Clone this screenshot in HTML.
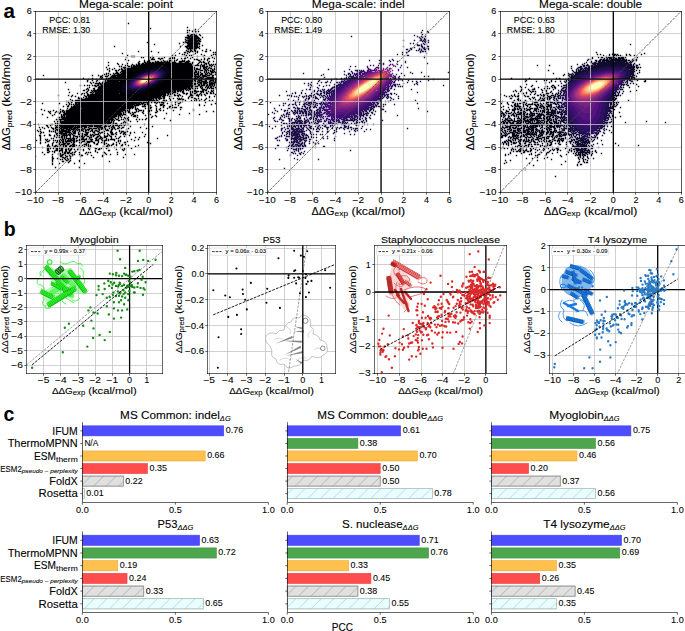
<!DOCTYPE html>
<html><head><meta charset="utf-8"><title>Figure</title><style>html,body{margin:0;padding:0;background:#fff;overflow:hidden}svg{display:block}</style></head>
<body><svg width="685" height="631" viewBox="0 0 685 631" font-family='"Liberation Sans", sans-serif'><defs><clipPath id="ca0"><rect x="35.50" y="11.20" width="181.10" height="181.20"/></clipPath><clipPath id="ca1"><rect x="267.40" y="11.20" width="181.80" height="181.20"/></clipPath><clipPath id="ca2"><rect x="500.00" y="11.20" width="181.30" height="181.20"/></clipPath><clipPath id="cb0"><rect x="26.60" y="245.30" width="135.50" height="128.00"/></clipPath><clipPath id="cb1"><rect x="207.80" y="245.30" width="127.70" height="128.00"/></clipPath><clipPath id="cb2"><rect x="374.30" y="245.30" width="132.50" height="128.00"/></clipPath><clipPath id="cb3"><rect x="549.30" y="245.30" width="136.30" height="128.00"/></clipPath><pattern id="hg" patternUnits="userSpaceOnUse" width="12.6" height="12.6" patternTransform="translate(0 0)"><path d="M-1 13.6L13.6 -1M-7.3 7.3L7.3 -7.3M5.3 19.9L19.9 5.3" stroke="#8c8c8c" stroke-width="0.55"/></pattern><pattern id="hc" patternUnits="userSpaceOnUse" width="12.6" height="12.6"><path d="M-1 13.6L13.6 -1M-7.3 7.3L7.3 -7.3M5.3 19.9L19.9 5.3" stroke="#9ab4b4" stroke-width="0.55"/></pattern></defs><rect width="685" height="631" fill="#fff"/><g clip-path="url(#ca0)"><path fill="#000004" transform="scale(0.2)" d="M639 114h7v7h-7zM934 134h7v7h-7zM749 139h7v7h-7zM974 144h7v7h-7zM934 149h7v7h-7zM944 149h7v7h-7zM964 149h7v7h-7zM959 154h7v7h-7zM974 154h7v7h-7zM989 154h7v7h-7zM934 159h7v7h-7zM934 164h7v7h-7zM944 164h7v7h-7zM979 164h7v7h-7zM954 169h12v7h-12zM969 169h7v7h-7zM994 169h7v7h-7zM934 174h12v7h-12zM949 174h12v7h-12zM964 174h22v7h-22zM999 174h7v7h-7zM939 179h52v7h-52zM924 184h72v7h-72zM1009 184h7v7h-7zM934 189h67v7h-67zM924 194h7v7h-7zM939 194h47v7h-47zM989 194h7v7h-7zM999 194h7v7h-7zM929 199h72v7h-72zM924 204h7v7h-7zM939 204h52v7h-52zM994 204h12v7h-12zM734 209h7v7h-7zM914 209h7v7h-7zM924 209h62v7h-62zM989 209h7v7h-7zM894 214h7v7h-7zM934 214h67v7h-67zM769 219h7v7h-7zM939 219h52v7h-52zM994 219h7v7h-7zM934 224h57v7h-57zM1009 224h7v7h-7zM569 229h7v7h-7zM899 229h7v7h-7zM924 229h67v7h-67zM994 229h7v7h-7zM929 234h12v7h-12zM944 234h52v7h-52zM934 239h52v7h-52zM994 239h7v7h-7zM939 244h7v7h-7zM949 244h7v7h-7zM964 244h12v7h-12zM1029 244h7v7h-7zM929 249h7v7h-7zM949 249h12v7h-12zM969 249h12v7h-12zM1009 249h7v7h-7zM1049 249h7v7h-7zM689 254h7v7h-7zM754 254h7v7h-7zM934 254h12v7h-12zM949 254h7v7h-7zM959 254h12v7h-12zM974 254h7v7h-7zM984 254h7v7h-7zM1024 254h12v7h-12zM789 259h7v7h-7zM919 259h12v7h-12zM944 259h7v7h-7zM984 259h7v7h-7zM1064 259h7v7h-7zM1074 259h7v7h-7zM609 264h7v7h-7zM894 264h7v7h-7zM934 264h7v7h-7zM974 264h7v7h-7zM909 269h7v7h-7zM919 269h7v7h-7zM964 269h7v7h-7zM1004 269h7v7h-7zM1064 269h7v7h-7zM1074 269h7v7h-7zM634 274h7v7h-7zM859 274h7v7h-7zM874 274h7v7h-7zM929 274h7v7h-7zM944 274h7v7h-7zM954 274h7v7h-7zM1019 274h7v7h-7zM1054 274h7v7h-7zM654 279h22v7h-22zM759 279h7v7h-7zM924 279h7v7h-7zM984 279h7v7h-7zM1014 279h7v7h-7zM1079 279h7v7h-7zM629 284h7v7h-7zM704 284h7v7h-7zM714 284h7v7h-7zM749 284h7v7h-7zM764 284h7v7h-7zM819 284h7v7h-7zM859 284h7v7h-7zM869 284h7v7h-7zM934 284h7v7h-7zM959 284h7v7h-7zM1059 284h7v7h-7zM759 289h7v7h-7zM789 289h12v7h-12zM804 289h12v7h-12zM844 289h12v7h-12zM859 289h7v7h-7zM869 289h7v7h-7zM904 289h7v7h-7zM919 289h12v7h-12zM949 289h7v7h-7zM1019 289h7v7h-7zM1039 289h12v7h-12zM1069 289h7v7h-7zM624 294h7v7h-7zM754 294h22v7h-22zM799 294h7v7h-7zM884 294h7v7h-7zM969 294h7v7h-7zM979 294h12v7h-12zM1004 294h7v7h-7zM1019 294h7v7h-7zM1034 294h7v7h-7zM639 299h7v7h-7zM719 299h7v7h-7zM744 299h7v7h-7zM814 299h7v7h-7zM844 299h17v7h-17zM869 299h7v7h-7zM879 299h7v7h-7zM909 299h7v7h-7zM919 299h7v7h-7zM939 299h7v7h-7zM989 299h12v7h-12zM1034 299h7v7h-7zM694 304h7v7h-7zM719 304h7v7h-7zM734 304h17v7h-17zM774 304h7v7h-7zM784 304h12v7h-12zM804 304h7v7h-7zM819 304h12v7h-12zM834 304h7v7h-7zM844 304h7v7h-7zM854 304h7v7h-7zM869 304h7v7h-7zM894 304h32v7h-32zM929 304h22v7h-22zM999 304h7v7h-7zM1014 304h7v7h-7zM1044 304h7v7h-7zM1064 304h7v7h-7zM539 309h7v7h-7zM689 309h7v7h-7zM719 309h12v7h-12zM734 309h22v7h-22zM759 309h12v7h-12zM774 309h77v7h-77zM854 309h27v7h-27zM894 309h17v7h-17zM924 309h22v7h-22zM959 309h12v7h-12zM994 309h7v7h-7zM1004 309h7v7h-7zM1014 309h12v7h-12zM1039 309h7v7h-7zM584 314h7v7h-7zM634 314h7v7h-7zM689 314h12v7h-12zM709 314h12v7h-12zM724 314h232v7h-232zM959 314h7v7h-7zM989 314h7v7h-7zM1024 314h12v7h-12zM1039 314h7v7h-7zM1079 314h7v7h-7zM589 319h7v7h-7zM609 319h7v7h-7zM659 319h7v7h-7zM679 319h7v7h-7zM689 319h12v7h-12zM704 319h257v7h-257zM984 319h7v7h-7zM1004 319h7v7h-7zM1019 319h7v7h-7zM1029 319h7v7h-7zM1044 319h7v7h-7zM1054 319h7v7h-7zM1064 319h7v7h-7zM1074 319h7v7h-7zM539 324h7v7h-7zM624 324h7v7h-7zM634 324h7v7h-7zM654 324h7v7h-7zM664 324h12v7h-12zM679 324h282v7h-282zM964 324h7v7h-7zM974 324h22v7h-22zM999 324h7v7h-7zM1009 324h17v7h-17zM1044 324h12v7h-12zM1059 324h7v7h-7zM594 329h7v7h-7zM604 329h7v7h-7zM639 329h12v7h-12zM654 329h7v7h-7zM664 329h127v7h-127zM824 329h142v7h-142zM999 329h7v7h-7zM1009 329h17v7h-17zM1029 329h12v7h-12zM1054 329h7v7h-7zM1069 329h7v7h-7zM529 334h7v7h-7zM614 334h17v7h-17zM654 334h107v7h-107zM839 334h127v7h-127zM969 334h7v7h-7zM999 334h7v7h-7zM1014 334h22v7h-22zM1044 334h7v7h-7zM1079 334h7v7h-7zM544 339h7v7h-7zM569 339h7v7h-7zM604 339h7v7h-7zM619 339h7v7h-7zM629 339h112v7h-112zM844 339h122v7h-122zM969 339h7v7h-7zM979 339h12v7h-12zM999 339h7v7h-7zM1014 339h12v7h-12zM1029 339h7v7h-7zM1039 339h7v7h-7zM1049 339h12v7h-12zM1069 339h7v7h-7zM534 344h7v7h-7zM559 344h7v7h-7zM594 344h7v7h-7zM604 344h12v7h-12zM624 344h102v7h-102zM849 344h117v7h-117zM969 344h7v7h-7zM979 344h22v7h-22zM1019 344h12v7h-12zM1034 344h7v7h-7zM1059 344h7v7h-7zM1069 344h7v7h-7zM1079 344h7v7h-7zM544 349h7v7h-7zM574 349h12v7h-12zM589 349h7v7h-7zM609 349h107v7h-107zM849 349h122v7h-122zM974 349h7v7h-7zM999 349h17v7h-17zM1024 349h12v7h-12zM1039 349h7v7h-7zM1049 349h7v7h-7zM1059 349h12v7h-12zM544 354h7v7h-7zM579 354h7v7h-7zM604 354h102v7h-102zM849 354h122v7h-122zM974 354h12v7h-12zM989 354h7v7h-7zM1019 354h7v7h-7zM1029 354h7v7h-7zM1049 354h17v7h-17zM1069 354h7v7h-7zM579 359h12v7h-12zM599 359h7v7h-7zM609 359h87v7h-87zM849 359h117v7h-117zM969 359h17v7h-17zM989 359h7v7h-7zM999 359h7v7h-7zM1019 359h7v7h-7zM1029 359h7v7h-7zM1039 359h7v7h-7zM1054 359h17v7h-17zM1074 359h12v7h-12zM529 364h7v7h-7zM539 364h7v7h-7zM564 364h7v7h-7zM574 364h22v7h-22zM604 364h82v7h-82zM849 364h127v7h-127zM984 364h12v7h-12zM1004 364h12v7h-12zM1024 364h7v7h-7zM1034 364h7v7h-7zM1044 364h7v7h-7zM1054 364h7v7h-7zM1079 364h7v7h-7zM519 369h7v7h-7zM529 369h7v7h-7zM549 369h7v7h-7zM569 369h7v7h-7zM584 369h92v7h-92zM844 369h152v7h-152zM999 369h17v7h-17zM1024 369h12v7h-12zM1049 369h12v7h-12zM1074 369h7v7h-7zM214 374h7v7h-7zM459 374h7v7h-7zM489 374h7v7h-7zM509 374h7v7h-7zM539 374h7v7h-7zM559 374h107v7h-107zM844 374h127v7h-127zM974 374h7v7h-7zM989 374h7v7h-7zM999 374h7v7h-7zM1009 374h22v7h-22zM1034 374h17v7h-17zM1059 374h12v7h-12zM499 379h12v7h-12zM524 379h17v7h-17zM554 379h27v7h-27zM584 379h77v7h-77zM839 379h162v7h-162zM1009 379h27v7h-27zM1059 379h7v7h-7zM499 384h7v7h-7zM509 384h7v7h-7zM549 384h102v7h-102zM834 384h127v7h-127zM964 384h7v7h-7zM974 384h7v7h-7zM984 384h12v7h-12zM999 384h12v7h-12zM1014 384h7v7h-7zM1034 384h37v7h-37zM414 389h7v7h-7zM459 389h7v7h-7zM504 389h7v7h-7zM529 389h7v7h-7zM539 389h17v7h-17zM559 389h87v7h-87zM829 389h157v7h-157zM994 389h7v7h-7zM1004 389h12v7h-12zM1024 389h47v7h-47zM1074 389h12v7h-12zM439 394h7v7h-7zM479 394h7v7h-7zM494 394h7v7h-7zM514 394h7v7h-7zM529 394h112v7h-112zM824 394h152v7h-152zM984 394h7v7h-7zM994 394h22v7h-22zM1019 394h7v7h-7zM1029 394h7v7h-7zM1039 394h17v7h-17zM1059 394h12v7h-12zM1079 394h7v7h-7zM434 399h7v7h-7zM459 399h7v7h-7zM484 399h7v7h-7zM524 399h7v7h-7zM534 399h102v7h-102zM819 399h162v7h-162zM989 399h22v7h-22zM1024 399h12v7h-12zM1049 399h22v7h-22zM1074 399h7v7h-7zM434 404h7v7h-7zM479 404h7v7h-7zM514 404h7v7h-7zM524 404h7v7h-7zM534 404h62v7h-62zM599 404h27v7h-27zM814 404h157v7h-157zM974 404h7v7h-7zM984 404h7v7h-7zM994 404h7v7h-7zM1004 404h32v7h-32zM1044 404h12v7h-12zM1064 404h7v7h-7zM1074 404h12v7h-12zM324 409h7v7h-7zM449 409h7v7h-7zM464 409h7v7h-7zM494 409h7v7h-7zM509 409h12v7h-12zM524 409h102v7h-102zM804 409h157v7h-157zM964 409h7v7h-7zM989 409h22v7h-22zM1014 409h27v7h-27zM1044 409h7v7h-7zM1054 409h12v7h-12zM1069 409h12v7h-12zM454 414h7v7h-7zM474 414h32v7h-32zM509 414h112v7h-112zM799 414h167v7h-167zM969 414h12v7h-12zM984 414h7v7h-7zM999 414h12v7h-12zM1014 414h22v7h-22zM1044 414h32v7h-32zM1079 414h7v7h-7zM489 419h7v7h-7zM499 419h12v7h-12zM514 419h102v7h-102zM789 419h172v7h-172zM964 419h17v7h-17zM989 419h12v7h-12zM1004 419h7v7h-7zM1014 419h12v7h-12zM1034 419h7v7h-7zM1044 419h22v7h-22zM1069 419h7v7h-7zM1079 419h7v7h-7zM399 424h7v7h-7zM419 424h7v7h-7zM434 424h7v7h-7zM444 424h7v7h-7zM459 424h7v7h-7zM469 424h12v7h-12zM484 424h12v7h-12zM504 424h107v7h-107zM784 424h187v7h-187zM989 424h12v7h-12zM1004 424h22v7h-22zM1029 424h12v7h-12zM1044 424h12v7h-12zM1059 424h7v7h-7zM1069 424h7v7h-7zM474 429h12v7h-12zM494 429h117v7h-117zM774 429h197v7h-197zM974 429h17v7h-17zM999 429h12v7h-12zM1029 429h7v7h-7zM1039 429h7v7h-7zM1049 429h12v7h-12zM1064 429h7v7h-7zM444 434h7v7h-7zM489 434h122v7h-122zM764 434h187v7h-187zM954 434h7v7h-7zM964 434h7v7h-7zM999 434h7v7h-7zM1009 434h7v7h-7zM1024 434h7v7h-7zM1034 434h12v7h-12zM1049 434h12v7h-12zM1074 434h7v7h-7zM434 439h7v7h-7zM464 439h12v7h-12zM489 439h122v7h-122zM754 439h182v7h-182zM939 439h17v7h-17zM959 439h12v7h-12zM974 439h7v7h-7zM984 439h7v7h-7zM1004 439h12v7h-12zM1034 439h7v7h-7zM1044 439h7v7h-7zM1054 439h17v7h-17zM1079 439h7v7h-7zM339 444h7v7h-7zM429 444h7v7h-7zM439 444h7v7h-7zM469 444h7v7h-7zM484 444h127v7h-127zM744 444h177v7h-177zM924 444h7v7h-7zM934 444h7v7h-7zM944 444h12v7h-12zM964 444h7v7h-7zM1009 444h17v7h-17zM1029 444h7v7h-7zM1079 444h7v7h-7zM414 449h12v7h-12zM439 449h7v7h-7zM454 449h7v7h-7zM464 449h147v7h-147zM729 449h132v7h-132zM864 449h17v7h-17zM884 449h27v7h-27zM914 449h7v7h-7zM929 449h7v7h-7zM939 449h7v7h-7zM969 449h12v7h-12zM1009 449h12v7h-12zM1024 449h12v7h-12zM1054 449h7v7h-7zM1064 449h7v7h-7zM434 454h7v7h-7zM459 454h7v7h-7zM469 454h147v7h-147zM714 454h152v7h-152zM869 454h12v7h-12zM884 454h12v7h-12zM899 454h7v7h-7zM909 454h12v7h-12zM949 454h7v7h-7zM959 454h37v7h-37zM999 454h22v7h-22zM1039 454h7v7h-7zM1054 454h12v7h-12zM344 459h7v7h-7zM429 459h7v7h-7zM449 459h12v7h-12zM464 459h7v7h-7zM474 459h147v7h-147zM699 459h152v7h-152zM854 459h7v7h-7zM864 459h17v7h-17zM909 459h12v7h-12zM949 459h7v7h-7zM959 459h7v7h-7zM979 459h7v7h-7zM1004 459h7v7h-7zM1014 459h7v7h-7zM1029 459h7v7h-7zM1049 459h7v7h-7zM1064 459h7v7h-7zM384 464h7v7h-7zM409 464h7v7h-7zM419 464h7v7h-7zM434 464h7v7h-7zM459 464h7v7h-7zM474 464h122v7h-122zM599 464h37v7h-37zM669 464h162v7h-162zM834 464h12v7h-12zM849 464h17v7h-17zM884 464h7v7h-7zM914 464h12v7h-12zM929 464h12v7h-12zM949 464h7v7h-7zM964 464h17v7h-17zM999 464h7v7h-7zM1029 464h12v7h-12zM1049 464h12v7h-12zM1064 464h7v7h-7zM404 469h7v7h-7zM434 469h12v7h-12zM449 469h382v7h-382zM839 469h7v7h-7zM849 469h12v7h-12zM869 469h7v7h-7zM894 469h7v7h-7zM929 469h7v7h-7zM949 469h12v7h-12zM984 469h7v7h-7zM994 469h7v7h-7zM1004 469h7v7h-7zM1019 469h7v7h-7zM1074 469h7v7h-7zM289 474h7v7h-7zM339 474h7v7h-7zM359 474h7v7h-7zM419 474h7v7h-7zM434 474h377v7h-377zM814 474h17v7h-17zM834 474h7v7h-7zM869 474h12v7h-12zM884 474h12v7h-12zM899 474h7v7h-7zM949 474h22v7h-22zM979 474h17v7h-17zM1004 474h7v7h-7zM1024 474h7v7h-7zM354 479h7v7h-7zM374 479h7v7h-7zM424 479h12v7h-12zM439 479h367v7h-367zM809 479h17v7h-17zM844 479h7v7h-7zM854 479h7v7h-7zM889 479h7v7h-7zM909 479h7v7h-7zM944 479h7v7h-7zM989 479h7v7h-7zM1044 479h7v7h-7zM1069 479h7v7h-7zM389 484h7v7h-7zM414 484h7v7h-7zM429 484h7v7h-7zM439 484h367v7h-367zM814 484h12v7h-12zM939 484h7v7h-7zM954 484h12v7h-12zM1044 484h7v7h-7zM389 489h22v7h-22zM424 489h347v7h-347zM774 489h12v7h-12zM789 489h22v7h-22zM814 489h12v7h-12zM844 489h7v7h-7zM864 489h7v7h-7zM884 489h7v7h-7zM894 489h7v7h-7zM904 489h7v7h-7zM939 489h7v7h-7zM969 489h12v7h-12zM989 489h7v7h-7zM1029 489h7v7h-7zM349 494h7v7h-7zM404 494h357v7h-357zM764 494h7v7h-7zM779 494h7v7h-7zM794 494h7v7h-7zM849 494h7v7h-7zM889 494h17v7h-17zM909 494h12v7h-12zM979 494h7v7h-7zM1004 494h7v7h-7zM1024 494h7v7h-7zM359 499h7v7h-7zM374 499h402v7h-402zM779 499h12v7h-12zM814 499h12v7h-12zM829 499h7v7h-7zM849 499h7v7h-7zM924 499h7v7h-7zM954 499h7v7h-7zM969 499h7v7h-7zM979 499h7v7h-7zM994 499h7v7h-7zM1019 499h7v7h-7zM1044 499h7v7h-7zM1059 499h7v7h-7zM329 504h7v7h-7zM339 504h7v7h-7zM354 504h12v7h-12zM374 504h7v7h-7zM384 504h7v7h-7zM394 504h347v7h-347zM744 504h7v7h-7zM754 504h12v7h-12zM769 504h12v7h-12zM789 504h7v7h-7zM809 504h7v7h-7zM819 504h12v7h-12zM874 504h7v7h-7zM884 504h7v7h-7zM909 504h7v7h-7zM339 509h7v7h-7zM354 509h7v7h-7zM374 509h337v7h-337zM714 509h27v7h-27zM754 509h7v7h-7zM769 509h12v7h-12zM784 509h7v7h-7zM794 509h7v7h-7zM804 509h17v7h-17zM854 509h7v7h-7zM874 509h7v7h-7zM899 509h7v7h-7zM1024 509h7v7h-7zM209 514h7v7h-7zM294 514h7v7h-7zM344 514h7v7h-7zM374 514h12v7h-12zM389 514h312v7h-312zM704 514h17v7h-17zM734 514h12v7h-12zM779 514h7v7h-7zM814 514h7v7h-7zM834 514h7v7h-7zM889 514h12v7h-12zM1074 514h7v7h-7zM329 519h7v7h-7zM344 519h7v7h-7zM354 519h7v7h-7zM364 519h7v7h-7zM374 519h302v7h-302zM679 519h27v7h-27zM709 519h7v7h-7zM719 519h12v7h-12zM734 519h12v7h-12zM799 519h17v7h-17zM854 519h7v7h-7zM874 519h7v7h-7zM994 519h7v7h-7zM1054 519h7v7h-7zM339 524h7v7h-7zM369 524h297v7h-297zM669 524h27v7h-27zM719 524h7v7h-7zM749 524h7v7h-7zM774 524h7v7h-7zM799 524h12v7h-12zM814 524h12v7h-12zM859 524h7v7h-7zM889 524h7v7h-7zM994 524h7v7h-7zM1019 524h7v7h-7zM314 529h7v7h-7zM334 529h12v7h-12zM354 529h7v7h-7zM364 529h307v7h-307zM674 529h7v7h-7zM709 529h22v7h-22zM739 529h7v7h-7zM779 529h7v7h-7zM814 529h7v7h-7zM844 529h12v7h-12zM354 534h317v7h-317zM674 534h7v7h-7zM749 534h12v7h-12zM814 534h7v7h-7zM844 534h7v7h-7zM859 534h7v7h-7zM869 534h17v7h-17zM899 534h12v7h-12zM334 539h7v7h-7zM349 539h57v7h-57zM409 539h247v7h-247zM659 539h7v7h-7zM674 539h7v7h-7zM684 539h7v7h-7zM724 539h7v7h-7zM739 539h7v7h-7zM749 539h7v7h-7zM779 539h7v7h-7zM799 539h7v7h-7zM834 539h7v7h-7zM854 539h7v7h-7zM204 544h7v7h-7zM299 544h7v7h-7zM344 544h282v7h-282zM629 544h7v7h-7zM644 544h7v7h-7zM674 544h12v7h-12zM689 544h7v7h-7zM779 544h7v7h-7zM794 544h7v7h-7zM899 544h7v7h-7zM964 544h7v7h-7zM219 549h7v7h-7zM264 549h7v7h-7zM309 549h12v7h-12zM329 549h312v7h-312zM644 549h7v7h-7zM679 549h7v7h-7zM694 549h17v7h-17zM714 549h7v7h-7zM739 549h12v7h-12zM754 549h7v7h-7zM779 549h7v7h-7zM799 549h7v7h-7zM814 549h7v7h-7zM864 549h7v7h-7zM964 549h7v7h-7zM239 554h7v7h-7zM249 554h7v7h-7zM279 554h7v7h-7zM299 554h7v7h-7zM309 554h7v7h-7zM319 554h7v7h-7zM329 554h287v7h-287zM624 554h12v7h-12zM639 554h12v7h-12zM679 554h7v7h-7zM689 554h7v7h-7zM714 554h7v7h-7zM739 554h12v7h-12zM784 554h7v7h-7zM1029 554h7v7h-7zM1064 554h7v7h-7zM174 559h7v7h-7zM244 559h7v7h-7zM274 559h7v7h-7zM289 559h7v7h-7zM299 559h7v7h-7zM314 559h12v7h-12zM329 559h277v7h-277zM614 559h7v7h-7zM624 559h7v7h-7zM639 559h12v7h-12zM659 559h7v7h-7zM669 559h12v7h-12zM709 559h7v7h-7zM774 559h12v7h-12zM249 564h7v7h-7zM294 564h7v7h-7zM319 564h292v7h-292zM614 564h7v7h-7zM649 564h7v7h-7zM664 564h7v7h-7zM714 564h7v7h-7zM739 564h7v7h-7zM829 564h7v7h-7zM944 564h7v7h-7zM209 569h7v7h-7zM269 569h7v7h-7zM304 569h7v7h-7zM314 569h297v7h-297zM614 569h17v7h-17zM659 569h12v7h-12zM749 569h7v7h-7zM894 569h7v7h-7zM994 569h7v7h-7zM259 574h7v7h-7zM304 574h7v7h-7zM314 574h12v7h-12zM329 574h257v7h-257zM589 574h17v7h-17zM609 574h7v7h-7zM629 574h7v7h-7zM654 574h7v7h-7zM669 574h12v7h-12zM684 574h7v7h-7zM724 574h7v7h-7zM774 574h7v7h-7zM304 579h12v7h-12zM319 579h7v7h-7zM329 579h257v7h-257zM589 579h7v7h-7zM599 579h7v7h-7zM664 579h17v7h-17zM759 579h7v7h-7zM779 579h7v7h-7zM234 584h7v7h-7zM289 584h12v7h-12zM304 584h272v7h-272zM589 584h7v7h-7zM604 584h7v7h-7zM619 584h7v7h-7zM639 584h7v7h-7zM684 584h7v7h-7zM754 584h7v7h-7zM309 589h257v7h-257zM574 589h7v7h-7zM589 589h7v7h-7zM624 589h7v7h-7zM634 589h7v7h-7zM729 589h7v7h-7zM819 589h7v7h-7zM279 594h7v7h-7zM289 594h282v7h-282zM579 594h12v7h-12zM604 594h7v7h-7zM614 594h7v7h-7zM629 594h7v7h-7zM639 594h7v7h-7zM679 594h7v7h-7zM694 594h7v7h-7zM709 594h7v7h-7zM724 594h7v7h-7zM299 599h7v7h-7zM319 599h232v7h-232zM554 599h12v7h-12zM569 599h7v7h-7zM589 599h12v7h-12zM629 599h7v7h-7zM639 599h7v7h-7zM849 599h7v7h-7zM269 604h7v7h-7zM284 604h12v7h-12zM299 604h252v7h-252zM554 604h7v7h-7zM564 604h7v7h-7zM619 604h7v7h-7zM649 604h7v7h-7zM684 604h7v7h-7zM299 609h262v7h-262zM564 609h7v7h-7zM614 609h7v7h-7zM624 609h12v7h-12zM274 614h7v7h-7zM284 614h12v7h-12zM304 614h227v7h-227zM534 614h22v7h-22zM564 614h7v7h-7zM574 614h12v7h-12zM604 614h7v7h-7zM189 619h7v7h-7zM254 619h12v7h-12zM284 619h52v7h-52zM339 619h207v7h-207zM559 619h12v7h-12zM579 619h12v7h-12zM599 619h7v7h-7zM614 619h7v7h-7zM624 619h7v7h-7zM634 619h12v7h-12zM719 619h7v7h-7zM229 624h12v7h-12zM249 624h7v7h-7zM274 624h7v7h-7zM284 624h7v7h-7zM294 624h172v7h-172zM469 624h42v7h-42zM524 624h7v7h-7zM549 624h7v7h-7zM564 624h7v7h-7zM574 624h17v7h-17zM594 624h7v7h-7zM604 624h7v7h-7zM619 624h7v7h-7zM234 629h7v7h-7zM279 629h7v7h-7zM299 629h72v7h-72zM374 629h7v7h-7zM384 629h52v7h-52zM444 629h22v7h-22zM469 629h37v7h-37zM514 629h22v7h-22zM539 629h12v7h-12zM559 629h12v7h-12zM589 629h7v7h-7zM649 629h7v7h-7zM759 629h7v7h-7zM194 634h7v7h-7zM209 634h7v7h-7zM239 634h7v7h-7zM254 634h7v7h-7zM274 634h27v7h-27zM304 634h62v7h-62zM369 634h42v7h-42zM419 634h17v7h-17zM439 634h7v7h-7zM484 634h7v7h-7zM494 634h22v7h-22zM519 634h7v7h-7zM554 634h7v7h-7zM564 634h12v7h-12zM594 634h7v7h-7zM609 634h12v7h-12zM699 634h7v7h-7zM219 639h7v7h-7zM259 639h12v7h-12zM274 639h7v7h-7zM299 639h12v7h-12zM314 639h27v7h-27zM344 639h17v7h-17zM364 639h17v7h-17zM384 639h7v7h-7zM409 639h7v7h-7zM419 639h7v7h-7zM444 639h17v7h-17zM464 639h22v7h-22zM489 639h12v7h-12zM504 639h17v7h-17zM524 639h7v7h-7zM544 639h7v7h-7zM559 639h7v7h-7zM569 639h7v7h-7zM584 639h12v7h-12zM604 639h7v7h-7zM639 639h7v7h-7zM729 639h7v7h-7zM199 644h7v7h-7zM264 644h7v7h-7zM279 644h22v7h-22zM304 644h17v7h-17zM329 644h22v7h-22zM354 644h22v7h-22zM379 644h7v7h-7zM389 644h12v7h-12zM404 644h7v7h-7zM414 644h7v7h-7zM424 644h7v7h-7zM434 644h17v7h-17zM459 644h7v7h-7zM489 644h12v7h-12zM504 644h7v7h-7zM514 644h7v7h-7zM524 644h7v7h-7zM534 644h7v7h-7zM554 644h12v7h-12zM574 644h7v7h-7zM629 644h7v7h-7zM184 649h7v7h-7zM244 649h7v7h-7zM274 649h7v7h-7zM284 649h7v7h-7zM294 649h7v7h-7zM304 649h32v7h-32zM339 649h17v7h-17zM364 649h7v7h-7zM374 649h7v7h-7zM384 649h7v7h-7zM394 649h7v7h-7zM404 649h12v7h-12zM424 649h12v7h-12zM439 649h7v7h-7zM454 649h12v7h-12zM474 649h12v7h-12zM494 649h7v7h-7zM529 649h17v7h-17zM554 649h7v7h-7zM594 649h7v7h-7zM189 654h7v7h-7zM199 654h7v7h-7zM244 654h7v7h-7zM254 654h7v7h-7zM264 654h7v7h-7zM274 654h7v7h-7zM294 654h57v7h-57zM359 654h7v7h-7zM369 654h12v7h-12zM394 654h12v7h-12zM414 654h7v7h-7zM424 654h7v7h-7zM449 654h7v7h-7zM459 654h7v7h-7zM469 654h7v7h-7zM484 654h12v7h-12zM514 654h12v7h-12zM549 654h12v7h-12zM594 654h7v7h-7zM604 654h17v7h-17zM629 654h12v7h-12zM204 659h7v7h-7zM214 659h7v7h-7zM274 659h7v7h-7zM289 659h7v7h-7zM299 659h17v7h-17zM324 659h32v7h-32zM364 659h17v7h-17zM389 659h7v7h-7zM424 659h22v7h-22zM464 659h12v7h-12zM494 659h7v7h-7zM504 659h12v7h-12zM549 659h17v7h-17zM579 659h7v7h-7zM604 659h7v7h-7zM619 659h12v7h-12zM649 659h7v7h-7zM669 659h7v7h-7zM709 659h7v7h-7zM199 664h7v7h-7zM279 664h12v7h-12zM294 664h42v7h-42zM344 664h7v7h-7zM354 664h7v7h-7zM364 664h17v7h-17zM389 664h7v7h-7zM399 664h7v7h-7zM409 664h7v7h-7zM429 664h12v7h-12zM469 664h7v7h-7zM489 664h7v7h-7zM499 664h7v7h-7zM519 664h7v7h-7zM534 664h7v7h-7zM554 664h12v7h-12zM574 664h7v7h-7zM599 664h7v7h-7zM614 664h12v7h-12zM649 664h7v7h-7zM244 669h7v7h-7zM279 669h7v7h-7zM304 669h7v7h-7zM314 669h22v7h-22zM339 669h17v7h-17zM359 669h7v7h-7zM389 669h12v7h-12zM409 669h7v7h-7zM419 669h22v7h-22zM449 669h7v7h-7zM459 669h7v7h-7zM474 669h22v7h-22zM539 669h7v7h-7zM554 669h17v7h-17zM579 669h7v7h-7zM614 669h7v7h-7zM624 669h12v7h-12zM724 669h7v7h-7zM194 674h12v7h-12zM219 674h7v7h-7zM244 674h12v7h-12zM269 674h7v7h-7zM284 674h17v7h-17zM309 674h32v7h-32zM344 674h12v7h-12zM364 674h12v7h-12zM399 674h7v7h-7zM409 674h7v7h-7zM424 674h12v7h-12zM449 674h12v7h-12zM464 674h12v7h-12zM494 674h7v7h-7zM519 674h7v7h-7zM534 674h7v7h-7zM544 674h7v7h-7zM644 674h7v7h-7zM834 674h7v7h-7zM199 679h7v7h-7zM269 679h7v7h-7zM289 679h7v7h-7zM304 679h12v7h-12zM319 679h7v7h-7zM329 679h7v7h-7zM349 679h7v7h-7zM364 679h7v7h-7zM374 679h17v7h-17zM394 679h7v7h-7zM404 679h12v7h-12zM419 679h7v7h-7zM434 679h12v7h-12zM454 679h7v7h-7zM464 679h7v7h-7zM484 679h12v7h-12zM499 679h7v7h-7zM519 679h22v7h-22zM549 679h12v7h-12zM574 679h7v7h-7zM599 679h7v7h-7zM619 679h7v7h-7zM719 679h7v7h-7zM199 684h7v7h-7zM279 684h7v7h-7zM289 684h12v7h-12zM304 684h12v7h-12zM319 684h7v7h-7zM329 684h7v7h-7zM349 684h7v7h-7zM364 684h7v7h-7zM384 684h7v7h-7zM399 684h7v7h-7zM409 684h12v7h-12zM444 684h17v7h-17zM479 684h12v7h-12zM499 684h12v7h-12zM514 684h17v7h-17zM554 684h7v7h-7zM594 684h7v7h-7zM674 684h7v7h-7zM694 684h7v7h-7zM199 689h7v7h-7zM254 689h7v7h-7zM264 689h7v7h-7zM309 689h7v7h-7zM319 689h7v7h-7zM329 689h27v7h-27zM359 689h17v7h-17zM379 689h7v7h-7zM399 689h7v7h-7zM409 689h12v7h-12zM429 689h7v7h-7zM444 689h7v7h-7zM474 689h12v7h-12zM494 689h12v7h-12zM509 689h7v7h-7zM529 689h7v7h-7zM554 689h7v7h-7zM579 689h7v7h-7zM589 689h7v7h-7zM784 689h7v7h-7zM199 694h7v7h-7zM224 694h7v7h-7zM234 694h7v7h-7zM299 694h7v7h-7zM309 694h12v7h-12zM324 694h7v7h-7zM339 694h7v7h-7zM349 694h12v7h-12zM364 694h12v7h-12zM394 694h7v7h-7zM404 694h32v7h-32zM449 694h17v7h-17zM479 694h7v7h-7zM489 694h7v7h-7zM504 694h7v7h-7zM529 694h7v7h-7zM539 694h7v7h-7zM549 694h27v7h-27zM654 694h7v7h-7zM689 694h7v7h-7zM179 699h7v7h-7zM199 699h7v7h-7zM229 699h7v7h-7zM244 699h7v7h-7zM264 699h7v7h-7zM274 699h7v7h-7zM284 699h7v7h-7zM294 699h7v7h-7zM304 699h7v7h-7zM314 699h7v7h-7zM324 699h7v7h-7zM334 699h42v7h-42zM379 699h12v7h-12zM394 699h12v7h-12zM419 699h7v7h-7zM454 699h7v7h-7zM474 699h22v7h-22zM509 699h27v7h-27zM539 699h7v7h-7zM569 699h7v7h-7zM589 699h7v7h-7zM599 699h7v7h-7zM669 699h7v7h-7zM234 704h12v7h-12zM284 704h7v7h-7zM294 704h7v7h-7zM309 704h12v7h-12zM324 704h32v7h-32zM364 704h12v7h-12zM379 704h7v7h-7zM409 704h17v7h-17zM434 704h32v7h-32zM489 704h7v7h-7zM514 704h12v7h-12zM589 704h7v7h-7zM599 704h7v7h-7zM634 704h7v7h-7zM199 709h7v7h-7zM224 709h7v7h-7zM264 709h7v7h-7zM279 709h7v7h-7zM289 709h7v7h-7zM299 709h7v7h-7zM309 709h12v7h-12zM329 709h7v7h-7zM354 709h7v7h-7zM364 709h12v7h-12zM394 709h7v7h-7zM404 709h7v7h-7zM434 709h17v7h-17zM464 709h12v7h-12zM489 709h7v7h-7zM504 709h7v7h-7zM514 709h12v7h-12zM579 709h7v7h-7zM619 709h12v7h-12zM734 709h12v7h-12zM199 714h7v7h-7zM259 714h7v7h-7zM294 714h7v7h-7zM314 714h17v7h-17zM334 714h17v7h-17zM364 714h7v7h-7zM399 714h7v7h-7zM429 714h7v7h-7zM469 714h7v7h-7zM484 714h7v7h-7zM514 714h12v7h-12zM529 714h7v7h-7zM564 714h7v7h-7zM594 714h7v7h-7zM749 714h7v7h-7zM239 719h7v7h-7zM259 719h7v7h-7zM289 719h12v7h-12zM304 719h22v7h-22zM334 719h12v7h-12zM359 719h17v7h-17zM419 719h17v7h-17zM439 719h7v7h-7zM479 719h12v7h-12zM519 719h7v7h-7zM539 719h7v7h-7zM559 719h12v7h-12zM579 719h7v7h-7zM609 719h7v7h-7zM624 719h7v7h-7zM234 724h12v7h-12zM259 724h7v7h-7zM274 724h12v7h-12zM299 724h7v7h-7zM314 724h7v7h-7zM324 724h12v7h-12zM349 724h12v7h-12zM364 724h12v7h-12zM379 724h7v7h-7zM394 724h7v7h-7zM409 724h7v7h-7zM429 724h7v7h-7zM439 724h7v7h-7zM449 724h7v7h-7zM534 724h7v7h-7zM544 724h7v7h-7zM554 724h7v7h-7zM579 724h7v7h-7zM604 724h12v7h-12zM639 724h7v7h-7zM689 724h7v7h-7zM234 729h7v7h-7zM244 729h7v7h-7zM269 729h12v7h-12zM284 729h12v7h-12zM314 729h7v7h-7zM324 729h12v7h-12zM344 729h12v7h-12zM359 729h17v7h-17zM419 729h7v7h-7zM439 729h7v7h-7zM449 729h7v7h-7zM514 729h7v7h-7zM529 729h12v7h-12zM674 729h7v7h-7zM209 734h7v7h-7zM234 734h12v7h-12zM249 734h7v7h-7zM264 734h7v7h-7zM274 734h7v7h-7zM289 734h32v7h-32zM324 734h12v7h-12zM344 734h7v7h-7zM359 734h7v7h-7zM389 734h7v7h-7zM439 734h7v7h-7zM449 734h7v7h-7zM539 734h7v7h-7zM569 734h7v7h-7zM599 734h7v7h-7zM234 739h12v7h-12zM249 739h7v7h-7zM264 739h7v7h-7zM279 739h12v7h-12zM294 739h7v7h-7zM304 739h12v7h-12zM339 739h7v7h-7zM354 739h7v7h-7zM439 739h7v7h-7zM474 739h12v7h-12zM494 739h7v7h-7zM504 739h7v7h-7zM529 739h7v7h-7zM619 739h7v7h-7zM654 739h7v7h-7zM234 744h12v7h-12zM279 744h12v7h-12zM304 744h12v7h-12zM324 744h12v7h-12zM339 744h7v7h-7zM349 744h12v7h-12zM369 744h7v7h-7zM384 744h7v7h-7zM399 744h7v7h-7zM414 744h7v7h-7zM444 744h7v7h-7zM489 744h12v7h-12zM579 744h7v7h-7zM609 744h7v7h-7zM619 744h7v7h-7zM234 749h12v7h-12zM274 749h17v7h-17zM294 749h22v7h-22zM324 749h12v7h-12zM344 749h12v7h-12zM414 749h7v7h-7zM474 749h7v7h-7zM539 749h12v7h-12zM614 749h7v7h-7zM244 754h7v7h-7zM259 754h7v7h-7zM269 754h7v7h-7zM294 754h7v7h-7zM309 754h7v7h-7zM324 754h12v7h-12zM344 754h7v7h-7zM374 754h7v7h-7zM474 754h7v7h-7zM209 759h7v7h-7zM234 759h12v7h-12zM269 759h7v7h-7zM309 759h7v7h-7zM319 759h12v7h-12zM334 759h17v7h-17zM359 759h7v7h-7zM369 759h7v7h-7zM394 759h7v7h-7zM429 759h7v7h-7zM439 759h7v7h-7zM449 759h7v7h-7zM484 759h7v7h-7zM514 759h12v7h-12zM584 759h7v7h-7zM289 764h7v7h-7zM299 764h7v7h-7zM319 764h12v7h-12zM334 764h12v7h-12zM349 764h12v7h-12zM424 764h7v7h-7zM524 764h7v7h-7zM219 769h7v7h-7zM259 769h7v7h-7zM289 769h7v7h-7zM299 769h7v7h-7zM309 769h12v7h-12zM359 769h7v7h-7zM369 769h7v7h-7zM394 769h12v7h-12zM434 769h7v7h-7zM529 769h7v7h-7zM549 769h7v7h-7zM584 769h7v7h-7zM624 769h7v7h-7zM669 769h7v7h-7zM299 774h17v7h-17zM324 774h7v7h-7zM344 774h7v7h-7zM359 774h7v7h-7zM404 774h12v7h-12zM454 774h7v7h-7zM509 774h12v7h-12zM174 779h7v7h-7zM259 779h7v7h-7zM299 779h12v7h-12zM329 779h12v7h-12zM349 779h7v7h-7zM399 779h7v7h-7zM509 779h7v7h-7zM259 784h7v7h-7zM309 784h12v7h-12zM324 784h7v7h-7zM349 784h7v7h-7zM464 784h7v7h-7zM614 784h7v7h-7zM259 789h12v7h-12zM284 789h12v7h-12zM319 789h7v7h-7zM334 789h7v7h-7zM349 789h7v7h-7zM259 794h7v7h-7zM299 794h7v7h-7zM309 794h7v7h-7zM324 794h7v7h-7zM339 794h7v7h-7zM259 799h7v7h-7zM329 799h12v7h-12zM349 799h7v7h-7zM394 799h7v7h-7zM259 804h7v7h-7zM309 804h12v7h-12zM344 804h7v7h-7zM394 804h7v7h-7zM544 804h7v7h-7zM339 809h7v7h-7zM259 814h7v7h-7zM294 814h7v7h-7zM369 814h7v7h-7zM419 814h7v7h-7zM259 819h7v7h-7zM274 834h7v7h-7zM394 834h7v7h-7z"/><path fill="#060518" transform="scale(0.2)" d="M789 329h37v7h-37zM759 334h82v7h-82zM739 339h107v7h-107zM724 344h47v7h-47zM809 344h42v7h-42zM714 349h37v7h-37zM824 349h27v7h-27zM704 354h27v7h-27zM824 354h27v7h-27zM694 359h27v7h-27zM829 359h22v7h-22zM684 364h22v7h-22zM829 364h22v7h-22zM674 369h22v7h-22zM824 369h22v7h-22zM664 374h22v7h-22zM824 374h22v7h-22zM659 379h22v7h-22zM819 379h22v7h-22zM649 384h22v7h-22zM819 384h17v7h-17zM644 389h22v7h-22zM814 389h17v7h-17zM639 394h17v7h-17zM809 394h17v7h-17zM634 399h17v7h-17zM799 399h22v7h-22zM624 404h22v7h-22zM794 404h22v7h-22zM624 409h17v7h-17zM789 409h17v7h-17zM619 414h22v7h-22zM779 414h22v7h-22zM614 419h22v7h-22zM769 419h22v7h-22zM609 424h27v7h-27zM759 424h27v7h-27zM609 429h22v7h-22zM749 429h27v7h-27zM609 434h27v7h-27zM739 434h27v7h-27zM609 439h27v7h-27zM724 439h32v7h-32zM609 444h32v7h-32zM709 444h37v7h-37zM609 449h47v7h-47zM684 449h47v7h-47zM614 454h102v7h-102zM619 459h82v7h-82zM634 464h37v7h-37z"/><path fill="#110c2f" transform="scale(0.2)" d="M769 344h42v7h-42zM749 349h77v7h-77zM729 354h22v7h-22zM809 354h17v7h-17zM719 359h17v7h-17zM814 359h17v7h-17zM704 364h17v7h-17zM814 364h17v7h-17zM694 369h17v7h-17zM814 369h12v7h-12zM684 374h17v7h-17zM814 374h12v7h-12zM679 379h12v7h-12zM809 379h12v7h-12zM669 384h12v7h-12zM809 384h12v7h-12zM664 389h12v7h-12zM804 389h12v7h-12zM654 394h12v7h-12zM799 394h12v7h-12zM649 399h12v7h-12zM789 399h12v7h-12zM644 404h12v7h-12zM784 404h12v7h-12zM639 409h12v7h-12zM779 409h12v7h-12zM639 414h12v7h-12zM769 414h12v7h-12zM634 419h12v7h-12zM759 419h12v7h-12zM634 424h12v7h-12zM749 424h12v7h-12zM629 429h17v7h-17zM734 429h17v7h-17zM634 434h12v7h-12zM724 434h17v7h-17zM634 439h22v7h-22zM704 439h22v7h-22zM639 444h72v7h-72zM654 449h32v7h-32z"/><path fill="#1e1149" transform="scale(0.2)" d="M749 354h62v7h-62zM734 359h12v7h-12zM799 359h17v7h-17zM719 364h12v7h-12zM804 364h12v7h-12zM709 369h12v7h-12zM809 369h7v7h-7zM699 374h7v7h-7zM804 374h12v7h-12zM689 379h7v7h-7zM804 379h7v7h-7zM679 384h12v7h-12zM799 384h12v7h-12zM674 389h7v7h-7zM794 389h12v7h-12zM664 394h12v7h-12zM789 394h12v7h-12zM659 399h12v7h-12zM784 399h7v7h-7zM654 404h12v7h-12zM779 404h7v7h-7zM649 409h12v7h-12zM769 409h12v7h-12zM649 414h7v7h-7zM759 414h12v7h-12zM644 419h12v7h-12zM749 419h12v7h-12zM644 424h12v7h-12zM739 424h12v7h-12zM644 429h12v7h-12zM724 429h12v7h-12zM644 434h17v7h-17zM709 434h17v7h-17zM654 439h52v7h-52z"/><path fill="#2f1163" transform="scale(0.2)" d="M744 359h22v7h-22zM784 359h17v7h-17zM729 364h12v7h-12zM799 364h7v7h-7zM719 369h7v7h-7zM799 369h12v7h-12zM704 374h12v7h-12zM799 374h7v7h-7zM694 379h12v7h-12zM799 379h7v7h-7zM689 384h7v7h-7zM794 384h7v7h-7zM679 389h7v7h-7zM789 389h7v7h-7zM674 394h7v7h-7zM784 394h7v7h-7zM669 399h7v7h-7zM779 399h7v7h-7zM664 404h7v7h-7zM769 404h12v7h-12zM659 409h7v7h-7zM764 409h7v7h-7zM654 414h7v7h-7zM754 414h7v7h-7zM654 419h7v7h-7zM744 419h7v7h-7zM654 424h7v7h-7zM729 424h12v7h-12zM654 429h12v7h-12zM714 429h12v7h-12zM659 434h52v7h-52z"/><path fill="#420f75" transform="scale(0.2)" d="M764 359h22v7h-22zM739 364h12v7h-12zM789 364h12v7h-12zM724 369h12v7h-12zM794 369h7v7h-7zM714 374h7v7h-7zM794 374h7v7h-7zM704 379h7v7h-7zM794 379h7v7h-7zM694 384h7v7h-7zM789 384h7v7h-7zM684 389h7v7h-7zM784 389h7v7h-7zM679 394h7v7h-7zM779 394h7v7h-7zM674 399h7v7h-7zM774 399h7v7h-7zM669 404h7v7h-7zM664 409h7v7h-7zM759 409h7v7h-7zM659 414h7v7h-7zM749 414h7v7h-7zM659 419h7v7h-7zM739 419h7v7h-7zM659 424h7v7h-7zM724 424h7v7h-7zM664 429h12v7h-12zM704 429h12v7h-12z"/><path fill="#54137d" transform="scale(0.2)" d="M749 364h42v7h-42zM734 369h7v7h-7zM784 369h12v7h-12zM719 374h7v7h-7zM789 374h7v7h-7zM709 379h7v7h-7zM789 379h7v7h-7zM699 384h7v7h-7zM784 384h7v7h-7zM689 389h7v7h-7zM684 394h7v7h-7zM774 394h7v7h-7zM769 399h7v7h-7zM764 404h7v7h-7zM754 409h7v7h-7zM664 414h7v7h-7zM744 414h7v7h-7zM664 419h7v7h-7zM734 419h7v7h-7zM664 424h7v7h-7zM714 424h12v7h-12zM674 429h32v7h-32z"/><path fill="#651a80" transform="scale(0.2)" d="M739 369h12v7h-12zM779 369h7v7h-7zM724 374h7v7h-7zM784 374h7v7h-7zM784 379h7v7h-7zM694 389h7v7h-7zM779 389h7v7h-7zM679 399h7v7h-7zM674 404h7v7h-7zM759 404h7v7h-7zM669 409h7v7h-7zM749 409h7v7h-7zM669 414h7v7h-7zM739 414h7v7h-7zM669 419h7v7h-7zM729 419h7v7h-7zM669 424h12v7h-12zM709 424h7v7h-7z"/><path fill="#782281" transform="scale(0.2)" d="M749 369h12v7h-12zM769 369h12v7h-12zM729 374h7v7h-7zM779 374h7v7h-7zM714 379h7v7h-7zM779 379h7v7h-7zM704 384h7v7h-7zM779 384h7v7h-7zM774 389h7v7h-7zM689 394h7v7h-7zM769 394h7v7h-7zM764 399h7v7h-7zM754 404h7v7h-7zM674 409h7v7h-7zM734 414h7v7h-7zM724 419h7v7h-7zM679 424h12v7h-12zM699 424h12v7h-12z"/><path fill="#892881" transform="scale(0.2)" d="M759 369h12v7h-12zM734 374h7v7h-7zM774 374h7v7h-7zM719 379h7v7h-7zM709 384h7v7h-7zM774 384h7v7h-7zM699 389h7v7h-7zM684 399h7v7h-7zM759 399h7v7h-7zM679 404h7v7h-7zM744 409h7v7h-7zM674 414h7v7h-7zM674 419h7v7h-7zM719 419h7v7h-7zM689 424h12v7h-12z"/><path fill="#9b2e7f" transform="scale(0.2)" d="M739 374h7v7h-7zM769 374h7v7h-7zM724 379h7v7h-7zM774 379h7v7h-7zM769 389h7v7h-7zM694 394h7v7h-7zM764 394h7v7h-7zM749 404h7v7h-7zM679 409h7v7h-7zM739 409h7v7h-7zM729 414h7v7h-7zM679 419h7v7h-7zM714 419h7v7h-7z"/><path fill="#ad347c" transform="scale(0.2)" d="M744 374h27v7h-27zM769 379h7v7h-7zM714 384h7v7h-7zM769 384h7v7h-7zM704 389h7v7h-7zM689 399h7v7h-7zM684 404h7v7h-7zM679 414h7v7h-7zM724 414h7v7h-7zM684 419h12v7h-12zM704 419h12v7h-12z"/><path fill="#bf3a77" transform="scale(0.2)" d="M729 379h7v7h-7zM764 389h7v7h-7zM699 394h7v7h-7zM759 394h7v7h-7zM754 399h7v7h-7zM684 409h7v7h-7zM734 409h7v7h-7zM684 414h7v7h-7zM694 419h12v7h-12z"/><path fill="#d0416f" transform="scale(0.2)" d="M734 379h7v7h-7zM764 379h7v7h-7zM719 384h7v7h-7zM764 384h7v7h-7zM709 389h7v7h-7zM694 399h7v7h-7zM689 404h7v7h-7zM744 404h7v7h-7zM719 414h7v7h-7z"/><path fill="#e04c67" transform="scale(0.2)" d="M739 379h7v7h-7zM759 379h7v7h-7zM759 389h7v7h-7zM749 399h7v7h-7zM689 409h7v7h-7zM689 414h7v7h-7zM714 414h7v7h-7z"/><path fill="#ed5a5f" transform="scale(0.2)" d="M744 379h17v7h-17zM724 384h7v7h-7zM759 384h7v7h-7zM704 394h7v7h-7zM754 394h7v7h-7zM739 404h7v7h-7zM729 409h7v7h-7zM694 414h7v7h-7zM709 414h7v7h-7z"/><path fill="#f66e5c" transform="scale(0.2)" d="M714 389h7v7h-7zM699 399h7v7h-7zM694 404h7v7h-7zM699 414h12v7h-12z"/><path fill="#fb835f" transform="scale(0.2)" d="M729 384h7v7h-7zM754 384h7v7h-7zM754 389h7v7h-7zM744 399h7v7h-7zM694 409h7v7h-7zM724 409h7v7h-7z"/><path fill="#fd9869" transform="scale(0.2)" d="M734 384h7v7h-7zM749 384h7v7h-7zM719 389h7v7h-7zM709 394h7v7h-7zM749 394h7v7h-7zM734 404h7v7h-7zM699 409h7v7h-7zM719 409h7v7h-7z"/><path fill="#feac76" transform="scale(0.2)" d="M739 384h12v7h-12zM749 389h7v7h-7zM704 399h7v7h-7zM699 404h7v7h-7zM714 409h7v7h-7z"/><path fill="#fec185" transform="scale(0.2)" d="M724 389h7v7h-7zM744 394h7v7h-7zM739 399h7v7h-7zM729 404h7v7h-7zM704 409h12v7h-12z"/><path fill="#fed597" transform="scale(0.2)" d="M744 389h7v7h-7zM714 394h7v7h-7zM704 404h7v7h-7z"/><path fill="#fde9aa" transform="scale(0.2)" d="M729 389h17v7h-17zM709 399h7v7h-7zM734 399h7v7h-7zM724 404h7v7h-7z"/><path fill="#fcfdbf" transform="scale(0.2)" d="M719 394h27v7h-27zM714 399h22v7h-22zM709 404h17v7h-17z"/></g><path d="M35.50 11.20V192.40M58.50 11.20V192.40M80.50 11.20V192.40M103.50 11.20V192.40M126.50 11.20V192.40M148.50 11.20V192.40M171.50 11.20V192.40M193.50 11.20V192.40M216.50 11.20V192.40M35.50 192.50H216.60M35.50 169.50H216.60M35.50 147.50H216.60M35.50 124.50H216.60M35.50 101.50H216.60M35.50 79.50H216.60M35.50 56.50H216.60M35.50 33.50H216.60M35.50 11.50H216.60" stroke="#c4c4c4" stroke-opacity="1.0" stroke-width="0.8" fill="none"/><path d="M35.50 192.40L216.60 11.20" stroke="#4a4a4a" stroke-width="0.85" stroke-dasharray="2.6 1.1" fill="none"/><path d="M148.69 11.20V192.40M35.50 79.15H216.60" stroke="#000" stroke-width="1.3" fill="none"/><path d="M35.50 11.50V192.50M216.50 11.50V192.50M35.50 11.50H216.50M35.50 192.50H216.50" stroke="#000" stroke-width="0.6" fill="none" stroke-linecap="square"/><path d="M35.50 192.50v2.2M58.50 192.50v2.2M80.50 192.50v2.2M103.50 192.50v2.2M126.50 192.50v2.2M148.50 192.50v2.2M171.50 192.50v2.2M193.50 192.50v2.2M216.50 192.50v2.2M35.50 192.50h-2.2M35.50 169.50h-2.2M35.50 147.50h-2.2M35.50 124.50h-2.2M35.50 101.50h-2.2M35.50 79.50h-2.2M35.50 56.50h-2.2M35.50 33.50h-2.2M35.50 11.50h-2.2" stroke="#000" stroke-width="0.6" fill="none"/><text x="35.50" y="202.60" font-size="8.40" text-anchor="middle" stroke="#000" stroke-width="0.08" textLength="16.67" lengthAdjust="spacingAndGlyphs">−10</text><text x="58.14" y="202.60" font-size="8.40" text-anchor="middle" stroke="#000" stroke-width="0.08" textLength="11.65" lengthAdjust="spacingAndGlyphs">−8</text><text x="80.78" y="202.60" font-size="8.40" text-anchor="middle" stroke="#000" stroke-width="0.08" textLength="11.65" lengthAdjust="spacingAndGlyphs">−6</text><text x="103.41" y="202.60" font-size="8.40" text-anchor="middle" stroke="#000" stroke-width="0.08" textLength="11.65" lengthAdjust="spacingAndGlyphs">−4</text><text x="126.05" y="202.60" font-size="8.40" text-anchor="middle" stroke="#000" stroke-width="0.08" textLength="11.65" lengthAdjust="spacingAndGlyphs">−2</text><text x="148.69" y="202.60" font-size="8.40" text-anchor="middle" stroke="#000" stroke-width="0.08" textLength="5.03" lengthAdjust="spacingAndGlyphs">0</text><text x="171.32" y="202.60" font-size="8.40" text-anchor="middle" stroke="#000" stroke-width="0.08" textLength="5.03" lengthAdjust="spacingAndGlyphs">2</text><text x="193.96" y="202.60" font-size="8.40" text-anchor="middle" stroke="#000" stroke-width="0.08" textLength="5.03" lengthAdjust="spacingAndGlyphs">4</text><text x="216.60" y="202.60" font-size="8.40" text-anchor="middle" stroke="#000" stroke-width="0.08" textLength="5.03" lengthAdjust="spacingAndGlyphs">6</text><text x="31.90" y="195.41" font-size="8.40" text-anchor="end" stroke="#000" stroke-width="0.08" textLength="16.67" lengthAdjust="spacingAndGlyphs">−10</text><text x="31.90" y="172.76" font-size="8.40" text-anchor="end" stroke="#000" stroke-width="0.08" textLength="11.65" lengthAdjust="spacingAndGlyphs">−8</text><text x="31.90" y="150.11" font-size="8.40" text-anchor="end" stroke="#000" stroke-width="0.08" textLength="11.65" lengthAdjust="spacingAndGlyphs">−6</text><text x="31.90" y="127.46" font-size="8.40" text-anchor="end" stroke="#000" stroke-width="0.08" textLength="11.65" lengthAdjust="spacingAndGlyphs">−4</text><text x="31.90" y="104.81" font-size="8.40" text-anchor="end" stroke="#000" stroke-width="0.08" textLength="11.65" lengthAdjust="spacingAndGlyphs">−2</text><text x="31.90" y="82.16" font-size="8.40" text-anchor="end" stroke="#000" stroke-width="0.08" textLength="5.03" lengthAdjust="spacingAndGlyphs">0</text><text x="31.90" y="59.51" font-size="8.40" text-anchor="end" stroke="#000" stroke-width="0.08" textLength="5.03" lengthAdjust="spacingAndGlyphs">2</text><text x="31.90" y="36.86" font-size="8.40" text-anchor="end" stroke="#000" stroke-width="0.08" textLength="5.03" lengthAdjust="spacingAndGlyphs">4</text><text x="31.90" y="14.21" font-size="8.40" text-anchor="end" stroke="#000" stroke-width="0.08" textLength="5.03" lengthAdjust="spacingAndGlyphs">6</text><text x="126.05" y="8.00" font-size="10.60" text-anchor="middle" stroke="#000" stroke-width="0.10" textLength="94.00" lengthAdjust="spacingAndGlyphs">Mega-scale: point</text><text x="90.30" y="23.00" font-size="8.40" text-anchor="end" stroke="#000" stroke-width="0.08" textLength="41.00" lengthAdjust="spacingAndGlyphs">PCC: 0.81</text><text x="90.30" y="33.20" font-size="8.40" text-anchor="end" stroke="#000" stroke-width="0.08" textLength="47.93" lengthAdjust="spacingAndGlyphs">RMSE: 1.30</text><g transform="translate(126.05 214.80)"><text x="-46.75" y="0.00" font-size="10.70" stroke="#000" stroke-width="0.10" textLength="22.93" lengthAdjust="spacingAndGlyphs">ΔΔG</text><text x="-23.82" y="1.60" font-size="7.49" stroke="#000" stroke-width="0.08" textLength="13.66" lengthAdjust="spacingAndGlyphs">exp</text><text x="-6.76" y="0.00" font-size="10.70" stroke="#000" stroke-width="0.10" textLength="53.51" lengthAdjust="spacingAndGlyphs">(kcal/mol)</text></g><g transform="translate(9.90 101.80) rotate(-90)"><text x="-48.44" y="0.00" font-size="10.70" stroke="#000" stroke-width="0.10" textLength="22.93" lengthAdjust="spacingAndGlyphs">ΔΔG</text><text x="-25.50" y="1.60" font-size="7.49" stroke="#000" stroke-width="0.08" textLength="17.03" lengthAdjust="spacingAndGlyphs">pred</text><text x="-5.07" y="0.00" font-size="10.70" stroke="#000" stroke-width="0.10" textLength="53.51" lengthAdjust="spacingAndGlyphs">(kcal/mol)</text></g><g clip-path="url(#ca1)"><path fill="#1e1149" transform="scale(0.2)" d="M2109 149h7v7h-7zM2134 154h7v7h-7zM2104 159h7v7h-7zM2139 159h7v7h-7zM2104 164h7v7h-7zM2109 169h7v7h-7zM2069 174h7v7h-7zM1754 179h7v7h-7zM2084 179h7v7h-7zM2104 179h7v7h-7zM2124 179h7v7h-7zM2094 184h7v7h-7zM2109 184h7v7h-7zM2099 189h7v7h-7zM2119 189h7v7h-7zM2104 194h7v7h-7zM2119 194h12v7h-12zM2014 199h7v7h-7zM2069 199h7v7h-7zM2099 199h12v7h-12zM2114 199h7v7h-7zM2124 199h7v7h-7zM2139 199h7v7h-7zM2109 204h7v7h-7zM2119 204h7v7h-7zM2129 204h7v7h-7zM2124 209h7v7h-7zM2139 209h7v7h-7zM2049 214h7v7h-7zM2064 214h7v7h-7zM2114 214h7v7h-7zM2084 219h7v7h-7zM2104 219h7v7h-7zM2119 219h7v7h-7zM2129 219h7v7h-7zM2084 224h17v7h-17zM2104 224h7v7h-7zM2014 229h7v7h-7zM2104 229h12v7h-12zM2134 229h12v7h-12zM2069 234h7v7h-7zM2109 234h7v7h-7zM2119 234h7v7h-7zM2049 239h12v7h-12zM2094 239h7v7h-7zM2114 239h12v7h-12zM2129 239h7v7h-7zM2139 239h7v7h-7zM2029 244h12v7h-12zM2054 244h7v7h-7zM2094 244h7v7h-7zM2104 244h7v7h-7zM2119 244h12v7h-12zM2139 244h7v7h-7zM2044 249h7v7h-7zM2079 249h7v7h-7zM2089 249h7v7h-7zM2104 249h7v7h-7zM2039 254h7v7h-7zM2099 254h7v7h-7zM2109 254h12v7h-12zM2124 254h7v7h-7zM2009 259h7v7h-7zM2029 259h7v7h-7zM2099 259h7v7h-7zM2129 264h7v7h-7zM1984 269h7v7h-7zM2009 269h7v7h-7zM2034 274h12v7h-12zM2119 279h7v7h-7zM2119 284h7v7h-7zM1844 299h7v7h-7zM1894 299h7v7h-7zM2134 314h7v7h-7zM1749 329h7v7h-7zM1774 329h7v7h-7zM2034 334h7v7h-7zM1639 344h7v7h-7zM1744 344h7v7h-7zM1774 349h17v7h-17zM1719 354h7v7h-7zM1754 354h7v7h-7zM1784 354h7v7h-7zM1759 359h7v7h-7zM2049 359h7v7h-7zM2104 359h7v7h-7zM2239 359h7v7h-7zM1514 364h7v7h-7zM1739 364h12v7h-12zM1759 364h7v7h-7zM2059 364h7v7h-7zM1614 369h7v7h-7zM1719 369h7v7h-7zM1739 369h7v7h-7zM1749 369h7v7h-7zM1604 374h7v7h-7zM1729 374h7v7h-7zM1749 374h7v7h-7zM2019 374h7v7h-7zM1744 379h7v7h-7zM2119 379h7v7h-7zM2139 379h7v7h-7zM1619 384h7v7h-7zM1729 384h7v7h-7zM1674 389h7v7h-7zM1704 389h7v7h-7zM1719 389h7v7h-7zM1729 389h7v7h-7zM1654 394h7v7h-7zM1679 394h7v7h-7zM1704 394h12v7h-12zM1999 394h7v7h-7zM2164 394h7v7h-7zM1594 399h7v7h-7zM1654 399h7v7h-7zM2009 399h7v7h-7zM2039 399h7v7h-7zM2139 399h7v7h-7zM1589 404h7v7h-7zM1634 404h7v7h-7zM1704 404h12v7h-12zM2059 404h7v7h-7zM2079 404h7v7h-7zM2099 404h7v7h-7zM1554 409h7v7h-7zM1604 409h7v7h-7zM1624 409h12v7h-12zM1649 409h7v7h-7zM1679 409h12v7h-12zM1694 409h7v7h-7zM2034 409h7v7h-7zM2084 409h7v7h-7zM1519 414h7v7h-7zM1539 414h7v7h-7zM1584 414h7v7h-7zM2014 414h7v7h-7zM2079 414h7v7h-7zM1549 419h7v7h-7zM1669 419h7v7h-7zM1689 419h7v7h-7zM1984 419h7v7h-7zM1994 419h7v7h-7zM2069 419h7v7h-7zM2084 419h7v7h-7zM1539 424h7v7h-7zM1554 424h7v7h-7zM1594 424h7v7h-7zM1629 424h7v7h-7zM1644 424h7v7h-7zM1679 424h12v7h-12zM1974 424h7v7h-7zM2214 424h7v7h-7zM1559 429h7v7h-7zM1614 429h7v7h-7zM1669 429h7v7h-7zM1679 429h7v7h-7zM1974 429h7v7h-7zM1989 429h7v7h-7zM1999 429h7v7h-7zM2009 429h7v7h-7zM1549 434h7v7h-7zM1584 434h7v7h-7zM1659 434h17v7h-17zM1589 439h7v7h-7zM1654 439h12v7h-12zM1529 444h7v7h-7zM1544 444h12v7h-12zM1609 444h7v7h-7zM1619 444h7v7h-7zM1639 444h7v7h-7zM1649 444h12v7h-12zM1969 444h7v7h-7zM2054 444h7v7h-7zM1509 449h7v7h-7zM1569 449h7v7h-7zM1589 449h7v7h-7zM1599 449h7v7h-7zM1614 449h7v7h-7zM1634 449h22v7h-22zM1429 454h7v7h-7zM1559 454h7v7h-7zM1569 454h7v7h-7zM1584 454h7v7h-7zM1599 454h12v7h-12zM1619 454h7v7h-7zM1629 454h7v7h-7zM1639 454h12v7h-12zM1474 459h7v7h-7zM1504 459h7v7h-7zM1559 459h7v7h-7zM1614 459h12v7h-12zM1629 459h12v7h-12zM1644 459h7v7h-7zM2084 459h7v7h-7zM1459 464h7v7h-7zM1474 464h7v7h-7zM1504 464h7v7h-7zM1524 464h7v7h-7zM1554 464h7v7h-7zM1579 464h12v7h-12zM1599 464h12v7h-12zM1619 464h7v7h-7zM1629 464h17v7h-17zM1949 464h12v7h-12zM1969 464h7v7h-7zM1569 469h7v7h-7zM1584 469h12v7h-12zM1599 469h7v7h-7zM1629 469h7v7h-7zM1934 469h12v7h-12zM1954 469h7v7h-7zM1979 469h7v7h-7zM1394 474h7v7h-7zM1434 474h7v7h-7zM1444 474h7v7h-7zM1454 474h7v7h-7zM1494 474h7v7h-7zM1529 474h7v7h-7zM1544 474h17v7h-17zM1564 474h7v7h-7zM1594 474h7v7h-7zM1604 474h7v7h-7zM1614 474h12v7h-12zM1934 474h7v7h-7zM1454 479h7v7h-7zM1469 479h7v7h-7zM1479 479h7v7h-7zM1509 479h7v7h-7zM1519 479h7v7h-7zM1529 479h7v7h-7zM1539 479h7v7h-7zM1554 479h7v7h-7zM1574 479h7v7h-7zM1609 479h7v7h-7zM1624 479h7v7h-7zM1934 479h12v7h-12zM1989 479h7v7h-7zM1489 484h7v7h-7zM1514 484h7v7h-7zM1544 484h7v7h-7zM1559 484h12v7h-12zM1574 484h12v7h-12zM1599 484h7v7h-7zM1614 484h7v7h-7zM1929 484h7v7h-7zM1939 484h7v7h-7zM1949 484h7v7h-7zM1529 489h7v7h-7zM1539 489h12v7h-12zM1574 489h17v7h-17zM1934 489h7v7h-7zM1954 489h7v7h-7zM1989 489h7v7h-7zM1439 494h7v7h-7zM1489 494h7v7h-7zM1524 494h7v7h-7zM1539 494h7v7h-7zM1559 494h7v7h-7zM1589 494h7v7h-7zM1614 494h7v7h-7zM1964 494h7v7h-7zM1464 499h7v7h-7zM1524 499h7v7h-7zM1569 499h7v7h-7zM1899 499h7v7h-7zM1949 499h7v7h-7zM2074 499h7v7h-7zM1474 504h7v7h-7zM1484 504h7v7h-7zM1499 504h7v7h-7zM1514 504h12v7h-12zM1534 504h7v7h-7zM1554 504h17v7h-17zM1609 504h7v7h-7zM1894 504h7v7h-7zM1924 504h7v7h-7zM1939 504h7v7h-7zM1349 509h7v7h-7zM1474 509h7v7h-7zM1494 509h7v7h-7zM1529 509h7v7h-7zM1539 509h22v7h-22zM1564 509h17v7h-17zM1604 509h7v7h-7zM1414 514h7v7h-7zM1424 514h7v7h-7zM1474 514h7v7h-7zM1519 514h12v7h-12zM1539 514h12v7h-12zM1554 514h12v7h-12zM1579 514h12v7h-12zM1594 514h12v7h-12zM1884 514h12v7h-12zM2084 514h7v7h-7zM1444 519h7v7h-7zM1459 519h12v7h-12zM1474 519h7v7h-7zM1494 519h7v7h-7zM1514 519h12v7h-12zM1529 519h12v7h-12zM1549 519h7v7h-7zM1559 519h12v7h-12zM1574 519h7v7h-7zM1599 519h7v7h-7zM1884 519h7v7h-7zM1914 519h7v7h-7zM1924 519h7v7h-7zM1969 519h7v7h-7zM1394 524h7v7h-7zM1414 524h7v7h-7zM1439 524h7v7h-7zM1479 524h7v7h-7zM1519 524h7v7h-7zM1539 524h12v7h-12zM1559 524h7v7h-7zM1574 524h7v7h-7zM1584 524h7v7h-7zM1874 524h12v7h-12zM1509 529h7v7h-7zM1519 529h12v7h-12zM1549 529h7v7h-7zM1559 529h7v7h-7zM1569 529h12v7h-12zM1864 529h12v7h-12zM1879 529h7v7h-7zM1889 529h12v7h-12zM1914 529h7v7h-7zM1464 534h12v7h-12zM1484 534h7v7h-7zM1524 534h7v7h-7zM1534 534h7v7h-7zM1544 534h12v7h-12zM1564 534h12v7h-12zM1579 534h7v7h-7zM1864 534h12v7h-12zM1369 539h7v7h-7zM1439 539h12v7h-12zM1474 539h7v7h-7zM1484 539h17v7h-17zM1504 539h12v7h-12zM1529 539h12v7h-12zM1544 539h7v7h-7zM1849 539h17v7h-17zM1904 539h7v7h-7zM2089 539h7v7h-7zM1404 544h7v7h-7zM1489 544h7v7h-7zM1514 544h17v7h-17zM1534 544h7v7h-7zM1549 544h7v7h-7zM1584 544h7v7h-7zM1849 544h12v7h-12zM1864 544h7v7h-7zM1909 544h12v7h-12zM1374 549h7v7h-7zM1419 549h12v7h-12zM1434 549h7v7h-7zM1454 549h7v7h-7zM1469 549h12v7h-12zM1484 549h7v7h-7zM1494 549h7v7h-7zM1504 549h7v7h-7zM1519 549h12v7h-12zM1544 549h22v7h-22zM1579 549h12v7h-12zM1844 549h12v7h-12zM1864 549h7v7h-7zM1384 554h7v7h-7zM1419 554h7v7h-7zM1459 554h7v7h-7zM1474 554h7v7h-7zM1484 554h7v7h-7zM1494 554h22v7h-22zM1519 554h17v7h-17zM1539 554h7v7h-7zM1554 554h7v7h-7zM1569 554h7v7h-7zM1829 554h7v7h-7zM1844 554h7v7h-7zM1874 554h7v7h-7zM1924 554h7v7h-7zM2134 554h7v7h-7zM1359 559h7v7h-7zM1434 559h7v7h-7zM1444 559h7v7h-7zM1464 559h12v7h-12zM1479 559h12v7h-12zM1499 559h7v7h-7zM1509 559h12v7h-12zM1524 559h12v7h-12zM1544 559h7v7h-7zM1554 559h12v7h-12zM1569 559h7v7h-7zM1579 559h7v7h-7zM1834 559h7v7h-7zM1854 559h12v7h-12zM1369 564h7v7h-7zM1429 564h12v7h-12zM1464 564h7v7h-7zM1474 564h7v7h-7zM1484 564h7v7h-7zM1494 564h12v7h-12zM1509 564h12v7h-12zM1524 564h12v7h-12zM1539 564h7v7h-7zM1549 564h7v7h-7zM1559 564h7v7h-7zM1569 564h7v7h-7zM1579 564h7v7h-7zM1814 564h7v7h-7zM1824 564h22v7h-22zM1859 564h7v7h-7zM1334 569h12v7h-12zM1414 569h7v7h-7zM1429 569h7v7h-7zM1439 569h12v7h-12zM1469 569h7v7h-7zM1529 569h7v7h-7zM1539 569h22v7h-22zM1569 569h12v7h-12zM1804 569h7v7h-7zM1814 569h12v7h-12zM1829 569h7v7h-7zM1869 569h7v7h-7zM1404 574h7v7h-7zM1419 574h7v7h-7zM1489 574h7v7h-7zM1504 574h7v7h-7zM1514 574h7v7h-7zM1524 574h12v7h-12zM1539 574h7v7h-7zM1554 574h12v7h-12zM1569 574h7v7h-7zM1579 574h7v7h-7zM1794 574h27v7h-27zM1829 574h12v7h-12zM1849 574h7v7h-7zM1984 574h7v7h-7zM1409 579h7v7h-7zM1429 579h7v7h-7zM1439 579h7v7h-7zM1479 579h7v7h-7zM1489 579h12v7h-12zM1559 579h7v7h-7zM1569 579h7v7h-7zM1579 579h7v7h-7zM1784 579h12v7h-12zM1799 579h7v7h-7zM1814 579h7v7h-7zM1369 584h7v7h-7zM1399 584h7v7h-7zM1419 584h7v7h-7zM1489 584h7v7h-7zM1499 584h7v7h-7zM1529 584h7v7h-7zM1549 584h12v7h-12zM1564 584h7v7h-7zM1784 584h12v7h-12zM1799 584h7v7h-7zM1824 584h7v7h-7zM1844 584h7v7h-7zM1364 589h7v7h-7zM1399 589h7v7h-7zM1439 589h17v7h-17zM1459 589h7v7h-7zM1479 589h12v7h-12zM1494 589h12v7h-12zM1519 589h7v7h-7zM1544 589h7v7h-7zM1554 589h7v7h-7zM1564 589h7v7h-7zM1574 589h12v7h-12zM1769 589h7v7h-7zM1784 589h7v7h-7zM1794 589h7v7h-7zM1809 589h7v7h-7zM1824 589h12v7h-12zM1849 589h7v7h-7zM1394 594h7v7h-7zM1404 594h7v7h-7zM1444 594h17v7h-17zM1469 594h7v7h-7zM1484 594h7v7h-7zM1519 594h7v7h-7zM1534 594h7v7h-7zM1549 594h7v7h-7zM1564 594h7v7h-7zM1579 594h7v7h-7zM1754 594h12v7h-12zM1769 594h17v7h-17zM1794 594h12v7h-12zM1824 594h7v7h-7zM1369 599h7v7h-7zM1409 599h12v7h-12zM1444 599h17v7h-17zM1474 599h12v7h-12zM1489 599h22v7h-22zM1524 599h12v7h-12zM1539 599h7v7h-7zM1574 599h7v7h-7zM1584 599h7v7h-7zM1744 599h32v7h-32zM1784 599h7v7h-7zM1814 599h7v7h-7zM1829 599h7v7h-7zM1909 599h7v7h-7zM1374 604h7v7h-7zM1384 604h7v7h-7zM1444 604h12v7h-12zM1474 604h7v7h-7zM1484 604h22v7h-22zM1509 604h7v7h-7zM1519 604h12v7h-12zM1534 604h12v7h-12zM1564 604h7v7h-7zM1584 604h12v7h-12zM1764 604h7v7h-7zM1779 604h7v7h-7zM1804 604h12v7h-12zM1829 604h7v7h-7zM1404 609h7v7h-7zM1459 609h32v7h-32zM1494 609h17v7h-17zM1519 609h17v7h-17zM1544 609h7v7h-7zM1554 609h12v7h-12zM1574 609h7v7h-7zM1589 609h7v7h-7zM1724 609h7v7h-7zM1734 609h7v7h-7zM1779 609h12v7h-12zM1794 609h7v7h-7zM1809 609h7v7h-7zM1819 609h7v7h-7zM1414 614h12v7h-12zM1429 614h7v7h-7zM1444 614h7v7h-7zM1454 614h12v7h-12zM1469 614h7v7h-7zM1479 614h12v7h-12zM1494 614h22v7h-22zM1519 614h12v7h-12zM1544 614h7v7h-7zM1569 614h7v7h-7zM1579 614h12v7h-12zM1709 614h7v7h-7zM1719 614h7v7h-7zM1729 614h7v7h-7zM1754 614h7v7h-7zM1769 614h7v7h-7zM1779 614h7v7h-7zM1434 619h7v7h-7zM1459 619h12v7h-12zM1489 619h12v7h-12zM1504 619h7v7h-7zM1514 619h7v7h-7zM1524 619h7v7h-7zM1539 619h7v7h-7zM1559 619h7v7h-7zM1579 619h17v7h-17zM1684 619h7v7h-7zM1704 619h27v7h-27zM1739 619h12v7h-12zM1774 619h12v7h-12zM1819 619h7v7h-7zM1834 619h7v7h-7zM1864 619h7v7h-7zM1404 624h7v7h-7zM1444 624h7v7h-7zM1454 624h7v7h-7zM1469 624h7v7h-7zM1479 624h17v7h-17zM1499 624h12v7h-12zM1514 624h22v7h-22zM1539 624h12v7h-12zM1594 624h7v7h-7zM1609 624h7v7h-7zM1624 624h7v7h-7zM1649 624h7v7h-7zM1659 624h7v7h-7zM1719 624h7v7h-7zM1779 624h7v7h-7zM1789 624h7v7h-7zM1344 629h7v7h-7zM1374 629h7v7h-7zM1434 629h7v7h-7zM1444 629h17v7h-17zM1464 629h17v7h-17zM1489 629h7v7h-7zM1499 629h12v7h-12zM1519 629h7v7h-7zM1549 629h12v7h-12zM1574 629h7v7h-7zM1589 629h7v7h-7zM1619 629h12v7h-12zM1649 629h7v7h-7zM1719 629h17v7h-17zM1739 629h7v7h-7zM1809 629h7v7h-7zM1419 634h7v7h-7zM1454 634h12v7h-12zM1474 634h7v7h-7zM1489 634h7v7h-7zM1504 634h7v7h-7zM1514 634h7v7h-7zM1529 634h7v7h-7zM1544 634h12v7h-12zM1584 634h7v7h-7zM1599 634h7v7h-7zM1629 634h17v7h-17zM1659 634h7v7h-7zM1674 634h7v7h-7zM1684 634h7v7h-7zM1699 634h12v7h-12zM1719 634h12v7h-12zM1739 634h7v7h-7zM1749 634h12v7h-12zM1359 639h7v7h-7zM1404 639h12v7h-12zM1434 639h12v7h-12zM1454 639h17v7h-17zM1479 639h22v7h-22zM1509 639h12v7h-12zM1534 639h7v7h-7zM1549 639h12v7h-12zM1564 639h7v7h-7zM1584 639h12v7h-12zM1609 639h7v7h-7zM1634 639h7v7h-7zM1659 639h7v7h-7zM1679 639h7v7h-7zM1694 639h7v7h-7zM1714 639h7v7h-7zM1734 639h12v7h-12zM1764 639h7v7h-7zM1774 639h17v7h-17zM1804 639h7v7h-7zM2034 639h7v7h-7zM1404 644h7v7h-7zM1424 644h7v7h-7zM1449 644h47v7h-47zM1499 644h12v7h-12zM1514 644h7v7h-7zM1539 644h7v7h-7zM1564 644h7v7h-7zM1579 644h7v7h-7zM1594 644h7v7h-7zM1634 644h7v7h-7zM1679 644h7v7h-7zM1719 644h7v7h-7zM1754 644h7v7h-7zM1774 644h7v7h-7zM1829 644h7v7h-7zM1849 644h7v7h-7zM1404 649h7v7h-7zM1444 649h7v7h-7zM1464 649h12v7h-12zM1479 649h12v7h-12zM1494 649h7v7h-7zM1504 649h12v7h-12zM1529 649h7v7h-7zM1544 649h7v7h-7zM1669 649h12v7h-12zM1769 649h7v7h-7zM1784 649h7v7h-7zM1419 654h7v7h-7zM1434 654h22v7h-22zM1459 654h67v7h-67zM1549 654h7v7h-7zM1579 654h17v7h-17zM1609 654h7v7h-7zM1634 654h12v7h-12zM1679 654h7v7h-7zM1744 654h7v7h-7zM1774 654h7v7h-7zM1819 654h7v7h-7zM1409 659h7v7h-7zM1429 659h7v7h-7zM1444 659h22v7h-22zM1469 659h17v7h-17zM1489 659h27v7h-27zM1549 659h7v7h-7zM1559 659h7v7h-7zM1634 659h7v7h-7zM1669 659h12v7h-12zM1409 664h7v7h-7zM1434 664h7v7h-7zM1444 664h7v7h-7zM1454 664h42v7h-42zM1509 664h17v7h-17zM1549 664h7v7h-7zM1664 664h7v7h-7zM1719 664h7v7h-7zM1429 669h7v7h-7zM1444 669h17v7h-17zM1464 669h37v7h-37zM1504 669h12v7h-12zM1519 669h7v7h-7zM1529 669h7v7h-7zM1554 669h7v7h-7zM1564 669h7v7h-7zM1579 669h7v7h-7zM1599 669h7v7h-7zM1609 669h7v7h-7zM1749 669h7v7h-7zM1769 669h7v7h-7zM1404 674h7v7h-7zM1419 674h7v7h-7zM1454 674h37v7h-37zM1494 674h7v7h-7zM1509 674h12v7h-12zM1524 674h17v7h-17zM1394 679h7v7h-7zM1404 679h7v7h-7zM1429 679h22v7h-22zM1459 679h7v7h-7zM1474 679h32v7h-32zM1514 679h7v7h-7zM1539 679h7v7h-7zM1554 679h7v7h-7zM1634 679h7v7h-7zM1674 679h7v7h-7zM1384 684h7v7h-7zM1454 684h7v7h-7zM1469 684h27v7h-27zM1499 684h22v7h-22zM1524 684h12v7h-12zM1539 684h7v7h-7zM1554 684h7v7h-7zM1564 684h7v7h-7zM1579 684h7v7h-7zM1609 684h7v7h-7zM1374 689h12v7h-12zM1424 689h7v7h-7zM1449 689h42v7h-42zM1494 689h12v7h-12zM1514 689h22v7h-22zM1614 689h7v7h-7zM1634 689h7v7h-7zM1669 689h7v7h-7zM1429 694h12v7h-12zM1454 694h7v7h-7zM1464 694h22v7h-22zM1489 694h32v7h-32zM1544 694h12v7h-12zM1384 699h7v7h-7zM1394 699h7v7h-7zM1429 699h12v7h-12zM1469 699h7v7h-7zM1479 699h12v7h-12zM1499 699h12v7h-12zM1519 699h17v7h-17zM1579 699h7v7h-7zM1669 699h7v7h-7zM1454 704h7v7h-7zM1464 704h27v7h-27zM1494 704h12v7h-12zM1524 704h7v7h-7zM1544 704h7v7h-7zM1444 709h7v7h-7zM1454 709h22v7h-22zM1479 709h17v7h-17zM1509 709h7v7h-7zM1519 709h7v7h-7zM1564 709h7v7h-7zM1449 714h7v7h-7zM1464 714h7v7h-7zM1489 714h12v7h-12zM1504 714h12v7h-12zM1519 714h7v7h-7zM1544 714h7v7h-7zM1574 714h7v7h-7zM1589 714h7v7h-7zM1449 719h7v7h-7zM1459 719h12v7h-12zM1474 719h17v7h-17zM1499 719h12v7h-12zM1519 719h7v7h-7zM1574 719h7v7h-7zM1384 724h12v7h-12zM1444 724h7v7h-7zM1454 724h12v7h-12zM1474 724h7v7h-7zM1484 724h22v7h-22zM1509 724h7v7h-7zM1519 724h12v7h-12zM1439 729h7v7h-7zM1454 729h7v7h-7zM1464 729h12v7h-12zM1479 729h7v7h-7zM1489 729h12v7h-12zM1509 729h12v7h-12zM1524 729h7v7h-7zM1614 729h12v7h-12zM1429 734h7v7h-7zM1454 734h17v7h-17zM1479 734h7v7h-7zM1494 734h12v7h-12zM1514 734h7v7h-7zM1574 734h7v7h-7zM1374 739h7v7h-7zM1439 739h7v7h-7zM1454 739h7v7h-7zM1479 739h7v7h-7zM1489 739h7v7h-7zM1499 739h7v7h-7zM1509 739h7v7h-7zM1464 744h22v7h-22zM1489 744h7v7h-7zM1499 744h7v7h-7zM1434 749h7v7h-7zM1479 749h7v7h-7zM1489 749h7v7h-7zM1749 749h7v7h-7zM1469 754h7v7h-7zM1489 754h7v7h-7zM1519 754h7v7h-7zM1454 759h12v7h-12zM1504 759h7v7h-7zM1464 764h7v7h-7zM1474 764h7v7h-7zM1494 764h12v7h-12zM1514 764h7v7h-7zM1449 769h7v7h-7zM1499 769h7v7h-7zM1449 774h7v7h-7zM1484 774h7v7h-7zM1469 789h7v7h-7zM1394 794h7v7h-7zM1484 794h7v7h-7zM1589 794h7v7h-7zM1419 839h7v7h-7z"/><path fill="#2f1163" transform="scale(0.2)" d="M1959 294h7v7h-7zM1944 299h7v7h-7zM1964 299h7v7h-7zM1949 304h7v7h-7zM1984 304h7v7h-7zM2024 304h7v7h-7zM2024 309h7v7h-7zM1894 314h7v7h-7zM1914 314h7v7h-7zM1849 324h7v7h-7zM1864 324h7v7h-7zM1834 329h7v7h-7zM1834 334h7v7h-7zM1839 339h7v7h-7zM1839 344h7v7h-7zM1794 349h7v7h-7zM1804 349h7v7h-7zM1814 349h7v7h-7zM1799 354h27v7h-27zM1789 359h22v7h-22zM1769 364h7v7h-7zM1779 364h27v7h-27zM2004 364h7v7h-7zM1769 369h27v7h-27zM1764 374h7v7h-7zM1774 374h7v7h-7zM1749 379h22v7h-22zM1994 379h7v7h-7zM1739 384h7v7h-7zM1754 384h17v7h-17zM1989 384h7v7h-7zM1744 389h22v7h-22zM1974 389h7v7h-7zM1994 389h7v7h-7zM1724 394h32v7h-32zM1719 399h7v7h-7zM1734 399h17v7h-17zM1974 399h7v7h-7zM1989 399h7v7h-7zM1714 404h7v7h-7zM1724 404h17v7h-17zM1969 404h7v7h-7zM1704 409h7v7h-7zM1714 409h22v7h-22zM1964 409h12v7h-12zM1699 414h7v7h-7zM1714 414h17v7h-17zM1954 414h7v7h-7zM1694 419h27v7h-27zM1964 419h17v7h-17zM1689 424h27v7h-27zM1949 424h7v7h-7zM1959 424h7v7h-7zM1969 424h7v7h-7zM1684 429h7v7h-7zM1694 429h17v7h-17zM1944 429h7v7h-7zM1954 429h12v7h-12zM1674 434h32v7h-32zM1939 434h7v7h-7zM1954 434h7v7h-7zM1674 439h27v7h-27zM1934 439h12v7h-12zM1949 439h12v7h-12zM1669 444h7v7h-7zM1679 444h17v7h-17zM1929 444h17v7h-17zM1659 449h32v7h-32zM1934 449h17v7h-17zM1654 454h32v7h-32zM1924 454h7v7h-7zM1934 454h12v7h-12zM1649 459h12v7h-12zM1664 459h17v7h-17zM1914 459h22v7h-22zM1644 464h7v7h-7zM1654 464h22v7h-22zM1909 464h17v7h-17zM1644 469h7v7h-7zM1654 469h17v7h-17zM1904 469h22v7h-22zM1929 469h7v7h-7zM1634 474h7v7h-7zM1644 474h7v7h-7zM1654 474h12v7h-12zM1904 474h12v7h-12zM1919 474h12v7h-12zM1634 479h7v7h-7zM1644 479h17v7h-17zM1894 479h12v7h-12zM1909 479h7v7h-7zM1919 479h7v7h-7zM1629 484h7v7h-7zM1639 484h7v7h-7zM1649 484h7v7h-7zM1889 484h7v7h-7zM1899 484h12v7h-12zM1914 484h7v7h-7zM1624 489h7v7h-7zM1634 489h17v7h-17zM1884 489h32v7h-32zM1619 494h12v7h-12zM1639 494h12v7h-12zM1874 494h27v7h-27zM1619 499h7v7h-7zM1634 499h7v7h-7zM1869 499h17v7h-17zM1624 504h7v7h-7zM1864 504h32v7h-32zM1614 509h7v7h-7zM1629 509h7v7h-7zM1859 509h17v7h-17zM1879 509h12v7h-12zM1604 514h7v7h-7zM1614 514h17v7h-17zM1849 514h12v7h-12zM1864 514h12v7h-12zM1609 519h7v7h-7zM1619 519h12v7h-12zM1844 519h27v7h-27zM1874 519h7v7h-7zM1604 524h7v7h-7zM1624 524h7v7h-7zM1839 524h22v7h-22zM1864 524h7v7h-7zM1604 529h7v7h-7zM1614 529h7v7h-7zM1624 529h7v7h-7zM1829 529h17v7h-17zM1854 529h12v7h-12zM1594 534h17v7h-17zM1614 534h12v7h-12zM1824 534h37v7h-37zM1594 539h12v7h-12zM1609 539h12v7h-12zM1814 539h32v7h-32zM1589 544h7v7h-7zM1599 544h7v7h-7zM1614 544h12v7h-12zM1804 544h42v7h-42zM1594 549h12v7h-12zM1609 549h7v7h-7zM1799 549h17v7h-17zM1819 549h17v7h-17zM1584 554h7v7h-7zM1594 554h12v7h-12zM1789 554h17v7h-17zM1809 554h12v7h-12zM1824 554h7v7h-7zM1584 559h27v7h-27zM1779 559h32v7h-32zM1814 559h7v7h-7zM1584 564h17v7h-17zM1614 564h12v7h-12zM1769 564h42v7h-42zM1584 569h7v7h-7zM1594 569h22v7h-22zM1759 569h17v7h-17zM1784 569h22v7h-22zM1584 574h27v7h-27zM1744 574h7v7h-7zM1754 574h7v7h-7zM1764 574h22v7h-22zM1584 579h7v7h-7zM1594 579h7v7h-7zM1604 579h7v7h-7zM1614 579h7v7h-7zM1624 579h7v7h-7zM1729 579h37v7h-37zM1769 579h17v7h-17zM1584 584h7v7h-7zM1599 584h7v7h-7zM1609 584h7v7h-7zM1714 584h37v7h-37zM1754 584h12v7h-12zM1769 584h12v7h-12zM1614 589h7v7h-7zM1629 589h12v7h-12zM1654 589h7v7h-7zM1694 589h17v7h-17zM1714 589h22v7h-22zM1749 589h7v7h-7zM1759 589h12v7h-12zM1589 594h7v7h-7zM1599 594h12v7h-12zM1629 594h7v7h-7zM1639 594h12v7h-12zM1654 594h32v7h-32zM1689 594h7v7h-7zM1704 594h22v7h-22zM1729 594h12v7h-12zM1749 594h7v7h-7zM1594 599h7v7h-7zM1619 599h7v7h-7zM1629 599h7v7h-7zM1649 599h7v7h-7zM1659 599h12v7h-12zM1674 599h27v7h-27zM1714 599h32v7h-32zM1594 604h17v7h-17zM1619 604h12v7h-12zM1639 604h7v7h-7zM1649 604h7v7h-7zM1664 604h12v7h-12zM1679 604h7v7h-7zM1689 604h12v7h-12zM1709 604h17v7h-17zM1639 609h22v7h-22zM1674 609h7v7h-7zM1689 609h17v7h-17zM1709 609h12v7h-12zM1614 614h7v7h-7zM1639 614h17v7h-17zM1659 614h12v7h-12zM1674 614h7v7h-7zM1619 619h7v7h-7zM1629 619h7v7h-7zM1654 619h12v7h-12zM1669 619h7v7h-7z"/><path fill="#420f75" transform="scale(0.2)" d="M1914 319h7v7h-7zM1949 319h7v7h-7zM1959 319h7v7h-7zM1984 319h7v7h-7zM1889 324h7v7h-7zM2004 324h7v7h-7zM1879 334h17v7h-17zM1999 334h7v7h-7zM1874 339h7v7h-7zM1844 344h12v7h-12zM1989 344h7v7h-7zM1834 349h12v7h-12zM1849 349h7v7h-7zM1989 349h7v7h-7zM1834 354h12v7h-12zM1819 359h17v7h-17zM1809 364h17v7h-17zM1794 369h12v7h-12zM1809 369h7v7h-7zM1979 369h7v7h-7zM1784 374h12v7h-12zM1799 374h7v7h-7zM1779 379h17v7h-17zM1969 379h12v7h-12zM1769 384h22v7h-22zM1964 384h7v7h-7zM1974 384h7v7h-7zM1764 389h17v7h-17zM1969 389h7v7h-7zM1754 394h22v7h-22zM1964 394h7v7h-7zM1749 399h17v7h-17zM1954 399h7v7h-7zM1739 404h22v7h-22zM1949 404h7v7h-7zM1959 404h7v7h-7zM1734 409h17v7h-17zM1944 409h17v7h-17zM1729 414h17v7h-17zM1939 414h17v7h-17zM1719 419h22v7h-22zM1939 419h7v7h-7zM1949 419h7v7h-7zM1714 424h17v7h-17zM1934 424h12v7h-12zM1709 429h17v7h-17zM1934 429h12v7h-12zM1704 434h17v7h-17zM1924 434h17v7h-17zM1699 439h17v7h-17zM1919 439h12v7h-12zM1694 444h17v7h-17zM1914 444h17v7h-17zM1689 449h17v7h-17zM1909 449h17v7h-17zM1684 454h17v7h-17zM1904 454h17v7h-17zM1679 459h17v7h-17zM1899 459h17v7h-17zM1674 464h17v7h-17zM1894 464h17v7h-17zM1669 469h17v7h-17zM1889 469h17v7h-17zM1664 474h17v7h-17zM1884 474h17v7h-17zM1659 479h17v7h-17zM1874 479h22v7h-22zM1654 484h17v7h-17zM1869 484h22v7h-22zM1649 489h22v7h-22zM1864 489h22v7h-22zM1649 494h17v7h-17zM1859 494h17v7h-17zM1644 499h17v7h-17zM1849 499h22v7h-22zM1649 504h12v7h-12zM1844 504h22v7h-22zM1639 509h17v7h-17zM1839 509h17v7h-17zM1634 514h17v7h-17zM1829 514h22v7h-22zM1629 519h12v7h-12zM1824 519h22v7h-22zM1634 524h17v7h-17zM1814 524h27v7h-27zM1629 529h17v7h-17zM1809 529h22v7h-22zM1629 534h7v7h-7zM1639 534h7v7h-7zM1799 534h27v7h-27zM1789 539h27v7h-27zM1624 544h22v7h-22zM1779 544h27v7h-27zM1619 549h22v7h-22zM1769 549h32v7h-32zM1629 554h22v7h-22zM1759 554h32v7h-32zM1619 559h12v7h-12zM1634 559h17v7h-17zM1744 559h37v7h-37zM1629 564h32v7h-32zM1729 564h42v7h-42zM1629 569h12v7h-12zM1644 569h32v7h-32zM1704 569h57v7h-57zM1639 574h107v7h-107zM1634 579h17v7h-17zM1654 579h77v7h-77zM1654 584h62v7h-62zM1659 589h7v7h-7zM1669 589h12v7h-12zM1684 589h7v7h-7z"/><path fill="#54137d" transform="scale(0.2)" d="M1944 324h7v7h-7zM1964 324h7v7h-7zM1974 329h7v7h-7zM1889 339h7v7h-7zM1869 344h7v7h-7zM1879 344h7v7h-7zM1854 349h22v7h-22zM1844 354h17v7h-17zM1834 359h17v7h-17zM1824 364h17v7h-17zM1814 369h17v7h-17zM1804 374h12v7h-12zM1964 374h7v7h-7zM1794 379h17v7h-17zM1789 384h12v7h-12zM1959 384h7v7h-7zM1779 389h17v7h-17zM1949 389h7v7h-7zM1774 394h12v7h-12zM1949 394h7v7h-7zM1764 399h17v7h-17zM1944 399h12v7h-12zM1759 404h12v7h-12zM1939 404h12v7h-12zM1749 409h17v7h-17zM1934 409h12v7h-12zM1744 414h12v7h-12zM1929 414h12v7h-12zM1739 419h12v7h-12zM1924 419h17v7h-17zM1729 424h17v7h-17zM1919 424h17v7h-17zM1724 429h17v7h-17zM1919 429h12v7h-12zM1719 434h12v7h-12zM1914 434h12v7h-12zM1714 439h12v7h-12zM1909 439h12v7h-12zM1709 444h12v7h-12zM1904 444h12v7h-12zM1704 449h12v7h-12zM1899 449h12v7h-12zM1699 454h12v7h-12zM1889 454h17v7h-17zM1694 459h12v7h-12zM1884 459h17v7h-17zM1689 464h12v7h-12zM1879 464h17v7h-17zM1684 469h12v7h-12zM1874 469h17v7h-17zM1679 474h12v7h-12zM1869 474h17v7h-17zM1674 479h17v7h-17zM1864 479h12v7h-12zM1669 484h17v7h-17zM1854 484h17v7h-17zM1669 489h12v7h-12zM1849 489h17v7h-17zM1664 494h12v7h-12zM1844 494h17v7h-17zM1659 499h17v7h-17zM1834 499h17v7h-17zM1659 504h12v7h-12zM1829 504h17v7h-17zM1659 509h12v7h-12zM1824 509h17v7h-17zM1649 514h17v7h-17zM1814 514h17v7h-17zM1649 519h17v7h-17zM1804 519h22v7h-22zM1649 524h7v7h-7zM1659 524h7v7h-7zM1799 524h17v7h-17zM1644 529h17v7h-17zM1789 529h22v7h-22zM1644 534h17v7h-17zM1779 534h22v7h-22zM1644 539h22v7h-22zM1764 539h27v7h-27zM1644 544h22v7h-22zM1754 544h27v7h-27zM1654 549h17v7h-17zM1739 549h32v7h-32zM1649 554h37v7h-37zM1719 554h42v7h-42zM1654 559h92v7h-92zM1659 564h72v7h-72zM1674 569h32v7h-32z"/><path fill="#651a80" transform="scale(0.2)" d="M1934 334h7v7h-7zM1914 339h7v7h-7zM1874 349h12v7h-12zM1874 354h7v7h-7zM1849 359h17v7h-17zM1839 364h17v7h-17zM1959 364h7v7h-7zM1829 369h12v7h-12zM1819 374h12v7h-12zM1954 374h7v7h-7zM1809 379h17v7h-17zM1949 379h12v7h-12zM1799 384h17v7h-17zM1794 389h12v7h-12zM1784 394h12v7h-12zM1779 399h12v7h-12zM1934 399h12v7h-12zM1769 404h12v7h-12zM1929 404h12v7h-12zM1764 409h12v7h-12zM1924 409h12v7h-12zM1754 414h12v7h-12zM1924 414h7v7h-7zM1749 419h12v7h-12zM1919 419h7v7h-7zM1744 424h12v7h-12zM1914 424h7v7h-7zM1739 429h7v7h-7zM1909 429h12v7h-12zM1729 434h12v7h-12zM1904 434h12v7h-12zM1724 439h12v7h-12zM1899 439h12v7h-12zM1719 444h12v7h-12zM1894 444h12v7h-12zM1714 449h12v7h-12zM1889 449h12v7h-12zM1709 454h12v7h-12zM1884 454h7v7h-7zM1704 459h12v7h-12zM1874 459h12v7h-12zM1699 464h12v7h-12zM1869 464h12v7h-12zM1694 469h12v7h-12zM1864 469h12v7h-12zM1689 474h12v7h-12zM1859 474h12v7h-12zM1689 479h7v7h-7zM1854 479h12v7h-12zM1684 484h12v7h-12zM1844 484h12v7h-12zM1679 489h12v7h-12zM1839 489h12v7h-12zM1674 494h12v7h-12zM1829 494h17v7h-17zM1674 499h12v7h-12zM1824 499h12v7h-12zM1669 504h12v7h-12zM1814 504h17v7h-17zM1669 509h12v7h-12zM1809 509h17v7h-17zM1664 514h17v7h-17zM1799 514h17v7h-17zM1664 519h12v7h-12zM1789 519h17v7h-17zM1664 524h12v7h-12zM1779 524h22v7h-22zM1659 529h17v7h-17zM1769 529h22v7h-22zM1659 534h22v7h-22zM1754 534h27v7h-27zM1664 539h22v7h-22zM1739 539h27v7h-27zM1664 544h92v7h-92zM1669 549h72v7h-72zM1684 554h37v7h-37z"/><path fill="#782281" transform="scale(0.2)" d="M1929 339h7v7h-7zM1944 339h12v7h-12zM1914 344h7v7h-7zM1924 344h7v7h-7zM1889 349h12v7h-12zM1959 349h7v7h-7zM1884 354h7v7h-7zM1864 359h17v7h-17zM1854 364h12v7h-12zM1839 369h17v7h-17zM1949 369h12v7h-12zM1829 374h17v7h-17zM1949 374h7v7h-7zM1824 379h12v7h-12zM1944 379h7v7h-7zM1814 384h7v7h-7zM1939 384h7v7h-7zM1804 389h12v7h-12zM1934 389h12v7h-12zM1794 394h12v7h-12zM1934 394h7v7h-7zM1789 399h12v7h-12zM1929 399h7v7h-7zM1779 404h12v7h-12zM1924 404h7v7h-7zM1774 409h12v7h-12zM1919 409h7v7h-7zM1764 414h12v7h-12zM1914 414h12v7h-12zM1759 419h12v7h-12zM1909 419h12v7h-12zM1754 424h7v7h-7zM1904 424h12v7h-12zM1744 429h12v7h-12zM1899 429h12v7h-12zM1739 434h12v7h-12zM1894 434h12v7h-12zM1734 439h12v7h-12zM1889 439h12v7h-12zM1729 444h12v7h-12zM1884 444h12v7h-12zM1724 449h12v7h-12zM1884 449h7v7h-7zM1719 454h12v7h-12zM1874 454h12v7h-12zM1714 459h12v7h-12zM1869 459h7v7h-7zM1709 464h12v7h-12zM1859 464h12v7h-12zM1704 469h12v7h-12zM1854 469h12v7h-12zM1699 474h12v7h-12zM1849 474h12v7h-12zM1694 479h12v7h-12zM1844 479h12v7h-12zM1694 484h7v7h-7zM1834 484h12v7h-12zM1689 489h12v7h-12zM1829 489h12v7h-12zM1684 494h12v7h-12zM1819 494h12v7h-12zM1684 499h12v7h-12zM1814 499h12v7h-12zM1679 504h12v7h-12zM1804 504h12v7h-12zM1679 509h12v7h-12zM1794 509h17v7h-17zM1679 514h12v7h-12zM1784 514h17v7h-17zM1674 519h17v7h-17zM1774 519h17v7h-17zM1674 524h17v7h-17zM1759 524h22v7h-22zM1674 529h22v7h-22zM1744 529h27v7h-27zM1679 534h77v7h-77zM1684 539h57v7h-57z"/><path fill="#892881" transform="scale(0.2)" d="M1934 344h7v7h-7zM1944 344h7v7h-7zM1909 349h12v7h-12zM1939 349h7v7h-7zM1894 354h12v7h-12zM1949 354h7v7h-7zM1879 359h12v7h-12zM1864 364h12v7h-12zM1854 369h12v7h-12zM1944 369h7v7h-7zM1844 374h12v7h-12zM1944 374h7v7h-7zM1834 379h12v7h-12zM1939 379h7v7h-7zM1824 384h12v7h-12zM1934 384h7v7h-7zM1814 389h12v7h-12zM1929 389h7v7h-7zM1804 394h12v7h-12zM1924 394h12v7h-12zM1799 399h7v7h-7zM1924 399h7v7h-7zM1789 404h12v7h-12zM1919 404h7v7h-7zM1784 409h7v7h-7zM1914 409h7v7h-7zM1774 414h12v7h-12zM1909 414h7v7h-7zM1769 419h7v7h-7zM1904 419h7v7h-7zM1759 424h12v7h-12zM1899 424h7v7h-7zM1754 429h12v7h-12zM1894 429h7v7h-7zM1749 434h7v7h-7zM1889 434h7v7h-7zM1744 439h7v7h-7zM1884 439h7v7h-7zM1739 444h7v7h-7zM1879 444h7v7h-7zM1734 449h7v7h-7zM1869 449h12v7h-12zM1729 454h7v7h-7zM1864 454h12v7h-12zM1724 459h7v7h-7zM1859 459h12v7h-12zM1719 464h7v7h-7zM1854 464h7v7h-7zM1714 469h7v7h-7zM1844 469h12v7h-12zM1709 474h7v7h-7zM1839 474h12v7h-12zM1704 479h12v7h-12zM1834 479h12v7h-12zM1699 484h12v7h-12zM1824 484h12v7h-12zM1699 489h7v7h-7zM1819 489h12v7h-12zM1694 494h12v7h-12zM1809 494h12v7h-12zM1694 499h7v7h-7zM1799 499h17v7h-17zM1689 504h12v7h-12zM1789 504h17v7h-17zM1689 509h12v7h-12zM1779 509h17v7h-17zM1689 514h12v7h-12zM1769 514h17v7h-17zM1689 519h12v7h-12zM1754 519h22v7h-22zM1689 524h27v7h-27zM1724 524h37v7h-37zM1694 529h52v7h-52z"/><path fill="#9b2e7f" transform="scale(0.2)" d="M1934 349h7v7h-7zM1904 354h12v7h-12zM1919 354h7v7h-7zM1934 354h7v7h-7zM1889 359h12v7h-12zM1939 359h12v7h-12zM1874 364h12v7h-12zM1944 364h7v7h-7zM1864 369h12v7h-12zM1939 369h7v7h-7zM1854 374h7v7h-7zM1939 374h7v7h-7zM1844 379h7v7h-7zM1934 379h7v7h-7zM1834 384h7v7h-7zM1929 384h7v7h-7zM1824 389h7v7h-7zM1924 389h7v7h-7zM1814 394h7v7h-7zM1804 399h12v7h-12zM1919 399h7v7h-7zM1799 404h7v7h-7zM1914 404h7v7h-7zM1789 409h12v7h-12zM1909 409h7v7h-7zM1784 414h7v7h-7zM1904 414h7v7h-7zM1774 419h12v7h-12zM1899 419h7v7h-7zM1769 424h7v7h-7zM1894 424h7v7h-7zM1764 429h7v7h-7zM1889 429h7v7h-7zM1754 434h12v7h-12zM1884 434h7v7h-7zM1749 439h7v7h-7zM1874 439h12v7h-12zM1744 444h7v7h-7zM1869 444h12v7h-12zM1739 449h7v7h-7zM1864 449h7v7h-7zM1734 454h7v7h-7zM1859 454h7v7h-7zM1729 459h7v7h-7zM1854 459h7v7h-7zM1724 464h7v7h-7zM1844 464h12v7h-12zM1719 469h7v7h-7zM1839 469h7v7h-7zM1714 474h12v7h-12zM1834 474h7v7h-7zM1714 479h7v7h-7zM1824 479h12v7h-12zM1709 484h7v7h-7zM1814 484h12v7h-12zM1704 489h12v7h-12zM1809 489h12v7h-12zM1704 494h7v7h-7zM1799 494h12v7h-12zM1699 499h12v7h-12zM1789 499h12v7h-12zM1699 504h7v7h-7zM1779 504h12v7h-12zM1699 509h12v7h-12zM1764 509h17v7h-17zM1699 514h17v7h-17zM1744 514h27v7h-27zM1699 519h57v7h-57zM1714 524h12v7h-12z"/><path fill="#ad347c" transform="scale(0.2)" d="M1924 354h12v7h-12zM1899 359h17v7h-17zM1929 359h7v7h-7zM1884 364h12v7h-12zM1934 364h7v7h-7zM1874 369h7v7h-7zM1934 369h7v7h-7zM1859 374h12v7h-12zM1934 374h7v7h-7zM1849 379h12v7h-12zM1929 379h7v7h-7zM1839 384h12v7h-12zM1924 384h7v7h-7zM1829 389h12v7h-12zM1819 394h12v7h-12zM1919 394h7v7h-7zM1814 399h7v7h-7zM1914 399h7v7h-7zM1804 404h7v7h-7zM1909 404h7v7h-7zM1799 409h7v7h-7zM1904 409h7v7h-7zM1789 414h7v7h-7zM1899 414h7v7h-7zM1784 419h7v7h-7zM1894 419h7v7h-7zM1774 424h7v7h-7zM1889 424h7v7h-7zM1769 429h7v7h-7zM1884 429h7v7h-7zM1764 434h7v7h-7zM1879 434h7v7h-7zM1754 439h12v7h-12zM1869 439h7v7h-7zM1749 444h7v7h-7zM1864 444h7v7h-7zM1744 449h7v7h-7zM1859 449h7v7h-7zM1739 454h7v7h-7zM1854 454h7v7h-7zM1734 459h7v7h-7zM1844 459h12v7h-12zM1729 464h7v7h-7zM1839 464h7v7h-7zM1724 469h12v7h-12zM1834 469h7v7h-7zM1724 474h7v7h-7zM1824 474h12v7h-12zM1719 479h7v7h-7zM1814 479h12v7h-12zM1714 484h7v7h-7zM1809 484h7v7h-7zM1714 489h7v7h-7zM1799 489h12v7h-12zM1709 494h7v7h-7zM1789 494h12v7h-12zM1709 499h7v7h-7zM1774 499h17v7h-17zM1704 504h12v7h-12zM1764 504h17v7h-17zM1709 509h17v7h-17zM1744 509h22v7h-22zM1714 514h32v7h-32z"/><path fill="#bf3a77" transform="scale(0.2)" d="M1914 359h17v7h-17zM1894 364h12v7h-12zM1929 364h7v7h-7zM1879 369h12v7h-12zM1929 369h7v7h-7zM1869 374h7v7h-7zM1929 374h7v7h-7zM1859 379h7v7h-7zM1924 379h7v7h-7zM1849 384h7v7h-7zM1839 389h7v7h-7zM1919 389h7v7h-7zM1829 394h7v7h-7zM1914 394h7v7h-7zM1819 399h7v7h-7zM1909 399h7v7h-7zM1809 404h7v7h-7zM1904 404h7v7h-7zM1804 409h7v7h-7zM1899 409h7v7h-7zM1794 414h7v7h-7zM1894 414h7v7h-7zM1789 419h7v7h-7zM1889 419h7v7h-7zM1779 424h7v7h-7zM1884 424h7v7h-7zM1774 429h7v7h-7zM1879 429h7v7h-7zM1769 434h7v7h-7zM1874 434h7v7h-7zM1764 439h7v7h-7zM1864 439h7v7h-7zM1754 444h7v7h-7zM1859 444h7v7h-7zM1749 449h7v7h-7zM1854 449h7v7h-7zM1744 454h7v7h-7zM1849 454h7v7h-7zM1739 459h7v7h-7zM1839 459h7v7h-7zM1734 464h7v7h-7zM1834 464h7v7h-7zM1824 469h12v7h-12zM1729 474h7v7h-7zM1819 474h7v7h-7zM1724 479h7v7h-7zM1809 479h7v7h-7zM1719 484h7v7h-7zM1799 484h12v7h-12zM1719 489h7v7h-7zM1789 489h12v7h-12zM1714 494h12v7h-12zM1779 494h12v7h-12zM1714 499h12v7h-12zM1764 499h12v7h-12zM1714 504h22v7h-22zM1739 504h27v7h-27zM1724 509h22v7h-22z"/><path fill="#d0416f" transform="scale(0.2)" d="M1904 364h27v7h-27zM1889 369h12v7h-12zM1924 369h7v7h-7zM1874 374h12v7h-12zM1924 374h7v7h-7zM1864 379h7v7h-7zM1919 379h7v7h-7zM1854 384h7v7h-7zM1919 384h7v7h-7zM1844 389h7v7h-7zM1914 389h7v7h-7zM1834 394h7v7h-7zM1909 394h7v7h-7zM1824 399h7v7h-7zM1904 399h7v7h-7zM1814 404h7v7h-7zM1809 409h7v7h-7zM1894 409h7v7h-7zM1799 414h7v7h-7zM1889 414h7v7h-7zM1794 419h7v7h-7zM1884 419h7v7h-7zM1784 424h7v7h-7zM1879 424h7v7h-7zM1779 429h7v7h-7zM1874 429h7v7h-7zM1774 434h7v7h-7zM1869 434h7v7h-7zM1759 444h7v7h-7zM1854 444h7v7h-7zM1754 449h7v7h-7zM1849 449h7v7h-7zM1749 454h7v7h-7zM1844 454h7v7h-7zM1744 459h7v7h-7zM1834 459h7v7h-7zM1739 464h7v7h-7zM1829 464h7v7h-7zM1734 469h7v7h-7zM1819 469h7v7h-7zM1734 474h7v7h-7zM1809 474h12v7h-12zM1729 479h7v7h-7zM1799 479h12v7h-12zM1724 484h7v7h-7zM1789 484h12v7h-12zM1724 489h7v7h-7zM1779 489h12v7h-12zM1724 494h7v7h-7zM1764 494h17v7h-17zM1724 499h42v7h-42zM1734 504h7v7h-7z"/><path fill="#e04c67" transform="scale(0.2)" d="M1899 369h27v7h-27zM1884 374h7v7h-7zM1919 374h7v7h-7zM1869 379h7v7h-7zM1859 384h7v7h-7zM1914 384h7v7h-7zM1849 389h7v7h-7zM1909 389h7v7h-7zM1839 394h7v7h-7zM1829 399h7v7h-7zM1819 404h7v7h-7zM1899 404h7v7h-7zM1814 409h7v7h-7zM1804 414h7v7h-7zM1799 419h7v7h-7zM1789 424h7v7h-7zM1784 429h7v7h-7zM1869 429h7v7h-7zM1864 434h7v7h-7zM1769 439h7v7h-7zM1859 439h7v7h-7zM1764 444h7v7h-7zM1844 449h7v7h-7zM1754 454h7v7h-7zM1839 454h7v7h-7zM1749 459h7v7h-7zM1829 459h7v7h-7zM1744 464h7v7h-7zM1824 464h7v7h-7zM1739 469h7v7h-7zM1814 469h7v7h-7zM1804 474h7v7h-7zM1734 479h7v7h-7zM1794 479h7v7h-7zM1729 484h12v7h-12zM1784 484h7v7h-7zM1729 489h12v7h-12zM1769 489h12v7h-12zM1729 494h37v7h-37z"/><path fill="#ed5a5f" transform="scale(0.2)" d="M1889 374h12v7h-12zM1909 374h12v7h-12zM1874 379h7v7h-7zM1914 379h7v7h-7zM1864 384h7v7h-7zM1909 384h7v7h-7zM1854 389h7v7h-7zM1844 394h7v7h-7zM1904 394h7v7h-7zM1834 399h7v7h-7zM1899 399h7v7h-7zM1824 404h7v7h-7zM1894 404h7v7h-7zM1889 409h7v7h-7zM1809 414h7v7h-7zM1884 414h7v7h-7zM1879 419h7v7h-7zM1794 424h7v7h-7zM1874 424h7v7h-7zM1779 434h7v7h-7zM1859 434h7v7h-7zM1774 439h7v7h-7zM1854 439h7v7h-7zM1769 444h7v7h-7zM1849 444h7v7h-7zM1764 449h7v7h-7zM1839 449h7v7h-7zM1759 454h7v7h-7zM1834 454h7v7h-7zM1754 459h7v7h-7zM1824 459h7v7h-7zM1749 464h7v7h-7zM1819 464h7v7h-7zM1744 469h7v7h-7zM1809 469h7v7h-7zM1739 474h7v7h-7zM1799 474h7v7h-7zM1739 479h7v7h-7zM1789 479h7v7h-7zM1739 484h7v7h-7zM1774 484h12v7h-12zM1739 489h12v7h-12zM1754 489h17v7h-17z"/><path fill="#f66e5c" transform="scale(0.2)" d="M1899 374h12v7h-12zM1879 379h12v7h-12zM1904 379h12v7h-12zM1869 384h7v7h-7zM1859 389h7v7h-7zM1904 389h7v7h-7zM1849 394h7v7h-7zM1899 394h7v7h-7zM1839 399h7v7h-7zM1829 404h7v7h-7zM1819 409h7v7h-7zM1804 419h7v7h-7zM1799 424h7v7h-7zM1869 424h7v7h-7zM1789 429h7v7h-7zM1864 429h7v7h-7zM1784 434h7v7h-7zM1779 439h7v7h-7zM1844 444h7v7h-7zM1829 454h7v7h-7zM1754 464h7v7h-7zM1814 464h7v7h-7zM1749 469h7v7h-7zM1804 469h7v7h-7zM1744 474h7v7h-7zM1794 474h7v7h-7zM1744 479h7v7h-7zM1779 479h12v7h-12zM1744 484h12v7h-12zM1764 484h12v7h-12zM1749 489h7v7h-7z"/><path fill="#fb835f" transform="scale(0.2)" d="M1889 379h17v7h-17zM1874 384h7v7h-7zM1904 384h7v7h-7zM1899 389h7v7h-7zM1894 399h7v7h-7zM1889 404h7v7h-7zM1824 409h7v7h-7zM1884 409h7v7h-7zM1814 414h7v7h-7zM1879 414h7v7h-7zM1809 419h7v7h-7zM1874 419h7v7h-7zM1794 429h7v7h-7zM1854 434h7v7h-7zM1849 439h7v7h-7zM1774 444h7v7h-7zM1839 444h7v7h-7zM1769 449h7v7h-7zM1834 449h7v7h-7zM1764 454h7v7h-7zM1824 454h7v7h-7zM1759 459h7v7h-7zM1819 459h7v7h-7zM1809 464h7v7h-7zM1754 469h7v7h-7zM1799 469h7v7h-7zM1749 474h7v7h-7zM1789 474h7v7h-7zM1749 479h12v7h-12zM1774 479h7v7h-7zM1754 484h12v7h-12z"/><path fill="#fd9869" transform="scale(0.2)" d="M1879 384h27v7h-27zM1864 389h7v7h-7zM1854 394h7v7h-7zM1894 394h7v7h-7zM1844 399h7v7h-7zM1889 399h7v7h-7zM1834 404h7v7h-7zM1819 414h7v7h-7zM1869 419h7v7h-7zM1804 424h7v7h-7zM1864 424h7v7h-7zM1859 429h7v7h-7zM1789 434h7v7h-7zM1784 439h7v7h-7zM1844 439h7v7h-7zM1779 444h7v7h-7zM1774 449h7v7h-7zM1829 449h7v7h-7zM1769 454h7v7h-7zM1764 459h7v7h-7zM1814 459h7v7h-7zM1759 464h7v7h-7zM1804 464h7v7h-7zM1759 469h7v7h-7zM1794 469h7v7h-7zM1754 474h12v7h-12zM1779 474h12v7h-12zM1759 479h17v7h-17z"/><path fill="#feac76" transform="scale(0.2)" d="M1869 389h12v7h-12zM1889 389h12v7h-12zM1859 394h7v7h-7zM1889 394h7v7h-7zM1849 399h7v7h-7zM1839 404h7v7h-7zM1884 404h7v7h-7zM1829 409h7v7h-7zM1879 409h7v7h-7zM1874 414h7v7h-7zM1814 419h7v7h-7zM1799 429h7v7h-7zM1794 434h7v7h-7zM1849 434h7v7h-7zM1834 444h7v7h-7zM1819 454h7v7h-7zM1809 459h7v7h-7zM1764 464h7v7h-7zM1799 464h7v7h-7zM1764 469h7v7h-7zM1789 469h7v7h-7zM1764 474h17v7h-17z"/><path fill="#fec185" transform="scale(0.2)" d="M1879 389h12v7h-12zM1864 394h7v7h-7zM1884 394h7v7h-7zM1854 399h7v7h-7zM1884 399h7v7h-7zM1879 404h7v7h-7zM1834 409h7v7h-7zM1824 414h7v7h-7zM1864 419h7v7h-7zM1809 424h7v7h-7zM1859 424h7v7h-7zM1854 429h7v7h-7zM1789 439h7v7h-7zM1839 439h7v7h-7zM1784 444h7v7h-7zM1779 449h7v7h-7zM1824 449h7v7h-7zM1774 454h7v7h-7zM1814 454h7v7h-7zM1769 459h7v7h-7zM1804 459h7v7h-7zM1769 464h7v7h-7zM1794 464h7v7h-7zM1769 469h22v7h-22z"/><path fill="#fed597" transform="scale(0.2)" d="M1869 394h17v7h-17zM1879 399h7v7h-7zM1844 404h7v7h-7zM1874 409h7v7h-7zM1829 414h7v7h-7zM1869 414h7v7h-7zM1819 419h7v7h-7zM1804 429h7v7h-7zM1849 429h7v7h-7zM1799 434h7v7h-7zM1844 434h7v7h-7zM1829 444h7v7h-7zM1819 449h7v7h-7zM1779 454h7v7h-7zM1774 459h7v7h-7zM1799 459h7v7h-7zM1774 464h22v7h-22z"/><path fill="#fde9aa" transform="scale(0.2)" d="M1859 399h22v7h-22zM1849 404h7v7h-7zM1874 404h7v7h-7zM1839 409h7v7h-7zM1869 409h7v7h-7zM1864 414h7v7h-7zM1859 419h7v7h-7zM1814 424h7v7h-7zM1854 424h7v7h-7zM1809 429h7v7h-7zM1794 439h7v7h-7zM1834 439h7v7h-7zM1789 444h7v7h-7zM1824 444h7v7h-7zM1784 449h7v7h-7zM1784 454h7v7h-7zM1809 454h7v7h-7zM1779 459h22v7h-22z"/><path fill="#fcfdbf" transform="scale(0.2)" d="M1854 404h22v7h-22zM1844 409h27v7h-27zM1834 414h32v7h-32zM1824 419h37v7h-37zM1819 424h37v7h-37zM1814 429h37v7h-37zM1804 434h42v7h-42zM1799 439h37v7h-37zM1794 444h32v7h-32zM1789 449h32v7h-32zM1789 454h22v7h-22z"/></g><path d="M267.50 11.20V192.40M290.50 11.20V192.40M312.50 11.20V192.40M335.50 11.20V192.40M358.50 11.20V192.40M381.50 11.20V192.40M403.50 11.20V192.40M426.50 11.20V192.40M449.50 11.20V192.40M267.40 192.50H449.20M267.40 169.50H449.20M267.40 147.50H449.20M267.40 124.50H449.20M267.40 101.50H449.20M267.40 79.50H449.20M267.40 56.50H449.20M267.40 33.50H449.20M267.40 11.50H449.20" stroke="#c4c4c4" stroke-opacity="1.0" stroke-width="0.8" fill="none"/><path d="M267.40 192.40L449.20 11.20" stroke="#4a4a4a" stroke-width="0.85" stroke-dasharray="2.6 1.1" fill="none"/><path d="M381.02 11.20V192.40M267.40 79.15H449.20" stroke="#000" stroke-width="1.3" fill="none"/><path d="M267.50 11.50V192.50M449.50 11.50V192.50M267.50 11.50H449.50M267.50 192.50H449.50" stroke="#000" stroke-width="0.6" fill="none" stroke-linecap="square"/><path d="M267.50 192.50v2.2M290.50 192.50v2.2M312.50 192.50v2.2M335.50 192.50v2.2M358.50 192.50v2.2M381.50 192.50v2.2M403.50 192.50v2.2M426.50 192.50v2.2M449.50 192.50v2.2M267.50 192.50h-2.2M267.50 169.50h-2.2M267.50 147.50h-2.2M267.50 124.50h-2.2M267.50 101.50h-2.2M267.50 79.50h-2.2M267.50 56.50h-2.2M267.50 33.50h-2.2M267.50 11.50h-2.2" stroke="#000" stroke-width="0.6" fill="none"/><text x="267.40" y="202.60" font-size="8.40" text-anchor="middle" stroke="#000" stroke-width="0.08" textLength="16.67" lengthAdjust="spacingAndGlyphs">−10</text><text x="290.12" y="202.60" font-size="8.40" text-anchor="middle" stroke="#000" stroke-width="0.08" textLength="11.65" lengthAdjust="spacingAndGlyphs">−8</text><text x="312.85" y="202.60" font-size="8.40" text-anchor="middle" stroke="#000" stroke-width="0.08" textLength="11.65" lengthAdjust="spacingAndGlyphs">−6</text><text x="335.57" y="202.60" font-size="8.40" text-anchor="middle" stroke="#000" stroke-width="0.08" textLength="11.65" lengthAdjust="spacingAndGlyphs">−4</text><text x="358.30" y="202.60" font-size="8.40" text-anchor="middle" stroke="#000" stroke-width="0.08" textLength="11.65" lengthAdjust="spacingAndGlyphs">−2</text><text x="381.02" y="202.60" font-size="8.40" text-anchor="middle" stroke="#000" stroke-width="0.08" textLength="5.03" lengthAdjust="spacingAndGlyphs">0</text><text x="403.75" y="202.60" font-size="8.40" text-anchor="middle" stroke="#000" stroke-width="0.08" textLength="5.03" lengthAdjust="spacingAndGlyphs">2</text><text x="426.48" y="202.60" font-size="8.40" text-anchor="middle" stroke="#000" stroke-width="0.08" textLength="5.03" lengthAdjust="spacingAndGlyphs">4</text><text x="449.20" y="202.60" font-size="8.40" text-anchor="middle" stroke="#000" stroke-width="0.08" textLength="5.03" lengthAdjust="spacingAndGlyphs">6</text><text x="263.80" y="195.41" font-size="8.40" text-anchor="end" stroke="#000" stroke-width="0.08" textLength="16.67" lengthAdjust="spacingAndGlyphs">−10</text><text x="263.80" y="172.76" font-size="8.40" text-anchor="end" stroke="#000" stroke-width="0.08" textLength="11.65" lengthAdjust="spacingAndGlyphs">−8</text><text x="263.80" y="150.11" font-size="8.40" text-anchor="end" stroke="#000" stroke-width="0.08" textLength="11.65" lengthAdjust="spacingAndGlyphs">−6</text><text x="263.80" y="127.46" font-size="8.40" text-anchor="end" stroke="#000" stroke-width="0.08" textLength="11.65" lengthAdjust="spacingAndGlyphs">−4</text><text x="263.80" y="104.81" font-size="8.40" text-anchor="end" stroke="#000" stroke-width="0.08" textLength="11.65" lengthAdjust="spacingAndGlyphs">−2</text><text x="263.80" y="82.16" font-size="8.40" text-anchor="end" stroke="#000" stroke-width="0.08" textLength="5.03" lengthAdjust="spacingAndGlyphs">0</text><text x="263.80" y="59.51" font-size="8.40" text-anchor="end" stroke="#000" stroke-width="0.08" textLength="5.03" lengthAdjust="spacingAndGlyphs">2</text><text x="263.80" y="36.86" font-size="8.40" text-anchor="end" stroke="#000" stroke-width="0.08" textLength="5.03" lengthAdjust="spacingAndGlyphs">4</text><text x="263.80" y="14.21" font-size="8.40" text-anchor="end" stroke="#000" stroke-width="0.08" textLength="5.03" lengthAdjust="spacingAndGlyphs">6</text><text x="358.30" y="8.00" font-size="10.60" text-anchor="middle" stroke="#000" stroke-width="0.10" textLength="92.83" lengthAdjust="spacingAndGlyphs">Mega-scale: indel</text><text x="322.20" y="23.00" font-size="8.40" text-anchor="end" stroke="#000" stroke-width="0.08" textLength="41.00" lengthAdjust="spacingAndGlyphs">PCC: 0.80</text><text x="322.20" y="33.20" font-size="8.40" text-anchor="end" stroke="#000" stroke-width="0.08" textLength="47.93" lengthAdjust="spacingAndGlyphs">RMSE: 1.49</text><g transform="translate(358.30 214.80)"><text x="-46.75" y="0.00" font-size="10.70" stroke="#000" stroke-width="0.10" textLength="22.93" lengthAdjust="spacingAndGlyphs">ΔΔG</text><text x="-23.82" y="1.60" font-size="7.49" stroke="#000" stroke-width="0.08" textLength="13.66" lengthAdjust="spacingAndGlyphs">exp</text><text x="-6.76" y="0.00" font-size="10.70" stroke="#000" stroke-width="0.10" textLength="53.51" lengthAdjust="spacingAndGlyphs">(kcal/mol)</text></g><g transform="translate(241.80 101.80) rotate(-90)"><text x="-48.44" y="0.00" font-size="10.70" stroke="#000" stroke-width="0.10" textLength="22.93" lengthAdjust="spacingAndGlyphs">ΔΔG</text><text x="-25.50" y="1.60" font-size="7.49" stroke="#000" stroke-width="0.08" textLength="17.03" lengthAdjust="spacingAndGlyphs">pred</text><text x="-5.07" y="0.00" font-size="10.70" stroke="#000" stroke-width="0.10" textLength="53.51" lengthAdjust="spacingAndGlyphs">(kcal/mol)</text></g><g clip-path="url(#ca2)"><path fill="#060518" transform="scale(0.2)" d="M3149 219h7v7h-7zM2979 259h7v7h-7zM3064 264h7v7h-7zM3219 264h7v7h-7zM2984 269h7v7h-7zM2999 269h7v7h-7zM3044 269h7v7h-7zM3059 269h22v7h-22zM3084 269h7v7h-7zM3129 269h7v7h-7zM3144 269h7v7h-7zM3204 269h7v7h-7zM3014 274h7v7h-7zM3044 274h7v7h-7zM3069 274h7v7h-7zM3079 274h7v7h-7zM3089 274h7v7h-7zM3099 274h7v7h-7zM3129 274h7v7h-7zM3149 274h7v7h-7zM3169 274h7v7h-7zM3029 279h7v7h-7zM3044 279h7v7h-7zM3069 279h7v7h-7zM3079 279h7v7h-7zM3099 279h7v7h-7zM3109 279h7v7h-7zM2959 284h7v7h-7zM2989 284h7v7h-7zM3004 284h12v7h-12zM3029 284h7v7h-7zM3039 284h22v7h-22zM3064 284h12v7h-12zM3089 284h12v7h-12zM3104 284h17v7h-17zM3124 284h7v7h-7zM3184 284h7v7h-7zM2959 289h7v7h-7zM3019 289h7v7h-7zM3034 289h7v7h-7zM3044 289h17v7h-17zM3064 289h7v7h-7zM3074 289h12v7h-12zM3089 289h32v7h-32zM2939 294h7v7h-7zM2949 294h7v7h-7zM2999 294h12v7h-12zM3014 294h12v7h-12zM3029 294h12v7h-12zM3044 294h7v7h-7zM3054 294h52v7h-52zM3109 294h17v7h-17zM3129 294h7v7h-7zM3159 294h7v7h-7zM3174 294h12v7h-12zM2934 299h7v7h-7zM2974 299h12v7h-12zM2994 299h12v7h-12zM3009 299h37v7h-37zM3049 299h87v7h-87zM3139 299h12v7h-12zM3164 299h7v7h-7zM3174 299h12v7h-12zM2954 304h7v7h-7zM2979 304h7v7h-7zM2989 304h17v7h-17zM3009 304h17v7h-17zM3029 304h22v7h-22zM3149 304h7v7h-7zM3159 304h7v7h-7zM3194 319h7v7h-7zM2684 324h7v7h-7zM2744 324h7v7h-7zM3184 324h7v7h-7zM2854 329h7v7h-7zM3189 334h7v7h-7zM3199 334h7v7h-7zM2739 349h7v7h-7zM3194 349h7v7h-7zM3194 359h7v7h-7zM2764 364h7v7h-7zM2819 369h7v7h-7zM2814 374h7v7h-7zM2554 389h7v7h-7zM2644 389h7v7h-7zM2779 389h7v7h-7zM2794 389h7v7h-7zM2624 394h7v7h-7zM2799 394h7v7h-7zM3174 394h7v7h-7zM2629 399h7v7h-7zM2719 399h7v7h-7zM2729 399h7v7h-7zM2754 399h7v7h-7zM3184 399h7v7h-7zM3224 399h7v7h-7zM2624 404h7v7h-7zM2679 404h7v7h-7zM2754 404h7v7h-7zM2774 404h7v7h-7zM3219 404h12v7h-12zM2724 409h7v7h-7zM2744 409h7v7h-7zM2724 414h7v7h-7zM3164 414h7v7h-7zM2629 419h7v7h-7zM3179 419h7v7h-7zM2659 424h7v7h-7zM2759 424h12v7h-12zM2599 429h7v7h-7zM2654 429h7v7h-7zM2724 429h7v7h-7zM2734 429h7v7h-7zM2754 429h7v7h-7zM2769 429h7v7h-7zM3189 429h7v7h-7zM2604 434h7v7h-7zM2624 434h7v7h-7zM2689 434h7v7h-7zM2759 434h7v7h-7zM2769 434h12v7h-12zM3144 434h7v7h-7zM2669 439h7v7h-7zM2719 439h7v7h-7zM2734 439h7v7h-7zM2744 439h7v7h-7zM2774 439h7v7h-7zM2604 444h12v7h-12zM2639 444h7v7h-7zM2659 444h17v7h-17zM2704 444h7v7h-7zM2764 444h7v7h-7zM2574 449h7v7h-7zM2604 449h7v7h-7zM2644 449h7v7h-7zM2709 449h7v7h-7zM2724 449h12v7h-12zM3179 449h7v7h-7zM2564 454h7v7h-7zM2579 454h7v7h-7zM2599 454h7v7h-7zM2649 454h7v7h-7zM2659 454h12v7h-12zM2674 454h7v7h-7zM2729 454h7v7h-7zM2754 454h7v7h-7zM3149 454h7v7h-7zM2629 459h7v7h-7zM2654 459h7v7h-7zM2709 459h7v7h-7zM2749 459h7v7h-7zM2589 464h7v7h-7zM2609 464h12v7h-12zM2629 464h7v7h-7zM2674 464h7v7h-7zM2729 464h17v7h-17zM2759 464h7v7h-7zM2499 469h7v7h-7zM2569 469h7v7h-7zM2649 469h7v7h-7zM2669 469h7v7h-7zM2699 469h7v7h-7zM2714 469h7v7h-7zM2724 469h7v7h-7zM2519 474h7v7h-7zM2554 474h7v7h-7zM2569 474h7v7h-7zM2589 474h7v7h-7zM2619 474h7v7h-7zM2684 474h12v7h-12zM2704 474h7v7h-7zM2714 474h12v7h-12zM2734 474h7v7h-7zM2754 474h12v7h-12zM2529 479h7v7h-7zM2544 479h7v7h-7zM2559 479h7v7h-7zM2574 479h7v7h-7zM2584 479h12v7h-12zM2624 479h7v7h-7zM2634 479h12v7h-12zM2714 479h7v7h-7zM2739 479h17v7h-17zM2659 484h7v7h-7zM2669 484h7v7h-7zM2699 484h7v7h-7zM2724 484h7v7h-7zM2734 484h7v7h-7zM2744 484h7v7h-7zM2754 484h7v7h-7zM2549 489h12v7h-12zM2589 489h7v7h-7zM2644 489h7v7h-7zM2664 489h7v7h-7zM2699 489h7v7h-7zM2709 489h7v7h-7zM2719 489h7v7h-7zM2734 489h7v7h-7zM2744 489h12v7h-12zM2584 494h12v7h-12zM2649 494h7v7h-7zM2674 494h7v7h-7zM2694 494h7v7h-7zM2714 494h7v7h-7zM2734 494h7v7h-7zM2744 494h7v7h-7zM2569 499h7v7h-7zM2589 499h7v7h-7zM2599 499h7v7h-7zM2624 499h7v7h-7zM2689 499h7v7h-7zM2704 499h22v7h-22zM3139 499h7v7h-7zM2509 504h7v7h-7zM2564 504h7v7h-7zM2619 504h7v7h-7zM2629 504h7v7h-7zM2659 504h7v7h-7zM2674 504h12v7h-12zM2699 504h7v7h-7zM2724 504h7v7h-7zM2739 504h7v7h-7zM2749 504h7v7h-7zM2534 509h7v7h-7zM2559 509h12v7h-12zM2609 509h17v7h-17zM2669 509h22v7h-22zM2729 509h17v7h-17zM2749 509h7v7h-7zM2504 514h7v7h-7zM2534 514h7v7h-7zM2574 514h7v7h-7zM2584 514h7v7h-7zM2594 514h12v7h-12zM2609 514h7v7h-7zM2629 514h7v7h-7zM2659 514h7v7h-7zM2699 514h7v7h-7zM2714 514h7v7h-7zM2729 514h7v7h-7zM2539 519h7v7h-7zM2569 519h12v7h-12zM2584 519h7v7h-7zM2614 519h7v7h-7zM2624 519h7v7h-7zM2639 519h27v7h-27zM2669 519h12v7h-12zM2684 519h12v7h-12zM2704 519h7v7h-7zM2724 519h7v7h-7zM2734 519h12v7h-12zM2749 519h7v7h-7zM2554 524h7v7h-7zM2569 524h12v7h-12zM2584 524h12v7h-12zM2614 524h7v7h-7zM2629 524h12v7h-12zM2674 524h12v7h-12zM2689 524h7v7h-7zM2699 524h7v7h-7zM2709 524h7v7h-7zM2724 524h7v7h-7zM2739 524h17v7h-17zM2514 529h7v7h-7zM2559 529h7v7h-7zM2574 529h32v7h-32zM2614 529h7v7h-7zM2634 529h7v7h-7zM2649 529h7v7h-7zM2679 529h12v7h-12zM2699 529h22v7h-22zM2729 529h22v7h-22zM2504 534h7v7h-7zM2539 534h7v7h-7zM2569 534h7v7h-7zM2594 534h7v7h-7zM2609 534h7v7h-7zM2644 534h7v7h-7zM2684 534h7v7h-7zM2694 534h12v7h-12zM2714 534h17v7h-17zM2734 534h7v7h-7zM2749 534h7v7h-7zM3099 534h7v7h-7zM2569 539h12v7h-12zM2584 539h7v7h-7zM2594 539h12v7h-12zM2609 539h7v7h-7zM2619 539h7v7h-7zM2629 539h7v7h-7zM2649 539h17v7h-17zM2669 539h22v7h-22zM2704 539h7v7h-7zM2714 539h7v7h-7zM2724 539h7v7h-7zM2734 539h7v7h-7zM2749 539h7v7h-7zM2514 544h7v7h-7zM2544 544h7v7h-7zM2559 544h22v7h-22zM2584 544h12v7h-12zM2604 544h7v7h-7zM2619 544h7v7h-7zM2634 544h22v7h-22zM2669 544h17v7h-17zM2689 544h7v7h-7zM2719 544h27v7h-27zM2749 544h7v7h-7zM2499 549h7v7h-7zM2529 549h7v7h-7zM2559 549h17v7h-17zM2599 549h17v7h-17zM2629 549h12v7h-12zM2644 549h7v7h-7zM2669 549h17v7h-17zM2699 549h7v7h-7zM2709 549h17v7h-17zM2739 549h7v7h-7zM2754 549h7v7h-7zM2504 554h7v7h-7zM2529 554h17v7h-17zM2569 554h7v7h-7zM2589 554h7v7h-7zM2614 554h12v7h-12zM2649 554h7v7h-7zM2664 554h7v7h-7zM2679 554h7v7h-7zM2689 554h7v7h-7zM2699 554h7v7h-7zM2709 554h22v7h-22zM2734 554h12v7h-12zM2754 554h7v7h-7zM2509 559h7v7h-7zM2524 559h7v7h-7zM2554 559h7v7h-7zM2569 559h7v7h-7zM2584 559h12v7h-12zM2599 559h12v7h-12zM2614 559h7v7h-7zM2624 559h7v7h-7zM2649 559h12v7h-12zM2709 559h7v7h-7zM2719 559h47v7h-47zM3094 559h7v7h-7zM2504 564h17v7h-17zM2529 564h7v7h-7zM2539 564h17v7h-17zM2564 564h7v7h-7zM2574 564h7v7h-7zM2594 564h17v7h-17zM2614 564h12v7h-12zM2634 564h7v7h-7zM2649 564h27v7h-27zM2679 564h12v7h-12zM2694 564h7v7h-7zM2704 564h7v7h-7zM2734 564h12v7h-12zM2754 564h12v7h-12zM2499 569h7v7h-7zM2514 569h12v7h-12zM2559 569h12v7h-12zM2579 569h27v7h-27zM2609 569h17v7h-17zM2629 569h12v7h-12zM2644 569h7v7h-7zM2654 569h12v7h-12zM2669 569h7v7h-7zM2689 569h32v7h-32zM2729 569h32v7h-32zM2764 569h7v7h-7zM2504 574h7v7h-7zM2514 574h7v7h-7zM2524 574h7v7h-7zM2539 574h7v7h-7zM2554 574h7v7h-7zM2564 574h12v7h-12zM2579 574h7v7h-7zM2604 574h12v7h-12zM2619 574h7v7h-7zM2649 574h27v7h-27zM2684 574h27v7h-27zM2714 574h17v7h-17zM2749 574h17v7h-17zM2504 579h7v7h-7zM2519 579h7v7h-7zM2539 579h12v7h-12zM2569 579h7v7h-7zM2579 579h7v7h-7zM2589 579h7v7h-7zM2604 579h17v7h-17zM2624 579h17v7h-17zM2644 579h12v7h-12zM2659 579h7v7h-7zM2679 579h27v7h-27zM2719 579h12v7h-12zM2734 579h22v7h-22zM2764 579h7v7h-7zM3099 579h7v7h-7zM2514 584h7v7h-7zM2539 584h7v7h-7zM2589 584h7v7h-7zM2604 584h7v7h-7zM2619 584h7v7h-7zM2629 584h17v7h-17zM2654 584h7v7h-7zM2674 584h7v7h-7zM2684 584h7v7h-7zM2694 584h12v7h-12zM2714 584h7v7h-7zM2724 584h17v7h-17zM2744 584h7v7h-7zM2759 584h12v7h-12zM2524 589h7v7h-7zM2534 589h7v7h-7zM2544 589h12v7h-12zM2569 589h7v7h-7zM2584 589h17v7h-17zM2604 589h7v7h-7zM2614 589h17v7h-17zM2649 589h62v7h-62zM2714 589h27v7h-27zM2744 589h12v7h-12zM2509 594h7v7h-7zM2524 594h17v7h-17zM2554 594h7v7h-7zM2569 594h7v7h-7zM2599 594h7v7h-7zM2609 594h17v7h-17zM2634 594h7v7h-7zM2644 594h27v7h-27zM2674 594h17v7h-17zM2719 594h12v7h-12zM2734 594h17v7h-17zM2754 594h7v7h-7zM2764 594h7v7h-7zM2774 594h7v7h-7zM2519 599h12v7h-12zM2534 599h32v7h-32zM2569 599h7v7h-7zM2584 599h32v7h-32zM2619 599h27v7h-27zM2649 599h17v7h-17zM2669 599h7v7h-7zM2679 599h22v7h-22zM2704 599h17v7h-17zM2724 599h7v7h-7zM2734 599h12v7h-12zM2749 599h12v7h-12zM2764 599h7v7h-7zM2509 604h12v7h-12zM2524 604h7v7h-7zM2539 604h12v7h-12zM2564 604h37v7h-37zM2604 604h17v7h-17zM2624 604h32v7h-32zM2659 604h7v7h-7zM2669 604h7v7h-7zM2684 604h12v7h-12zM2699 604h7v7h-7zM2719 604h22v7h-22zM2744 604h7v7h-7zM2764 604h22v7h-22zM3229 604h7v7h-7zM2504 609h7v7h-7zM2514 609h12v7h-12zM2529 609h12v7h-12zM2544 609h12v7h-12zM2559 609h12v7h-12zM2584 609h12v7h-12zM2599 609h22v7h-22zM2624 609h7v7h-7zM2639 609h17v7h-17zM2659 609h7v7h-7zM2679 609h22v7h-22zM2704 609h12v7h-12zM2719 609h17v7h-17zM2744 609h17v7h-17zM2769 609h17v7h-17zM3124 609h7v7h-7zM3324 609h7v7h-7zM2499 614h7v7h-7zM2514 614h12v7h-12zM2529 614h12v7h-12zM2549 614h22v7h-22zM2579 614h27v7h-27zM2629 614h17v7h-17zM2649 614h47v7h-47zM2699 614h7v7h-7zM2714 614h7v7h-7zM2729 614h12v7h-12zM2749 614h17v7h-17zM2769 614h7v7h-7zM2779 614h7v7h-7zM2509 619h17v7h-17zM2534 619h7v7h-7zM2549 619h47v7h-47zM2599 619h27v7h-27zM2629 619h12v7h-12zM2649 619h12v7h-12zM2664 619h72v7h-72zM2739 619h7v7h-7zM2749 619h12v7h-12zM2769 619h12v7h-12zM2784 619h7v7h-7zM2524 624h7v7h-7zM2549 624h32v7h-32zM2584 624h22v7h-22zM2609 624h12v7h-12zM2624 624h7v7h-7zM2634 624h7v7h-7zM2649 624h7v7h-7zM2659 624h32v7h-32zM2694 624h7v7h-7zM2704 624h12v7h-12zM2724 624h7v7h-7zM2734 624h7v7h-7zM2744 624h17v7h-17zM2769 624h7v7h-7zM2779 624h12v7h-12zM2509 629h7v7h-7zM2529 629h27v7h-27zM2579 629h7v7h-7zM2589 629h7v7h-7zM2609 629h22v7h-22zM2634 629h7v7h-7zM2644 629h27v7h-27zM2674 629h17v7h-17zM2694 629h7v7h-7zM2709 629h7v7h-7zM2724 629h12v7h-12zM2744 629h32v7h-32zM2779 629h12v7h-12zM2509 634h12v7h-12zM2524 634h17v7h-17zM2544 634h12v7h-12zM2559 634h12v7h-12zM2574 634h12v7h-12zM2604 634h12v7h-12zM2619 634h7v7h-7zM2629 634h17v7h-17zM2649 634h32v7h-32zM2704 634h12v7h-12zM2734 634h12v7h-12zM2749 634h12v7h-12zM2764 634h12v7h-12zM2784 634h7v7h-7zM2499 639h12v7h-12zM2519 639h7v7h-7zM2544 639h12v7h-12zM2564 639h17v7h-17zM2584 639h42v7h-42zM2639 639h12v7h-12zM2654 639h17v7h-17zM2679 639h7v7h-7zM2699 639h7v7h-7zM2719 639h17v7h-17zM2739 639h12v7h-12zM2769 639h12v7h-12zM2509 644h7v7h-7zM2534 644h17v7h-17zM2554 644h7v7h-7zM2584 644h17v7h-17zM2614 644h7v7h-7zM2629 644h42v7h-42zM2674 644h17v7h-17zM2709 644h7v7h-7zM2729 644h12v7h-12zM2744 644h17v7h-17zM2769 644h7v7h-7zM2504 649h7v7h-7zM2519 649h12v7h-12zM2549 649h12v7h-12zM2564 649h17v7h-17zM2584 649h12v7h-12zM2599 649h7v7h-7zM2609 649h37v7h-37zM2654 649h17v7h-17zM2679 649h7v7h-7zM2689 649h12v7h-12zM2704 649h12v7h-12zM2734 649h7v7h-7zM2744 649h7v7h-7zM2769 649h17v7h-17zM2509 654h7v7h-7zM2524 654h7v7h-7zM2534 654h7v7h-7zM2544 654h7v7h-7zM2564 654h17v7h-17zM2589 654h12v7h-12zM2609 654h22v7h-22zM2634 654h17v7h-17zM2654 654h7v7h-7zM2664 654h7v7h-7zM2674 654h7v7h-7zM2684 654h7v7h-7zM2694 654h7v7h-7zM2704 654h22v7h-22zM2734 654h12v7h-12zM2749 654h12v7h-12zM2764 654h12v7h-12zM2779 654h7v7h-7zM2794 654h7v7h-7zM2514 659h7v7h-7zM2524 659h7v7h-7zM2549 659h22v7h-22zM2574 659h17v7h-17zM2599 659h32v7h-32zM2634 659h12v7h-12zM2649 659h7v7h-7zM2659 659h12v7h-12zM2674 659h12v7h-12zM2694 659h27v7h-27zM2729 659h17v7h-17zM2749 659h22v7h-22zM2774 659h7v7h-7zM2784 659h22v7h-22zM2504 664h7v7h-7zM2519 664h7v7h-7zM2529 664h7v7h-7zM2539 664h12v7h-12zM2559 664h17v7h-17zM2584 664h17v7h-17zM2604 664h7v7h-7zM2629 664h22v7h-22zM2654 664h12v7h-12zM2669 664h7v7h-7zM2679 664h7v7h-7zM2699 664h12v7h-12zM2714 664h7v7h-7zM2729 664h12v7h-12zM2749 664h12v7h-12zM2764 664h7v7h-7zM2794 664h12v7h-12zM2504 669h7v7h-7zM2524 669h7v7h-7zM2534 669h7v7h-7zM2559 669h17v7h-17zM2579 669h7v7h-7zM2609 669h12v7h-12zM2624 669h62v7h-62zM2694 669h7v7h-7zM2704 669h12v7h-12zM2724 669h12v7h-12zM2744 669h12v7h-12zM2759 669h12v7h-12zM2789 669h12v7h-12zM2804 669h7v7h-7zM2509 674h27v7h-27zM2559 674h37v7h-37zM2604 674h22v7h-22zM2629 674h7v7h-7zM2649 674h7v7h-7zM2664 674h7v7h-7zM2679 674h7v7h-7zM2689 674h7v7h-7zM2699 674h17v7h-17zM2759 674h12v7h-12zM2779 674h12v7h-12zM2794 674h12v7h-12zM2504 679h12v7h-12zM2524 679h7v7h-7zM2544 679h7v7h-7zM2559 679h22v7h-22zM2584 679h7v7h-7zM2599 679h27v7h-27zM2634 679h7v7h-7zM2654 679h7v7h-7zM2669 679h7v7h-7zM2689 679h17v7h-17zM2724 679h7v7h-7zM2734 679h17v7h-17zM2754 679h12v7h-12zM2774 679h7v7h-7zM2784 679h7v7h-7zM2794 679h17v7h-17zM2499 684h17v7h-17zM2539 684h7v7h-7zM2549 684h12v7h-12zM2564 684h7v7h-7zM2579 684h7v7h-7zM2589 684h7v7h-7zM2599 684h7v7h-7zM2624 684h12v7h-12zM2639 684h17v7h-17zM2659 684h7v7h-7zM2679 684h17v7h-17zM2709 684h17v7h-17zM2729 684h7v7h-7zM2739 684h7v7h-7zM2759 684h7v7h-7zM2769 684h7v7h-7zM2779 684h7v7h-7zM2499 689h7v7h-7zM2549 689h7v7h-7zM2564 689h27v7h-27zM2629 689h7v7h-7zM2664 689h7v7h-7zM2684 689h7v7h-7zM2694 689h17v7h-17zM2719 689h7v7h-7zM2729 689h17v7h-17zM2769 689h7v7h-7zM2789 689h12v7h-12zM2804 689h17v7h-17zM2539 694h7v7h-7zM2559 694h7v7h-7zM2574 694h7v7h-7zM2589 694h7v7h-7zM2599 694h12v7h-12zM2619 694h7v7h-7zM2629 694h7v7h-7zM2639 694h7v7h-7zM2654 694h12v7h-12zM2674 694h22v7h-22zM2704 694h7v7h-7zM2719 694h12v7h-12zM2759 694h12v7h-12zM2789 694h7v7h-7zM2799 694h12v7h-12zM2814 694h7v7h-7zM2499 699h7v7h-7zM2529 699h7v7h-7zM2539 699h17v7h-17zM2564 699h7v7h-7zM2574 699h7v7h-7zM2594 699h12v7h-12zM2609 699h17v7h-17zM2629 699h7v7h-7zM2639 699h12v7h-12zM2654 699h7v7h-7zM2664 699h7v7h-7zM2689 699h7v7h-7zM2714 699h7v7h-7zM2729 699h7v7h-7zM2744 699h12v7h-12zM2769 699h12v7h-12zM2784 699h17v7h-17zM2804 699h17v7h-17zM2519 704h12v7h-12zM2534 704h7v7h-7zM2549 704h12v7h-12zM2589 704h7v7h-7zM2599 704h7v7h-7zM2614 704h7v7h-7zM2624 704h22v7h-22zM2654 704h7v7h-7zM2664 704h12v7h-12zM2694 704h7v7h-7zM2704 704h7v7h-7zM2719 704h7v7h-7zM2729 704h7v7h-7zM2739 704h12v7h-12zM2759 704h7v7h-7zM2784 704h7v7h-7zM2794 704h7v7h-7zM2809 704h7v7h-7zM2509 709h7v7h-7zM2519 709h12v7h-12zM2539 709h7v7h-7zM2554 709h7v7h-7zM2564 709h12v7h-12zM2579 709h7v7h-7zM2594 709h7v7h-7zM2624 709h7v7h-7zM2644 709h12v7h-12zM2669 709h12v7h-12zM2684 709h7v7h-7zM2724 709h7v7h-7zM2749 709h12v7h-12zM2794 709h7v7h-7zM2829 709h7v7h-7zM2499 714h7v7h-7zM2514 714h7v7h-7zM2529 714h7v7h-7zM2539 714h7v7h-7zM2564 714h17v7h-17zM2594 714h12v7h-12zM2619 714h12v7h-12zM2709 714h7v7h-7zM2734 714h7v7h-7zM2754 714h7v7h-7zM2774 714h7v7h-7zM2789 714h7v7h-7zM3074 714h7v7h-7zM2499 719h7v7h-7zM2514 719h7v7h-7zM2529 719h7v7h-7zM2539 719h7v7h-7zM2554 719h7v7h-7zM2599 719h7v7h-7zM2639 719h12v7h-12zM2654 719h7v7h-7zM2669 719h12v7h-12zM2684 719h12v7h-12zM2734 719h7v7h-7zM2749 719h12v7h-12zM2794 719h12v7h-12zM2829 719h7v7h-7zM2539 724h7v7h-7zM2589 724h12v7h-12zM2609 724h7v7h-7zM2624 724h12v7h-12zM2639 724h7v7h-7zM2699 724h7v7h-7zM2709 724h7v7h-7zM2724 724h7v7h-7zM2734 724h7v7h-7zM2744 724h12v7h-12zM3089 724h7v7h-7zM3189 724h7v7h-7zM2574 729h7v7h-7zM2584 729h7v7h-7zM2599 729h12v7h-12zM2619 729h7v7h-7zM2639 729h7v7h-7zM2654 729h12v7h-12zM2699 729h7v7h-7zM2719 729h12v7h-12zM2834 729h7v7h-7zM2509 734h12v7h-12zM2559 734h7v7h-7zM2584 734h7v7h-7zM2604 734h7v7h-7zM2614 734h7v7h-7zM2629 734h7v7h-7zM2679 734h7v7h-7zM2729 734h7v7h-7zM2759 734h7v7h-7zM2784 734h12v7h-12zM2829 734h7v7h-7zM2499 739h7v7h-7zM2519 739h7v7h-7zM2534 739h7v7h-7zM2559 739h7v7h-7zM2599 739h7v7h-7zM2609 739h7v7h-7zM2649 739h7v7h-7zM2664 739h7v7h-7zM2714 739h7v7h-7zM2739 739h7v7h-7zM2779 739h12v7h-12zM2824 739h7v7h-7zM2854 739h7v7h-7zM2499 744h7v7h-7zM2554 744h7v7h-7zM2564 744h7v7h-7zM2574 744h7v7h-7zM2594 744h12v7h-12zM2609 744h7v7h-7zM2629 744h7v7h-7zM2654 744h7v7h-7zM2674 744h7v7h-7zM2694 744h7v7h-7zM2719 744h7v7h-7zM2759 744h7v7h-7zM2769 744h7v7h-7zM2784 744h12v7h-12zM2844 744h7v7h-7zM2864 744h12v7h-12zM2554 749h7v7h-7zM2589 749h7v7h-7zM2599 749h7v7h-7zM2609 749h12v7h-12zM2624 749h12v7h-12zM2649 749h12v7h-12zM2684 749h7v7h-7zM2714 749h7v7h-7zM2749 749h7v7h-7zM2764 749h7v7h-7zM2784 749h7v7h-7zM2799 749h7v7h-7zM2844 749h7v7h-7zM2854 749h7v7h-7zM2879 749h7v7h-7zM2564 754h7v7h-7zM2579 754h12v7h-12zM2594 754h12v7h-12zM2619 754h7v7h-7zM2634 754h12v7h-12zM2649 754h7v7h-7zM2744 754h7v7h-7zM2834 754h7v7h-7zM2854 754h7v7h-7zM2869 754h7v7h-7zM2884 754h7v7h-7zM2974 754h7v7h-7zM2549 759h7v7h-7zM2614 759h12v7h-12zM2674 759h7v7h-7zM2704 759h7v7h-7zM2734 759h12v7h-12zM2784 759h7v7h-7zM2839 759h7v7h-7zM2879 759h7v7h-7zM2889 759h32v7h-32zM2949 759h7v7h-7zM2979 759h7v7h-7zM2549 764h7v7h-7zM2604 764h7v7h-7zM2654 764h7v7h-7zM2729 764h7v7h-7zM2759 764h7v7h-7zM2864 764h7v7h-7zM2874 764h7v7h-7zM2889 764h7v7h-7zM2899 764h7v7h-7zM2909 764h7v7h-7zM2924 764h12v7h-12zM2944 764h7v7h-7zM2959 764h7v7h-7zM3004 764h7v7h-7zM2524 769h7v7h-7zM2539 769h7v7h-7zM2644 769h7v7h-7zM2654 769h7v7h-7zM2689 769h12v7h-12zM2729 769h7v7h-7zM2829 769h7v7h-7zM2879 769h7v7h-7zM2889 769h17v7h-17zM2909 769h17v7h-17zM2934 769h7v7h-7zM2954 769h7v7h-7zM2524 774h7v7h-7zM2579 774h7v7h-7zM2674 774h7v7h-7zM2684 774h7v7h-7zM2724 774h7v7h-7zM2799 774h7v7h-7zM2874 774h7v7h-7zM2884 774h7v7h-7zM2894 774h12v7h-12zM2909 774h7v7h-7zM2919 774h12v7h-12zM2954 774h7v7h-7zM2804 779h7v7h-7zM2899 779h7v7h-7zM2914 779h7v7h-7zM2934 779h7v7h-7zM2684 784h7v7h-7zM2734 784h7v7h-7zM2889 784h7v7h-7zM2899 784h7v7h-7zM2914 784h7v7h-7zM2934 784h7v7h-7zM2629 789h7v7h-7zM2659 789h7v7h-7zM2719 789h7v7h-7zM2889 789h7v7h-7zM2909 789h7v7h-7zM2939 789h7v7h-7zM2964 789h7v7h-7zM2754 794h7v7h-7zM2894 794h7v7h-7zM2914 794h7v7h-7zM2924 794h7v7h-7zM2524 799h7v7h-7zM2549 799h7v7h-7zM2684 799h7v7h-7zM2914 799h7v7h-7zM2934 799h7v7h-7zM2824 804h7v7h-7zM2894 804h7v7h-7zM2914 804h7v7h-7zM2529 809h7v7h-7zM2889 809h7v7h-7zM2919 809h7v7h-7zM2929 809h12v7h-12zM2519 814h7v7h-7zM2644 814h7v7h-7zM2804 819h7v7h-7zM2884 819h7v7h-7zM2899 819h12v7h-12zM2664 824h7v7h-7zM2884 824h7v7h-7zM2624 844h7v7h-7zM3064 854h7v7h-7zM2774 879h7v7h-7z"/><path fill="#110c2f" transform="scale(0.2)" d="M3049 304h22v7h-22zM3074 304h62v7h-62zM2929 309h7v7h-7zM2949 309h12v7h-12zM2969 309h12v7h-12zM2989 309h137v7h-137zM3129 309h12v7h-12zM3144 309h17v7h-17zM2919 314h7v7h-7zM2959 314h187v7h-187zM3149 314h7v7h-7zM3169 314h7v7h-7zM2884 319h7v7h-7zM2909 319h7v7h-7zM2934 319h7v7h-7zM2964 319h17v7h-17zM2984 319h177v7h-177zM3164 319h7v7h-7zM3174 319h7v7h-7zM2914 324h12v7h-12zM2929 324h17v7h-17zM2954 324h12v7h-12zM2969 324h192v7h-192zM3164 324h7v7h-7zM3179 324h7v7h-7zM2899 329h12v7h-12zM2914 329h12v7h-12zM2939 329h12v7h-12zM2954 329h122v7h-122zM3094 329h92v7h-92zM2889 334h22v7h-22zM2924 334h12v7h-12zM2939 334h12v7h-12zM2954 334h72v7h-72zM3124 334h52v7h-52zM3179 334h12v7h-12zM2854 339h7v7h-7zM2884 339h7v7h-7zM2899 339h17v7h-17zM2919 339h77v7h-77zM3134 339h37v7h-37zM3184 339h7v7h-7zM2879 344h7v7h-7zM2889 344h7v7h-7zM2899 344h12v7h-12zM2914 344h7v7h-7zM2924 344h7v7h-7zM2934 344h37v7h-37zM3149 344h27v7h-27zM2859 349h7v7h-7zM2879 349h7v7h-7zM2889 349h17v7h-17zM2909 349h37v7h-37zM3144 349h27v7h-27zM3179 349h7v7h-7zM2864 354h7v7h-7zM2879 354h7v7h-7zM2889 354h42v7h-42zM3149 354h27v7h-27zM2869 359h47v7h-47zM3149 359h22v7h-22zM2839 364h7v7h-7zM2859 364h7v7h-7zM2874 364h32v7h-32zM3149 364h22v7h-22zM3184 364h7v7h-7zM2844 369h17v7h-17zM2864 369h7v7h-7zM2874 369h22v7h-22zM3149 369h22v7h-22zM2839 374h7v7h-7zM2854 374h12v7h-12zM2869 374h17v7h-17zM3149 374h7v7h-7zM3159 374h22v7h-22zM2844 379h7v7h-7zM2854 379h22v7h-22zM3144 379h22v7h-22zM3179 379h7v7h-7zM2849 384h22v7h-22zM3144 384h7v7h-7zM3154 384h22v7h-22zM2839 389h7v7h-7zM2854 389h12v7h-12zM3139 389h12v7h-12zM3154 389h7v7h-7zM3169 389h7v7h-7zM2824 394h7v7h-7zM2834 394h17v7h-17zM2854 394h7v7h-7zM3144 394h7v7h-7zM3154 394h12v7h-12zM3169 394h7v7h-7zM2829 399h7v7h-7zM2839 399h7v7h-7zM2849 399h7v7h-7zM3134 399h7v7h-7zM3144 399h12v7h-12zM2799 404h7v7h-7zM2819 404h7v7h-7zM2829 404h7v7h-7zM2844 404h7v7h-7zM3129 404h12v7h-12zM3154 404h12v7h-12zM2824 409h7v7h-7zM2839 409h7v7h-7zM3134 409h7v7h-7zM2804 414h7v7h-7zM2834 414h7v7h-7zM3134 414h7v7h-7zM3149 414h7v7h-7zM2829 419h7v7h-7zM3119 419h7v7h-7zM3129 419h7v7h-7zM2789 424h7v7h-7zM2814 424h17v7h-17zM3114 424h7v7h-7zM3134 424h12v7h-12zM2804 429h7v7h-7zM2814 434h12v7h-12zM3104 434h7v7h-7zM3114 434h7v7h-7zM2809 439h12v7h-12zM2804 444h7v7h-7zM3099 444h17v7h-17zM2789 449h7v7h-7zM2804 449h12v7h-12zM2799 454h7v7h-7zM3094 454h7v7h-7zM3114 454h7v7h-7zM2789 459h7v7h-7zM2804 459h7v7h-7zM3084 459h7v7h-7zM3094 459h7v7h-7zM2779 464h7v7h-7zM2789 464h7v7h-7zM2799 464h7v7h-7zM3089 464h7v7h-7zM3109 464h7v7h-7zM2774 469h7v7h-7zM2784 469h7v7h-7zM2799 469h7v7h-7zM3074 469h7v7h-7zM3089 469h7v7h-7zM2764 474h7v7h-7zM2774 474h7v7h-7zM2789 474h12v7h-12zM3069 474h27v7h-27zM3099 474h7v7h-7zM2769 479h12v7h-12zM2784 479h12v7h-12zM3064 479h7v7h-7zM3079 479h7v7h-7zM2764 484h12v7h-12zM2789 484h7v7h-7zM3064 484h12v7h-12zM2769 489h7v7h-7zM2779 489h7v7h-7zM2789 489h7v7h-7zM3059 489h12v7h-12zM3074 489h12v7h-12zM2764 494h7v7h-7zM2779 494h7v7h-7zM3059 494h7v7h-7zM3069 494h12v7h-12zM2769 499h7v7h-7zM2784 499h7v7h-7zM3054 499h7v7h-7zM3064 499h12v7h-12zM2779 504h17v7h-17zM3054 504h7v7h-7zM3084 504h7v7h-7zM2754 509h12v7h-12zM2769 509h7v7h-7zM2784 509h12v7h-12zM3054 509h7v7h-7zM3069 509h7v7h-7zM3079 509h7v7h-7zM3089 509h7v7h-7zM2764 514h17v7h-17zM2784 514h7v7h-7zM3054 514h7v7h-7zM3079 514h7v7h-7zM2754 519h7v7h-7zM2774 519h12v7h-12zM2789 519h7v7h-7zM3049 519h12v7h-12zM3069 519h7v7h-7zM3084 519h7v7h-7zM2754 524h7v7h-7zM2794 524h7v7h-7zM3049 524h7v7h-7zM3064 524h7v7h-7zM3079 524h7v7h-7zM2754 529h7v7h-7zM2779 529h7v7h-7zM2789 529h12v7h-12zM3049 529h7v7h-7zM3059 529h22v7h-22zM2754 534h7v7h-7zM2764 534h12v7h-12zM2784 534h22v7h-22zM3049 534h17v7h-17zM2774 539h7v7h-7zM2789 539h7v7h-7zM3049 539h17v7h-17zM2759 544h7v7h-7zM2774 544h12v7h-12zM2794 544h12v7h-12zM3069 544h7v7h-7zM2759 549h22v7h-22zM3049 549h7v7h-7zM2759 554h22v7h-22zM2784 554h7v7h-7zM2794 554h7v7h-7zM2804 554h7v7h-7zM3049 554h12v7h-12zM2764 559h17v7h-17zM2784 559h27v7h-27zM3049 559h7v7h-7zM2764 564h17v7h-17zM2784 564h12v7h-12zM2804 564h12v7h-12zM3054 564h7v7h-7zM2799 569h17v7h-17zM2769 574h17v7h-17zM2804 574h7v7h-7zM3044 574h7v7h-7zM3059 574h7v7h-7zM2774 579h7v7h-7zM2784 579h12v7h-12zM2804 579h7v7h-7zM2814 579h12v7h-12zM3044 579h7v7h-7zM3059 579h7v7h-7zM2779 584h7v7h-7zM2789 584h37v7h-37zM3049 584h7v7h-7zM3074 584h7v7h-7zM2774 589h7v7h-7zM2784 589h7v7h-7zM2799 589h7v7h-7zM2809 589h7v7h-7zM2819 589h7v7h-7zM2779 594h7v7h-7zM2804 594h7v7h-7zM2814 594h12v7h-12zM3039 594h7v7h-7zM3054 594h7v7h-7zM2779 599h7v7h-7zM2789 599h12v7h-12zM2804 599h27v7h-27zM2799 604h22v7h-22zM3054 604h7v7h-7zM2789 609h7v7h-7zM2799 609h7v7h-7zM2814 609h12v7h-12zM2829 609h7v7h-7zM3034 609h7v7h-7zM3044 609h12v7h-12zM2784 614h12v7h-12zM2799 614h7v7h-7zM2824 614h7v7h-7zM2789 619h7v7h-7zM2799 619h12v7h-12zM2819 619h7v7h-7zM2834 619h7v7h-7zM3034 619h7v7h-7zM2789 624h27v7h-27zM2819 624h7v7h-7zM2829 624h12v7h-12zM2789 629h17v7h-17zM2814 629h7v7h-7zM2829 629h12v7h-12zM3034 629h7v7h-7zM3054 629h7v7h-7zM2794 634h7v7h-7zM2819 634h7v7h-7zM2834 634h7v7h-7zM2804 639h7v7h-7zM2814 639h37v7h-37zM2794 644h7v7h-7zM2809 644h17v7h-17zM2834 644h22v7h-22zM3029 644h7v7h-7zM2809 649h17v7h-17zM2839 649h7v7h-7zM2849 649h7v7h-7zM3019 649h7v7h-7zM3044 649h7v7h-7zM2799 654h12v7h-12zM2839 654h17v7h-17zM2804 659h17v7h-17zM2824 659h7v7h-7zM2834 659h7v7h-7zM2854 659h7v7h-7zM3014 659h7v7h-7zM3054 659h7v7h-7zM2819 664h7v7h-7zM2829 664h17v7h-17zM2859 664h12v7h-12zM3019 664h7v7h-7zM2814 669h22v7h-22zM2839 669h22v7h-22zM2864 669h7v7h-7zM2809 674h22v7h-22zM2844 674h7v7h-7zM2854 674h7v7h-7zM2864 674h7v7h-7zM3009 674h7v7h-7zM2854 679h7v7h-7zM2869 679h12v7h-12zM2824 684h7v7h-7zM2849 684h7v7h-7zM2859 684h7v7h-7zM2874 684h7v7h-7zM2884 684h7v7h-7zM2984 684h7v7h-7zM2824 689h7v7h-7zM2844 689h7v7h-7zM2879 689h27v7h-27zM2984 689h7v7h-7zM2834 694h7v7h-7zM2854 694h7v7h-7zM2864 694h12v7h-12zM2879 694h12v7h-12zM2899 694h22v7h-22zM2954 694h7v7h-7zM2969 694h7v7h-7zM2854 699h12v7h-12zM2869 699h7v7h-7zM2889 699h32v7h-32zM2924 699h22v7h-22zM2964 699h7v7h-7zM3004 699h7v7h-7zM2834 704h7v7h-7zM2844 704h17v7h-17zM2874 704h22v7h-22zM2899 704h7v7h-7zM2909 704h27v7h-27zM2939 704h17v7h-17zM2959 704h7v7h-7zM2849 709h7v7h-7zM2864 709h7v7h-7zM2874 709h22v7h-22zM2904 709h47v7h-47zM2849 714h7v7h-7zM2874 714h7v7h-7zM2884 714h22v7h-22zM2909 714h7v7h-7zM2919 714h12v7h-12zM2934 714h7v7h-7zM2944 714h7v7h-7zM2984 714h7v7h-7zM2859 719h7v7h-7zM2879 719h47v7h-47zM2929 719h7v7h-7zM2964 719h7v7h-7zM3009 719h7v7h-7zM2864 724h7v7h-7zM2884 724h12v7h-12zM2899 724h37v7h-37zM2939 724h7v7h-7zM2954 724h7v7h-7zM2859 729h77v7h-77zM2944 729h7v7h-7zM2959 729h7v7h-7zM2869 734h17v7h-17zM2889 734h12v7h-12zM2904 734h37v7h-37zM2989 734h7v7h-7zM2874 739h22v7h-22zM2904 739h12v7h-12zM2919 739h17v7h-17zM2949 739h17v7h-17zM2879 744h52v7h-52zM2939 744h7v7h-7zM2884 749h32v7h-32zM2919 749h32v7h-32zM2974 749h7v7h-7zM2899 754h27v7h-27zM2934 754h7v7h-7zM2944 754h12v7h-12zM2959 754h7v7h-7zM2919 759h32v7h-32z"/><path fill="#1e1149" transform="scale(0.2)" d="M3074 329h22v7h-22zM3024 334h102v7h-102zM2994 339h142v7h-142zM2969 344h72v7h-72zM3104 344h42v7h-42zM2944 349h67v7h-67zM3119 349h27v7h-27zM2929 354h57v7h-57zM3124 354h27v7h-27zM2914 359h52v7h-52zM3129 359h22v7h-22zM2904 364h47v7h-47zM3129 364h22v7h-22zM2894 369h42v7h-42zM3129 369h22v7h-22zM2884 374h37v7h-37zM3129 374h22v7h-22zM2874 379h37v7h-37zM3129 379h17v7h-17zM2869 384h32v7h-32zM3124 384h22v7h-22zM2864 389h32v7h-32zM3124 389h17v7h-17zM2859 394h27v7h-27zM3119 394h12v7h-12zM3134 394h7v7h-7zM2854 399h27v7h-27zM3119 399h7v7h-7zM2849 404h27v7h-27zM2844 409h22v7h-22zM3109 409h12v7h-12zM3124 409h7v7h-7zM2839 414h22v7h-22zM3104 414h7v7h-7zM2834 419h22v7h-22zM3099 419h22v7h-22zM2829 424h22v7h-22zM3104 424h7v7h-7zM2829 429h17v7h-17zM3099 429h7v7h-7zM2824 434h22v7h-22zM3089 434h7v7h-7zM3099 434h7v7h-7zM2829 439h7v7h-7zM3084 439h7v7h-7zM3094 439h7v7h-7zM2824 444h12v7h-12zM3079 444h17v7h-17zM2814 449h17v7h-17zM3074 449h12v7h-12zM2814 454h17v7h-17zM3074 454h12v7h-12zM2819 459h7v7h-7zM3064 459h17v7h-17zM2814 464h12v7h-12zM3059 464h22v7h-22zM2814 469h7v7h-7zM3054 469h17v7h-17zM2804 474h17v7h-17zM3049 474h22v7h-22zM2799 479h7v7h-7zM3044 479h22v7h-22zM2799 484h7v7h-7zM2809 484h7v7h-7zM3044 484h22v7h-22zM2794 489h12v7h-12zM2809 489h7v7h-7zM3039 489h22v7h-22zM2809 494h7v7h-7zM3034 494h27v7h-27zM2809 499h7v7h-7zM3034 499h22v7h-22zM2809 504h7v7h-7zM3034 504h22v7h-22zM2794 509h17v7h-17zM3029 509h27v7h-27zM2804 514h7v7h-7zM2814 514h7v7h-7zM3029 514h17v7h-17zM3049 514h7v7h-7zM2809 519h12v7h-12zM3029 519h17v7h-17zM2804 524h7v7h-7zM2819 524h7v7h-7zM3029 524h17v7h-17zM2804 529h12v7h-12zM2819 529h7v7h-7zM3024 529h22v7h-22zM2804 534h17v7h-17zM3024 534h27v7h-27zM2824 539h7v7h-7zM3024 539h27v7h-27zM2804 544h7v7h-7zM2814 544h7v7h-7zM2829 544h7v7h-7zM3024 544h27v7h-27zM2809 549h12v7h-12zM2824 549h12v7h-12zM3024 549h27v7h-27zM2809 554h7v7h-7zM2819 554h22v7h-22zM3024 554h27v7h-27zM2814 559h27v7h-27zM3024 559h17v7h-17zM2824 564h22v7h-22zM3024 564h17v7h-17zM3044 564h7v7h-7zM2819 569h17v7h-17zM2839 569h7v7h-7zM3019 569h17v7h-17zM3039 569h7v7h-7zM2819 574h7v7h-7zM2834 574h17v7h-17zM3019 574h27v7h-27zM2839 579h12v7h-12zM3019 579h17v7h-17zM2824 584h32v7h-32zM3019 584h27v7h-27zM2824 589h7v7h-7zM2834 589h22v7h-22zM3014 589h32v7h-32zM2829 594h27v7h-27zM3014 594h17v7h-17zM2829 599h32v7h-32zM3009 599h7v7h-7zM3019 599h22v7h-22zM2834 604h27v7h-27zM3009 604h17v7h-17zM2834 609h32v7h-32zM3004 609h12v7h-12zM3019 609h17v7h-17zM2834 614h37v7h-37zM3004 614h22v7h-22zM3029 614h7v7h-7zM2839 619h32v7h-32zM2999 619h22v7h-22zM3024 619h12v7h-12zM2839 624h37v7h-37zM2999 624h17v7h-17zM3019 624h7v7h-7zM2844 629h12v7h-12zM2859 629h22v7h-22zM2994 629h32v7h-32zM2849 634h17v7h-17zM2869 634h12v7h-12zM2989 634h7v7h-7zM2999 634h17v7h-17zM2849 639h42v7h-42zM2984 639h27v7h-27zM3019 639h7v7h-7zM2854 644h12v7h-12zM2869 644h27v7h-27zM2979 644h7v7h-7zM2994 644h7v7h-7zM3014 644h7v7h-7zM2854 649h47v7h-47zM2969 649h32v7h-32zM2859 654h17v7h-17zM2884 654h7v7h-7zM2894 654h17v7h-17zM2964 654h7v7h-7zM2984 654h7v7h-7zM2994 654h12v7h-12zM2864 659h7v7h-7zM2874 659h12v7h-12zM2889 659h37v7h-37zM2954 659h12v7h-12zM2969 659h17v7h-17zM2989 659h7v7h-7zM2869 664h12v7h-12zM2894 664h77v7h-77zM2974 664h22v7h-22zM2879 669h22v7h-22zM2909 669h12v7h-12zM2924 669h32v7h-32zM2979 669h12v7h-12zM2879 674h7v7h-7zM2894 674h7v7h-7zM2904 674h7v7h-7zM2919 674h12v7h-12zM2934 674h7v7h-7zM2944 674h7v7h-7zM2969 674h7v7h-7zM2979 674h7v7h-7zM2894 679h7v7h-7zM2909 679h32v7h-32zM2954 679h7v7h-7zM2974 679h7v7h-7zM2894 684h7v7h-7zM2904 684h22v7h-22zM2934 684h22v7h-22zM2959 684h22v7h-22zM2904 689h32v7h-32zM2949 689h7v7h-7zM2919 694h12v7h-12zM2934 694h12v7h-12z"/><path fill="#2f1163" transform="scale(0.2)" d="M3039 344h67v7h-67zM3009 349h112v7h-112zM2984 354h42v7h-42zM3104 354h22v7h-22zM2964 359h37v7h-37zM3109 359h22v7h-22zM2949 364h32v7h-32zM3114 364h17v7h-17zM2934 369h32v7h-32zM3114 369h17v7h-17zM2919 374h32v7h-32zM3119 374h12v7h-12zM2909 379h27v7h-27zM3114 379h17v7h-17zM2899 384h27v7h-27zM3114 384h12v7h-12zM2894 389h22v7h-22zM3114 389h12v7h-12zM2884 394h22v7h-22zM3109 394h12v7h-12zM2879 399h17v7h-17zM3104 399h17v7h-17zM2874 404h17v7h-17zM3104 404h12v7h-12zM2864 409h22v7h-22zM3099 409h12v7h-12zM2859 414h17v7h-17zM3094 414h12v7h-12zM2854 419h17v7h-17zM3089 419h12v7h-12zM2849 424h17v7h-17zM3084 424h12v7h-12zM2844 429h17v7h-17zM3079 429h17v7h-17zM2844 434h12v7h-12zM3074 434h17v7h-17zM2839 439h17v7h-17zM3069 439h17v7h-17zM2834 444h17v7h-17zM3064 444h17v7h-17zM2834 449h12v7h-12zM3059 449h17v7h-17zM2829 454h12v7h-12zM3054 454h17v7h-17zM2824 459h12v7h-12zM3049 459h17v7h-17zM2829 464h7v7h-7zM3044 464h17v7h-17zM2824 469h12v7h-12zM3039 469h17v7h-17zM2819 474h17v7h-17zM3034 474h17v7h-17zM2824 479h7v7h-7zM3029 479h17v7h-17zM2814 484h7v7h-7zM2824 484h7v7h-7zM3029 484h17v7h-17zM2814 489h7v7h-7zM2824 489h7v7h-7zM3024 489h17v7h-17zM2819 494h12v7h-12zM3019 494h17v7h-17zM3019 499h17v7h-17zM2824 504h12v7h-12zM3014 504h22v7h-22zM2819 509h17v7h-17zM3014 509h17v7h-17zM2819 514h17v7h-17zM3009 514h22v7h-22zM2819 519h7v7h-7zM2829 519h12v7h-12zM3009 519h22v7h-22zM2824 524h22v7h-22zM3009 524h22v7h-22zM2824 529h22v7h-22zM3009 529h17v7h-17zM2829 534h22v7h-22zM3004 534h22v7h-22zM2829 539h22v7h-22zM3004 539h22v7h-22zM2834 544h22v7h-22zM3004 544h22v7h-22zM2834 549h27v7h-27zM3004 549h22v7h-22zM2839 554h22v7h-22zM3004 554h22v7h-22zM2839 559h27v7h-27zM2999 559h27v7h-27zM2844 564h22v7h-22zM2999 564h27v7h-27zM2844 569h27v7h-27zM2999 569h22v7h-22zM2849 574h22v7h-22zM2999 574h22v7h-22zM2849 579h27v7h-27zM2994 579h27v7h-27zM2854 584h22v7h-22zM2994 584h27v7h-27zM2854 589h27v7h-27zM2989 589h27v7h-27zM2854 594h32v7h-32zM2989 594h27v7h-27zM2859 599h27v7h-27zM2984 599h27v7h-27zM2859 604h32v7h-32zM2984 604h27v7h-27zM2864 609h32v7h-32zM2979 609h27v7h-27zM2869 614h32v7h-32zM2974 614h32v7h-32zM2869 619h37v7h-37zM2969 619h32v7h-32zM2874 624h42v7h-42zM2959 624h42v7h-42zM2879 629h47v7h-47zM2944 629h52v7h-52zM2879 634h112v7h-112zM2889 639h97v7h-97zM2894 644h87v7h-87zM2899 649h72v7h-72zM2909 654h57v7h-57zM2924 659h12v7h-12zM2939 659h7v7h-7z"/><path fill="#420f75" transform="scale(0.2)" d="M3024 354h82v7h-82zM2999 359h32v7h-32zM3094 359h17v7h-17zM2979 364h27v7h-27zM3099 364h17v7h-17zM2964 369h22v7h-22zM3104 369h12v7h-12zM2954 374h17v7h-17zM3104 374h17v7h-17zM2934 379h22v7h-22zM3104 379h12v7h-12zM2924 384h22v7h-22zM3104 384h12v7h-12zM2914 389h17v7h-17zM3104 389h12v7h-12zM2904 394h17v7h-17zM3099 394h12v7h-12zM2894 399h17v7h-17zM3099 399h7v7h-7zM2889 404h17v7h-17zM3094 404h12v7h-12zM2884 409h12v7h-12zM3089 409h12v7h-12zM2874 414h17v7h-17zM3089 414h7v7h-7zM2869 419h17v7h-17zM3079 419h12v7h-12zM2864 424h17v7h-17zM3074 424h12v7h-12zM2859 429h12v7h-12zM3069 429h12v7h-12zM2854 434h17v7h-17zM3064 434h12v7h-12zM2854 439h12v7h-12zM3059 439h12v7h-12zM2849 444h12v7h-12zM3054 444h12v7h-12zM2844 449h12v7h-12zM3049 449h12v7h-12zM2839 454h12v7h-12zM3044 454h12v7h-12zM2839 459h12v7h-12zM3039 459h12v7h-12zM2834 464h12v7h-12zM3034 464h12v7h-12zM2834 469h12v7h-12zM3029 469h12v7h-12zM2834 474h12v7h-12zM3024 474h12v7h-12zM2829 479h12v7h-12zM3019 479h12v7h-12zM2829 484h12v7h-12zM3014 484h17v7h-17zM2829 489h12v7h-12zM3009 489h17v7h-17zM2829 494h17v7h-17zM3004 494h17v7h-17zM2829 499h17v7h-17zM3004 499h17v7h-17zM2834 504h12v7h-12zM2999 504h17v7h-17zM2834 509h17v7h-17zM2999 509h17v7h-17zM2834 514h22v7h-22zM2994 514h17v7h-17zM2839 519h17v7h-17zM2994 519h17v7h-17zM2844 524h17v7h-17zM2989 524h22v7h-22zM2844 529h22v7h-22zM2989 529h22v7h-22zM2849 534h22v7h-22zM2989 534h17v7h-17zM2849 539h27v7h-27zM2984 539h22v7h-22zM2854 544h22v7h-22zM2984 544h22v7h-22zM2859 549h22v7h-22zM2984 549h22v7h-22zM2859 554h27v7h-27zM2979 554h27v7h-27zM2864 559h22v7h-22zM2979 559h22v7h-22zM2864 564h27v7h-27zM2979 564h22v7h-22zM2869 569h27v7h-27zM2974 569h27v7h-27zM2869 574h27v7h-27zM2974 574h27v7h-27zM2874 579h27v7h-27zM2969 579h27v7h-27zM2874 584h32v7h-32zM2964 584h32v7h-32zM2879 589h32v7h-32zM2964 589h27v7h-27zM2884 594h32v7h-32zM2954 594h37v7h-37zM2884 599h42v7h-42zM2944 599h42v7h-42zM2889 604h97v7h-97zM2894 609h87v7h-87zM2899 614h77v7h-77zM2904 619h67v7h-67zM2914 624h47v7h-47zM2924 629h22v7h-22z"/><path fill="#54137d" transform="scale(0.2)" d="M3029 359h67v7h-67zM3004 364h22v7h-22zM3084 364h17v7h-17zM2984 369h22v7h-22zM3094 369h12v7h-12zM2969 374h17v7h-17zM3099 374h7v7h-7zM2954 379h17v7h-17zM3099 379h7v7h-7zM2944 384h12v7h-12zM3099 384h7v7h-7zM2929 389h17v7h-17zM3094 389h12v7h-12zM2919 394h17v7h-17zM3094 394h7v7h-7zM2909 399h17v7h-17zM3089 399h12v7h-12zM2904 404h12v7h-12zM3089 404h7v7h-7zM2894 409h12v7h-12zM3084 409h7v7h-7zM2889 414h12v7h-12zM3079 414h7v7h-7zM2884 419h12v7h-12zM3074 419h7v7h-7zM2879 424h7v7h-7zM3069 424h7v7h-7zM2869 429h12v7h-12zM3064 429h7v7h-7zM2869 434h7v7h-7zM3059 434h7v7h-7zM2864 439h7v7h-7zM3054 439h7v7h-7zM2859 444h7v7h-7zM3044 444h12v7h-12zM2854 449h12v7h-12zM3039 449h12v7h-12zM2849 454h12v7h-12zM3034 454h12v7h-12zM2849 459h7v7h-7zM3029 459h12v7h-12zM2844 464h12v7h-12zM3024 464h12v7h-12zM2844 469h12v7h-12zM3019 469h12v7h-12zM2844 474h7v7h-7zM3014 474h12v7h-12zM2839 479h12v7h-12zM3009 479h12v7h-12zM2839 484h12v7h-12zM3004 484h12v7h-12zM2844 489h12v7h-12zM2999 489h12v7h-12zM2844 494h12v7h-12zM2994 494h12v7h-12zM2844 499h12v7h-12zM2989 499h17v7h-17zM2844 504h17v7h-17zM2984 504h17v7h-17zM2849 509h17v7h-17zM2979 509h22v7h-22zM2854 514h17v7h-17zM2979 514h17v7h-17zM2854 519h22v7h-22zM2974 519h22v7h-22zM2859 524h22v7h-22zM2974 524h17v7h-17zM2864 529h22v7h-22zM2969 529h22v7h-22zM2869 534h22v7h-22zM2964 534h27v7h-27zM2874 539h22v7h-22zM2964 539h22v7h-22zM2874 544h27v7h-27zM2959 544h27v7h-27zM2879 549h27v7h-27zM2959 549h27v7h-27zM2884 554h27v7h-27zM2954 554h27v7h-27zM2884 559h37v7h-37zM2949 559h32v7h-32zM2889 564h92v7h-92zM2894 569h82v7h-82zM2894 574h82v7h-82zM2899 579h72v7h-72zM2904 584h62v7h-62zM2909 589h57v7h-57zM2914 594h42v7h-42zM2924 599h22v7h-22z"/><path fill="#651a80" transform="scale(0.2)" d="M3024 364h62v7h-62zM3004 369h17v7h-17zM3084 369h12v7h-12zM2984 374h17v7h-17zM3089 374h12v7h-12zM2969 379h12v7h-12zM3089 379h12v7h-12zM2954 384h17v7h-17zM3089 384h12v7h-12zM2944 389h12v7h-12zM3089 389h7v7h-7zM2934 394h12v7h-12zM3089 394h7v7h-7zM2924 399h12v7h-12zM3084 399h7v7h-7zM2914 404h12v7h-12zM3079 404h12v7h-12zM2904 409h12v7h-12zM3079 409h7v7h-7zM2899 414h12v7h-12zM3074 414h7v7h-7zM2894 419h7v7h-7zM3069 419h7v7h-7zM2884 424h12v7h-12zM3064 424h7v7h-7zM2879 429h12v7h-12zM3059 429h7v7h-7zM2874 434h12v7h-12zM3054 434h7v7h-7zM2869 439h12v7h-12zM3044 439h12v7h-12zM2864 444h12v7h-12zM3039 444h7v7h-7zM2864 449h7v7h-7zM3034 449h7v7h-7zM2859 454h7v7h-7zM3029 454h7v7h-7zM2854 459h12v7h-12zM3019 459h12v7h-12zM2854 464h12v7h-12zM3014 464h12v7h-12zM2854 469h7v7h-7zM3009 469h12v7h-12zM2849 474h12v7h-12zM3004 474h12v7h-12zM2849 479h12v7h-12zM2994 479h17v7h-17zM2849 484h12v7h-12zM2989 484h17v7h-17zM2854 489h12v7h-12zM2984 489h17v7h-17zM2854 494h12v7h-12zM2979 494h17v7h-17zM2854 499h17v7h-17zM2974 499h17v7h-17zM2859 504h17v7h-17zM2969 504h17v7h-17zM2864 509h17v7h-17zM2964 509h17v7h-17zM2869 514h22v7h-22zM2959 514h22v7h-22zM2874 519h22v7h-22zM2954 519h22v7h-22zM2879 524h27v7h-27zM2944 524h32v7h-32zM2884 529h37v7h-37zM2934 529h37v7h-37zM2889 534h77v7h-77zM2894 539h72v7h-72zM2899 544h62v7h-62zM2904 549h57v7h-57zM2909 554h47v7h-47zM2919 559h32v7h-32z"/><path fill="#782281" transform="scale(0.2)" d="M3019 369h22v7h-22zM3064 369h22v7h-22zM2999 374h12v7h-12zM3079 374h12v7h-12zM2979 379h17v7h-17zM3084 379h7v7h-7zM2969 384h7v7h-7zM3084 384h7v7h-7zM2954 389h12v7h-12zM3084 389h7v7h-7zM2944 394h7v7h-7zM3084 394h7v7h-7zM2934 399h7v7h-7zM3079 399h7v7h-7zM2924 404h7v7h-7zM3074 404h7v7h-7zM2914 409h12v7h-12zM3074 409h7v7h-7zM2909 414h7v7h-7zM3069 414h7v7h-7zM2899 419h12v7h-12zM3064 419h7v7h-7zM2894 424h7v7h-7zM3059 424h7v7h-7zM2889 429h7v7h-7zM3054 429h7v7h-7zM2884 434h7v7h-7zM3044 434h12v7h-12zM2879 439h7v7h-7zM3039 439h7v7h-7zM2874 444h7v7h-7zM3034 444h7v7h-7zM2869 449h7v7h-7zM3029 449h7v7h-7zM2864 454h12v7h-12zM3019 454h12v7h-12zM2864 459h7v7h-7zM3014 459h7v7h-7zM2864 464h7v7h-7zM3009 464h7v7h-7zM2859 469h12v7h-12zM2999 469h12v7h-12zM2859 474h12v7h-12zM2994 474h12v7h-12zM2859 479h12v7h-12zM2989 479h7v7h-7zM2859 484h12v7h-12zM2979 484h12v7h-12zM2864 489h12v7h-12zM2974 489h12v7h-12zM2864 494h17v7h-17zM2964 494h17v7h-17zM2869 499h17v7h-17zM2959 499h17v7h-17zM2874 504h22v7h-22zM2949 504h22v7h-22zM2879 509h27v7h-27zM2939 509h27v7h-27zM2889 514h72v7h-72zM2894 519h62v7h-62zM2904 524h42v7h-42zM2919 529h17v7h-17z"/><path fill="#892881" transform="scale(0.2)" d="M3039 369h27v7h-27zM3009 374h17v7h-17zM3069 374h12v7h-12zM2994 379h12v7h-12zM3074 379h12v7h-12zM2974 384h12v7h-12zM3079 384h7v7h-7zM2964 389h7v7h-7zM3079 389h7v7h-7zM2949 394h12v7h-12zM3079 394h7v7h-7zM2939 399h12v7h-12zM3074 399h7v7h-7zM2929 404h12v7h-12zM3069 404h7v7h-7zM2924 409h7v7h-7zM3069 409h7v7h-7zM2914 414h7v7h-7zM3064 414h7v7h-7zM2909 419h7v7h-7zM3059 419h7v7h-7zM2899 424h7v7h-7zM3054 424h7v7h-7zM2894 429h7v7h-7zM3049 429h7v7h-7zM2889 434h7v7h-7zM3039 434h7v7h-7zM2884 439h7v7h-7zM3034 439h7v7h-7zM2879 444h7v7h-7zM3029 444h7v7h-7zM2874 449h12v7h-12zM3019 449h12v7h-12zM2874 454h7v7h-7zM3014 454h7v7h-7zM2869 459h7v7h-7zM3009 459h7v7h-7zM2869 464h7v7h-7zM2999 464h12v7h-12zM2869 469h7v7h-7zM2994 469h7v7h-7zM2869 474h7v7h-7zM2984 474h12v7h-12zM2869 479h7v7h-7zM2979 479h12v7h-12zM2869 484h12v7h-12zM2969 484h12v7h-12zM2874 489h12v7h-12zM2959 489h17v7h-17zM2879 494h17v7h-17zM2949 494h17v7h-17zM2884 499h22v7h-22zM2934 499h27v7h-27zM2894 504h57v7h-57zM2904 509h37v7h-37z"/><path fill="#9b2e7f" transform="scale(0.2)" d="M3024 374h47v7h-47zM3004 379h12v7h-12zM3064 379h12v7h-12zM2984 384h12v7h-12zM3069 384h12v7h-12zM2969 389h12v7h-12zM3074 389h7v7h-7zM2959 394h7v7h-7zM3074 394h7v7h-7zM2949 399h7v7h-7zM3069 399h7v7h-7zM2939 404h7v7h-7zM2929 409h7v7h-7zM3064 409h7v7h-7zM2919 414h7v7h-7zM3059 414h7v7h-7zM2914 419h7v7h-7zM3054 419h7v7h-7zM2904 424h7v7h-7zM3049 424h7v7h-7zM2899 429h7v7h-7zM3044 429h7v7h-7zM2894 434h7v7h-7zM3034 434h7v7h-7zM2889 439h7v7h-7zM3029 439h7v7h-7zM2884 444h7v7h-7zM3024 444h7v7h-7zM2884 449h7v7h-7zM3014 449h7v7h-7zM2879 454h7v7h-7zM3009 454h7v7h-7zM2874 459h12v7h-12zM2999 459h12v7h-12zM2874 464h7v7h-7zM2994 464h7v7h-7zM2874 469h7v7h-7zM2984 469h12v7h-12zM2874 474h7v7h-7zM2974 474h12v7h-12zM2874 479h12v7h-12zM2964 479h17v7h-17zM2879 484h12v7h-12zM2954 484h17v7h-17zM2884 489h17v7h-17zM2944 489h17v7h-17zM2894 494h57v7h-57zM2904 499h32v7h-32z"/><path fill="#ad347c" transform="scale(0.2)" d="M3014 379h12v7h-12zM3054 379h12v7h-12zM2994 384h12v7h-12zM3064 384h7v7h-7zM2979 389h7v7h-7zM3069 389h7v7h-7zM2964 394h7v7h-7zM3069 394h7v7h-7zM2954 399h7v7h-7zM3064 399h7v7h-7zM2944 404h7v7h-7zM3064 404h7v7h-7zM2934 409h7v7h-7zM3059 409h7v7h-7zM2924 414h7v7h-7zM3054 414h7v7h-7zM2919 419h7v7h-7zM3049 419h7v7h-7zM2909 424h7v7h-7zM3044 424h7v7h-7zM2904 429h7v7h-7zM3039 429h7v7h-7zM2899 434h7v7h-7zM2894 439h7v7h-7zM3024 439h7v7h-7zM2889 444h7v7h-7zM3019 444h7v7h-7zM2889 449h7v7h-7zM3009 449h7v7h-7zM2884 454h7v7h-7zM3004 454h7v7h-7zM2884 459h7v7h-7zM2994 459h7v7h-7zM2879 464h7v7h-7zM2984 464h12v7h-12zM2879 469h12v7h-12zM2979 469h7v7h-7zM2879 474h12v7h-12zM2964 474h12v7h-12zM2884 479h12v7h-12zM2954 479h12v7h-12zM2889 484h17v7h-17zM2939 484h17v7h-17zM2899 489h47v7h-47z"/><path fill="#bf3a77" transform="scale(0.2)" d="M3024 379h32v7h-32zM3004 384h7v7h-7zM3059 384h7v7h-7zM2984 389h12v7h-12zM3059 389h12v7h-12zM2969 394h12v7h-12zM3064 394h7v7h-7zM2959 399h7v7h-7zM3059 399h7v7h-7zM2949 404h7v7h-7zM3059 404h7v7h-7zM2939 409h7v7h-7zM3054 409h7v7h-7zM2929 414h7v7h-7zM3049 414h7v7h-7zM2924 419h7v7h-7zM3044 419h7v7h-7zM2914 424h7v7h-7zM3039 424h7v7h-7zM2909 429h7v7h-7zM3034 429h7v7h-7zM2904 434h7v7h-7zM3029 434h7v7h-7zM2899 439h7v7h-7zM3019 439h7v7h-7zM2894 444h7v7h-7zM3014 444h7v7h-7zM2894 449h7v7h-7zM3004 449h7v7h-7zM2889 454h7v7h-7zM2999 454h7v7h-7zM2889 459h7v7h-7zM2989 459h7v7h-7zM2884 464h12v7h-12zM2979 464h7v7h-7zM2889 469h7v7h-7zM2969 469h12v7h-12zM2889 474h12v7h-12zM2959 474h7v7h-7zM2894 479h17v7h-17zM2939 479h17v7h-17zM2904 484h37v7h-37z"/><path fill="#d0416f" transform="scale(0.2)" d="M3009 384h17v7h-17zM3044 384h17v7h-17zM2994 389h7v7h-7zM3054 389h7v7h-7zM2979 394h7v7h-7zM3059 394h7v7h-7zM2964 399h7v7h-7zM2954 404h7v7h-7zM3054 404h7v7h-7zM2944 409h7v7h-7zM3049 409h7v7h-7zM2934 414h7v7h-7zM2929 419h7v7h-7zM2919 424h7v7h-7zM2914 429h7v7h-7zM3029 429h7v7h-7zM2909 434h7v7h-7zM3024 434h7v7h-7zM2904 439h7v7h-7zM2899 444h7v7h-7zM3009 444h7v7h-7zM2999 449h7v7h-7zM2894 454h7v7h-7zM2994 454h7v7h-7zM2894 459h7v7h-7zM2984 459h7v7h-7zM2894 464h7v7h-7zM2974 464h7v7h-7zM2894 469h7v7h-7zM2959 469h12v7h-12zM2899 474h12v7h-12zM2944 474h17v7h-17zM2909 479h32v7h-32z"/><path fill="#e04c67" transform="scale(0.2)" d="M3024 384h22v7h-22zM2999 389h12v7h-12zM3049 389h7v7h-7zM2984 394h7v7h-7zM3054 394h7v7h-7zM2969 399h7v7h-7zM3054 399h7v7h-7zM2959 404h7v7h-7zM3049 404h7v7h-7zM2949 409h7v7h-7zM2939 414h7v7h-7zM3044 414h7v7h-7zM3039 419h7v7h-7zM2924 424h7v7h-7zM3034 424h7v7h-7zM2919 429h7v7h-7zM2914 434h7v7h-7zM3019 434h7v7h-7zM2909 439h7v7h-7zM3014 439h7v7h-7zM2904 444h7v7h-7zM3004 444h7v7h-7zM2899 449h7v7h-7zM2899 454h7v7h-7zM2989 454h7v7h-7zM2899 459h7v7h-7zM2979 459h7v7h-7zM2899 464h7v7h-7zM2964 464h12v7h-12zM2899 469h12v7h-12zM2949 469h12v7h-12zM2909 474h37v7h-37z"/><path fill="#ed5a5f" transform="scale(0.2)" d="M3009 389h12v7h-12zM3039 389h12v7h-12zM2989 394h7v7h-7zM3044 394h12v7h-12zM2974 399h7v7h-7zM3049 399h7v7h-7zM2964 404h7v7h-7zM2954 409h7v7h-7zM3044 409h7v7h-7zM2944 414h7v7h-7zM3039 414h7v7h-7zM2934 419h7v7h-7zM3034 419h7v7h-7zM2929 424h7v7h-7zM3029 424h7v7h-7zM3024 429h7v7h-7zM3009 439h7v7h-7zM2909 444h7v7h-7zM2999 444h7v7h-7zM2904 449h7v7h-7zM2994 449h7v7h-7zM2904 454h7v7h-7zM2984 454h7v7h-7zM2904 459h7v7h-7zM2969 459h12v7h-12zM2904 464h12v7h-12zM2959 464h7v7h-7zM2909 469h42v7h-42z"/><path fill="#f66e5c" transform="scale(0.2)" d="M3019 389h22v7h-22zM2994 394h12v7h-12zM3039 394h7v7h-7zM2979 399h7v7h-7zM3044 399h7v7h-7zM2969 404h7v7h-7zM3044 404h7v7h-7zM2959 409h7v7h-7zM3039 409h7v7h-7zM2949 414h7v7h-7zM2939 419h7v7h-7zM2934 424h7v7h-7zM3024 424h7v7h-7zM2924 429h7v7h-7zM3019 429h7v7h-7zM2919 434h7v7h-7zM3014 434h7v7h-7zM2914 439h7v7h-7zM3004 439h7v7h-7zM2914 444h7v7h-7zM2909 449h7v7h-7zM2989 449h7v7h-7zM2909 454h7v7h-7zM2979 454h7v7h-7zM2909 459h7v7h-7zM2964 459h7v7h-7zM2914 464h12v7h-12zM2944 464h17v7h-17z"/><path fill="#fb835f" transform="scale(0.2)" d="M3004 394h12v7h-12zM3029 394h12v7h-12zM2984 399h12v7h-12zM3039 399h7v7h-7zM2974 404h7v7h-7zM3039 404h7v7h-7zM3034 414h7v7h-7zM2944 419h7v7h-7zM3029 419h7v7h-7zM2929 429h7v7h-7zM2924 434h7v7h-7zM3009 434h7v7h-7zM2919 439h7v7h-7zM2994 444h7v7h-7zM2914 449h7v7h-7zM2984 449h7v7h-7zM2914 454h7v7h-7zM2969 454h12v7h-12zM2914 459h12v7h-12zM2954 459h12v7h-12zM2924 464h22v7h-22z"/><path fill="#fd9869" transform="scale(0.2)" d="M3014 394h17v7h-17zM2994 399h7v7h-7zM3029 399h12v7h-12zM2979 404h7v7h-7zM3034 404h7v7h-7zM2964 409h7v7h-7zM3034 409h7v7h-7zM2954 414h7v7h-7zM3029 414h7v7h-7zM2949 419h7v7h-7zM3024 419h7v7h-7zM2939 424h7v7h-7zM3019 424h7v7h-7zM2934 429h7v7h-7zM3014 429h7v7h-7zM2929 434h7v7h-7zM3004 434h7v7h-7zM2924 439h7v7h-7zM2999 439h7v7h-7zM2919 444h7v7h-7zM2989 444h7v7h-7zM2919 449h7v7h-7zM2979 449h7v7h-7zM2919 454h12v7h-12zM2964 454h7v7h-7zM2924 459h32v7h-32z"/><path fill="#feac76" transform="scale(0.2)" d="M2999 399h17v7h-17zM3019 399h12v7h-12zM2984 404h7v7h-7zM3029 404h7v7h-7zM2969 409h7v7h-7zM3029 409h7v7h-7zM2959 414h7v7h-7zM3024 414h7v7h-7zM3019 419h7v7h-7zM2944 424h7v7h-7zM3014 424h7v7h-7zM2939 429h7v7h-7zM3009 429h7v7h-7zM2929 439h7v7h-7zM2994 439h7v7h-7zM2924 444h7v7h-7zM2984 444h7v7h-7zM2924 449h7v7h-7zM2969 449h12v7h-12zM2929 454h12v7h-12zM2954 454h12v7h-12z"/><path fill="#fec185" transform="scale(0.2)" d="M3014 399h7v7h-7zM2989 404h7v7h-7zM3019 404h12v7h-12zM2974 409h7v7h-7zM3024 409h7v7h-7zM2964 414h7v7h-7zM2954 419h7v7h-7zM2949 424h7v7h-7zM3004 429h7v7h-7zM2934 434h7v7h-7zM2999 434h7v7h-7zM2934 439h7v7h-7zM2989 439h7v7h-7zM2929 444h7v7h-7zM2979 444h7v7h-7zM2929 449h12v7h-12zM2964 449h7v7h-7zM2939 454h17v7h-17z"/><path fill="#fed597" transform="scale(0.2)" d="M2994 404h27v7h-27zM2979 409h7v7h-7zM3019 409h7v7h-7zM2969 414h7v7h-7zM3019 414h7v7h-7zM2959 419h7v7h-7zM3014 419h7v7h-7zM3009 424h7v7h-7zM2944 429h7v7h-7zM2939 434h7v7h-7zM2994 434h7v7h-7zM2939 439h7v7h-7zM2984 439h7v7h-7zM2934 444h12v7h-12zM2969 444h12v7h-12zM2939 449h27v7h-27z"/><path fill="#fde9aa" transform="scale(0.2)" d="M2984 409h12v7h-12zM3009 409h12v7h-12zM2974 414h7v7h-7zM3009 414h12v7h-12zM2964 419h7v7h-7zM3009 419h7v7h-7zM2954 424h7v7h-7zM3004 424h7v7h-7zM2949 429h7v7h-7zM2999 429h7v7h-7zM2944 434h7v7h-7zM2989 434h7v7h-7zM2944 439h7v7h-7zM2979 439h7v7h-7zM2944 444h27v7h-27z"/><path fill="#fcfdbf" transform="scale(0.2)" d="M2994 409h17v7h-17zM2979 414h32v7h-32zM2969 419h42v7h-42zM2959 424h47v7h-47zM2954 429h47v7h-47zM2949 434h42v7h-42zM2949 439h32v7h-32z"/></g><path d="M500.50 11.20V192.40M522.50 11.20V192.40M545.50 11.20V192.40M567.50 11.20V192.40M590.50 11.20V192.40M613.50 11.20V192.40M635.50 11.20V192.40M658.50 11.20V192.40M681.50 11.20V192.40M500.00 192.50H681.30M500.00 169.50H681.30M500.00 147.50H681.30M500.00 124.50H681.30M500.00 101.50H681.30M500.00 79.50H681.30M500.00 56.50H681.30M500.00 33.50H681.30M500.00 11.50H681.30" stroke="#c4c4c4" stroke-opacity="1.0" stroke-width="0.8" fill="none"/><path d="M500.00 192.40L681.30 11.20" stroke="#4a4a4a" stroke-width="0.85" stroke-dasharray="2.6 1.1" fill="none"/><path d="M613.31 11.20V192.40M500.00 79.15H681.30" stroke="#000" stroke-width="1.3" fill="none"/><path d="M500.50 11.50V192.50M681.50 11.50V192.50M500.50 11.50H681.50M500.50 192.50H681.50" stroke="#000" stroke-width="0.6" fill="none" stroke-linecap="square"/><path d="M500.50 192.50v2.2M522.50 192.50v2.2M545.50 192.50v2.2M567.50 192.50v2.2M590.50 192.50v2.2M613.50 192.50v2.2M635.50 192.50v2.2M658.50 192.50v2.2M681.50 192.50v2.2M500.50 192.50h-2.2M500.50 169.50h-2.2M500.50 147.50h-2.2M500.50 124.50h-2.2M500.50 101.50h-2.2M500.50 79.50h-2.2M500.50 56.50h-2.2M500.50 33.50h-2.2M500.50 11.50h-2.2" stroke="#000" stroke-width="0.6" fill="none"/><text x="500.00" y="202.60" font-size="8.40" text-anchor="middle" stroke="#000" stroke-width="0.08" textLength="16.67" lengthAdjust="spacingAndGlyphs">−10</text><text x="522.66" y="202.60" font-size="8.40" text-anchor="middle" stroke="#000" stroke-width="0.08" textLength="11.65" lengthAdjust="spacingAndGlyphs">−8</text><text x="545.33" y="202.60" font-size="8.40" text-anchor="middle" stroke="#000" stroke-width="0.08" textLength="11.65" lengthAdjust="spacingAndGlyphs">−6</text><text x="567.99" y="202.60" font-size="8.40" text-anchor="middle" stroke="#000" stroke-width="0.08" textLength="11.65" lengthAdjust="spacingAndGlyphs">−4</text><text x="590.65" y="202.60" font-size="8.40" text-anchor="middle" stroke="#000" stroke-width="0.08" textLength="11.65" lengthAdjust="spacingAndGlyphs">−2</text><text x="613.31" y="202.60" font-size="8.40" text-anchor="middle" stroke="#000" stroke-width="0.08" textLength="5.03" lengthAdjust="spacingAndGlyphs">0</text><text x="635.97" y="202.60" font-size="8.40" text-anchor="middle" stroke="#000" stroke-width="0.08" textLength="5.03" lengthAdjust="spacingAndGlyphs">2</text><text x="658.64" y="202.60" font-size="8.40" text-anchor="middle" stroke="#000" stroke-width="0.08" textLength="5.03" lengthAdjust="spacingAndGlyphs">4</text><text x="681.30" y="202.60" font-size="8.40" text-anchor="middle" stroke="#000" stroke-width="0.08" textLength="5.03" lengthAdjust="spacingAndGlyphs">6</text><text x="496.40" y="195.41" font-size="8.40" text-anchor="end" stroke="#000" stroke-width="0.08" textLength="16.67" lengthAdjust="spacingAndGlyphs">−10</text><text x="496.40" y="172.76" font-size="8.40" text-anchor="end" stroke="#000" stroke-width="0.08" textLength="11.65" lengthAdjust="spacingAndGlyphs">−8</text><text x="496.40" y="150.11" font-size="8.40" text-anchor="end" stroke="#000" stroke-width="0.08" textLength="11.65" lengthAdjust="spacingAndGlyphs">−6</text><text x="496.40" y="127.46" font-size="8.40" text-anchor="end" stroke="#000" stroke-width="0.08" textLength="11.65" lengthAdjust="spacingAndGlyphs">−4</text><text x="496.40" y="104.81" font-size="8.40" text-anchor="end" stroke="#000" stroke-width="0.08" textLength="11.65" lengthAdjust="spacingAndGlyphs">−2</text><text x="496.40" y="82.16" font-size="8.40" text-anchor="end" stroke="#000" stroke-width="0.08" textLength="5.03" lengthAdjust="spacingAndGlyphs">0</text><text x="496.40" y="59.51" font-size="8.40" text-anchor="end" stroke="#000" stroke-width="0.08" textLength="5.03" lengthAdjust="spacingAndGlyphs">2</text><text x="496.40" y="36.86" font-size="8.40" text-anchor="end" stroke="#000" stroke-width="0.08" textLength="5.03" lengthAdjust="spacingAndGlyphs">4</text><text x="496.40" y="14.21" font-size="8.40" text-anchor="end" stroke="#000" stroke-width="0.08" textLength="5.03" lengthAdjust="spacingAndGlyphs">6</text><text x="590.65" y="8.00" font-size="10.60" text-anchor="middle" stroke="#000" stroke-width="0.10" textLength="103.10" lengthAdjust="spacingAndGlyphs">Mega-scale: double</text><text x="554.80" y="23.00" font-size="8.40" text-anchor="end" stroke="#000" stroke-width="0.08" textLength="41.00" lengthAdjust="spacingAndGlyphs">PCC: 0.63</text><text x="554.80" y="33.20" font-size="8.40" text-anchor="end" stroke="#000" stroke-width="0.08" textLength="47.93" lengthAdjust="spacingAndGlyphs">RMSE: 1.80</text><g transform="translate(590.65 214.80)"><text x="-46.75" y="0.00" font-size="10.70" stroke="#000" stroke-width="0.10" textLength="22.93" lengthAdjust="spacingAndGlyphs">ΔΔG</text><text x="-23.82" y="1.60" font-size="7.49" stroke="#000" stroke-width="0.08" textLength="13.66" lengthAdjust="spacingAndGlyphs">exp</text><text x="-6.76" y="0.00" font-size="10.70" stroke="#000" stroke-width="0.10" textLength="53.51" lengthAdjust="spacingAndGlyphs">(kcal/mol)</text></g><g transform="translate(474.40 101.80) rotate(-90)"><text x="-48.44" y="0.00" font-size="10.70" stroke="#000" stroke-width="0.10" textLength="22.93" lengthAdjust="spacingAndGlyphs">ΔΔG</text><text x="-25.50" y="1.60" font-size="7.49" stroke="#000" stroke-width="0.08" textLength="17.03" lengthAdjust="spacingAndGlyphs">pred</text><text x="-5.07" y="0.00" font-size="10.70" stroke="#000" stroke-width="0.10" textLength="53.51" lengthAdjust="spacingAndGlyphs">(kcal/mol)</text></g><text x="3.60" y="17.60" font-size="20.50" font-weight="bold">a</text><path d="M43.50 245.30V373.30M60.50 245.30V373.30M78.50 245.30V373.30M95.50 245.30V373.30M112.50 245.30V373.30M129.50 245.30V373.30M146.50 245.30V373.30M26.60 365.50H162.10M26.60 350.50H162.10M26.60 336.50H162.10M26.60 321.50H162.10M26.60 307.50H162.10M26.60 293.50H162.10M26.60 278.50H162.10M26.60 264.50H162.10M26.60 249.50H162.10" stroke="#c4c4c4" stroke-opacity="1.0" stroke-width="0.8" fill="none"/><g clip-path="url(#cb0)"><g stroke-linecap="round" stroke-linejoin="round" fill="none"><path d="M40 276 Q42 270 47 268 M38 279 Q35 285 41 285 Q46 288 44 291 M80 268 Q85 270 83 276 Q86 280 84 284 M72 300 Q76 303 80 298 M46 305 Q43 310 50 308 M60 262 Q66 266 70 262 Q74 260 78 264 Q82 262 82 266 M66 298 L74 303 M52 288 Q56 284 60 286 M41 271 Q38 274 42 276 M44 300 Q40 304 45 306 M62 296 Q60 302 66 304" stroke="#2af52a" stroke-width="0.8"/><path d="M46 266 L58 270 L70 268 L84 284 L82 294 L74 292 L74 296 L62 300 L50 306 L42 298 L46 290 L52 286 L50 278 Z" fill="#2af52a" fill-opacity="0.35" stroke="none"/><path d="M48 270 L62 284 L72 296 M58 282 L66 290 M64 276 L74 286 M52 292 L64 286" stroke="#2af52a" stroke-width="5" stroke-opacity="0.6"/><g transform="translate(45.50 266.00) rotate(48.2)"><rect x="0" y="-2.50" width="18.77" height="5.00" rx="2.00" fill="#2af52a"/><path d="M0.00 -2.50q1.53 2.50 0 5.00M1.71 -2.50q1.53 2.50 0 5.00M3.41 -2.50q1.53 2.50 0 5.00M5.12 -2.50q1.53 2.50 0 5.00M6.82 -2.50q1.53 2.50 0 5.00M8.53 -2.50q1.53 2.50 0 5.00M10.24 -2.50q1.53 2.50 0 5.00M11.94 -2.50q1.53 2.50 0 5.00M13.65 -2.50q1.53 2.50 0 5.00M15.36 -2.50q1.53 2.50 0 5.00M17.06 -2.50q1.53 2.50 0 5.00M18.77 -2.50q1.53 2.50 0 5.00" stroke="#0b900b" stroke-width="0.45" stroke-opacity="0.8" fill="none"/><path d="M1.67 2.15H17.10" stroke="#0b900b" stroke-width="0.7" stroke-opacity="0.7"/></g><g transform="translate(57.00 281.00) rotate(46.0)"><rect x="0" y="-2.60" width="19.45" height="5.20" rx="2.08" fill="#2af52a"/><path d="M0.00 -2.60q1.53 2.60 0 5.20M1.77 -2.60q1.53 2.60 0 5.20M3.54 -2.60q1.53 2.60 0 5.20M5.30 -2.60q1.53 2.60 0 5.20M7.07 -2.60q1.53 2.60 0 5.20M8.84 -2.60q1.53 2.60 0 5.20M10.61 -2.60q1.53 2.60 0 5.20M12.38 -2.60q1.53 2.60 0 5.20M14.14 -2.60q1.53 2.60 0 5.20M15.91 -2.60q1.53 2.60 0 5.20M17.68 -2.60q1.53 2.60 0 5.20M19.45 -2.60q1.53 2.60 0 5.20" stroke="#0b900b" stroke-width="0.45" stroke-opacity="0.8" fill="none"/><path d="M1.73 2.25H17.72" stroke="#0b900b" stroke-width="0.7" stroke-opacity="0.7"/></g><g transform="translate(69.00 270.00) rotate(52.9)"><rect x="0" y="-2.50" width="28.20" height="5.00" rx="2.00" fill="#2af52a"/><path d="M0.00 -2.50q1.53 2.50 0 5.00M1.76 -2.50q1.53 2.50 0 5.00M3.53 -2.50q1.53 2.50 0 5.00M5.29 -2.50q1.53 2.50 0 5.00M7.05 -2.50q1.53 2.50 0 5.00M8.81 -2.50q1.53 2.50 0 5.00M10.58 -2.50q1.53 2.50 0 5.00M12.34 -2.50q1.53 2.50 0 5.00M14.10 -2.50q1.53 2.50 0 5.00M15.86 -2.50q1.53 2.50 0 5.00M17.63 -2.50q1.53 2.50 0 5.00M19.39 -2.50q1.53 2.50 0 5.00M21.15 -2.50q1.53 2.50 0 5.00M22.91 -2.50q1.53 2.50 0 5.00M24.68 -2.50q1.53 2.50 0 5.00M26.44 -2.50q1.53 2.50 0 5.00M28.20 -2.50q1.53 2.50 0 5.00" stroke="#0b900b" stroke-width="0.45" stroke-opacity="0.8" fill="none"/><path d="M1.67 2.15H26.53" stroke="#0b900b" stroke-width="0.7" stroke-opacity="0.7"/></g><g transform="translate(47.50 305.50) rotate(-32.0)"><rect x="0" y="-2.70" width="33.02" height="5.40" rx="2.16" fill="#2af52a"/><path d="M0.00 -2.70q1.53 2.70 0 5.40M1.74 -2.70q1.53 2.70 0 5.40M3.48 -2.70q1.53 2.70 0 5.40M5.21 -2.70q1.53 2.70 0 5.40M6.95 -2.70q1.53 2.70 0 5.40M8.69 -2.70q1.53 2.70 0 5.40M10.43 -2.70q1.53 2.70 0 5.40M12.16 -2.70q1.53 2.70 0 5.40M13.90 -2.70q1.53 2.70 0 5.40M15.64 -2.70q1.53 2.70 0 5.40M17.38 -2.70q1.53 2.70 0 5.40M19.12 -2.70q1.53 2.70 0 5.40M20.85 -2.70q1.53 2.70 0 5.40M22.59 -2.70q1.53 2.70 0 5.40M24.33 -2.70q1.53 2.70 0 5.40M26.07 -2.70q1.53 2.70 0 5.40M27.81 -2.70q1.53 2.70 0 5.40M29.54 -2.70q1.53 2.70 0 5.40M31.28 -2.70q1.53 2.70 0 5.40M33.02 -2.70q1.53 2.70 0 5.40" stroke="#0b900b" stroke-width="0.45" stroke-opacity="0.8" fill="none"/><path d="M1.80 2.35H31.22" stroke="#0b900b" stroke-width="0.7" stroke-opacity="0.7"/></g><g transform="translate(40.50 291.00) rotate(26.6)"><rect x="0" y="-2.50" width="14.53" height="5.00" rx="2.00" fill="#2af52a"/><path d="M0.00 -2.50q1.53 2.50 0 5.00M1.82 -2.50q1.53 2.50 0 5.00M3.63 -2.50q1.53 2.50 0 5.00M5.45 -2.50q1.53 2.50 0 5.00M7.27 -2.50q1.53 2.50 0 5.00M9.08 -2.50q1.53 2.50 0 5.00M10.90 -2.50q1.53 2.50 0 5.00M12.72 -2.50q1.53 2.50 0 5.00M14.53 -2.50q1.53 2.50 0 5.00" stroke="#0b900b" stroke-width="0.45" stroke-opacity="0.8" fill="none"/><path d="M1.67 2.15H12.87" stroke="#0b900b" stroke-width="0.7" stroke-opacity="0.7"/></g><g transform="translate(51.00 283.00) rotate(28.6)"><rect x="0" y="-1.80" width="12.53" height="3.60" rx="1.44" fill="#2af52a"/><path d="M0.00 -1.80q1.53 1.80 0 3.60M1.79 -1.80q1.53 1.80 0 3.60M3.58 -1.80q1.53 1.80 0 3.60M5.37 -1.80q1.53 1.80 0 3.60M7.16 -1.80q1.53 1.80 0 3.60M8.95 -1.80q1.53 1.80 0 3.60M10.74 -1.80q1.53 1.80 0 3.60M12.53 -1.80q1.53 1.80 0 3.60" stroke="#0b900b" stroke-width="0.45" stroke-opacity="0.8" fill="none"/><path d="M1.20 1.45H11.33" stroke="#0b900b" stroke-width="0.7" stroke-opacity="0.7"/></g><g transform="translate(61.00 276.00) rotate(45.0)"><rect x="0" y="-1.90" width="9.90" height="3.80" rx="1.52" fill="#2af52a"/><path d="M0.00 -1.90q1.53 1.90 0 3.80M1.98 -1.90q1.53 1.90 0 3.80M3.96 -1.90q1.53 1.90 0 3.80M5.94 -1.90q1.53 1.90 0 3.80M7.92 -1.90q1.53 1.90 0 3.80M9.90 -1.90q1.53 1.90 0 3.80" stroke="#0b900b" stroke-width="0.45" stroke-opacity="0.8" fill="none"/><path d="M1.27 1.55H8.63" stroke="#0b900b" stroke-width="0.7" stroke-opacity="0.7"/></g><g transform="translate(63.00 291.00) rotate(-23.2)"><rect x="0" y="-1.60" width="7.62" height="3.20" rx="1.28" fill="#2af52a"/><path d="M0.00 -1.60q1.53 1.60 0 3.20M1.90 -1.60q1.53 1.60 0 3.20M3.81 -1.60q1.53 1.60 0 3.20M5.71 -1.60q1.53 1.60 0 3.20M7.62 -1.60q1.53 1.60 0 3.20" stroke="#0b900b" stroke-width="0.45" stroke-opacity="0.8" fill="none"/><path d="M1.07 1.25H6.55" stroke="#0b900b" stroke-width="0.7" stroke-opacity="0.7"/></g><g transform="translate(74.00 281.00) rotate(-39.8)"><rect x="0" y="-1.50" width="7.81" height="3.00" rx="1.20" fill="#2af52a"/><path d="M0.00 -1.50q1.53 1.50 0 3.00M1.95 -1.50q1.53 1.50 0 3.00M3.91 -1.50q1.53 1.50 0 3.00M5.86 -1.50q1.53 1.50 0 3.00M7.81 -1.50q1.53 1.50 0 3.00" stroke="#0b900b" stroke-width="0.45" stroke-opacity="0.8" fill="none"/><path d="M1.00 1.15H6.81" stroke="#0b900b" stroke-width="0.7" stroke-opacity="0.7"/></g><g transform="translate(59.5 270.3) rotate(-40)"><ellipse cx="-3.0" cy="0" rx="1.1" ry="2.8" stroke="#0a5a0a" stroke-width="1.0" fill="#1aa01a" fill-opacity="0.4"/><ellipse cx="-1.0" cy="0" rx="1.1" ry="2.8" stroke="#0a5a0a" stroke-width="1.0" fill="#1aa01a" fill-opacity="0.4"/><ellipse cx="1.0" cy="0" rx="1.1" ry="2.8" stroke="#0a5a0a" stroke-width="1.0" fill="#1aa01a" fill-opacity="0.4"/><ellipse cx="3.0" cy="0" rx="1.1" ry="2.8" stroke="#0a5a0a" stroke-width="1.0" fill="#1aa01a" fill-opacity="0.4"/></g><circle cx="49.7" cy="262.1" r="2.3" stroke="#2af52a" stroke-width="1.1"/></g><path d="M129.60 245.30V373.30M26.60 278.70H162.10" stroke="#000" stroke-width="1.3" fill="none"/><path fill="#138c13" d="M116.4 250.7a1.2 1.2 0 1 0 2.40 0a1.2 1.2 0 1 0 -2.40 0zM138.5 250.7a1.2 1.2 0 1 0 2.40 0a1.2 1.2 0 1 0 -2.40 0zM118.9 259.3a1.2 1.2 0 1 0 2.40 0a1.2 1.2 0 1 0 -2.40 0zM136.8 260.9a1.2 1.2 0 1 0 2.40 0a1.2 1.2 0 1 0 -2.40 0zM142.0 259.9a1.2 1.2 0 1 0 2.40 0a1.2 1.2 0 1 0 -2.40 0zM146.9 260.9a1.2 1.2 0 1 0 2.40 0a1.2 1.2 0 1 0 -2.40 0zM154.4 259.7a1.2 1.2 0 1 0 2.40 0a1.2 1.2 0 1 0 -2.40 0zM124.0 267.9a1.2 1.2 0 1 0 2.40 0a1.2 1.2 0 1 0 -2.40 0zM108.6 273.6a1.2 1.2 0 1 0 2.40 0a1.2 1.2 0 1 0 -2.40 0zM111.7 274.2a1.2 1.2 0 1 0 2.40 0a1.2 1.2 0 1 0 -2.40 0zM114.8 275.3a1.2 1.2 0 1 0 2.40 0a1.2 1.2 0 1 0 -2.40 0zM117.8 275.7a1.2 1.2 0 1 0 2.40 0a1.2 1.2 0 1 0 -2.40 0zM120.9 276.1a1.2 1.2 0 1 0 2.40 0a1.2 1.2 0 1 0 -2.40 0zM122.9 273.6a1.2 1.2 0 1 0 2.40 0a1.2 1.2 0 1 0 -2.40 0zM125.0 274.6a1.2 1.2 0 1 0 2.40 0a1.2 1.2 0 1 0 -2.40 0zM127.0 275.7a1.2 1.2 0 1 0 2.40 0a1.2 1.2 0 1 0 -2.40 0zM131.1 271.6a1.2 1.2 0 1 0 2.40 0a1.2 1.2 0 1 0 -2.40 0zM133.2 271.2a1.2 1.2 0 1 0 2.40 0a1.2 1.2 0 1 0 -2.40 0zM136.2 270.6a1.2 1.2 0 1 0 2.40 0a1.2 1.2 0 1 0 -2.40 0zM138.3 269.9a1.2 1.2 0 1 0 2.40 0a1.2 1.2 0 1 0 -2.40 0zM140.3 279.8a1.2 1.2 0 1 0 2.40 0a1.2 1.2 0 1 0 -2.40 0zM144.4 282.2a1.2 1.2 0 1 0 2.40 0a1.2 1.2 0 1 0 -2.40 0zM109.6 282.2a1.2 1.2 0 1 0 2.40 0a1.2 1.2 0 1 0 -2.40 0zM103.1 283.4a1.2 1.2 0 1 0 2.40 0a1.2 1.2 0 1 0 -2.40 0zM97.4 286.3a1.2 1.2 0 1 0 2.40 0a1.2 1.2 0 1 0 -2.40 0zM97.4 289.6a1.2 1.2 0 1 0 2.40 0a1.2 1.2 0 1 0 -2.40 0zM103.5 289.0a1.2 1.2 0 1 0 2.40 0a1.2 1.2 0 1 0 -2.40 0zM110.7 287.9a1.2 1.2 0 1 0 2.40 0a1.2 1.2 0 1 0 -2.40 0zM114.8 285.9a1.2 1.2 0 1 0 2.40 0a1.2 1.2 0 1 0 -2.40 0zM118.9 283.8a1.2 1.2 0 1 0 2.40 0a1.2 1.2 0 1 0 -2.40 0zM120.9 285.9a1.2 1.2 0 1 0 2.40 0a1.2 1.2 0 1 0 -2.40 0zM122.9 284.9a1.2 1.2 0 1 0 2.40 0a1.2 1.2 0 1 0 -2.40 0zM125.0 287.9a1.2 1.2 0 1 0 2.40 0a1.2 1.2 0 1 0 -2.40 0zM127.0 286.9a1.2 1.2 0 1 0 2.40 0a1.2 1.2 0 1 0 -2.40 0zM129.1 285.9a1.2 1.2 0 1 0 2.40 0a1.2 1.2 0 1 0 -2.40 0zM131.1 286.9a1.2 1.2 0 1 0 2.40 0a1.2 1.2 0 1 0 -2.40 0zM133.2 287.5a1.2 1.2 0 1 0 2.40 0a1.2 1.2 0 1 0 -2.40 0zM136.2 286.9a1.2 1.2 0 1 0 2.40 0a1.2 1.2 0 1 0 -2.40 0zM139.3 287.9a1.2 1.2 0 1 0 2.40 0a1.2 1.2 0 1 0 -2.40 0zM142.4 288.3a1.2 1.2 0 1 0 2.40 0a1.2 1.2 0 1 0 -2.40 0zM143.4 289.6a1.2 1.2 0 1 0 2.40 0a1.2 1.2 0 1 0 -2.40 0zM95.3 295.1a1.2 1.2 0 1 0 2.40 0a1.2 1.2 0 1 0 -2.40 0zM101.5 294.1a1.2 1.2 0 1 0 2.40 0a1.2 1.2 0 1 0 -2.40 0zM105.6 297.7a1.2 1.2 0 1 0 2.40 0a1.2 1.2 0 1 0 -2.40 0zM108.6 297.1a1.2 1.2 0 1 0 2.40 0a1.2 1.2 0 1 0 -2.40 0zM111.7 295.1a1.2 1.2 0 1 0 2.40 0a1.2 1.2 0 1 0 -2.40 0zM114.8 296.1a1.2 1.2 0 1 0 2.40 0a1.2 1.2 0 1 0 -2.40 0zM117.8 295.7a1.2 1.2 0 1 0 2.40 0a1.2 1.2 0 1 0 -2.40 0zM120.9 296.5a1.2 1.2 0 1 0 2.40 0a1.2 1.2 0 1 0 -2.40 0zM124.0 297.7a1.2 1.2 0 1 0 2.40 0a1.2 1.2 0 1 0 -2.40 0zM127.0 294.1a1.2 1.2 0 1 0 2.40 0a1.2 1.2 0 1 0 -2.40 0zM128.1 291.0a1.2 1.2 0 1 0 2.40 0a1.2 1.2 0 1 0 -2.40 0zM112.7 302.2a1.2 1.2 0 1 0 2.40 0a1.2 1.2 0 1 0 -2.40 0zM117.8 302.2a1.2 1.2 0 1 0 2.40 0a1.2 1.2 0 1 0 -2.40 0zM122.9 304.3a1.2 1.2 0 1 0 2.40 0a1.2 1.2 0 1 0 -2.40 0zM105.6 306.3a1.2 1.2 0 1 0 2.40 0a1.2 1.2 0 1 0 -2.40 0zM89.2 307.4a1.2 1.2 0 1 0 2.40 0a1.2 1.2 0 1 0 -2.40 0zM87.2 310.4a1.2 1.2 0 1 0 2.40 0a1.2 1.2 0 1 0 -2.40 0zM92.3 312.5a1.2 1.2 0 1 0 2.40 0a1.2 1.2 0 1 0 -2.40 0zM96.4 313.5a1.2 1.2 0 1 0 2.40 0a1.2 1.2 0 1 0 -2.40 0zM112.7 308.4a1.2 1.2 0 1 0 2.40 0a1.2 1.2 0 1 0 -2.40 0zM116.8 310.4a1.2 1.2 0 1 0 2.40 0a1.2 1.2 0 1 0 -2.40 0zM120.9 310.4a1.2 1.2 0 1 0 2.40 0a1.2 1.2 0 1 0 -2.40 0zM126.0 309.4a1.2 1.2 0 1 0 2.40 0a1.2 1.2 0 1 0 -2.40 0zM107.6 314.5a1.2 1.2 0 1 0 2.40 0a1.2 1.2 0 1 0 -2.40 0zM119.9 317.6a1.2 1.2 0 1 0 2.40 0a1.2 1.2 0 1 0 -2.40 0zM112.7 318.6a1.2 1.2 0 1 0 2.40 0a1.2 1.2 0 1 0 -2.40 0zM90.2 320.6a1.2 1.2 0 1 0 2.40 0a1.2 1.2 0 1 0 -2.40 0zM67.7 323.7a1.2 1.2 0 1 0 2.40 0a1.2 1.2 0 1 0 -2.40 0zM63.6 327.8a1.2 1.2 0 1 0 2.40 0a1.2 1.2 0 1 0 -2.40 0zM82.0 325.8a1.2 1.2 0 1 0 2.40 0a1.2 1.2 0 1 0 -2.40 0zM92.3 328.4a1.2 1.2 0 1 0 2.40 0a1.2 1.2 0 1 0 -2.40 0zM108.6 331.9a1.2 1.2 0 1 0 2.40 0a1.2 1.2 0 1 0 -2.40 0zM98.4 335.0a1.2 1.2 0 1 0 2.40 0a1.2 1.2 0 1 0 -2.40 0zM91.9 338.0a1.2 1.2 0 1 0 2.40 0a1.2 1.2 0 1 0 -2.40 0zM103.5 340.1a1.2 1.2 0 1 0 2.40 0a1.2 1.2 0 1 0 -2.40 0zM86.1 346.6a1.2 1.2 0 1 0 2.40 0a1.2 1.2 0 1 0 -2.40 0zM61.6 352.3a1.2 1.2 0 1 0 2.40 0a1.2 1.2 0 1 0 -2.40 0zM30.9 367.7a1.2 1.2 0 1 0 2.40 0a1.2 1.2 0 1 0 -2.40 0zM116.7 291.5a1.2 1.2 0 1 0 2.40 0a1.2 1.2 0 1 0 -2.40 0zM111.3 284.5a1.2 1.2 0 1 0 2.40 0a1.2 1.2 0 1 0 -2.40 0zM122.4 294.1a1.2 1.2 0 1 0 2.40 0a1.2 1.2 0 1 0 -2.40 0zM129.3 282.8a1.2 1.2 0 1 0 2.40 0a1.2 1.2 0 1 0 -2.40 0zM136.7 283.3a1.2 1.2 0 1 0 2.40 0a1.2 1.2 0 1 0 -2.40 0zM126.1 285.6a1.2 1.2 0 1 0 2.40 0a1.2 1.2 0 1 0 -2.40 0zM119.3 292.1a1.2 1.2 0 1 0 2.40 0a1.2 1.2 0 1 0 -2.40 0zM116.9 286.4a1.2 1.2 0 1 0 2.40 0a1.2 1.2 0 1 0 -2.40 0zM132.7 292.4a1.2 1.2 0 1 0 2.40 0a1.2 1.2 0 1 0 -2.40 0zM141.8 294.7a1.2 1.2 0 1 0 2.40 0a1.2 1.2 0 1 0 -2.40 0zM127.8 281.1a1.2 1.2 0 1 0 2.40 0a1.2 1.2 0 1 0 -2.40 0zM112.2 292.6a1.2 1.2 0 1 0 2.40 0a1.2 1.2 0 1 0 -2.40 0zM115.1 272.9a1.2 1.2 0 1 0 2.40 0a1.2 1.2 0 1 0 -2.40 0zM141.5 276.8a1.2 1.2 0 1 0 2.40 0a1.2 1.2 0 1 0 -2.40 0zM127.1 300.3a1.2 1.2 0 1 0 2.40 0a1.2 1.2 0 1 0 -2.40 0zM107.1 280.7a1.2 1.2 0 1 0 2.40 0a1.2 1.2 0 1 0 -2.40 0zM124.1 292.5a1.2 1.2 0 1 0 2.40 0a1.2 1.2 0 1 0 -2.40 0zM113.0 282.7a1.2 1.2 0 1 0 2.40 0a1.2 1.2 0 1 0 -2.40 0zM118.5 282.6a1.2 1.2 0 1 0 2.40 0a1.2 1.2 0 1 0 -2.40 0zM119.9 300.2a1.2 1.2 0 1 0 2.40 0a1.2 1.2 0 1 0 -2.40 0zM117.6 285.0a1.2 1.2 0 1 0 2.40 0a1.2 1.2 0 1 0 -2.40 0zM130.7 285.2a1.2 1.2 0 1 0 2.40 0a1.2 1.2 0 1 0 -2.40 0zM124.3 274.7a1.2 1.2 0 1 0 2.40 0a1.2 1.2 0 1 0 -2.40 0zM118.9 293.2a1.2 1.2 0 1 0 2.40 0a1.2 1.2 0 1 0 -2.40 0zM129.2 276.6a1.2 1.2 0 1 0 2.40 0a1.2 1.2 0 1 0 -2.40 0zM133.5 292.5a1.2 1.2 0 1 0 2.40 0a1.2 1.2 0 1 0 -2.40 0zM108.0 285.9a1.2 1.2 0 1 0 2.40 0a1.2 1.2 0 1 0 -2.40 0zM122.3 290.3a1.2 1.2 0 1 0 2.40 0a1.2 1.2 0 1 0 -2.40 0z"/><path d="M26.60 364.87L162.10 251.51" stroke="#606060" stroke-width="0.6" stroke-dasharray="2.6 1.2" fill="none"/><path d="M32.08 364.80L153.34 264.36" stroke="#000" stroke-width="0.9" stroke-dasharray="2.8 1.2" fill="none"/></g><rect x="28.8" y="247.9" width="57.0" height="7.4" rx="1.2" fill="#fff" fill-opacity="0.85" stroke="#d8d8d8" stroke-width="0.6"/><path d="M30.8 251.6h9.5" stroke="#000" stroke-width="0.8" stroke-dasharray="2.6 1.1"/><text x="44.40" y="253.30" font-size="5.00" stroke="#000" stroke-width="0.08" textLength="40.54" lengthAdjust="spacingAndGlyphs">y = 0.99x - 0.37</text><path d="M26.50 245.50V373.50M162.50 245.50V373.50M26.50 245.50H162.50M26.50 373.50H162.50" stroke="#000" stroke-width="0.6" fill="none" stroke-linecap="square"/><path d="M43.50 373.50v2.2M60.50 373.50v2.2M78.50 373.50v2.2M95.50 373.50v2.2M112.50 373.50v2.2M129.50 373.50v2.2M146.50 373.50v2.2M26.50 365.50h-2.2M26.50 350.50h-2.2M26.50 336.50h-2.2M26.50 321.50h-2.2M26.50 307.50h-2.2M26.50 293.50h-2.2M26.50 278.50h-2.2M26.50 264.50h-2.2M26.50 249.50h-2.2" stroke="#000" stroke-width="0.6" fill="none"/><text x="43.60" y="382.60" font-size="8.40" text-anchor="middle" stroke="#000" stroke-width="0.08" textLength="11.65" lengthAdjust="spacingAndGlyphs">−5</text><text x="60.80" y="382.60" font-size="8.40" text-anchor="middle" stroke="#000" stroke-width="0.08" textLength="11.65" lengthAdjust="spacingAndGlyphs">−4</text><text x="78.00" y="382.60" font-size="8.40" text-anchor="middle" stroke="#000" stroke-width="0.08" textLength="11.65" lengthAdjust="spacingAndGlyphs">−3</text><text x="95.20" y="382.60" font-size="8.40" text-anchor="middle" stroke="#000" stroke-width="0.08" textLength="11.65" lengthAdjust="spacingAndGlyphs">−2</text><text x="112.40" y="382.60" font-size="8.40" text-anchor="middle" stroke="#000" stroke-width="0.08" textLength="11.65" lengthAdjust="spacingAndGlyphs">−1</text><text x="129.60" y="382.60" font-size="8.40" text-anchor="middle" stroke="#000" stroke-width="0.08" textLength="5.03" lengthAdjust="spacingAndGlyphs">0</text><text x="146.80" y="382.60" font-size="8.40" text-anchor="middle" stroke="#000" stroke-width="0.08" textLength="5.03" lengthAdjust="spacingAndGlyphs">1</text><text x="23.00" y="368.05" font-size="8.40" text-anchor="end" stroke="#000" stroke-width="0.08" textLength="11.65" lengthAdjust="spacingAndGlyphs">−6</text><text x="23.00" y="353.66" font-size="8.40" text-anchor="end" stroke="#000" stroke-width="0.08" textLength="11.65" lengthAdjust="spacingAndGlyphs">−5</text><text x="23.00" y="339.27" font-size="8.40" text-anchor="end" stroke="#000" stroke-width="0.08" textLength="11.65" lengthAdjust="spacingAndGlyphs">−4</text><text x="23.00" y="324.88" font-size="8.40" text-anchor="end" stroke="#000" stroke-width="0.08" textLength="11.65" lengthAdjust="spacingAndGlyphs">−3</text><text x="23.00" y="310.49" font-size="8.40" text-anchor="end" stroke="#000" stroke-width="0.08" textLength="11.65" lengthAdjust="spacingAndGlyphs">−2</text><text x="23.00" y="296.10" font-size="8.40" text-anchor="end" stroke="#000" stroke-width="0.08" textLength="11.65" lengthAdjust="spacingAndGlyphs">−1</text><text x="23.00" y="281.71" font-size="8.40" text-anchor="end" stroke="#000" stroke-width="0.08" textLength="5.03" lengthAdjust="spacingAndGlyphs">0</text><text x="23.00" y="267.32" font-size="8.40" text-anchor="end" stroke="#000" stroke-width="0.08" textLength="5.03" lengthAdjust="spacingAndGlyphs">1</text><text x="23.00" y="252.93" font-size="8.40" text-anchor="end" stroke="#000" stroke-width="0.08" textLength="5.03" lengthAdjust="spacingAndGlyphs">2</text><text x="94.35" y="242.50" font-size="9.45" text-anchor="middle" stroke="#000" stroke-width="0.10" textLength="48.55" lengthAdjust="spacingAndGlyphs">Myoglobin</text><g transform="translate(94.35 393.80)"><text x="-42.38" y="0.00" font-size="9.70" stroke="#000" stroke-width="0.10" textLength="20.79" lengthAdjust="spacingAndGlyphs">ΔΔG</text><text x="-21.59" y="1.50" font-size="6.79" stroke="#000" stroke-width="0.08" textLength="12.39" lengthAdjust="spacingAndGlyphs">exp</text><text x="-6.12" y="0.00" font-size="9.70" stroke="#000" stroke-width="0.10" textLength="48.51" lengthAdjust="spacingAndGlyphs">(kcal/mol)</text></g><g transform="translate(7.70 309.30) rotate(-90)"><text x="-43.91" y="0.00" font-size="9.70" stroke="#000" stroke-width="0.10" textLength="20.79" lengthAdjust="spacingAndGlyphs">ΔΔG</text><text x="-23.12" y="1.50" font-size="6.79" stroke="#000" stroke-width="0.08" textLength="15.44" lengthAdjust="spacingAndGlyphs">pred</text><text x="-4.60" y="0.00" font-size="9.70" stroke="#000" stroke-width="0.10" textLength="48.51" lengthAdjust="spacingAndGlyphs">(kcal/mol)</text></g><path d="M209.50 245.30V373.30M227.50 245.30V373.30M246.50 245.30V373.30M265.50 245.30V373.30M284.50 245.30V373.30M302.50 245.30V373.30M321.50 245.30V373.30M207.80 351.50H335.50M207.80 325.50H335.50M207.80 299.50H335.50M207.80 273.50H335.50M207.80 248.50H335.50" stroke="#c4c4c4" stroke-opacity="1.0" stroke-width="0.8" fill="none"/><g clip-path="url(#cb1)"><g fill="none" stroke-linejoin="round"><path d="M270 346 Q264 342 266 336 Q270 331 276 334 Q279 329 284 330 Q285 323 291 322 Q293 316 299 318 Q303 313 308 317 Q312 320 310 326 Q315 329 313 334 Q319 335 320 340 Q327 341 327 347 Q329 353 323 355 Q318 360 312 356 Q309 362 303 360 Q300 367 294 366 Q288 371 284 364 Q277 366 276 359 Q270 357 272 351 Z" fill="#fff" stroke="#9a9a9a" stroke-width="0.6"/><path d="M274 340 Q280 336 283 340 M286 326 Q292 330 290 334 M312 330 Q306 334 309 338 M280 360 Q286 356 290 360 M314 350 Q318 346 322 350 M296 362 Q300 356 306 358" stroke="#b0b0b0" stroke-width="0.5"/><path d="M275.3 343.8L293.0 338.1L292.2 336.1Z" fill="#707070" fill-opacity="0.85"/><path d="M282.4 340.7L301.7 342.7L301.9 340.7Z" fill="#707070" fill-opacity="0.85"/><path d="M284.5 355.0L301.3 347.8L300.3 345.8Z" fill="#707070" fill-opacity="0.85"/><path d="M285.5 356.0L303.1 352.9L302.7 350.9Z" fill="#707070" fill-opacity="0.85"/><path d="M294.7 326.4L301.6 329.3L302.0 327.5Z" fill="#707070" fill-opacity="0.85"/><path d="M293.7 331.5L303.9 332.4L303.9 330.6Z" fill="#707070" fill-opacity="0.85"/><path d="M295.7 359.0L301.3 363.9L302.3 362.5Z" fill="#707070" fill-opacity="0.85"/><circle cx="305.4" cy="320.8" r="2.6" stroke="#606060" stroke-width="0.7"/><circle cx="322.8" cy="348.3" r="2.3" stroke="#606060" stroke-width="0.7"/></g><path d="M302.80 245.30V373.30M207.80 273.90H335.50" stroke="#000" stroke-width="1.3" fill="none"/><path fill="#000" d="M212.3 290.3a1.05 1.05 0 1 0 2.10 0a1.05 1.05 0 1 0 -2.10 0zM224.2 295.5a1.05 1.05 0 1 0 2.10 0a1.05 1.05 0 1 0 -2.10 0zM228.8 297.3a1.05 1.05 0 1 0 2.10 0a1.05 1.05 0 1 0 -2.10 0zM235.4 268.5a1.05 1.05 0 1 0 2.10 0a1.05 1.05 0 1 0 -2.10 0zM241.6 289.6a1.05 1.05 0 1 0 2.10 0a1.05 1.05 0 1 0 -2.10 0zM241.9 294.0a1.05 1.05 0 1 0 2.10 0a1.05 1.05 0 1 0 -2.10 0zM244.1 299.7a1.05 1.05 0 1 0 2.10 0a1.05 1.05 0 1 0 -2.10 0zM245.8 309.4a1.05 1.05 0 1 0 2.10 0a1.05 1.05 0 1 0 -2.10 0zM249.8 282.9a1.05 1.05 0 1 0 2.10 0a1.05 1.05 0 1 0 -2.10 0zM266.2 288.8a1.05 1.05 0 1 0 2.10 0a1.05 1.05 0 1 0 -2.10 0zM265.4 302.7a1.05 1.05 0 1 0 2.10 0a1.05 1.05 0 1 0 -2.10 0zM277.4 258.3a1.05 1.05 0 1 0 2.10 0a1.05 1.05 0 1 0 -2.10 0zM278.9 307.9a1.05 1.05 0 1 0 2.10 0a1.05 1.05 0 1 0 -2.10 0zM287.6 275.4a1.05 1.05 0 1 0 2.10 0a1.05 1.05 0 1 0 -2.10 0zM287.3 277.9a1.05 1.05 0 1 0 2.10 0a1.05 1.05 0 1 0 -2.10 0zM293.1 250.8a1.05 1.05 0 1 0 2.10 0a1.05 1.05 0 1 0 -2.10 0zM293.1 271.0a1.05 1.05 0 1 0 2.10 0a1.05 1.05 0 1 0 -2.10 0zM294.2 270.2a1.05 1.05 0 1 0 2.10 0a1.05 1.05 0 1 0 -2.10 0zM293.1 277.7a1.05 1.05 0 1 0 2.10 0a1.05 1.05 0 1 0 -2.10 0zM295.1 283.4a1.05 1.05 0 1 0 2.10 0a1.05 1.05 0 1 0 -2.10 0zM297.2 277.2a1.05 1.05 0 1 0 2.10 0a1.05 1.05 0 1 0 -2.10 0zM298.1 277.7a1.05 1.05 0 1 0 2.10 0a1.05 1.05 0 1 0 -2.10 0zM299.8 255.6a1.05 1.05 0 1 0 2.10 0a1.05 1.05 0 1 0 -2.10 0zM301.8 271.0a1.05 1.05 0 1 0 2.10 0a1.05 1.05 0 1 0 -2.10 0zM302.9 256.8a1.05 1.05 0 1 0 2.10 0a1.05 1.05 0 1 0 -2.10 0zM304.9 274.2a1.05 1.05 0 1 0 2.10 0a1.05 1.05 0 1 0 -2.10 0zM304.4 277.9a1.05 1.05 0 1 0 2.10 0a1.05 1.05 0 1 0 -2.10 0zM305.4 284.1a1.05 1.05 0 1 0 2.10 0a1.05 1.05 0 1 0 -2.10 0zM306.8 281.6a1.05 1.05 0 1 0 2.10 0a1.05 1.05 0 1 0 -2.10 0zM304.9 297.0a1.05 1.05 0 1 0 2.10 0a1.05 1.05 0 1 0 -2.10 0zM306.2 251.3a1.05 1.05 0 1 0 2.10 0a1.05 1.05 0 1 0 -2.10 0zM307.9 292.5a1.05 1.05 0 1 0 2.10 0a1.05 1.05 0 1 0 -2.10 0zM310.4 280.9a1.05 1.05 0 1 0 2.10 0a1.05 1.05 0 1 0 -2.10 0zM324.1 270.2a1.05 1.05 0 1 0 2.10 0a1.05 1.05 0 1 0 -2.10 0zM329.1 287.8a1.05 1.05 0 1 0 2.10 0a1.05 1.05 0 1 0 -2.10 0zM298.9 293.3a1.05 1.05 0 1 0 2.10 0a1.05 1.05 0 1 0 -2.10 0zM227.2 316.9a1.05 1.05 0 1 0 2.10 0a1.05 1.05 0 1 0 -2.10 0zM235.9 314.9a1.05 1.05 0 1 0 2.10 0a1.05 1.05 0 1 0 -2.10 0zM240.1 329.3a1.05 1.05 0 1 0 2.10 0a1.05 1.05 0 1 0 -2.10 0zM240.1 334.0a1.05 1.05 0 1 0 2.10 0a1.05 1.05 0 1 0 -2.10 0zM217.5 337.2a1.05 1.05 0 1 0 2.10 0a1.05 1.05 0 1 0 -2.10 0zM216.8 367.8a1.05 1.05 0 1 0 2.10 0a1.05 1.05 0 1 0 -2.10 0z"/><path d="M207.80 928.55L335.50 48.56" stroke="#606060" stroke-width="0.6" stroke-dasharray="2.6 1.2" fill="none"/><path d="M213.13 314.84L334.81 264.53" stroke="#000" stroke-width="0.9" stroke-dasharray="2.8 1.2" fill="none"/></g><rect x="210.0" y="247.9" width="56.6" height="7.4" rx="1.2" fill="#fff" fill-opacity="0.85" stroke="#d8d8d8" stroke-width="0.6"/><path d="M212.0 251.6h9.5" stroke="#000" stroke-width="0.8" stroke-dasharray="2.6 1.1"/><text x="225.60" y="253.30" font-size="5.00" stroke="#000" stroke-width="0.08" textLength="40.54" lengthAdjust="spacingAndGlyphs">y = 0.06x - 0.03</text><path d="M207.50 245.50V373.50M335.50 245.50V373.50M207.50 245.50H335.50M207.50 373.50H335.50" stroke="#000" stroke-width="0.6" fill="none" stroke-linecap="square"/><path d="M209.50 373.50v2.2M227.50 373.50v2.2M246.50 373.50v2.2M265.50 373.50v2.2M284.50 373.50v2.2M302.50 373.50v2.2M321.50 373.50v2.2M207.50 351.50h-2.2M207.50 325.50h-2.2M207.50 299.50h-2.2M207.50 273.50h-2.2M207.50 248.50h-2.2" stroke="#000" stroke-width="0.6" fill="none"/><text x="209.20" y="382.60" font-size="8.40" text-anchor="middle" stroke="#000" stroke-width="0.08" textLength="11.65" lengthAdjust="spacingAndGlyphs">−5</text><text x="227.92" y="382.60" font-size="8.40" text-anchor="middle" stroke="#000" stroke-width="0.08" textLength="11.65" lengthAdjust="spacingAndGlyphs">−4</text><text x="246.64" y="382.60" font-size="8.40" text-anchor="middle" stroke="#000" stroke-width="0.08" textLength="11.65" lengthAdjust="spacingAndGlyphs">−3</text><text x="265.36" y="382.60" font-size="8.40" text-anchor="middle" stroke="#000" stroke-width="0.08" textLength="11.65" lengthAdjust="spacingAndGlyphs">−2</text><text x="284.08" y="382.60" font-size="8.40" text-anchor="middle" stroke="#000" stroke-width="0.08" textLength="11.65" lengthAdjust="spacingAndGlyphs">−1</text><text x="302.80" y="382.60" font-size="8.40" text-anchor="middle" stroke="#000" stroke-width="0.08" textLength="5.03" lengthAdjust="spacingAndGlyphs">0</text><text x="321.52" y="382.60" font-size="8.40" text-anchor="middle" stroke="#000" stroke-width="0.08" textLength="5.03" lengthAdjust="spacingAndGlyphs">1</text><text x="204.20" y="354.31" font-size="8.40" text-anchor="end" stroke="#000" stroke-width="0.08" textLength="19.18" lengthAdjust="spacingAndGlyphs">−0.6</text><text x="204.20" y="328.51" font-size="8.40" text-anchor="end" stroke="#000" stroke-width="0.08" textLength="19.18" lengthAdjust="spacingAndGlyphs">−0.4</text><text x="204.20" y="302.71" font-size="8.40" text-anchor="end" stroke="#000" stroke-width="0.08" textLength="19.18" lengthAdjust="spacingAndGlyphs">−0.2</text><text x="204.20" y="276.91" font-size="8.40" text-anchor="end" stroke="#000" stroke-width="0.08" textLength="12.56" lengthAdjust="spacingAndGlyphs">0.0</text><text x="204.20" y="251.11" font-size="8.40" text-anchor="end" stroke="#000" stroke-width="0.08" textLength="12.56" lengthAdjust="spacingAndGlyphs">0.2</text><text x="271.65" y="242.50" font-size="9.45" text-anchor="middle" stroke="#000" stroke-width="0.10" textLength="17.72" lengthAdjust="spacingAndGlyphs">P53</text><g transform="translate(271.65 393.80)"><text x="-42.38" y="0.00" font-size="9.70" stroke="#000" stroke-width="0.10" textLength="20.79" lengthAdjust="spacingAndGlyphs">ΔΔG</text><text x="-21.59" y="1.50" font-size="6.79" stroke="#000" stroke-width="0.08" textLength="12.39" lengthAdjust="spacingAndGlyphs">exp</text><text x="-6.12" y="0.00" font-size="9.70" stroke="#000" stroke-width="0.10" textLength="48.51" lengthAdjust="spacingAndGlyphs">(kcal/mol)</text></g><g transform="translate(182.00 309.30) rotate(-90)"><text x="-43.91" y="0.00" font-size="9.70" stroke="#000" stroke-width="0.10" textLength="20.79" lengthAdjust="spacingAndGlyphs">ΔΔG</text><text x="-23.12" y="1.50" font-size="6.79" stroke="#000" stroke-width="0.08" textLength="15.44" lengthAdjust="spacingAndGlyphs">pred</text><text x="-4.60" y="0.00" font-size="9.70" stroke="#000" stroke-width="0.10" textLength="48.51" lengthAdjust="spacingAndGlyphs">(kcal/mol)</text></g><path d="M377.50 245.30V373.30M399.50 245.30V373.30M421.50 245.30V373.30M442.50 245.30V373.30M464.50 245.30V373.30M485.50 245.30V373.30M374.30 373.50H506.80M374.30 346.50H506.80M374.30 319.50H506.80M374.30 292.50H506.80M374.30 264.50H506.80" stroke="#c4c4c4" stroke-opacity="1.0" stroke-width="0.8" fill="none"/><g clip-path="url(#cb2)"><g stroke-linecap="round" stroke-linejoin="round" fill="none"><path d="M420 278 Q428 276 427 282 Q424 286 418 282 M397 282 Q393 290 400 294 M404 290 Q415 285 424 288 Q428 291 420 294 L410 297 M392 294 Q395 302 400 305 M396 276 Q391 270 396 267 M398 270 Q404 266 408 272 M405 300 Q412 306 404 312 M386 296 Q392 300 396 298 M400 276 Q408 274 410 280 Q404 286 398 284 M394 283 Q398 288 403 286" stroke="#e04848" stroke-width="0.75"/><path d="M392 266 L404 270 L412 282 L406 292 L410 306 L404 310 L398 300 L390 296 L387 284 Z" fill="#f07878" fill-opacity="0.3" stroke="none"/><g transform="translate(392.40 261.70) rotate(30.3)"><rect x="0" y="-2.70" width="31.87" height="5.40" rx="2.16" fill="#f07878"/><path d="M0.00 -2.70q1.71 2.70 0 5.40M1.99 -2.70q1.71 2.70 0 5.40M3.98 -2.70q1.71 2.70 0 5.40M5.97 -2.70q1.71 2.70 0 5.40M7.97 -2.70q1.71 2.70 0 5.40M9.96 -2.70q1.71 2.70 0 5.40M11.95 -2.70q1.71 2.70 0 5.40M13.94 -2.70q1.71 2.70 0 5.40M15.93 -2.70q1.71 2.70 0 5.40M17.92 -2.70q1.71 2.70 0 5.40M19.92 -2.70q1.71 2.70 0 5.40M21.91 -2.70q1.71 2.70 0 5.40M23.90 -2.70q1.71 2.70 0 5.40M25.89 -2.70q1.71 2.70 0 5.40M27.88 -2.70q1.71 2.70 0 5.40M29.87 -2.70q1.71 2.70 0 5.40M31.87 -2.70q1.71 2.70 0 5.40" stroke="#a01818" stroke-width="0.45" stroke-opacity="0.8" fill="none"/><path d="M1.80 2.35H30.07" stroke="#a01818" stroke-width="0.7" stroke-opacity="0.7"/></g><g transform="translate(388.60 276.00) rotate(80.9)"><rect x="0" y="-2.40" width="17.72" height="4.80" rx="1.92" fill="#c83030"/><path d="M0.00 -2.40q1.53 2.40 0 4.80M1.77 -2.40q1.53 2.40 0 4.80M3.54 -2.40q1.53 2.40 0 4.80M5.32 -2.40q1.53 2.40 0 4.80M7.09 -2.40q1.53 2.40 0 4.80M8.86 -2.40q1.53 2.40 0 4.80M10.63 -2.40q1.53 2.40 0 4.80M12.41 -2.40q1.53 2.40 0 4.80M14.18 -2.40q1.53 2.40 0 4.80M15.95 -2.40q1.53 2.40 0 4.80M17.72 -2.40q1.53 2.40 0 4.80" stroke="#a01818" stroke-width="0.45" stroke-opacity="0.8" fill="none"/><path d="M1.60 2.05H16.12" stroke="#a01818" stroke-width="0.7" stroke-opacity="0.7"/></g><g transform="translate(397.00 273.00) rotate(57.5)"><rect x="0" y="-2.10" width="13.04" height="4.20" rx="1.68" fill="#e04848"/><path d="M0.00 -2.10q1.53 2.10 0 4.20M1.86 -2.10q1.53 2.10 0 4.20M3.73 -2.10q1.53 2.10 0 4.20M5.59 -2.10q1.53 2.10 0 4.20M7.45 -2.10q1.53 2.10 0 4.20M9.31 -2.10q1.53 2.10 0 4.20M11.18 -2.10q1.53 2.10 0 4.20M13.04 -2.10q1.53 2.10 0 4.20" stroke="#a01818" stroke-width="0.45" stroke-opacity="0.8" fill="none"/><path d="M1.40 1.75H11.64" stroke="#a01818" stroke-width="0.7" stroke-opacity="0.7"/></g><g transform="translate(391.00 263.00) rotate(31.0)"><rect x="0" y="-1.90" width="5.83" height="3.80" rx="1.52" fill="#c02020"/><path d="M0.00 -1.90q1.35 1.90 0 3.80M1.94 -1.90q1.35 1.90 0 3.80M3.89 -1.90q1.35 1.90 0 3.80M5.83 -1.90q1.35 1.90 0 3.80" stroke="#a01818" stroke-width="0.45" stroke-opacity="0.8" fill="none"/><path d="M1.27 1.55H4.56" stroke="#a01818" stroke-width="0.7" stroke-opacity="0.7"/></g><g transform="translate(405.00 281.00) rotate(39.8)"><rect x="0" y="-1.60" width="7.81" height="3.20" rx="1.28" fill="#f07878"/><path d="M0.00 -1.60q1.44 1.60 0 3.20M1.95 -1.60q1.44 1.60 0 3.20M3.91 -1.60q1.44 1.60 0 3.20M5.86 -1.60q1.44 1.60 0 3.20M7.81 -1.60q1.44 1.60 0 3.20" stroke="#a01818" stroke-width="0.45" stroke-opacity="0.8" fill="none"/><path d="M1.07 1.25H6.74" stroke="#a01818" stroke-width="0.7" stroke-opacity="0.7"/></g><path d="M401 289L408.5 311 M397 295L404 303 M405 292L411 299 M395 290 L399 296" stroke="#c02828" stroke-width="2.4"/></g><path d="M485.90 245.30V373.30M374.30 292.00H506.80" stroke="#000" stroke-width="1.3" fill="none"/><path fill="#dc2828" d="M489.4 299.3a1.2 1.2 0 1 0 2.40 0a1.2 1.2 0 1 0 -2.40 0zM482.9 295.3a1.2 1.2 0 1 0 2.40 0a1.2 1.2 0 1 0 -2.40 0zM496.6 299.7a1.2 1.2 0 1 0 2.40 0a1.2 1.2 0 1 0 -2.40 0zM483.5 290.3a1.2 1.2 0 1 0 2.40 0a1.2 1.2 0 1 0 -2.40 0zM485.0 288.8a1.2 1.2 0 1 0 2.40 0a1.2 1.2 0 1 0 -2.40 0zM484.9 290.6a1.2 1.2 0 1 0 2.40 0a1.2 1.2 0 1 0 -2.40 0zM474.3 302.2a1.2 1.2 0 1 0 2.40 0a1.2 1.2 0 1 0 -2.40 0zM478.2 301.7a1.2 1.2 0 1 0 2.40 0a1.2 1.2 0 1 0 -2.40 0zM488.7 289.8a1.2 1.2 0 1 0 2.40 0a1.2 1.2 0 1 0 -2.40 0zM475.8 296.9a1.2 1.2 0 1 0 2.40 0a1.2 1.2 0 1 0 -2.40 0zM480.1 295.2a1.2 1.2 0 1 0 2.40 0a1.2 1.2 0 1 0 -2.40 0zM478.6 323.0a1.2 1.2 0 1 0 2.40 0a1.2 1.2 0 1 0 -2.40 0zM483.2 325.4a1.2 1.2 0 1 0 2.40 0a1.2 1.2 0 1 0 -2.40 0zM476.1 290.9a1.2 1.2 0 1 0 2.40 0a1.2 1.2 0 1 0 -2.40 0zM477.6 291.0a1.2 1.2 0 1 0 2.40 0a1.2 1.2 0 1 0 -2.40 0zM480.5 278.9a1.2 1.2 0 1 0 2.40 0a1.2 1.2 0 1 0 -2.40 0zM479.5 286.5a1.2 1.2 0 1 0 2.40 0a1.2 1.2 0 1 0 -2.40 0zM472.4 292.2a1.2 1.2 0 1 0 2.40 0a1.2 1.2 0 1 0 -2.40 0zM485.3 294.5a1.2 1.2 0 1 0 2.40 0a1.2 1.2 0 1 0 -2.40 0zM469.2 310.9a1.2 1.2 0 1 0 2.40 0a1.2 1.2 0 1 0 -2.40 0zM469.9 284.7a1.2 1.2 0 1 0 2.40 0a1.2 1.2 0 1 0 -2.40 0zM469.3 301.6a1.2 1.2 0 1 0 2.40 0a1.2 1.2 0 1 0 -2.40 0zM485.9 289.0a1.2 1.2 0 1 0 2.40 0a1.2 1.2 0 1 0 -2.40 0zM476.1 292.4a1.2 1.2 0 1 0 2.40 0a1.2 1.2 0 1 0 -2.40 0zM471.6 291.6a1.2 1.2 0 1 0 2.40 0a1.2 1.2 0 1 0 -2.40 0zM470.4 284.6a1.2 1.2 0 1 0 2.40 0a1.2 1.2 0 1 0 -2.40 0zM481.9 300.3a1.2 1.2 0 1 0 2.40 0a1.2 1.2 0 1 0 -2.40 0zM471.0 299.1a1.2 1.2 0 1 0 2.40 0a1.2 1.2 0 1 0 -2.40 0zM469.4 304.4a1.2 1.2 0 1 0 2.40 0a1.2 1.2 0 1 0 -2.40 0zM483.3 299.0a1.2 1.2 0 1 0 2.40 0a1.2 1.2 0 1 0 -2.40 0zM470.0 275.8a1.2 1.2 0 1 0 2.40 0a1.2 1.2 0 1 0 -2.40 0zM476.4 298.8a1.2 1.2 0 1 0 2.40 0a1.2 1.2 0 1 0 -2.40 0zM478.7 281.2a1.2 1.2 0 1 0 2.40 0a1.2 1.2 0 1 0 -2.40 0zM475.5 285.3a1.2 1.2 0 1 0 2.40 0a1.2 1.2 0 1 0 -2.40 0zM478.4 286.4a1.2 1.2 0 1 0 2.40 0a1.2 1.2 0 1 0 -2.40 0zM488.6 285.6a1.2 1.2 0 1 0 2.40 0a1.2 1.2 0 1 0 -2.40 0zM475.0 306.2a1.2 1.2 0 1 0 2.40 0a1.2 1.2 0 1 0 -2.40 0zM469.5 290.5a1.2 1.2 0 1 0 2.40 0a1.2 1.2 0 1 0 -2.40 0zM465.3 276.7a1.2 1.2 0 1 0 2.40 0a1.2 1.2 0 1 0 -2.40 0zM477.3 302.6a1.2 1.2 0 1 0 2.40 0a1.2 1.2 0 1 0 -2.40 0zM476.2 295.2a1.2 1.2 0 1 0 2.40 0a1.2 1.2 0 1 0 -2.40 0zM480.7 302.5a1.2 1.2 0 1 0 2.40 0a1.2 1.2 0 1 0 -2.40 0zM475.4 291.1a1.2 1.2 0 1 0 2.40 0a1.2 1.2 0 1 0 -2.40 0zM475.2 307.0a1.2 1.2 0 1 0 2.40 0a1.2 1.2 0 1 0 -2.40 0zM473.5 276.4a1.2 1.2 0 1 0 2.40 0a1.2 1.2 0 1 0 -2.40 0zM474.9 299.0a1.2 1.2 0 1 0 2.40 0a1.2 1.2 0 1 0 -2.40 0zM479.9 312.2a1.2 1.2 0 1 0 2.40 0a1.2 1.2 0 1 0 -2.40 0zM476.0 274.4a1.2 1.2 0 1 0 2.40 0a1.2 1.2 0 1 0 -2.40 0zM479.5 283.7a1.2 1.2 0 1 0 2.40 0a1.2 1.2 0 1 0 -2.40 0zM492.7 288.8a1.2 1.2 0 1 0 2.40 0a1.2 1.2 0 1 0 -2.40 0zM482.3 288.7a1.2 1.2 0 1 0 2.40 0a1.2 1.2 0 1 0 -2.40 0zM467.2 298.8a1.2 1.2 0 1 0 2.40 0a1.2 1.2 0 1 0 -2.40 0zM491.5 297.2a1.2 1.2 0 1 0 2.40 0a1.2 1.2 0 1 0 -2.40 0zM481.3 286.5a1.2 1.2 0 1 0 2.40 0a1.2 1.2 0 1 0 -2.40 0zM471.8 284.3a1.2 1.2 0 1 0 2.40 0a1.2 1.2 0 1 0 -2.40 0zM485.4 284.1a1.2 1.2 0 1 0 2.40 0a1.2 1.2 0 1 0 -2.40 0zM478.9 292.3a1.2 1.2 0 1 0 2.40 0a1.2 1.2 0 1 0 -2.40 0zM474.2 300.0a1.2 1.2 0 1 0 2.40 0a1.2 1.2 0 1 0 -2.40 0zM474.1 296.9a1.2 1.2 0 1 0 2.40 0a1.2 1.2 0 1 0 -2.40 0zM471.5 282.1a1.2 1.2 0 1 0 2.40 0a1.2 1.2 0 1 0 -2.40 0zM479.1 278.3a1.2 1.2 0 1 0 2.40 0a1.2 1.2 0 1 0 -2.40 0zM486.6 298.6a1.2 1.2 0 1 0 2.40 0a1.2 1.2 0 1 0 -2.40 0zM476.4 300.1a1.2 1.2 0 1 0 2.40 0a1.2 1.2 0 1 0 -2.40 0zM481.9 280.5a1.2 1.2 0 1 0 2.40 0a1.2 1.2 0 1 0 -2.40 0zM492.5 286.5a1.2 1.2 0 1 0 2.40 0a1.2 1.2 0 1 0 -2.40 0zM469.8 286.8a1.2 1.2 0 1 0 2.40 0a1.2 1.2 0 1 0 -2.40 0zM480.7 309.6a1.2 1.2 0 1 0 2.40 0a1.2 1.2 0 1 0 -2.40 0zM476.5 299.0a1.2 1.2 0 1 0 2.40 0a1.2 1.2 0 1 0 -2.40 0zM471.0 300.6a1.2 1.2 0 1 0 2.40 0a1.2 1.2 0 1 0 -2.40 0zM471.2 292.3a1.2 1.2 0 1 0 2.40 0a1.2 1.2 0 1 0 -2.40 0zM478.6 313.8a1.2 1.2 0 1 0 2.40 0a1.2 1.2 0 1 0 -2.40 0zM481.9 280.3a1.2 1.2 0 1 0 2.40 0a1.2 1.2 0 1 0 -2.40 0zM474.9 291.3a1.2 1.2 0 1 0 2.40 0a1.2 1.2 0 1 0 -2.40 0zM479.2 289.8a1.2 1.2 0 1 0 2.40 0a1.2 1.2 0 1 0 -2.40 0zM484.1 308.2a1.2 1.2 0 1 0 2.40 0a1.2 1.2 0 1 0 -2.40 0zM480.9 295.0a1.2 1.2 0 1 0 2.40 0a1.2 1.2 0 1 0 -2.40 0zM485.1 279.5a1.2 1.2 0 1 0 2.40 0a1.2 1.2 0 1 0 -2.40 0zM482.1 312.5a1.2 1.2 0 1 0 2.40 0a1.2 1.2 0 1 0 -2.40 0zM482.3 291.2a1.2 1.2 0 1 0 2.40 0a1.2 1.2 0 1 0 -2.40 0zM492.2 286.8a1.2 1.2 0 1 0 2.40 0a1.2 1.2 0 1 0 -2.40 0zM483.3 302.6a1.2 1.2 0 1 0 2.40 0a1.2 1.2 0 1 0 -2.40 0zM479.7 285.4a1.2 1.2 0 1 0 2.40 0a1.2 1.2 0 1 0 -2.40 0zM484.0 298.5a1.2 1.2 0 1 0 2.40 0a1.2 1.2 0 1 0 -2.40 0zM472.0 280.7a1.2 1.2 0 1 0 2.40 0a1.2 1.2 0 1 0 -2.40 0zM476.3 288.7a1.2 1.2 0 1 0 2.40 0a1.2 1.2 0 1 0 -2.40 0zM484.6 292.2a1.2 1.2 0 1 0 2.40 0a1.2 1.2 0 1 0 -2.40 0zM483.4 271.9a1.2 1.2 0 1 0 2.40 0a1.2 1.2 0 1 0 -2.40 0zM490.1 285.3a1.2 1.2 0 1 0 2.40 0a1.2 1.2 0 1 0 -2.40 0zM478.8 279.8a1.2 1.2 0 1 0 2.40 0a1.2 1.2 0 1 0 -2.40 0zM468.0 308.2a1.2 1.2 0 1 0 2.40 0a1.2 1.2 0 1 0 -2.40 0zM493.1 302.1a1.2 1.2 0 1 0 2.40 0a1.2 1.2 0 1 0 -2.40 0zM486.8 285.2a1.2 1.2 0 1 0 2.40 0a1.2 1.2 0 1 0 -2.40 0zM471.0 284.4a1.2 1.2 0 1 0 2.40 0a1.2 1.2 0 1 0 -2.40 0zM488.9 295.3a1.2 1.2 0 1 0 2.40 0a1.2 1.2 0 1 0 -2.40 0zM479.0 285.8a1.2 1.2 0 1 0 2.40 0a1.2 1.2 0 1 0 -2.40 0zM465.4 306.7a1.2 1.2 0 1 0 2.40 0a1.2 1.2 0 1 0 -2.40 0zM475.7 292.3a1.2 1.2 0 1 0 2.40 0a1.2 1.2 0 1 0 -2.40 0zM475.0 307.7a1.2 1.2 0 1 0 2.40 0a1.2 1.2 0 1 0 -2.40 0zM490.4 290.8a1.2 1.2 0 1 0 2.40 0a1.2 1.2 0 1 0 -2.40 0zM472.9 300.2a1.2 1.2 0 1 0 2.40 0a1.2 1.2 0 1 0 -2.40 0zM476.9 302.0a1.2 1.2 0 1 0 2.40 0a1.2 1.2 0 1 0 -2.40 0zM476.7 294.1a1.2 1.2 0 1 0 2.40 0a1.2 1.2 0 1 0 -2.40 0zM476.0 274.1a1.2 1.2 0 1 0 2.40 0a1.2 1.2 0 1 0 -2.40 0zM472.0 306.2a1.2 1.2 0 1 0 2.40 0a1.2 1.2 0 1 0 -2.40 0zM480.4 301.5a1.2 1.2 0 1 0 2.40 0a1.2 1.2 0 1 0 -2.40 0zM486.7 282.6a1.2 1.2 0 1 0 2.40 0a1.2 1.2 0 1 0 -2.40 0zM483.3 299.5a1.2 1.2 0 1 0 2.40 0a1.2 1.2 0 1 0 -2.40 0zM471.9 274.6a1.2 1.2 0 1 0 2.40 0a1.2 1.2 0 1 0 -2.40 0zM470.3 292.2a1.2 1.2 0 1 0 2.40 0a1.2 1.2 0 1 0 -2.40 0zM479.6 293.7a1.2 1.2 0 1 0 2.40 0a1.2 1.2 0 1 0 -2.40 0zM473.6 290.7a1.2 1.2 0 1 0 2.40 0a1.2 1.2 0 1 0 -2.40 0zM474.1 274.9a1.2 1.2 0 1 0 2.40 0a1.2 1.2 0 1 0 -2.40 0zM466.4 287.3a1.2 1.2 0 1 0 2.40 0a1.2 1.2 0 1 0 -2.40 0zM493.1 288.8a1.2 1.2 0 1 0 2.40 0a1.2 1.2 0 1 0 -2.40 0zM485.5 291.8a1.2 1.2 0 1 0 2.40 0a1.2 1.2 0 1 0 -2.40 0zM471.6 312.5a1.2 1.2 0 1 0 2.40 0a1.2 1.2 0 1 0 -2.40 0zM485.4 304.8a1.2 1.2 0 1 0 2.40 0a1.2 1.2 0 1 0 -2.40 0zM488.6 277.9a1.2 1.2 0 1 0 2.40 0a1.2 1.2 0 1 0 -2.40 0zM461.2 285.4a1.2 1.2 0 1 0 2.40 0a1.2 1.2 0 1 0 -2.40 0zM474.7 289.0a1.2 1.2 0 1 0 2.40 0a1.2 1.2 0 1 0 -2.40 0zM475.9 287.5a1.2 1.2 0 1 0 2.40 0a1.2 1.2 0 1 0 -2.40 0zM483.5 300.9a1.2 1.2 0 1 0 2.40 0a1.2 1.2 0 1 0 -2.40 0zM477.9 290.9a1.2 1.2 0 1 0 2.40 0a1.2 1.2 0 1 0 -2.40 0zM477.1 304.9a1.2 1.2 0 1 0 2.40 0a1.2 1.2 0 1 0 -2.40 0zM478.3 290.3a1.2 1.2 0 1 0 2.40 0a1.2 1.2 0 1 0 -2.40 0zM492.4 302.8a1.2 1.2 0 1 0 2.40 0a1.2 1.2 0 1 0 -2.40 0zM494.6 297.1a1.2 1.2 0 1 0 2.40 0a1.2 1.2 0 1 0 -2.40 0zM474.9 289.6a1.2 1.2 0 1 0 2.40 0a1.2 1.2 0 1 0 -2.40 0zM472.0 298.4a1.2 1.2 0 1 0 2.40 0a1.2 1.2 0 1 0 -2.40 0zM498.5 287.3a1.2 1.2 0 1 0 2.40 0a1.2 1.2 0 1 0 -2.40 0zM471.6 289.5a1.2 1.2 0 1 0 2.40 0a1.2 1.2 0 1 0 -2.40 0zM474.5 290.6a1.2 1.2 0 1 0 2.40 0a1.2 1.2 0 1 0 -2.40 0zM479.0 279.7a1.2 1.2 0 1 0 2.40 0a1.2 1.2 0 1 0 -2.40 0zM482.3 311.4a1.2 1.2 0 1 0 2.40 0a1.2 1.2 0 1 0 -2.40 0zM486.3 312.8a1.2 1.2 0 1 0 2.40 0a1.2 1.2 0 1 0 -2.40 0zM481.6 287.7a1.2 1.2 0 1 0 2.40 0a1.2 1.2 0 1 0 -2.40 0zM472.4 284.0a1.2 1.2 0 1 0 2.40 0a1.2 1.2 0 1 0 -2.40 0zM482.5 271.9a1.2 1.2 0 1 0 2.40 0a1.2 1.2 0 1 0 -2.40 0zM480.6 286.1a1.2 1.2 0 1 0 2.40 0a1.2 1.2 0 1 0 -2.40 0zM492.5 285.3a1.2 1.2 0 1 0 2.40 0a1.2 1.2 0 1 0 -2.40 0zM478.6 304.7a1.2 1.2 0 1 0 2.40 0a1.2 1.2 0 1 0 -2.40 0zM468.9 286.2a1.2 1.2 0 1 0 2.40 0a1.2 1.2 0 1 0 -2.40 0zM471.1 287.0a1.2 1.2 0 1 0 2.40 0a1.2 1.2 0 1 0 -2.40 0zM489.4 306.7a1.2 1.2 0 1 0 2.40 0a1.2 1.2 0 1 0 -2.40 0zM474.8 304.9a1.2 1.2 0 1 0 2.40 0a1.2 1.2 0 1 0 -2.40 0zM463.3 296.0a1.2 1.2 0 1 0 2.40 0a1.2 1.2 0 1 0 -2.40 0zM474.5 291.4a1.2 1.2 0 1 0 2.40 0a1.2 1.2 0 1 0 -2.40 0zM478.8 328.2a1.2 1.2 0 1 0 2.40 0a1.2 1.2 0 1 0 -2.40 0zM487.5 293.9a1.2 1.2 0 1 0 2.40 0a1.2 1.2 0 1 0 -2.40 0zM471.3 292.1a1.2 1.2 0 1 0 2.40 0a1.2 1.2 0 1 0 -2.40 0zM483.7 296.7a1.2 1.2 0 1 0 2.40 0a1.2 1.2 0 1 0 -2.40 0zM484.6 291.7a1.2 1.2 0 1 0 2.40 0a1.2 1.2 0 1 0 -2.40 0zM473.6 289.5a1.2 1.2 0 1 0 2.40 0a1.2 1.2 0 1 0 -2.40 0zM477.4 306.2a1.2 1.2 0 1 0 2.40 0a1.2 1.2 0 1 0 -2.40 0zM491.8 290.0a1.2 1.2 0 1 0 2.40 0a1.2 1.2 0 1 0 -2.40 0zM491.4 297.6a1.2 1.2 0 1 0 2.40 0a1.2 1.2 0 1 0 -2.40 0zM485.0 305.5a1.2 1.2 0 1 0 2.40 0a1.2 1.2 0 1 0 -2.40 0zM481.2 292.3a1.2 1.2 0 1 0 2.40 0a1.2 1.2 0 1 0 -2.40 0zM487.1 277.8a1.2 1.2 0 1 0 2.40 0a1.2 1.2 0 1 0 -2.40 0zM477.7 311.3a1.2 1.2 0 1 0 2.40 0a1.2 1.2 0 1 0 -2.40 0zM478.1 313.5a1.2 1.2 0 1 0 2.40 0a1.2 1.2 0 1 0 -2.40 0zM472.4 313.5a1.2 1.2 0 1 0 2.40 0a1.2 1.2 0 1 0 -2.40 0zM478.8 272.2a1.2 1.2 0 1 0 2.40 0a1.2 1.2 0 1 0 -2.40 0zM478.2 297.6a1.2 1.2 0 1 0 2.40 0a1.2 1.2 0 1 0 -2.40 0zM499.1 295.4a1.2 1.2 0 1 0 2.40 0a1.2 1.2 0 1 0 -2.40 0zM477.3 303.6a1.2 1.2 0 1 0 2.40 0a1.2 1.2 0 1 0 -2.40 0zM488.1 305.4a1.2 1.2 0 1 0 2.40 0a1.2 1.2 0 1 0 -2.40 0zM488.5 317.7a1.2 1.2 0 1 0 2.40 0a1.2 1.2 0 1 0 -2.40 0zM477.4 292.8a1.2 1.2 0 1 0 2.40 0a1.2 1.2 0 1 0 -2.40 0zM487.3 291.8a1.2 1.2 0 1 0 2.40 0a1.2 1.2 0 1 0 -2.40 0zM462.8 317.2a1.2 1.2 0 1 0 2.40 0a1.2 1.2 0 1 0 -2.40 0zM479.5 306.6a1.2 1.2 0 1 0 2.40 0a1.2 1.2 0 1 0 -2.40 0zM485.1 303.2a1.2 1.2 0 1 0 2.40 0a1.2 1.2 0 1 0 -2.40 0zM461.2 295.0a1.2 1.2 0 1 0 2.40 0a1.2 1.2 0 1 0 -2.40 0zM470.2 291.9a1.2 1.2 0 1 0 2.40 0a1.2 1.2 0 1 0 -2.40 0zM486.5 281.9a1.2 1.2 0 1 0 2.40 0a1.2 1.2 0 1 0 -2.40 0zM476.9 279.2a1.2 1.2 0 1 0 2.40 0a1.2 1.2 0 1 0 -2.40 0zM470.7 282.6a1.2 1.2 0 1 0 2.40 0a1.2 1.2 0 1 0 -2.40 0zM476.0 279.5a1.2 1.2 0 1 0 2.40 0a1.2 1.2 0 1 0 -2.40 0zM474.8 308.0a1.2 1.2 0 1 0 2.40 0a1.2 1.2 0 1 0 -2.40 0zM484.1 301.0a1.2 1.2 0 1 0 2.40 0a1.2 1.2 0 1 0 -2.40 0zM482.1 281.7a1.2 1.2 0 1 0 2.40 0a1.2 1.2 0 1 0 -2.40 0zM476.7 291.4a1.2 1.2 0 1 0 2.40 0a1.2 1.2 0 1 0 -2.40 0zM473.9 294.5a1.2 1.2 0 1 0 2.40 0a1.2 1.2 0 1 0 -2.40 0zM478.4 317.2a1.2 1.2 0 1 0 2.40 0a1.2 1.2 0 1 0 -2.40 0zM488.5 315.8a1.2 1.2 0 1 0 2.40 0a1.2 1.2 0 1 0 -2.40 0zM481.3 286.4a1.2 1.2 0 1 0 2.40 0a1.2 1.2 0 1 0 -2.40 0zM483.5 290.8a1.2 1.2 0 1 0 2.40 0a1.2 1.2 0 1 0 -2.40 0zM477.7 298.1a1.2 1.2 0 1 0 2.40 0a1.2 1.2 0 1 0 -2.40 0zM469.3 299.4a1.2 1.2 0 1 0 2.40 0a1.2 1.2 0 1 0 -2.40 0zM473.5 314.3a1.2 1.2 0 1 0 2.40 0a1.2 1.2 0 1 0 -2.40 0zM483.5 290.5a1.2 1.2 0 1 0 2.40 0a1.2 1.2 0 1 0 -2.40 0zM479.5 283.0a1.2 1.2 0 1 0 2.40 0a1.2 1.2 0 1 0 -2.40 0zM472.1 276.0a1.2 1.2 0 1 0 2.40 0a1.2 1.2 0 1 0 -2.40 0zM466.9 294.1a1.2 1.2 0 1 0 2.40 0a1.2 1.2 0 1 0 -2.40 0zM479.6 297.0a1.2 1.2 0 1 0 2.40 0a1.2 1.2 0 1 0 -2.40 0zM476.3 307.2a1.2 1.2 0 1 0 2.40 0a1.2 1.2 0 1 0 -2.40 0zM476.2 280.8a1.2 1.2 0 1 0 2.40 0a1.2 1.2 0 1 0 -2.40 0zM476.3 275.3a1.2 1.2 0 1 0 2.40 0a1.2 1.2 0 1 0 -2.40 0zM480.8 301.7a1.2 1.2 0 1 0 2.40 0a1.2 1.2 0 1 0 -2.40 0zM480.9 291.4a1.2 1.2 0 1 0 2.40 0a1.2 1.2 0 1 0 -2.40 0zM485.8 293.7a1.2 1.2 0 1 0 2.40 0a1.2 1.2 0 1 0 -2.40 0zM485.6 301.2a1.2 1.2 0 1 0 2.40 0a1.2 1.2 0 1 0 -2.40 0zM488.5 323.1a1.2 1.2 0 1 0 2.40 0a1.2 1.2 0 1 0 -2.40 0zM484.7 298.9a1.2 1.2 0 1 0 2.40 0a1.2 1.2 0 1 0 -2.40 0zM476.3 287.8a1.2 1.2 0 1 0 2.40 0a1.2 1.2 0 1 0 -2.40 0zM478.4 311.1a1.2 1.2 0 1 0 2.40 0a1.2 1.2 0 1 0 -2.40 0zM482.4 304.2a1.2 1.2 0 1 0 2.40 0a1.2 1.2 0 1 0 -2.40 0zM476.5 332.0a1.2 1.2 0 1 0 2.40 0a1.2 1.2 0 1 0 -2.40 0zM482.8 280.1a1.2 1.2 0 1 0 2.40 0a1.2 1.2 0 1 0 -2.40 0zM487.2 289.0a1.2 1.2 0 1 0 2.40 0a1.2 1.2 0 1 0 -2.40 0zM472.9 294.2a1.2 1.2 0 1 0 2.40 0a1.2 1.2 0 1 0 -2.40 0zM465.8 297.8a1.2 1.2 0 1 0 2.40 0a1.2 1.2 0 1 0 -2.40 0zM487.5 301.9a1.2 1.2 0 1 0 2.40 0a1.2 1.2 0 1 0 -2.40 0zM478.9 295.6a1.2 1.2 0 1 0 2.40 0a1.2 1.2 0 1 0 -2.40 0zM484.0 298.2a1.2 1.2 0 1 0 2.40 0a1.2 1.2 0 1 0 -2.40 0zM469.0 297.5a1.2 1.2 0 1 0 2.40 0a1.2 1.2 0 1 0 -2.40 0zM491.5 295.1a1.2 1.2 0 1 0 2.40 0a1.2 1.2 0 1 0 -2.40 0zM484.2 293.3a1.2 1.2 0 1 0 2.40 0a1.2 1.2 0 1 0 -2.40 0zM477.8 277.1a1.2 1.2 0 1 0 2.40 0a1.2 1.2 0 1 0 -2.40 0zM476.2 311.2a1.2 1.2 0 1 0 2.40 0a1.2 1.2 0 1 0 -2.40 0zM479.6 291.7a1.2 1.2 0 1 0 2.40 0a1.2 1.2 0 1 0 -2.40 0zM477.5 301.8a1.2 1.2 0 1 0 2.40 0a1.2 1.2 0 1 0 -2.40 0zM476.7 307.7a1.2 1.2 0 1 0 2.40 0a1.2 1.2 0 1 0 -2.40 0zM470.5 321.6a1.2 1.2 0 1 0 2.40 0a1.2 1.2 0 1 0 -2.40 0zM488.0 287.8a1.2 1.2 0 1 0 2.40 0a1.2 1.2 0 1 0 -2.40 0zM478.5 306.0a1.2 1.2 0 1 0 2.40 0a1.2 1.2 0 1 0 -2.40 0zM479.3 303.3a1.2 1.2 0 1 0 2.40 0a1.2 1.2 0 1 0 -2.40 0zM479.4 289.5a1.2 1.2 0 1 0 2.40 0a1.2 1.2 0 1 0 -2.40 0zM461.4 307.1a1.2 1.2 0 1 0 2.40 0a1.2 1.2 0 1 0 -2.40 0zM482.6 294.5a1.2 1.2 0 1 0 2.40 0a1.2 1.2 0 1 0 -2.40 0zM476.3 295.7a1.2 1.2 0 1 0 2.40 0a1.2 1.2 0 1 0 -2.40 0zM476.6 285.7a1.2 1.2 0 1 0 2.40 0a1.2 1.2 0 1 0 -2.40 0zM479.3 283.3a1.2 1.2 0 1 0 2.40 0a1.2 1.2 0 1 0 -2.40 0zM471.6 304.7a1.2 1.2 0 1 0 2.40 0a1.2 1.2 0 1 0 -2.40 0zM485.0 284.4a1.2 1.2 0 1 0 2.40 0a1.2 1.2 0 1 0 -2.40 0zM473.6 295.9a1.2 1.2 0 1 0 2.40 0a1.2 1.2 0 1 0 -2.40 0zM472.1 293.4a1.2 1.2 0 1 0 2.40 0a1.2 1.2 0 1 0 -2.40 0zM472.4 297.2a1.2 1.2 0 1 0 2.40 0a1.2 1.2 0 1 0 -2.40 0zM479.9 286.0a1.2 1.2 0 1 0 2.40 0a1.2 1.2 0 1 0 -2.40 0zM484.2 308.6a1.2 1.2 0 1 0 2.40 0a1.2 1.2 0 1 0 -2.40 0zM474.4 291.9a1.2 1.2 0 1 0 2.40 0a1.2 1.2 0 1 0 -2.40 0zM467.7 281.5a1.2 1.2 0 1 0 2.40 0a1.2 1.2 0 1 0 -2.40 0zM486.6 298.0a1.2 1.2 0 1 0 2.40 0a1.2 1.2 0 1 0 -2.40 0zM470.9 271.8a1.2 1.2 0 1 0 2.40 0a1.2 1.2 0 1 0 -2.40 0zM487.5 303.2a1.2 1.2 0 1 0 2.40 0a1.2 1.2 0 1 0 -2.40 0zM478.4 292.4a1.2 1.2 0 1 0 2.40 0a1.2 1.2 0 1 0 -2.40 0zM473.6 300.3a1.2 1.2 0 1 0 2.40 0a1.2 1.2 0 1 0 -2.40 0zM474.1 301.8a1.2 1.2 0 1 0 2.40 0a1.2 1.2 0 1 0 -2.40 0zM482.2 307.5a1.2 1.2 0 1 0 2.40 0a1.2 1.2 0 1 0 -2.40 0zM485.3 301.0a1.2 1.2 0 1 0 2.40 0a1.2 1.2 0 1 0 -2.40 0zM477.3 295.4a1.2 1.2 0 1 0 2.40 0a1.2 1.2 0 1 0 -2.40 0zM485.7 303.9a1.2 1.2 0 1 0 2.40 0a1.2 1.2 0 1 0 -2.40 0zM494.1 284.8a1.2 1.2 0 1 0 2.40 0a1.2 1.2 0 1 0 -2.40 0zM477.2 277.5a1.2 1.2 0 1 0 2.40 0a1.2 1.2 0 1 0 -2.40 0zM470.3 312.2a1.2 1.2 0 1 0 2.40 0a1.2 1.2 0 1 0 -2.40 0zM471.0 285.3a1.2 1.2 0 1 0 2.40 0a1.2 1.2 0 1 0 -2.40 0zM468.5 292.7a1.2 1.2 0 1 0 2.40 0a1.2 1.2 0 1 0 -2.40 0zM474.1 292.1a1.2 1.2 0 1 0 2.40 0a1.2 1.2 0 1 0 -2.40 0zM473.4 266.9a1.2 1.2 0 1 0 2.40 0a1.2 1.2 0 1 0 -2.40 0zM469.0 281.1a1.2 1.2 0 1 0 2.40 0a1.2 1.2 0 1 0 -2.40 0zM482.7 291.0a1.2 1.2 0 1 0 2.40 0a1.2 1.2 0 1 0 -2.40 0zM459.6 292.7a1.2 1.2 0 1 0 2.40 0a1.2 1.2 0 1 0 -2.40 0zM469.1 319.3a1.2 1.2 0 1 0 2.40 0a1.2 1.2 0 1 0 -2.40 0zM493.6 285.9a1.2 1.2 0 1 0 2.40 0a1.2 1.2 0 1 0 -2.40 0zM486.4 303.2a1.2 1.2 0 1 0 2.40 0a1.2 1.2 0 1 0 -2.40 0zM482.6 292.7a1.2 1.2 0 1 0 2.40 0a1.2 1.2 0 1 0 -2.40 0zM482.1 293.6a1.2 1.2 0 1 0 2.40 0a1.2 1.2 0 1 0 -2.40 0zM491.8 283.8a1.2 1.2 0 1 0 2.40 0a1.2 1.2 0 1 0 -2.40 0zM482.7 271.6a1.2 1.2 0 1 0 2.40 0a1.2 1.2 0 1 0 -2.40 0zM479.3 283.5a1.2 1.2 0 1 0 2.40 0a1.2 1.2 0 1 0 -2.40 0zM469.7 280.2a1.2 1.2 0 1 0 2.40 0a1.2 1.2 0 1 0 -2.40 0zM478.2 297.4a1.2 1.2 0 1 0 2.40 0a1.2 1.2 0 1 0 -2.40 0zM473.4 289.5a1.2 1.2 0 1 0 2.40 0a1.2 1.2 0 1 0 -2.40 0zM473.6 286.0a1.2 1.2 0 1 0 2.40 0a1.2 1.2 0 1 0 -2.40 0zM473.5 311.1a1.2 1.2 0 1 0 2.40 0a1.2 1.2 0 1 0 -2.40 0zM478.4 271.5a1.2 1.2 0 1 0 2.40 0a1.2 1.2 0 1 0 -2.40 0zM476.3 302.8a1.2 1.2 0 1 0 2.40 0a1.2 1.2 0 1 0 -2.40 0zM485.2 309.2a1.2 1.2 0 1 0 2.40 0a1.2 1.2 0 1 0 -2.40 0zM469.0 276.1a1.2 1.2 0 1 0 2.40 0a1.2 1.2 0 1 0 -2.40 0zM477.5 270.6a1.2 1.2 0 1 0 2.40 0a1.2 1.2 0 1 0 -2.40 0zM492.4 302.7a1.2 1.2 0 1 0 2.40 0a1.2 1.2 0 1 0 -2.40 0zM479.0 301.7a1.2 1.2 0 1 0 2.40 0a1.2 1.2 0 1 0 -2.40 0zM487.6 259.4a1.2 1.2 0 1 0 2.40 0a1.2 1.2 0 1 0 -2.40 0zM487.1 293.4a1.2 1.2 0 1 0 2.40 0a1.2 1.2 0 1 0 -2.40 0zM488.4 317.2a1.2 1.2 0 1 0 2.40 0a1.2 1.2 0 1 0 -2.40 0zM484.2 301.7a1.2 1.2 0 1 0 2.40 0a1.2 1.2 0 1 0 -2.40 0zM468.6 272.0a1.2 1.2 0 1 0 2.40 0a1.2 1.2 0 1 0 -2.40 0zM476.8 287.2a1.2 1.2 0 1 0 2.40 0a1.2 1.2 0 1 0 -2.40 0zM476.0 286.2a1.2 1.2 0 1 0 2.40 0a1.2 1.2 0 1 0 -2.40 0zM467.4 280.8a1.2 1.2 0 1 0 2.40 0a1.2 1.2 0 1 0 -2.40 0zM475.4 287.0a1.2 1.2 0 1 0 2.40 0a1.2 1.2 0 1 0 -2.40 0zM469.6 298.5a1.2 1.2 0 1 0 2.40 0a1.2 1.2 0 1 0 -2.40 0zM466.5 312.8a1.2 1.2 0 1 0 2.40 0a1.2 1.2 0 1 0 -2.40 0zM480.3 289.6a1.2 1.2 0 1 0 2.40 0a1.2 1.2 0 1 0 -2.40 0zM478.4 307.4a1.2 1.2 0 1 0 2.40 0a1.2 1.2 0 1 0 -2.40 0zM473.7 295.3a1.2 1.2 0 1 0 2.40 0a1.2 1.2 0 1 0 -2.40 0zM471.8 274.7a1.2 1.2 0 1 0 2.40 0a1.2 1.2 0 1 0 -2.40 0zM474.8 288.6a1.2 1.2 0 1 0 2.40 0a1.2 1.2 0 1 0 -2.40 0zM475.9 294.0a1.2 1.2 0 1 0 2.40 0a1.2 1.2 0 1 0 -2.40 0zM429.1 327.3a1.2 1.2 0 1 0 2.40 0a1.2 1.2 0 1 0 -2.40 0zM416.8 303.6a1.2 1.2 0 1 0 2.40 0a1.2 1.2 0 1 0 -2.40 0zM417.7 322.8a1.2 1.2 0 1 0 2.40 0a1.2 1.2 0 1 0 -2.40 0zM419.2 353.8a1.2 1.2 0 1 0 2.40 0a1.2 1.2 0 1 0 -2.40 0zM464.9 298.3a1.2 1.2 0 1 0 2.40 0a1.2 1.2 0 1 0 -2.40 0zM455.6 303.7a1.2 1.2 0 1 0 2.40 0a1.2 1.2 0 1 0 -2.40 0zM447.4 316.4a1.2 1.2 0 1 0 2.40 0a1.2 1.2 0 1 0 -2.40 0zM459.3 312.6a1.2 1.2 0 1 0 2.40 0a1.2 1.2 0 1 0 -2.40 0zM424.4 317.8a1.2 1.2 0 1 0 2.40 0a1.2 1.2 0 1 0 -2.40 0zM434.3 311.9a1.2 1.2 0 1 0 2.40 0a1.2 1.2 0 1 0 -2.40 0zM447.2 308.2a1.2 1.2 0 1 0 2.40 0a1.2 1.2 0 1 0 -2.40 0zM462.5 319.5a1.2 1.2 0 1 0 2.40 0a1.2 1.2 0 1 0 -2.40 0zM444.8 318.8a1.2 1.2 0 1 0 2.40 0a1.2 1.2 0 1 0 -2.40 0zM421.6 348.8a1.2 1.2 0 1 0 2.40 0a1.2 1.2 0 1 0 -2.40 0zM417.0 350.4a1.2 1.2 0 1 0 2.40 0a1.2 1.2 0 1 0 -2.40 0zM416.5 338.1a1.2 1.2 0 1 0 2.40 0a1.2 1.2 0 1 0 -2.40 0zM457.0 323.5a1.2 1.2 0 1 0 2.40 0a1.2 1.2 0 1 0 -2.40 0zM464.7 310.8a1.2 1.2 0 1 0 2.40 0a1.2 1.2 0 1 0 -2.40 0zM422.7 293.9a1.2 1.2 0 1 0 2.40 0a1.2 1.2 0 1 0 -2.40 0zM460.0 301.2a1.2 1.2 0 1 0 2.40 0a1.2 1.2 0 1 0 -2.40 0zM416.8 342.6a1.2 1.2 0 1 0 2.40 0a1.2 1.2 0 1 0 -2.40 0zM461.4 336.5a1.2 1.2 0 1 0 2.40 0a1.2 1.2 0 1 0 -2.40 0zM453.9 322.6a1.2 1.2 0 1 0 2.40 0a1.2 1.2 0 1 0 -2.40 0zM441.1 337.4a1.2 1.2 0 1 0 2.40 0a1.2 1.2 0 1 0 -2.40 0zM441.3 347.7a1.2 1.2 0 1 0 2.40 0a1.2 1.2 0 1 0 -2.40 0zM426.8 315.9a1.2 1.2 0 1 0 2.40 0a1.2 1.2 0 1 0 -2.40 0zM466.8 311.2a1.2 1.2 0 1 0 2.40 0a1.2 1.2 0 1 0 -2.40 0zM429.8 318.2a1.2 1.2 0 1 0 2.40 0a1.2 1.2 0 1 0 -2.40 0zM429.4 282.6a1.2 1.2 0 1 0 2.40 0a1.2 1.2 0 1 0 -2.40 0zM457.8 305.8a1.2 1.2 0 1 0 2.40 0a1.2 1.2 0 1 0 -2.40 0zM446.9 313.6a1.2 1.2 0 1 0 2.40 0a1.2 1.2 0 1 0 -2.40 0zM443.5 312.3a1.2 1.2 0 1 0 2.40 0a1.2 1.2 0 1 0 -2.40 0zM446.6 319.0a1.2 1.2 0 1 0 2.40 0a1.2 1.2 0 1 0 -2.40 0zM420.7 340.2a1.2 1.2 0 1 0 2.40 0a1.2 1.2 0 1 0 -2.40 0zM420.6 331.9a1.2 1.2 0 1 0 2.40 0a1.2 1.2 0 1 0 -2.40 0zM469.5 287.9a1.2 1.2 0 1 0 2.40 0a1.2 1.2 0 1 0 -2.40 0zM454.0 315.1a1.2 1.2 0 1 0 2.40 0a1.2 1.2 0 1 0 -2.40 0zM449.0 332.6a1.2 1.2 0 1 0 2.40 0a1.2 1.2 0 1 0 -2.40 0zM446.0 332.5a1.2 1.2 0 1 0 2.40 0a1.2 1.2 0 1 0 -2.40 0zM427.7 339.2a1.2 1.2 0 1 0 2.40 0a1.2 1.2 0 1 0 -2.40 0zM423.3 327.4a1.2 1.2 0 1 0 2.40 0a1.2 1.2 0 1 0 -2.40 0zM447.3 308.3a1.2 1.2 0 1 0 2.40 0a1.2 1.2 0 1 0 -2.40 0zM415.1 325.3a1.2 1.2 0 1 0 2.40 0a1.2 1.2 0 1 0 -2.40 0zM416.1 315.1a1.2 1.2 0 1 0 2.40 0a1.2 1.2 0 1 0 -2.40 0zM433.8 324.6a1.2 1.2 0 1 0 2.40 0a1.2 1.2 0 1 0 -2.40 0zM447.4 303.2a1.2 1.2 0 1 0 2.40 0a1.2 1.2 0 1 0 -2.40 0zM466.7 299.9a1.2 1.2 0 1 0 2.40 0a1.2 1.2 0 1 0 -2.40 0zM439.9 308.7a1.2 1.2 0 1 0 2.40 0a1.2 1.2 0 1 0 -2.40 0zM431.7 347.4a1.2 1.2 0 1 0 2.40 0a1.2 1.2 0 1 0 -2.40 0zM468.1 286.4a1.2 1.2 0 1 0 2.40 0a1.2 1.2 0 1 0 -2.40 0zM431.2 343.5a1.2 1.2 0 1 0 2.40 0a1.2 1.2 0 1 0 -2.40 0zM441.5 332.3a1.2 1.2 0 1 0 2.40 0a1.2 1.2 0 1 0 -2.40 0zM441.3 306.6a1.2 1.2 0 1 0 2.40 0a1.2 1.2 0 1 0 -2.40 0zM417.0 335.1a1.2 1.2 0 1 0 2.40 0a1.2 1.2 0 1 0 -2.40 0zM420.4 304.0a1.2 1.2 0 1 0 2.40 0a1.2 1.2 0 1 0 -2.40 0zM415.0 328.6a1.2 1.2 0 1 0 2.40 0a1.2 1.2 0 1 0 -2.40 0zM459.1 321.4a1.2 1.2 0 1 0 2.40 0a1.2 1.2 0 1 0 -2.40 0zM435.8 317.6a1.2 1.2 0 1 0 2.40 0a1.2 1.2 0 1 0 -2.40 0zM452.7 316.2a1.2 1.2 0 1 0 2.40 0a1.2 1.2 0 1 0 -2.40 0zM439.6 296.7a1.2 1.2 0 1 0 2.40 0a1.2 1.2 0 1 0 -2.40 0zM442.3 294.1a1.2 1.2 0 1 0 2.40 0a1.2 1.2 0 1 0 -2.40 0zM463.0 295.3a1.2 1.2 0 1 0 2.40 0a1.2 1.2 0 1 0 -2.40 0zM436.7 324.6a1.2 1.2 0 1 0 2.40 0a1.2 1.2 0 1 0 -2.40 0zM420.2 326.6a1.2 1.2 0 1 0 2.40 0a1.2 1.2 0 1 0 -2.40 0zM452.1 296.8a1.2 1.2 0 1 0 2.40 0a1.2 1.2 0 1 0 -2.40 0zM416.2 340.7a1.2 1.2 0 1 0 2.40 0a1.2 1.2 0 1 0 -2.40 0zM443.5 326.2a1.2 1.2 0 1 0 2.40 0a1.2 1.2 0 1 0 -2.40 0zM435.2 308.3a1.2 1.2 0 1 0 2.40 0a1.2 1.2 0 1 0 -2.40 0zM438.5 308.1a1.2 1.2 0 1 0 2.40 0a1.2 1.2 0 1 0 -2.40 0zM455.4 312.3a1.2 1.2 0 1 0 2.40 0a1.2 1.2 0 1 0 -2.40 0zM461.6 309.5a1.2 1.2 0 1 0 2.40 0a1.2 1.2 0 1 0 -2.40 0zM468.6 328.6a1.2 1.2 0 1 0 2.40 0a1.2 1.2 0 1 0 -2.40 0zM458.3 291.6a1.2 1.2 0 1 0 2.40 0a1.2 1.2 0 1 0 -2.40 0zM460.5 308.0a1.2 1.2 0 1 0 2.40 0a1.2 1.2 0 1 0 -2.40 0zM467.1 322.3a1.2 1.2 0 1 0 2.40 0a1.2 1.2 0 1 0 -2.40 0zM436.1 334.5a1.2 1.2 0 1 0 2.40 0a1.2 1.2 0 1 0 -2.40 0zM433.8 332.6a1.2 1.2 0 1 0 2.40 0a1.2 1.2 0 1 0 -2.40 0zM416.1 306.8a1.2 1.2 0 1 0 2.40 0a1.2 1.2 0 1 0 -2.40 0zM440.0 307.9a1.2 1.2 0 1 0 2.40 0a1.2 1.2 0 1 0 -2.40 0zM417.7 347.0a1.2 1.2 0 1 0 2.40 0a1.2 1.2 0 1 0 -2.40 0zM426.5 299.2a1.2 1.2 0 1 0 2.40 0a1.2 1.2 0 1 0 -2.40 0zM437.7 300.3a1.2 1.2 0 1 0 2.40 0a1.2 1.2 0 1 0 -2.40 0zM437.6 332.7a1.2 1.2 0 1 0 2.40 0a1.2 1.2 0 1 0 -2.40 0zM457.5 343.9a1.2 1.2 0 1 0 2.40 0a1.2 1.2 0 1 0 -2.40 0zM440.5 303.8a1.2 1.2 0 1 0 2.40 0a1.2 1.2 0 1 0 -2.40 0zM454.2 317.8a1.2 1.2 0 1 0 2.40 0a1.2 1.2 0 1 0 -2.40 0zM415.8 331.7a1.2 1.2 0 1 0 2.40 0a1.2 1.2 0 1 0 -2.40 0zM455.0 316.3a1.2 1.2 0 1 0 2.40 0a1.2 1.2 0 1 0 -2.40 0zM457.3 291.0a1.2 1.2 0 1 0 2.40 0a1.2 1.2 0 1 0 -2.40 0zM415.2 310.2a1.2 1.2 0 1 0 2.40 0a1.2 1.2 0 1 0 -2.40 0zM434.2 309.2a1.2 1.2 0 1 0 2.40 0a1.2 1.2 0 1 0 -2.40 0zM450.2 313.8a1.2 1.2 0 1 0 2.40 0a1.2 1.2 0 1 0 -2.40 0zM422.2 322.9a1.2 1.2 0 1 0 2.40 0a1.2 1.2 0 1 0 -2.40 0zM459.8 298.3a1.2 1.2 0 1 0 2.40 0a1.2 1.2 0 1 0 -2.40 0zM469.1 323.1a1.2 1.2 0 1 0 2.40 0a1.2 1.2 0 1 0 -2.40 0zM458.5 290.6a1.2 1.2 0 1 0 2.40 0a1.2 1.2 0 1 0 -2.40 0zM449.3 316.6a1.2 1.2 0 1 0 2.40 0a1.2 1.2 0 1 0 -2.40 0zM458.5 303.8a1.2 1.2 0 1 0 2.40 0a1.2 1.2 0 1 0 -2.40 0zM467.2 300.9a1.2 1.2 0 1 0 2.40 0a1.2 1.2 0 1 0 -2.40 0zM468.2 290.0a1.2 1.2 0 1 0 2.40 0a1.2 1.2 0 1 0 -2.40 0zM433.2 306.2a1.2 1.2 0 1 0 2.40 0a1.2 1.2 0 1 0 -2.40 0zM450.9 281.5a1.2 1.2 0 1 0 2.40 0a1.2 1.2 0 1 0 -2.40 0zM419.8 332.5a1.2 1.2 0 1 0 2.40 0a1.2 1.2 0 1 0 -2.40 0zM465.9 315.6a1.2 1.2 0 1 0 2.40 0a1.2 1.2 0 1 0 -2.40 0zM417.8 326.9a1.2 1.2 0 1 0 2.40 0a1.2 1.2 0 1 0 -2.40 0zM430.6 330.7a1.2 1.2 0 1 0 2.40 0a1.2 1.2 0 1 0 -2.40 0zM446.7 301.8a1.2 1.2 0 1 0 2.40 0a1.2 1.2 0 1 0 -2.40 0zM427.0 334.7a1.2 1.2 0 1 0 2.40 0a1.2 1.2 0 1 0 -2.40 0zM438.1 316.1a1.2 1.2 0 1 0 2.40 0a1.2 1.2 0 1 0 -2.40 0zM434.2 307.2a1.2 1.2 0 1 0 2.40 0a1.2 1.2 0 1 0 -2.40 0zM451.9 296.9a1.2 1.2 0 1 0 2.40 0a1.2 1.2 0 1 0 -2.40 0zM443.6 312.2a1.2 1.2 0 1 0 2.40 0a1.2 1.2 0 1 0 -2.40 0zM461.1 286.6a1.2 1.2 0 1 0 2.40 0a1.2 1.2 0 1 0 -2.40 0zM449.4 294.5a1.2 1.2 0 1 0 2.40 0a1.2 1.2 0 1 0 -2.40 0zM455.0 331.9a1.2 1.2 0 1 0 2.40 0a1.2 1.2 0 1 0 -2.40 0zM415.4 324.9a1.2 1.2 0 1 0 2.40 0a1.2 1.2 0 1 0 -2.40 0zM452.4 307.8a1.2 1.2 0 1 0 2.40 0a1.2 1.2 0 1 0 -2.40 0zM465.6 307.3a1.2 1.2 0 1 0 2.40 0a1.2 1.2 0 1 0 -2.40 0zM422.1 334.7a1.2 1.2 0 1 0 2.40 0a1.2 1.2 0 1 0 -2.40 0zM458.5 306.4a1.2 1.2 0 1 0 2.40 0a1.2 1.2 0 1 0 -2.40 0zM458.6 301.7a1.2 1.2 0 1 0 2.40 0a1.2 1.2 0 1 0 -2.40 0zM419.2 323.9a1.2 1.2 0 1 0 2.40 0a1.2 1.2 0 1 0 -2.40 0zM449.0 293.5a1.2 1.2 0 1 0 2.40 0a1.2 1.2 0 1 0 -2.40 0zM432.0 307.4a1.2 1.2 0 1 0 2.40 0a1.2 1.2 0 1 0 -2.40 0zM435.3 327.1a1.2 1.2 0 1 0 2.40 0a1.2 1.2 0 1 0 -2.40 0zM470.3 311.0a1.2 1.2 0 1 0 2.40 0a1.2 1.2 0 1 0 -2.40 0zM446.5 301.7a1.2 1.2 0 1 0 2.40 0a1.2 1.2 0 1 0 -2.40 0zM441.3 325.4a1.2 1.2 0 1 0 2.40 0a1.2 1.2 0 1 0 -2.40 0zM459.3 304.2a1.2 1.2 0 1 0 2.40 0a1.2 1.2 0 1 0 -2.40 0zM436.5 312.0a1.2 1.2 0 1 0 2.40 0a1.2 1.2 0 1 0 -2.40 0zM421.8 312.3a1.2 1.2 0 1 0 2.40 0a1.2 1.2 0 1 0 -2.40 0zM469.6 294.1a1.2 1.2 0 1 0 2.40 0a1.2 1.2 0 1 0 -2.40 0zM423.6 305.7a1.2 1.2 0 1 0 2.40 0a1.2 1.2 0 1 0 -2.40 0zM465.1 309.6a1.2 1.2 0 1 0 2.40 0a1.2 1.2 0 1 0 -2.40 0zM469.4 292.1a1.2 1.2 0 1 0 2.40 0a1.2 1.2 0 1 0 -2.40 0zM440.8 325.1a1.2 1.2 0 1 0 2.40 0a1.2 1.2 0 1 0 -2.40 0zM421.3 323.9a1.2 1.2 0 1 0 2.40 0a1.2 1.2 0 1 0 -2.40 0zM440.4 314.7a1.2 1.2 0 1 0 2.40 0a1.2 1.2 0 1 0 -2.40 0zM445.0 326.5a1.2 1.2 0 1 0 2.40 0a1.2 1.2 0 1 0 -2.40 0zM458.7 342.0a1.2 1.2 0 1 0 2.40 0a1.2 1.2 0 1 0 -2.40 0zM470.6 287.5a1.2 1.2 0 1 0 2.40 0a1.2 1.2 0 1 0 -2.40 0zM428.2 317.8a1.2 1.2 0 1 0 2.40 0a1.2 1.2 0 1 0 -2.40 0zM416.4 327.1a1.2 1.2 0 1 0 2.40 0a1.2 1.2 0 1 0 -2.40 0zM469.6 310.5a1.2 1.2 0 1 0 2.40 0a1.2 1.2 0 1 0 -2.40 0zM414.6 334.4a1.2 1.2 0 1 0 2.40 0a1.2 1.2 0 1 0 -2.40 0zM468.6 295.4a1.2 1.2 0 1 0 2.40 0a1.2 1.2 0 1 0 -2.40 0zM464.7 303.3a1.2 1.2 0 1 0 2.40 0a1.2 1.2 0 1 0 -2.40 0zM465.0 287.7a1.2 1.2 0 1 0 2.40 0a1.2 1.2 0 1 0 -2.40 0zM437.1 316.5a1.2 1.2 0 1 0 2.40 0a1.2 1.2 0 1 0 -2.40 0zM425.8 335.2a1.2 1.2 0 1 0 2.40 0a1.2 1.2 0 1 0 -2.40 0zM448.1 304.1a1.2 1.2 0 1 0 2.40 0a1.2 1.2 0 1 0 -2.40 0zM438.8 325.8a1.2 1.2 0 1 0 2.40 0a1.2 1.2 0 1 0 -2.40 0zM454.4 306.1a1.2 1.2 0 1 0 2.40 0a1.2 1.2 0 1 0 -2.40 0zM425.3 348.8a1.2 1.2 0 1 0 2.40 0a1.2 1.2 0 1 0 -2.40 0zM440.9 320.9a1.2 1.2 0 1 0 2.40 0a1.2 1.2 0 1 0 -2.40 0zM465.8 295.6a1.2 1.2 0 1 0 2.40 0a1.2 1.2 0 1 0 -2.40 0zM447.6 321.5a1.2 1.2 0 1 0 2.40 0a1.2 1.2 0 1 0 -2.40 0zM466.6 303.1a1.2 1.2 0 1 0 2.40 0a1.2 1.2 0 1 0 -2.40 0zM456.6 300.0a1.2 1.2 0 1 0 2.40 0a1.2 1.2 0 1 0 -2.40 0zM422.0 325.2a1.2 1.2 0 1 0 2.40 0a1.2 1.2 0 1 0 -2.40 0zM450.7 286.9a1.2 1.2 0 1 0 2.40 0a1.2 1.2 0 1 0 -2.40 0zM424.9 328.2a1.2 1.2 0 1 0 2.40 0a1.2 1.2 0 1 0 -2.40 0zM418.5 330.5a1.2 1.2 0 1 0 2.40 0a1.2 1.2 0 1 0 -2.40 0zM448.4 314.5a1.2 1.2 0 1 0 2.40 0a1.2 1.2 0 1 0 -2.40 0zM415.0 356.6a1.2 1.2 0 1 0 2.40 0a1.2 1.2 0 1 0 -2.40 0zM417.5 349.4a1.2 1.2 0 1 0 2.40 0a1.2 1.2 0 1 0 -2.40 0zM436.4 311.4a1.2 1.2 0 1 0 2.40 0a1.2 1.2 0 1 0 -2.40 0zM424.7 329.3a1.2 1.2 0 1 0 2.40 0a1.2 1.2 0 1 0 -2.40 0zM451.8 291.8a1.2 1.2 0 1 0 2.40 0a1.2 1.2 0 1 0 -2.40 0zM430.1 323.0a1.2 1.2 0 1 0 2.40 0a1.2 1.2 0 1 0 -2.40 0zM428.1 325.3a1.2 1.2 0 1 0 2.40 0a1.2 1.2 0 1 0 -2.40 0zM445.5 300.0a1.2 1.2 0 1 0 2.40 0a1.2 1.2 0 1 0 -2.40 0zM444.0 310.9a1.2 1.2 0 1 0 2.40 0a1.2 1.2 0 1 0 -2.40 0zM462.0 283.5a1.2 1.2 0 1 0 2.40 0a1.2 1.2 0 1 0 -2.40 0zM460.6 320.2a1.2 1.2 0 1 0 2.40 0a1.2 1.2 0 1 0 -2.40 0zM466.9 296.6a1.2 1.2 0 1 0 2.40 0a1.2 1.2 0 1 0 -2.40 0zM420.7 317.7a1.2 1.2 0 1 0 2.40 0a1.2 1.2 0 1 0 -2.40 0zM417.7 321.0a1.2 1.2 0 1 0 2.40 0a1.2 1.2 0 1 0 -2.40 0zM456.7 292.4a1.2 1.2 0 1 0 2.40 0a1.2 1.2 0 1 0 -2.40 0zM437.0 304.4a1.2 1.2 0 1 0 2.40 0a1.2 1.2 0 1 0 -2.40 0zM417.5 328.0a1.2 1.2 0 1 0 2.40 0a1.2 1.2 0 1 0 -2.40 0zM444.3 321.9a1.2 1.2 0 1 0 2.40 0a1.2 1.2 0 1 0 -2.40 0zM432.5 307.3a1.2 1.2 0 1 0 2.40 0a1.2 1.2 0 1 0 -2.40 0zM426.5 323.0a1.2 1.2 0 1 0 2.40 0a1.2 1.2 0 1 0 -2.40 0zM451.8 297.3a1.2 1.2 0 1 0 2.40 0a1.2 1.2 0 1 0 -2.40 0zM455.7 289.9a1.2 1.2 0 1 0 2.40 0a1.2 1.2 0 1 0 -2.40 0zM429.1 319.4a1.2 1.2 0 1 0 2.40 0a1.2 1.2 0 1 0 -2.40 0zM451.9 322.2a1.2 1.2 0 1 0 2.40 0a1.2 1.2 0 1 0 -2.40 0zM427.2 326.4a1.2 1.2 0 1 0 2.40 0a1.2 1.2 0 1 0 -2.40 0zM464.2 292.8a1.2 1.2 0 1 0 2.40 0a1.2 1.2 0 1 0 -2.40 0zM387.5 315.6a1.2 1.2 0 1 0 2.40 0a1.2 1.2 0 1 0 -2.40 0zM400.8 344.3a1.2 1.2 0 1 0 2.40 0a1.2 1.2 0 1 0 -2.40 0zM402.9 347.7a1.2 1.2 0 1 0 2.40 0a1.2 1.2 0 1 0 -2.40 0zM382.2 350.4a1.2 1.2 0 1 0 2.40 0a1.2 1.2 0 1 0 -2.40 0zM402.6 329.1a1.2 1.2 0 1 0 2.40 0a1.2 1.2 0 1 0 -2.40 0zM401.7 349.8a1.2 1.2 0 1 0 2.40 0a1.2 1.2 0 1 0 -2.40 0zM411.5 322.9a1.2 1.2 0 1 0 2.40 0a1.2 1.2 0 1 0 -2.40 0zM388.6 335.4a1.2 1.2 0 1 0 2.40 0a1.2 1.2 0 1 0 -2.40 0zM382.2 350.0a1.2 1.2 0 1 0 2.40 0a1.2 1.2 0 1 0 -2.40 0zM398.4 342.6a1.2 1.2 0 1 0 2.40 0a1.2 1.2 0 1 0 -2.40 0zM411.0 342.5a1.2 1.2 0 1 0 2.40 0a1.2 1.2 0 1 0 -2.40 0zM381.5 351.8a1.2 1.2 0 1 0 2.40 0a1.2 1.2 0 1 0 -2.40 0zM385.0 356.3a1.2 1.2 0 1 0 2.40 0a1.2 1.2 0 1 0 -2.40 0zM380.9 333.6a1.2 1.2 0 1 0 2.40 0a1.2 1.2 0 1 0 -2.40 0zM416.2 310.4a1.2 1.2 0 1 0 2.40 0a1.2 1.2 0 1 0 -2.40 0zM407.1 338.5a1.2 1.2 0 1 0 2.40 0a1.2 1.2 0 1 0 -2.40 0zM380.4 349.6a1.2 1.2 0 1 0 2.40 0a1.2 1.2 0 1 0 -2.40 0zM410.6 356.3a1.2 1.2 0 1 0 2.40 0a1.2 1.2 0 1 0 -2.40 0zM394.2 348.3a1.2 1.2 0 1 0 2.40 0a1.2 1.2 0 1 0 -2.40 0zM377.7 346.4a1.2 1.2 0 1 0 2.40 0a1.2 1.2 0 1 0 -2.40 0zM379.1 346.4a1.2 1.2 0 1 0 2.40 0a1.2 1.2 0 1 0 -2.40 0zM386.6 344.3a1.2 1.2 0 1 0 2.40 0a1.2 1.2 0 1 0 -2.40 0zM378.2 340.0a1.2 1.2 0 1 0 2.40 0a1.2 1.2 0 1 0 -2.40 0zM383.4 346.4a1.2 1.2 0 1 0 2.40 0a1.2 1.2 0 1 0 -2.40 0zM379.2 354.5a1.2 1.2 0 1 0 2.40 0a1.2 1.2 0 1 0 -2.40 0zM382.3 328.7a1.2 1.2 0 1 0 2.40 0a1.2 1.2 0 1 0 -2.40 0zM380.6 372.3a1.2 1.2 0 1 0 2.40 0a1.2 1.2 0 1 0 -2.40 0zM393.7 356.3a1.2 1.2 0 1 0 2.40 0a1.2 1.2 0 1 0 -2.40 0zM409.7 342.7a1.2 1.2 0 1 0 2.40 0a1.2 1.2 0 1 0 -2.40 0zM408.0 343.5a1.2 1.2 0 1 0 2.40 0a1.2 1.2 0 1 0 -2.40 0zM397.9 349.4a1.2 1.2 0 1 0 2.40 0a1.2 1.2 0 1 0 -2.40 0zM379.2 352.6a1.2 1.2 0 1 0 2.40 0a1.2 1.2 0 1 0 -2.40 0zM414.6 340.0a1.2 1.2 0 1 0 2.40 0a1.2 1.2 0 1 0 -2.40 0zM379.3 350.5a1.2 1.2 0 1 0 2.40 0a1.2 1.2 0 1 0 -2.40 0zM377.2 343.8a1.2 1.2 0 1 0 2.40 0a1.2 1.2 0 1 0 -2.40 0zM406.6 335.2a1.2 1.2 0 1 0 2.40 0a1.2 1.2 0 1 0 -2.40 0zM401.7 336.5a1.2 1.2 0 1 0 2.40 0a1.2 1.2 0 1 0 -2.40 0zM407.0 346.8a1.2 1.2 0 1 0 2.40 0a1.2 1.2 0 1 0 -2.40 0zM387.7 359.3a1.2 1.2 0 1 0 2.40 0a1.2 1.2 0 1 0 -2.40 0zM412.4 336.1a1.2 1.2 0 1 0 2.40 0a1.2 1.2 0 1 0 -2.40 0zM477.1 251.4a1.2 1.2 0 1 0 2.40 0a1.2 1.2 0 1 0 -2.40 0zM468.5 254.1a1.2 1.2 0 1 0 2.40 0a1.2 1.2 0 1 0 -2.40 0zM446.9 283.9a1.2 1.2 0 1 0 2.40 0a1.2 1.2 0 1 0 -2.40 0zM439.3 275.8a1.2 1.2 0 1 0 2.40 0a1.2 1.2 0 1 0 -2.40 0zM425.3 289.3a1.2 1.2 0 1 0 2.40 0a1.2 1.2 0 1 0 -2.40 0zM390.7 367.7a1.2 1.2 0 1 0 2.40 0a1.2 1.2 0 1 0 -2.40 0zM384.3 356.9a1.2 1.2 0 1 0 2.40 0a1.2 1.2 0 1 0 -2.40 0zM408.0 359.6a1.2 1.2 0 1 0 2.40 0a1.2 1.2 0 1 0 -2.40 0zM452.3 348.8a1.2 1.2 0 1 0 2.40 0a1.2 1.2 0 1 0 -2.40 0zM460.9 343.4a1.2 1.2 0 1 0 2.40 0a1.2 1.2 0 1 0 -2.40 0z"/><path d="M374.30 571.52L506.80 239.65" stroke="#606060" stroke-width="0.6" stroke-dasharray="2.6 1.2" fill="none"/><path d="M380.06 349.29L499.94 286.24" stroke="#000" stroke-width="0.9" stroke-dasharray="2.8 1.2" fill="none"/></g><rect x="376.5" y="247.9" width="57.1" height="7.4" rx="1.2" fill="#fff" fill-opacity="0.85" stroke="#d8d8d8" stroke-width="0.6"/><path d="M378.5 251.6h9.5" stroke="#000" stroke-width="0.8" stroke-dasharray="2.6 1.1"/><text x="392.10" y="253.30" font-size="5.00" stroke="#000" stroke-width="0.08" textLength="40.54" lengthAdjust="spacingAndGlyphs">y = 0.21x - 0.06</text><path d="M374.50 245.50V373.50M506.50 245.50V373.50M374.50 245.50H506.50M374.50 373.50H506.50" stroke="#000" stroke-width="0.6" fill="none" stroke-linecap="square"/><path d="M377.50 373.50v2.2M399.50 373.50v2.2M421.50 373.50v2.2M442.50 373.50v2.2M464.50 373.50v2.2M485.50 373.50v2.2M374.50 373.50h-2.2M374.50 346.50h-2.2M374.50 319.50h-2.2M374.50 292.50h-2.2M374.50 264.50h-2.2" stroke="#000" stroke-width="0.6" fill="none"/><text x="377.90" y="382.60" font-size="8.40" text-anchor="middle" stroke="#000" stroke-width="0.08" textLength="16.67" lengthAdjust="spacingAndGlyphs">−10</text><text x="399.50" y="382.60" font-size="8.40" text-anchor="middle" stroke="#000" stroke-width="0.08" textLength="11.65" lengthAdjust="spacingAndGlyphs">−8</text><text x="421.10" y="382.60" font-size="8.40" text-anchor="middle" stroke="#000" stroke-width="0.08" textLength="11.65" lengthAdjust="spacingAndGlyphs">−6</text><text x="442.70" y="382.60" font-size="8.40" text-anchor="middle" stroke="#000" stroke-width="0.08" textLength="11.65" lengthAdjust="spacingAndGlyphs">−4</text><text x="464.30" y="382.60" font-size="8.40" text-anchor="middle" stroke="#000" stroke-width="0.08" textLength="11.65" lengthAdjust="spacingAndGlyphs">−2</text><text x="485.90" y="382.60" font-size="8.40" text-anchor="middle" stroke="#000" stroke-width="0.08" textLength="5.03" lengthAdjust="spacingAndGlyphs">0</text><text x="370.70" y="376.16" font-size="8.40" text-anchor="end" stroke="#000" stroke-width="0.08" textLength="11.65" lengthAdjust="spacingAndGlyphs">−3</text><text x="370.70" y="349.11" font-size="8.40" text-anchor="end" stroke="#000" stroke-width="0.08" textLength="11.65" lengthAdjust="spacingAndGlyphs">−2</text><text x="370.70" y="322.06" font-size="8.40" text-anchor="end" stroke="#000" stroke-width="0.08" textLength="11.65" lengthAdjust="spacingAndGlyphs">−1</text><text x="370.70" y="295.01" font-size="8.40" text-anchor="end" stroke="#000" stroke-width="0.08" textLength="5.03" lengthAdjust="spacingAndGlyphs">0</text><text x="370.70" y="267.96" font-size="8.40" text-anchor="end" stroke="#000" stroke-width="0.08" textLength="5.03" lengthAdjust="spacingAndGlyphs">1</text><text x="440.55" y="242.50" font-size="9.45" text-anchor="middle" stroke="#000" stroke-width="0.10" textLength="118.91" lengthAdjust="spacingAndGlyphs">Staphylococcus nuclease</text><g transform="translate(440.55 393.80)"><text x="-42.38" y="0.00" font-size="9.70" stroke="#000" stroke-width="0.10" textLength="20.79" lengthAdjust="spacingAndGlyphs">ΔΔG</text><text x="-21.59" y="1.50" font-size="6.79" stroke="#000" stroke-width="0.08" textLength="12.39" lengthAdjust="spacingAndGlyphs">exp</text><text x="-6.12" y="0.00" font-size="9.70" stroke="#000" stroke-width="0.10" textLength="48.51" lengthAdjust="spacingAndGlyphs">(kcal/mol)</text></g><g transform="translate(355.70 309.30) rotate(-90)"><text x="-43.91" y="0.00" font-size="9.70" stroke="#000" stroke-width="0.10" textLength="20.79" lengthAdjust="spacingAndGlyphs">ΔΔG</text><text x="-23.12" y="1.50" font-size="6.79" stroke="#000" stroke-width="0.08" textLength="15.44" lengthAdjust="spacingAndGlyphs">pred</text><text x="-4.60" y="0.00" font-size="9.70" stroke="#000" stroke-width="0.10" textLength="48.51" lengthAdjust="spacingAndGlyphs">(kcal/mol)</text></g><path d="M552.50 245.30V373.30M573.50 245.30V373.30M594.50 245.30V373.30M615.50 245.30V373.30M636.50 245.30V373.30M657.50 245.30V373.30M678.50 245.30V373.30M549.30 355.50H685.60M549.30 333.50H685.60M549.30 311.50H685.60M549.30 289.50H685.60M549.30 267.50H685.60M549.30 245.50H685.60" stroke="#c4c4c4" stroke-opacity="1.0" stroke-width="0.8" fill="none"/><g clip-path="url(#cb3)"><g stroke-linecap="round" stroke-linejoin="round" fill="none"><path d="M562 300 Q558 306 564 310 Q561 318 567 321 M576 312 Q586 307 588 316 M580 300 Q587 304 583 310 M562 290 Q558 282 561 276 M590 270 Q597 276 593 283 M570 323 Q578 329 587 323 M563 303 Q570 298 575 302 M560 312 Q556 318 562 322 M574 300 Q580 296 584 302" stroke="#1a7ae0" stroke-width="0.75"/><path d="M566 268 Q576 262 586 268 Q594 274 593 283 Q590 294 580 297 Q568 298 563 290 Q559 280 566 268 Z" fill="#1a7ae0" fill-opacity="0.55" stroke="none"/><g transform="translate(569.90 265.70) rotate(17.6)"><rect x="0" y="-1.90" width="10.59" height="3.80" rx="1.52" fill="#1a7ae0"/><path d="M0.00 -1.90q1.44 1.90 0 3.80M1.77 -1.90q1.44 1.90 0 3.80M3.53 -1.90q1.44 1.90 0 3.80M5.30 -1.90q1.44 1.90 0 3.80M7.06 -1.90q1.44 1.90 0 3.80M8.83 -1.90q1.44 1.90 0 3.80M10.59 -1.90q1.44 1.90 0 3.80" stroke="#0a4898" stroke-width="0.45" stroke-opacity="0.8" fill="none"/><path d="M1.27 1.55H9.33" stroke="#0a4898" stroke-width="0.7" stroke-opacity="0.7"/></g><g transform="translate(565.50 271.40) rotate(21.1)"><rect x="0" y="-1.90" width="12.22" height="3.80" rx="1.52" fill="#1a7ae0"/><path d="M0.00 -1.90q1.44 1.90 0 3.80M1.75 -1.90q1.44 1.90 0 3.80M3.49 -1.90q1.44 1.90 0 3.80M5.24 -1.90q1.44 1.90 0 3.80M6.98 -1.90q1.44 1.90 0 3.80M8.73 -1.90q1.44 1.90 0 3.80M10.47 -1.90q1.44 1.90 0 3.80M12.22 -1.90q1.44 1.90 0 3.80" stroke="#0a4898" stroke-width="0.45" stroke-opacity="0.8" fill="none"/><path d="M1.27 1.55H10.95" stroke="#0a4898" stroke-width="0.7" stroke-opacity="0.7"/></g><g transform="translate(561.70 275.80) rotate(15.2)"><rect x="0" y="-1.80" width="7.25" height="3.60" rx="1.44" fill="#1a7ae0"/><path d="M0.00 -1.80q1.44 1.80 0 3.60M1.81 -1.80q1.44 1.80 0 3.60M3.63 -1.80q1.44 1.80 0 3.60M5.44 -1.80q1.44 1.80 0 3.60M7.25 -1.80q1.44 1.80 0 3.60" stroke="#0a4898" stroke-width="0.45" stroke-opacity="0.8" fill="none"/><path d="M1.20 1.45H6.05" stroke="#0a4898" stroke-width="0.7" stroke-opacity="0.7"/></g><g transform="translate(580.00 269.50) rotate(36.8)"><rect x="0" y="-1.90" width="15.86" height="3.80" rx="1.52" fill="#1a7ae0"/><path d="M0.00 -1.90q1.44 1.90 0 3.80M1.76 -1.90q1.44 1.90 0 3.80M3.52 -1.90q1.44 1.90 0 3.80M5.29 -1.90q1.44 1.90 0 3.80M7.05 -1.90q1.44 1.90 0 3.80M8.81 -1.90q1.44 1.90 0 3.80M10.57 -1.90q1.44 1.90 0 3.80M12.34 -1.90q1.44 1.90 0 3.80M14.10 -1.90q1.44 1.90 0 3.80M15.86 -1.90q1.44 1.90 0 3.80" stroke="#0a4898" stroke-width="0.45" stroke-opacity="0.8" fill="none"/><path d="M1.27 1.55H14.59" stroke="#0a4898" stroke-width="0.7" stroke-opacity="0.7"/></g><g transform="translate(571.80 278.40) rotate(24.9)"><rect x="0" y="-1.90" width="10.47" height="3.80" rx="1.52" fill="#1a7ae0"/><path d="M0.00 -1.90q1.44 1.90 0 3.80M1.74 -1.90q1.44 1.90 0 3.80M3.49 -1.90q1.44 1.90 0 3.80M5.23 -1.90q1.44 1.90 0 3.80M6.98 -1.90q1.44 1.90 0 3.80M8.72 -1.90q1.44 1.90 0 3.80M10.47 -1.90q1.44 1.90 0 3.80" stroke="#0a4898" stroke-width="0.45" stroke-opacity="0.8" fill="none"/><path d="M1.27 1.55H9.20" stroke="#0a4898" stroke-width="0.7" stroke-opacity="0.7"/></g><g transform="translate(582.60 279.00) rotate(23.4)"><rect x="0" y="-1.80" width="9.59" height="3.60" rx="1.44" fill="#1a7ae0"/><path d="M0.00 -1.80q1.44 1.80 0 3.60M1.92 -1.80q1.44 1.80 0 3.60M3.83 -1.80q1.44 1.80 0 3.60M5.75 -1.80q1.44 1.80 0 3.60M7.67 -1.80q1.44 1.80 0 3.60M9.59 -1.80q1.44 1.80 0 3.60" stroke="#0a4898" stroke-width="0.45" stroke-opacity="0.8" fill="none"/><path d="M1.20 1.45H8.39" stroke="#0a4898" stroke-width="0.7" stroke-opacity="0.7"/></g><g transform="translate(567.40 285.30) rotate(26.6)"><rect x="0" y="-1.90" width="8.50" height="3.80" rx="1.52" fill="#1a7ae0"/><path d="M0.00 -1.90q1.44 1.90 0 3.80M1.70 -1.90q1.44 1.90 0 3.80M3.40 -1.90q1.44 1.90 0 3.80M5.10 -1.90q1.44 1.90 0 3.80M6.80 -1.90q1.44 1.90 0 3.80M8.50 -1.90q1.44 1.90 0 3.80" stroke="#0a4898" stroke-width="0.45" stroke-opacity="0.8" fill="none"/><path d="M1.27 1.55H7.23" stroke="#0a4898" stroke-width="0.7" stroke-opacity="0.7"/></g><g transform="translate(575.00 288.50) rotate(28.7)"><rect x="0" y="-1.90" width="14.37" height="3.80" rx="1.52" fill="#1a7ae0"/><path d="M0.00 -1.90q1.44 1.90 0 3.80M1.80 -1.90q1.44 1.90 0 3.80M3.59 -1.90q1.44 1.90 0 3.80M5.39 -1.90q1.44 1.90 0 3.80M7.18 -1.90q1.44 1.90 0 3.80M8.98 -1.90q1.44 1.90 0 3.80M10.77 -1.90q1.44 1.90 0 3.80M12.57 -1.90q1.44 1.90 0 3.80M14.37 -1.90q1.44 1.90 0 3.80" stroke="#0a4898" stroke-width="0.45" stroke-opacity="0.8" fill="none"/><path d="M1.27 1.55H13.10" stroke="#0a4898" stroke-width="0.7" stroke-opacity="0.7"/></g><g transform="translate(584.50 290.40) rotate(24.9)"><rect x="0" y="-1.80" width="9.04" height="3.60" rx="1.44" fill="#1a7ae0"/><path d="M0.00 -1.80q1.44 1.80 0 3.60M1.81 -1.80q1.44 1.80 0 3.60M3.62 -1.80q1.44 1.80 0 3.60M5.42 -1.80q1.44 1.80 0 3.60M7.23 -1.80q1.44 1.80 0 3.60M9.04 -1.80q1.44 1.80 0 3.60" stroke="#0a4898" stroke-width="0.45" stroke-opacity="0.8" fill="none"/><path d="M1.20 1.45H7.84" stroke="#0a4898" stroke-width="0.7" stroke-opacity="0.7"/></g><g transform="translate(570.60 292.90) rotate(33.9)"><rect x="0" y="-1.80" width="9.15" height="3.60" rx="1.44" fill="#1a7ae0"/><path d="M0.00 -1.80q1.44 1.80 0 3.60M1.83 -1.80q1.44 1.80 0 3.60M3.66 -1.80q1.44 1.80 0 3.60M5.49 -1.80q1.44 1.80 0 3.60M7.32 -1.80q1.44 1.80 0 3.60M9.15 -1.80q1.44 1.80 0 3.60" stroke="#0a4898" stroke-width="0.45" stroke-opacity="0.8" fill="none"/><path d="M1.20 1.45H7.95" stroke="#0a4898" stroke-width="0.7" stroke-opacity="0.7"/></g><g transform="translate(583.00 294.00) rotate(64.5)"><rect x="0" y="-2.30" width="22.50" height="4.60" rx="1.84" fill="#1a7ae0"/><path d="M0.00 -2.30q1.44 2.30 0 4.60M1.61 -2.30q1.44 2.30 0 4.60M3.21 -2.30q1.44 2.30 0 4.60M4.82 -2.30q1.44 2.30 0 4.60M6.43 -2.30q1.44 2.30 0 4.60M8.04 -2.30q1.44 2.30 0 4.60M9.64 -2.30q1.44 2.30 0 4.60M11.25 -2.30q1.44 2.30 0 4.60M12.86 -2.30q1.44 2.30 0 4.60M14.46 -2.30q1.44 2.30 0 4.60M16.07 -2.30q1.44 2.30 0 4.60M17.68 -2.30q1.44 2.30 0 4.60M19.28 -2.30q1.44 2.30 0 4.60M20.89 -2.30q1.44 2.30 0 4.60M22.50 -2.30q1.44 2.30 0 4.60" stroke="#0a4898" stroke-width="0.45" stroke-opacity="0.8" fill="none"/><path d="M1.53 1.95H20.97" stroke="#0a4898" stroke-width="0.7" stroke-opacity="0.7"/></g><g transform="translate(566.00 318.00) rotate(13.0)"><rect x="0" y="-2.10" width="18.27" height="4.20" rx="1.68" fill="#1a7ae0"/><path d="M0.00 -2.10q1.44 2.10 0 4.20M1.66 -2.10q1.44 2.10 0 4.20M3.32 -2.10q1.44 2.10 0 4.20M4.98 -2.10q1.44 2.10 0 4.20M6.64 -2.10q1.44 2.10 0 4.20M8.30 -2.10q1.44 2.10 0 4.20M9.96 -2.10q1.44 2.10 0 4.20M11.62 -2.10q1.44 2.10 0 4.20M13.28 -2.10q1.44 2.10 0 4.20M14.94 -2.10q1.44 2.10 0 4.20M16.61 -2.10q1.44 2.10 0 4.20M18.27 -2.10q1.44 2.10 0 4.20" stroke="#0a4898" stroke-width="0.45" stroke-opacity="0.8" fill="none"/><path d="M1.40 1.75H16.87" stroke="#0a4898" stroke-width="0.7" stroke-opacity="0.7"/></g><g transform="translate(573.00 271.00) rotate(77.0)"><rect x="0" y="-1.60" width="13.34" height="3.20" rx="1.28" fill="#1a7ae0"/><path d="M0.00 -1.60q1.44 1.60 0 3.20M1.67 -1.60q1.44 1.60 0 3.20M3.34 -1.60q1.44 1.60 0 3.20M5.00 -1.60q1.44 1.60 0 3.20M6.67 -1.60q1.44 1.60 0 3.20M8.34 -1.60q1.44 1.60 0 3.20M10.01 -1.60q1.44 1.60 0 3.20M11.67 -1.60q1.44 1.60 0 3.20M13.34 -1.60q1.44 1.60 0 3.20" stroke="#0a4898" stroke-width="0.45" stroke-opacity="0.8" fill="none"/><path d="M1.07 1.25H12.27" stroke="#0a4898" stroke-width="0.7" stroke-opacity="0.7"/></g><ellipse cx="563.2" cy="286" rx="2.8" ry="1.9" stroke="#1a7ae0" stroke-width="1.0"/><path d="M564 303L578 311 M568 306 L576 304" stroke="#1a7ae0" stroke-width="2.4"/></g><path d="M657.70 245.30V373.30M549.30 289.60H685.60" stroke="#000" stroke-width="1.3" fill="none"/><path fill="#2a7ac4" d="M656.6 304.1a1.2 1.2 0 1 0 2.40 0a1.2 1.2 0 1 0 -2.40 0zM652.8 305.1a1.2 1.2 0 1 0 2.40 0a1.2 1.2 0 1 0 -2.40 0zM657.7 289.9a1.2 1.2 0 1 0 2.40 0a1.2 1.2 0 1 0 -2.40 0zM657.0 292.1a1.2 1.2 0 1 0 2.40 0a1.2 1.2 0 1 0 -2.40 0zM657.9 309.7a1.2 1.2 0 1 0 2.40 0a1.2 1.2 0 1 0 -2.40 0zM644.8 306.7a1.2 1.2 0 1 0 2.40 0a1.2 1.2 0 1 0 -2.40 0zM658.7 298.4a1.2 1.2 0 1 0 2.40 0a1.2 1.2 0 1 0 -2.40 0zM655.4 288.7a1.2 1.2 0 1 0 2.40 0a1.2 1.2 0 1 0 -2.40 0zM664.4 289.8a1.2 1.2 0 1 0 2.40 0a1.2 1.2 0 1 0 -2.40 0zM654.3 282.6a1.2 1.2 0 1 0 2.40 0a1.2 1.2 0 1 0 -2.40 0zM652.5 281.1a1.2 1.2 0 1 0 2.40 0a1.2 1.2 0 1 0 -2.40 0zM649.4 270.5a1.2 1.2 0 1 0 2.40 0a1.2 1.2 0 1 0 -2.40 0zM651.4 304.4a1.2 1.2 0 1 0 2.40 0a1.2 1.2 0 1 0 -2.40 0zM639.1 291.9a1.2 1.2 0 1 0 2.40 0a1.2 1.2 0 1 0 -2.40 0zM648.6 282.1a1.2 1.2 0 1 0 2.40 0a1.2 1.2 0 1 0 -2.40 0zM650.0 302.7a1.2 1.2 0 1 0 2.40 0a1.2 1.2 0 1 0 -2.40 0zM657.0 304.1a1.2 1.2 0 1 0 2.40 0a1.2 1.2 0 1 0 -2.40 0zM645.8 289.8a1.2 1.2 0 1 0 2.40 0a1.2 1.2 0 1 0 -2.40 0zM651.2 281.8a1.2 1.2 0 1 0 2.40 0a1.2 1.2 0 1 0 -2.40 0zM662.7 280.4a1.2 1.2 0 1 0 2.40 0a1.2 1.2 0 1 0 -2.40 0zM646.7 307.4a1.2 1.2 0 1 0 2.40 0a1.2 1.2 0 1 0 -2.40 0zM656.0 302.4a1.2 1.2 0 1 0 2.40 0a1.2 1.2 0 1 0 -2.40 0zM646.7 292.4a1.2 1.2 0 1 0 2.40 0a1.2 1.2 0 1 0 -2.40 0zM649.6 296.3a1.2 1.2 0 1 0 2.40 0a1.2 1.2 0 1 0 -2.40 0zM653.4 288.7a1.2 1.2 0 1 0 2.40 0a1.2 1.2 0 1 0 -2.40 0zM656.3 290.3a1.2 1.2 0 1 0 2.40 0a1.2 1.2 0 1 0 -2.40 0zM646.9 275.8a1.2 1.2 0 1 0 2.40 0a1.2 1.2 0 1 0 -2.40 0zM643.4 292.1a1.2 1.2 0 1 0 2.40 0a1.2 1.2 0 1 0 -2.40 0zM660.6 289.9a1.2 1.2 0 1 0 2.40 0a1.2 1.2 0 1 0 -2.40 0zM651.6 290.8a1.2 1.2 0 1 0 2.40 0a1.2 1.2 0 1 0 -2.40 0zM655.7 281.7a1.2 1.2 0 1 0 2.40 0a1.2 1.2 0 1 0 -2.40 0zM656.5 301.4a1.2 1.2 0 1 0 2.40 0a1.2 1.2 0 1 0 -2.40 0zM655.4 288.1a1.2 1.2 0 1 0 2.40 0a1.2 1.2 0 1 0 -2.40 0zM648.5 298.4a1.2 1.2 0 1 0 2.40 0a1.2 1.2 0 1 0 -2.40 0zM649.4 304.1a1.2 1.2 0 1 0 2.40 0a1.2 1.2 0 1 0 -2.40 0zM639.8 281.0a1.2 1.2 0 1 0 2.40 0a1.2 1.2 0 1 0 -2.40 0zM651.5 286.8a1.2 1.2 0 1 0 2.40 0a1.2 1.2 0 1 0 -2.40 0zM647.1 279.0a1.2 1.2 0 1 0 2.40 0a1.2 1.2 0 1 0 -2.40 0zM650.1 289.2a1.2 1.2 0 1 0 2.40 0a1.2 1.2 0 1 0 -2.40 0zM662.9 285.7a1.2 1.2 0 1 0 2.40 0a1.2 1.2 0 1 0 -2.40 0zM654.9 290.2a1.2 1.2 0 1 0 2.40 0a1.2 1.2 0 1 0 -2.40 0zM650.6 286.4a1.2 1.2 0 1 0 2.40 0a1.2 1.2 0 1 0 -2.40 0zM641.1 295.1a1.2 1.2 0 1 0 2.40 0a1.2 1.2 0 1 0 -2.40 0zM655.2 276.2a1.2 1.2 0 1 0 2.40 0a1.2 1.2 0 1 0 -2.40 0zM660.6 299.3a1.2 1.2 0 1 0 2.40 0a1.2 1.2 0 1 0 -2.40 0zM644.7 276.1a1.2 1.2 0 1 0 2.40 0a1.2 1.2 0 1 0 -2.40 0zM653.2 293.2a1.2 1.2 0 1 0 2.40 0a1.2 1.2 0 1 0 -2.40 0zM646.8 283.6a1.2 1.2 0 1 0 2.40 0a1.2 1.2 0 1 0 -2.40 0zM649.3 290.1a1.2 1.2 0 1 0 2.40 0a1.2 1.2 0 1 0 -2.40 0zM647.8 287.4a1.2 1.2 0 1 0 2.40 0a1.2 1.2 0 1 0 -2.40 0zM639.4 278.0a1.2 1.2 0 1 0 2.40 0a1.2 1.2 0 1 0 -2.40 0zM646.8 290.1a1.2 1.2 0 1 0 2.40 0a1.2 1.2 0 1 0 -2.40 0zM639.4 299.8a1.2 1.2 0 1 0 2.40 0a1.2 1.2 0 1 0 -2.40 0zM659.6 289.2a1.2 1.2 0 1 0 2.40 0a1.2 1.2 0 1 0 -2.40 0zM657.3 285.5a1.2 1.2 0 1 0 2.40 0a1.2 1.2 0 1 0 -2.40 0zM650.6 313.3a1.2 1.2 0 1 0 2.40 0a1.2 1.2 0 1 0 -2.40 0zM652.2 282.6a1.2 1.2 0 1 0 2.40 0a1.2 1.2 0 1 0 -2.40 0zM650.7 281.5a1.2 1.2 0 1 0 2.40 0a1.2 1.2 0 1 0 -2.40 0zM651.6 307.2a1.2 1.2 0 1 0 2.40 0a1.2 1.2 0 1 0 -2.40 0zM651.6 292.7a1.2 1.2 0 1 0 2.40 0a1.2 1.2 0 1 0 -2.40 0zM648.7 283.9a1.2 1.2 0 1 0 2.40 0a1.2 1.2 0 1 0 -2.40 0zM649.2 301.7a1.2 1.2 0 1 0 2.40 0a1.2 1.2 0 1 0 -2.40 0zM641.3 295.1a1.2 1.2 0 1 0 2.40 0a1.2 1.2 0 1 0 -2.40 0zM643.6 294.4a1.2 1.2 0 1 0 2.40 0a1.2 1.2 0 1 0 -2.40 0zM646.2 286.3a1.2 1.2 0 1 0 2.40 0a1.2 1.2 0 1 0 -2.40 0zM651.7 281.3a1.2 1.2 0 1 0 2.40 0a1.2 1.2 0 1 0 -2.40 0zM647.8 291.6a1.2 1.2 0 1 0 2.40 0a1.2 1.2 0 1 0 -2.40 0zM663.1 290.7a1.2 1.2 0 1 0 2.40 0a1.2 1.2 0 1 0 -2.40 0zM649.0 283.0a1.2 1.2 0 1 0 2.40 0a1.2 1.2 0 1 0 -2.40 0zM647.9 286.4a1.2 1.2 0 1 0 2.40 0a1.2 1.2 0 1 0 -2.40 0zM653.2 292.3a1.2 1.2 0 1 0 2.40 0a1.2 1.2 0 1 0 -2.40 0zM657.2 279.3a1.2 1.2 0 1 0 2.40 0a1.2 1.2 0 1 0 -2.40 0zM662.7 304.0a1.2 1.2 0 1 0 2.40 0a1.2 1.2 0 1 0 -2.40 0zM656.8 289.9a1.2 1.2 0 1 0 2.40 0a1.2 1.2 0 1 0 -2.40 0zM646.4 295.1a1.2 1.2 0 1 0 2.40 0a1.2 1.2 0 1 0 -2.40 0zM649.2 295.8a1.2 1.2 0 1 0 2.40 0a1.2 1.2 0 1 0 -2.40 0zM657.3 289.5a1.2 1.2 0 1 0 2.40 0a1.2 1.2 0 1 0 -2.40 0zM652.0 291.0a1.2 1.2 0 1 0 2.40 0a1.2 1.2 0 1 0 -2.40 0zM655.7 269.1a1.2 1.2 0 1 0 2.40 0a1.2 1.2 0 1 0 -2.40 0zM649.8 285.5a1.2 1.2 0 1 0 2.40 0a1.2 1.2 0 1 0 -2.40 0zM661.0 288.1a1.2 1.2 0 1 0 2.40 0a1.2 1.2 0 1 0 -2.40 0zM660.0 276.4a1.2 1.2 0 1 0 2.40 0a1.2 1.2 0 1 0 -2.40 0zM657.9 282.2a1.2 1.2 0 1 0 2.40 0a1.2 1.2 0 1 0 -2.40 0zM651.4 308.1a1.2 1.2 0 1 0 2.40 0a1.2 1.2 0 1 0 -2.40 0zM639.6 290.2a1.2 1.2 0 1 0 2.40 0a1.2 1.2 0 1 0 -2.40 0zM641.3 284.6a1.2 1.2 0 1 0 2.40 0a1.2 1.2 0 1 0 -2.40 0zM652.5 296.8a1.2 1.2 0 1 0 2.40 0a1.2 1.2 0 1 0 -2.40 0zM654.7 288.7a1.2 1.2 0 1 0 2.40 0a1.2 1.2 0 1 0 -2.40 0zM630.9 295.5a1.2 1.2 0 1 0 2.40 0a1.2 1.2 0 1 0 -2.40 0zM647.2 288.0a1.2 1.2 0 1 0 2.40 0a1.2 1.2 0 1 0 -2.40 0zM658.1 306.1a1.2 1.2 0 1 0 2.40 0a1.2 1.2 0 1 0 -2.40 0zM656.8 309.0a1.2 1.2 0 1 0 2.40 0a1.2 1.2 0 1 0 -2.40 0zM647.1 296.4a1.2 1.2 0 1 0 2.40 0a1.2 1.2 0 1 0 -2.40 0zM654.6 289.4a1.2 1.2 0 1 0 2.40 0a1.2 1.2 0 1 0 -2.40 0zM650.6 279.4a1.2 1.2 0 1 0 2.40 0a1.2 1.2 0 1 0 -2.40 0zM648.9 293.9a1.2 1.2 0 1 0 2.40 0a1.2 1.2 0 1 0 -2.40 0zM657.9 298.2a1.2 1.2 0 1 0 2.40 0a1.2 1.2 0 1 0 -2.40 0zM658.0 283.1a1.2 1.2 0 1 0 2.40 0a1.2 1.2 0 1 0 -2.40 0zM646.9 291.1a1.2 1.2 0 1 0 2.40 0a1.2 1.2 0 1 0 -2.40 0zM644.1 275.1a1.2 1.2 0 1 0 2.40 0a1.2 1.2 0 1 0 -2.40 0zM641.7 292.3a1.2 1.2 0 1 0 2.40 0a1.2 1.2 0 1 0 -2.40 0zM640.9 309.1a1.2 1.2 0 1 0 2.40 0a1.2 1.2 0 1 0 -2.40 0zM659.3 298.7a1.2 1.2 0 1 0 2.40 0a1.2 1.2 0 1 0 -2.40 0zM662.9 300.1a1.2 1.2 0 1 0 2.40 0a1.2 1.2 0 1 0 -2.40 0zM651.8 304.1a1.2 1.2 0 1 0 2.40 0a1.2 1.2 0 1 0 -2.40 0zM657.5 298.5a1.2 1.2 0 1 0 2.40 0a1.2 1.2 0 1 0 -2.40 0zM645.9 297.7a1.2 1.2 0 1 0 2.40 0a1.2 1.2 0 1 0 -2.40 0zM650.0 294.1a1.2 1.2 0 1 0 2.40 0a1.2 1.2 0 1 0 -2.40 0zM656.6 296.5a1.2 1.2 0 1 0 2.40 0a1.2 1.2 0 1 0 -2.40 0zM652.6 287.8a1.2 1.2 0 1 0 2.40 0a1.2 1.2 0 1 0 -2.40 0zM650.2 287.8a1.2 1.2 0 1 0 2.40 0a1.2 1.2 0 1 0 -2.40 0zM639.4 289.9a1.2 1.2 0 1 0 2.40 0a1.2 1.2 0 1 0 -2.40 0zM640.8 289.7a1.2 1.2 0 1 0 2.40 0a1.2 1.2 0 1 0 -2.40 0zM647.7 308.6a1.2 1.2 0 1 0 2.40 0a1.2 1.2 0 1 0 -2.40 0zM646.8 306.7a1.2 1.2 0 1 0 2.40 0a1.2 1.2 0 1 0 -2.40 0zM650.0 299.5a1.2 1.2 0 1 0 2.40 0a1.2 1.2 0 1 0 -2.40 0zM646.2 289.2a1.2 1.2 0 1 0 2.40 0a1.2 1.2 0 1 0 -2.40 0zM649.0 304.8a1.2 1.2 0 1 0 2.40 0a1.2 1.2 0 1 0 -2.40 0zM650.9 295.4a1.2 1.2 0 1 0 2.40 0a1.2 1.2 0 1 0 -2.40 0zM653.9 289.3a1.2 1.2 0 1 0 2.40 0a1.2 1.2 0 1 0 -2.40 0zM650.9 273.5a1.2 1.2 0 1 0 2.40 0a1.2 1.2 0 1 0 -2.40 0zM646.8 289.2a1.2 1.2 0 1 0 2.40 0a1.2 1.2 0 1 0 -2.40 0zM648.6 296.4a1.2 1.2 0 1 0 2.40 0a1.2 1.2 0 1 0 -2.40 0zM656.5 281.7a1.2 1.2 0 1 0 2.40 0a1.2 1.2 0 1 0 -2.40 0zM649.1 289.7a1.2 1.2 0 1 0 2.40 0a1.2 1.2 0 1 0 -2.40 0zM644.0 294.3a1.2 1.2 0 1 0 2.40 0a1.2 1.2 0 1 0 -2.40 0zM643.7 281.5a1.2 1.2 0 1 0 2.40 0a1.2 1.2 0 1 0 -2.40 0zM652.3 300.0a1.2 1.2 0 1 0 2.40 0a1.2 1.2 0 1 0 -2.40 0zM654.2 289.9a1.2 1.2 0 1 0 2.40 0a1.2 1.2 0 1 0 -2.40 0zM658.6 290.9a1.2 1.2 0 1 0 2.40 0a1.2 1.2 0 1 0 -2.40 0zM648.3 283.5a1.2 1.2 0 1 0 2.40 0a1.2 1.2 0 1 0 -2.40 0zM659.6 302.1a1.2 1.2 0 1 0 2.40 0a1.2 1.2 0 1 0 -2.40 0zM648.1 303.5a1.2 1.2 0 1 0 2.40 0a1.2 1.2 0 1 0 -2.40 0zM648.9 295.3a1.2 1.2 0 1 0 2.40 0a1.2 1.2 0 1 0 -2.40 0zM646.6 294.2a1.2 1.2 0 1 0 2.40 0a1.2 1.2 0 1 0 -2.40 0zM653.9 291.4a1.2 1.2 0 1 0 2.40 0a1.2 1.2 0 1 0 -2.40 0zM657.4 295.2a1.2 1.2 0 1 0 2.40 0a1.2 1.2 0 1 0 -2.40 0zM650.2 287.8a1.2 1.2 0 1 0 2.40 0a1.2 1.2 0 1 0 -2.40 0zM647.1 285.5a1.2 1.2 0 1 0 2.40 0a1.2 1.2 0 1 0 -2.40 0zM640.1 289.8a1.2 1.2 0 1 0 2.40 0a1.2 1.2 0 1 0 -2.40 0zM651.4 301.4a1.2 1.2 0 1 0 2.40 0a1.2 1.2 0 1 0 -2.40 0zM648.1 281.3a1.2 1.2 0 1 0 2.40 0a1.2 1.2 0 1 0 -2.40 0zM649.0 305.8a1.2 1.2 0 1 0 2.40 0a1.2 1.2 0 1 0 -2.40 0zM646.2 293.7a1.2 1.2 0 1 0 2.40 0a1.2 1.2 0 1 0 -2.40 0zM644.6 283.7a1.2 1.2 0 1 0 2.40 0a1.2 1.2 0 1 0 -2.40 0zM647.5 297.5a1.2 1.2 0 1 0 2.40 0a1.2 1.2 0 1 0 -2.40 0zM653.3 280.1a1.2 1.2 0 1 0 2.40 0a1.2 1.2 0 1 0 -2.40 0zM656.7 274.4a1.2 1.2 0 1 0 2.40 0a1.2 1.2 0 1 0 -2.40 0zM650.3 277.5a1.2 1.2 0 1 0 2.40 0a1.2 1.2 0 1 0 -2.40 0zM652.5 287.9a1.2 1.2 0 1 0 2.40 0a1.2 1.2 0 1 0 -2.40 0zM649.0 282.9a1.2 1.2 0 1 0 2.40 0a1.2 1.2 0 1 0 -2.40 0zM649.5 296.5a1.2 1.2 0 1 0 2.40 0a1.2 1.2 0 1 0 -2.40 0zM641.3 288.2a1.2 1.2 0 1 0 2.40 0a1.2 1.2 0 1 0 -2.40 0zM656.2 287.7a1.2 1.2 0 1 0 2.40 0a1.2 1.2 0 1 0 -2.40 0zM654.3 291.0a1.2 1.2 0 1 0 2.40 0a1.2 1.2 0 1 0 -2.40 0zM660.0 290.5a1.2 1.2 0 1 0 2.40 0a1.2 1.2 0 1 0 -2.40 0zM646.3 293.8a1.2 1.2 0 1 0 2.40 0a1.2 1.2 0 1 0 -2.40 0zM651.2 309.8a1.2 1.2 0 1 0 2.40 0a1.2 1.2 0 1 0 -2.40 0zM644.2 288.2a1.2 1.2 0 1 0 2.40 0a1.2 1.2 0 1 0 -2.40 0zM651.9 289.0a1.2 1.2 0 1 0 2.40 0a1.2 1.2 0 1 0 -2.40 0zM649.5 273.2a1.2 1.2 0 1 0 2.40 0a1.2 1.2 0 1 0 -2.40 0zM654.8 285.4a1.2 1.2 0 1 0 2.40 0a1.2 1.2 0 1 0 -2.40 0zM649.4 291.3a1.2 1.2 0 1 0 2.40 0a1.2 1.2 0 1 0 -2.40 0zM654.6 283.9a1.2 1.2 0 1 0 2.40 0a1.2 1.2 0 1 0 -2.40 0zM647.1 286.2a1.2 1.2 0 1 0 2.40 0a1.2 1.2 0 1 0 -2.40 0zM654.3 292.0a1.2 1.2 0 1 0 2.40 0a1.2 1.2 0 1 0 -2.40 0zM648.3 295.3a1.2 1.2 0 1 0 2.40 0a1.2 1.2 0 1 0 -2.40 0zM647.5 305.3a1.2 1.2 0 1 0 2.40 0a1.2 1.2 0 1 0 -2.40 0zM650.9 290.7a1.2 1.2 0 1 0 2.40 0a1.2 1.2 0 1 0 -2.40 0zM652.8 277.0a1.2 1.2 0 1 0 2.40 0a1.2 1.2 0 1 0 -2.40 0zM623.7 300.9a1.2 1.2 0 1 0 2.40 0a1.2 1.2 0 1 0 -2.40 0zM635.1 303.4a1.2 1.2 0 1 0 2.40 0a1.2 1.2 0 1 0 -2.40 0zM610.6 318.7a1.2 1.2 0 1 0 2.40 0a1.2 1.2 0 1 0 -2.40 0zM641.3 307.5a1.2 1.2 0 1 0 2.40 0a1.2 1.2 0 1 0 -2.40 0zM616.7 308.2a1.2 1.2 0 1 0 2.40 0a1.2 1.2 0 1 0 -2.40 0zM626.7 326.1a1.2 1.2 0 1 0 2.40 0a1.2 1.2 0 1 0 -2.40 0zM633.2 306.9a1.2 1.2 0 1 0 2.40 0a1.2 1.2 0 1 0 -2.40 0zM612.4 324.8a1.2 1.2 0 1 0 2.40 0a1.2 1.2 0 1 0 -2.40 0zM635.0 306.7a1.2 1.2 0 1 0 2.40 0a1.2 1.2 0 1 0 -2.40 0zM595.6 338.3a1.2 1.2 0 1 0 2.40 0a1.2 1.2 0 1 0 -2.40 0zM620.4 307.5a1.2 1.2 0 1 0 2.40 0a1.2 1.2 0 1 0 -2.40 0zM619.9 315.4a1.2 1.2 0 1 0 2.40 0a1.2 1.2 0 1 0 -2.40 0zM598.0 333.9a1.2 1.2 0 1 0 2.40 0a1.2 1.2 0 1 0 -2.40 0zM622.2 308.6a1.2 1.2 0 1 0 2.40 0a1.2 1.2 0 1 0 -2.40 0zM643.0 300.8a1.2 1.2 0 1 0 2.40 0a1.2 1.2 0 1 0 -2.40 0zM628.3 314.2a1.2 1.2 0 1 0 2.40 0a1.2 1.2 0 1 0 -2.40 0zM609.6 326.5a1.2 1.2 0 1 0 2.40 0a1.2 1.2 0 1 0 -2.40 0zM624.0 305.0a1.2 1.2 0 1 0 2.40 0a1.2 1.2 0 1 0 -2.40 0zM632.8 315.3a1.2 1.2 0 1 0 2.40 0a1.2 1.2 0 1 0 -2.40 0zM631.4 309.6a1.2 1.2 0 1 0 2.40 0a1.2 1.2 0 1 0 -2.40 0zM631.2 310.1a1.2 1.2 0 1 0 2.40 0a1.2 1.2 0 1 0 -2.40 0zM634.0 303.0a1.2 1.2 0 1 0 2.40 0a1.2 1.2 0 1 0 -2.40 0zM613.9 320.3a1.2 1.2 0 1 0 2.40 0a1.2 1.2 0 1 0 -2.40 0zM631.2 287.9a1.2 1.2 0 1 0 2.40 0a1.2 1.2 0 1 0 -2.40 0zM618.1 331.9a1.2 1.2 0 1 0 2.40 0a1.2 1.2 0 1 0 -2.40 0zM611.2 314.8a1.2 1.2 0 1 0 2.40 0a1.2 1.2 0 1 0 -2.40 0zM615.8 317.6a1.2 1.2 0 1 0 2.40 0a1.2 1.2 0 1 0 -2.40 0zM642.6 290.4a1.2 1.2 0 1 0 2.40 0a1.2 1.2 0 1 0 -2.40 0zM630.3 323.2a1.2 1.2 0 1 0 2.40 0a1.2 1.2 0 1 0 -2.40 0zM618.4 304.5a1.2 1.2 0 1 0 2.40 0a1.2 1.2 0 1 0 -2.40 0zM643.1 313.0a1.2 1.2 0 1 0 2.40 0a1.2 1.2 0 1 0 -2.40 0zM626.2 304.5a1.2 1.2 0 1 0 2.40 0a1.2 1.2 0 1 0 -2.40 0zM622.1 308.7a1.2 1.2 0 1 0 2.40 0a1.2 1.2 0 1 0 -2.40 0zM626.3 310.5a1.2 1.2 0 1 0 2.40 0a1.2 1.2 0 1 0 -2.40 0zM615.2 324.5a1.2 1.2 0 1 0 2.40 0a1.2 1.2 0 1 0 -2.40 0zM595.6 337.4a1.2 1.2 0 1 0 2.40 0a1.2 1.2 0 1 0 -2.40 0zM615.4 316.7a1.2 1.2 0 1 0 2.40 0a1.2 1.2 0 1 0 -2.40 0zM606.0 330.3a1.2 1.2 0 1 0 2.40 0a1.2 1.2 0 1 0 -2.40 0zM641.0 319.5a1.2 1.2 0 1 0 2.40 0a1.2 1.2 0 1 0 -2.40 0zM630.2 325.0a1.2 1.2 0 1 0 2.40 0a1.2 1.2 0 1 0 -2.40 0zM599.5 320.2a1.2 1.2 0 1 0 2.40 0a1.2 1.2 0 1 0 -2.40 0zM602.6 318.0a1.2 1.2 0 1 0 2.40 0a1.2 1.2 0 1 0 -2.40 0zM595.5 325.3a1.2 1.2 0 1 0 2.40 0a1.2 1.2 0 1 0 -2.40 0zM633.4 305.9a1.2 1.2 0 1 0 2.40 0a1.2 1.2 0 1 0 -2.40 0zM630.8 304.4a1.2 1.2 0 1 0 2.40 0a1.2 1.2 0 1 0 -2.40 0zM610.2 316.2a1.2 1.2 0 1 0 2.40 0a1.2 1.2 0 1 0 -2.40 0zM602.1 323.5a1.2 1.2 0 1 0 2.40 0a1.2 1.2 0 1 0 -2.40 0zM606.7 330.3a1.2 1.2 0 1 0 2.40 0a1.2 1.2 0 1 0 -2.40 0zM623.4 319.3a1.2 1.2 0 1 0 2.40 0a1.2 1.2 0 1 0 -2.40 0zM600.3 337.5a1.2 1.2 0 1 0 2.40 0a1.2 1.2 0 1 0 -2.40 0zM595.3 328.7a1.2 1.2 0 1 0 2.40 0a1.2 1.2 0 1 0 -2.40 0zM608.0 331.2a1.2 1.2 0 1 0 2.40 0a1.2 1.2 0 1 0 -2.40 0zM643.9 301.2a1.2 1.2 0 1 0 2.40 0a1.2 1.2 0 1 0 -2.40 0zM600.5 314.7a1.2 1.2 0 1 0 2.40 0a1.2 1.2 0 1 0 -2.40 0zM627.3 313.5a1.2 1.2 0 1 0 2.40 0a1.2 1.2 0 1 0 -2.40 0zM640.6 292.8a1.2 1.2 0 1 0 2.40 0a1.2 1.2 0 1 0 -2.40 0zM638.2 288.9a1.2 1.2 0 1 0 2.40 0a1.2 1.2 0 1 0 -2.40 0zM626.0 327.5a1.2 1.2 0 1 0 2.40 0a1.2 1.2 0 1 0 -2.40 0zM617.0 329.6a1.2 1.2 0 1 0 2.40 0a1.2 1.2 0 1 0 -2.40 0zM630.6 303.6a1.2 1.2 0 1 0 2.40 0a1.2 1.2 0 1 0 -2.40 0zM637.5 310.1a1.2 1.2 0 1 0 2.40 0a1.2 1.2 0 1 0 -2.40 0zM612.8 314.1a1.2 1.2 0 1 0 2.40 0a1.2 1.2 0 1 0 -2.40 0zM621.6 307.0a1.2 1.2 0 1 0 2.40 0a1.2 1.2 0 1 0 -2.40 0zM620.4 319.0a1.2 1.2 0 1 0 2.40 0a1.2 1.2 0 1 0 -2.40 0zM594.1 323.1a1.2 1.2 0 1 0 2.40 0a1.2 1.2 0 1 0 -2.40 0zM637.2 287.7a1.2 1.2 0 1 0 2.40 0a1.2 1.2 0 1 0 -2.40 0zM636.1 295.7a1.2 1.2 0 1 0 2.40 0a1.2 1.2 0 1 0 -2.40 0zM637.6 311.5a1.2 1.2 0 1 0 2.40 0a1.2 1.2 0 1 0 -2.40 0zM602.0 327.0a1.2 1.2 0 1 0 2.40 0a1.2 1.2 0 1 0 -2.40 0zM605.4 328.5a1.2 1.2 0 1 0 2.40 0a1.2 1.2 0 1 0 -2.40 0zM618.5 301.0a1.2 1.2 0 1 0 2.40 0a1.2 1.2 0 1 0 -2.40 0zM608.6 323.3a1.2 1.2 0 1 0 2.40 0a1.2 1.2 0 1 0 -2.40 0zM601.5 332.3a1.2 1.2 0 1 0 2.40 0a1.2 1.2 0 1 0 -2.40 0zM593.9 330.3a1.2 1.2 0 1 0 2.40 0a1.2 1.2 0 1 0 -2.40 0zM602.1 320.8a1.2 1.2 0 1 0 2.40 0a1.2 1.2 0 1 0 -2.40 0zM602.0 329.0a1.2 1.2 0 1 0 2.40 0a1.2 1.2 0 1 0 -2.40 0zM618.9 314.1a1.2 1.2 0 1 0 2.40 0a1.2 1.2 0 1 0 -2.40 0zM638.5 302.8a1.2 1.2 0 1 0 2.40 0a1.2 1.2 0 1 0 -2.40 0zM596.3 322.3a1.2 1.2 0 1 0 2.40 0a1.2 1.2 0 1 0 -2.40 0zM595.7 320.5a1.2 1.2 0 1 0 2.40 0a1.2 1.2 0 1 0 -2.40 0zM642.6 297.7a1.2 1.2 0 1 0 2.40 0a1.2 1.2 0 1 0 -2.40 0zM594.0 334.8a1.2 1.2 0 1 0 2.40 0a1.2 1.2 0 1 0 -2.40 0zM603.4 320.9a1.2 1.2 0 1 0 2.40 0a1.2 1.2 0 1 0 -2.40 0zM631.1 315.5a1.2 1.2 0 1 0 2.40 0a1.2 1.2 0 1 0 -2.40 0zM623.5 302.2a1.2 1.2 0 1 0 2.40 0a1.2 1.2 0 1 0 -2.40 0zM614.5 314.5a1.2 1.2 0 1 0 2.40 0a1.2 1.2 0 1 0 -2.40 0zM641.7 298.5a1.2 1.2 0 1 0 2.40 0a1.2 1.2 0 1 0 -2.40 0zM599.0 349.6a1.2 1.2 0 1 0 2.40 0a1.2 1.2 0 1 0 -2.40 0zM622.9 290.6a1.2 1.2 0 1 0 2.40 0a1.2 1.2 0 1 0 -2.40 0zM635.9 290.9a1.2 1.2 0 1 0 2.40 0a1.2 1.2 0 1 0 -2.40 0zM638.6 290.9a1.2 1.2 0 1 0 2.40 0a1.2 1.2 0 1 0 -2.40 0zM598.3 326.6a1.2 1.2 0 1 0 2.40 0a1.2 1.2 0 1 0 -2.40 0zM622.3 306.5a1.2 1.2 0 1 0 2.40 0a1.2 1.2 0 1 0 -2.40 0zM605.6 296.9a1.2 1.2 0 1 0 2.40 0a1.2 1.2 0 1 0 -2.40 0zM611.6 325.6a1.2 1.2 0 1 0 2.40 0a1.2 1.2 0 1 0 -2.40 0zM599.4 320.1a1.2 1.2 0 1 0 2.40 0a1.2 1.2 0 1 0 -2.40 0zM597.9 322.3a1.2 1.2 0 1 0 2.40 0a1.2 1.2 0 1 0 -2.40 0zM643.0 298.4a1.2 1.2 0 1 0 2.40 0a1.2 1.2 0 1 0 -2.40 0zM611.1 316.3a1.2 1.2 0 1 0 2.40 0a1.2 1.2 0 1 0 -2.40 0zM617.1 324.8a1.2 1.2 0 1 0 2.40 0a1.2 1.2 0 1 0 -2.40 0zM627.9 303.1a1.2 1.2 0 1 0 2.40 0a1.2 1.2 0 1 0 -2.40 0zM639.1 314.1a1.2 1.2 0 1 0 2.40 0a1.2 1.2 0 1 0 -2.40 0zM635.5 287.4a1.2 1.2 0 1 0 2.40 0a1.2 1.2 0 1 0 -2.40 0zM624.7 303.6a1.2 1.2 0 1 0 2.40 0a1.2 1.2 0 1 0 -2.40 0zM641.4 308.3a1.2 1.2 0 1 0 2.40 0a1.2 1.2 0 1 0 -2.40 0zM607.0 341.2a1.2 1.2 0 1 0 2.40 0a1.2 1.2 0 1 0 -2.40 0zM634.9 303.6a1.2 1.2 0 1 0 2.40 0a1.2 1.2 0 1 0 -2.40 0zM597.7 323.1a1.2 1.2 0 1 0 2.40 0a1.2 1.2 0 1 0 -2.40 0zM630.5 316.4a1.2 1.2 0 1 0 2.40 0a1.2 1.2 0 1 0 -2.40 0zM631.6 291.1a1.2 1.2 0 1 0 2.40 0a1.2 1.2 0 1 0 -2.40 0zM553.6 363.9a1.2 1.2 0 1 0 2.40 0a1.2 1.2 0 1 0 -2.40 0zM553.1 367.2a1.2 1.2 0 1 0 2.40 0a1.2 1.2 0 1 0 -2.40 0zM588.2 357.4a1.2 1.2 0 1 0 2.40 0a1.2 1.2 0 1 0 -2.40 0zM591.4 368.3a1.2 1.2 0 1 0 2.40 0a1.2 1.2 0 1 0 -2.40 0zM583.0 368.3a1.2 1.2 0 1 0 2.40 0a1.2 1.2 0 1 0 -2.40 0zM598.8 361.7a1.2 1.2 0 1 0 2.40 0a1.2 1.2 0 1 0 -2.40 0zM609.2 357.4a1.2 1.2 0 1 0 2.40 0a1.2 1.2 0 1 0 -2.40 0zM614.5 342.1a1.2 1.2 0 1 0 2.40 0a1.2 1.2 0 1 0 -2.40 0zM609.2 345.3a1.2 1.2 0 1 0 2.40 0a1.2 1.2 0 1 0 -2.40 0zM675.4 249.2a1.2 1.2 0 1 0 2.40 0a1.2 1.2 0 1 0 -2.40 0zM670.1 261.2a1.2 1.2 0 1 0 2.40 0a1.2 1.2 0 1 0 -2.40 0zM672.2 274.3a1.2 1.2 0 1 0 2.40 0a1.2 1.2 0 1 0 -2.40 0zM648.1 269.9a1.2 1.2 0 1 0 2.40 0a1.2 1.2 0 1 0 -2.40 0zM619.8 333.3a1.2 1.2 0 1 0 2.40 0a1.2 1.2 0 1 0 -2.40 0zM616.6 318.0a1.2 1.2 0 1 0 2.40 0a1.2 1.2 0 1 0 -2.40 0zM604.0 311.5a1.2 1.2 0 1 0 2.40 0a1.2 1.2 0 1 0 -2.40 0zM589.3 309.3a1.2 1.2 0 1 0 2.40 0a1.2 1.2 0 1 0 -2.40 0zM580.9 287.4a1.2 1.2 0 1 0 2.40 0a1.2 1.2 0 1 0 -2.40 0zM577.8 287.4a1.2 1.2 0 1 0 2.40 0a1.2 1.2 0 1 0 -2.40 0zM591.4 286.3a1.2 1.2 0 1 0 2.40 0a1.2 1.2 0 1 0 -2.40 0zM598.8 300.5a1.2 1.2 0 1 0 2.40 0a1.2 1.2 0 1 0 -2.40 0z"/><path d="M549.30 515.28L685.60 231.51" stroke="#606060" stroke-width="0.6" stroke-dasharray="2.6 1.2" fill="none"/><path d="M554.80 355.84L677.65 279.11" stroke="#000" stroke-width="0.9" stroke-dasharray="2.8 1.2" fill="none"/></g><rect x="551.5" y="247.9" width="57.1" height="7.4" rx="1.2" fill="#fff" fill-opacity="0.85" stroke="#d8d8d8" stroke-width="0.6"/><path d="M553.5 251.6h9.5" stroke="#000" stroke-width="0.8" stroke-dasharray="2.6 1.1"/><text x="567.10" y="253.30" font-size="5.00" stroke="#000" stroke-width="0.08" textLength="40.54" lengthAdjust="spacingAndGlyphs">y = 0.30x - 0.09</text><path d="M549.50 245.50V373.50M685.50 245.50V373.50M549.50 245.50H685.50M549.50 373.50H685.50" stroke="#000" stroke-width="0.6" fill="none" stroke-linecap="square"/><path d="M552.50 373.50v2.2M573.50 373.50v2.2M594.50 373.50v2.2M615.50 373.50v2.2M636.50 373.50v2.2M657.50 373.50v2.2M678.50 373.50v2.2M549.50 355.50h-2.2M549.50 333.50h-2.2M549.50 311.50h-2.2M549.50 289.50h-2.2M549.50 267.50h-2.2M549.50 245.50h-2.2" stroke="#000" stroke-width="0.6" fill="none"/><text x="552.70" y="382.60" font-size="8.40" text-anchor="middle" stroke="#000" stroke-width="0.08" textLength="16.67" lengthAdjust="spacingAndGlyphs">−10</text><text x="573.70" y="382.60" font-size="8.40" text-anchor="middle" stroke="#000" stroke-width="0.08" textLength="11.65" lengthAdjust="spacingAndGlyphs">−8</text><text x="594.70" y="382.60" font-size="8.40" text-anchor="middle" stroke="#000" stroke-width="0.08" textLength="11.65" lengthAdjust="spacingAndGlyphs">−6</text><text x="615.70" y="382.60" font-size="8.40" text-anchor="middle" stroke="#000" stroke-width="0.08" textLength="11.65" lengthAdjust="spacingAndGlyphs">−4</text><text x="636.70" y="382.60" font-size="8.40" text-anchor="middle" stroke="#000" stroke-width="0.08" textLength="11.65" lengthAdjust="spacingAndGlyphs">−2</text><text x="657.70" y="382.60" font-size="8.40" text-anchor="middle" stroke="#000" stroke-width="0.08" textLength="5.03" lengthAdjust="spacingAndGlyphs">0</text><text x="678.70" y="382.60" font-size="8.40" text-anchor="middle" stroke="#000" stroke-width="0.08" textLength="5.03" lengthAdjust="spacingAndGlyphs">2</text><text x="545.70" y="358.19" font-size="8.40" text-anchor="end" stroke="#000" stroke-width="0.08" textLength="11.65" lengthAdjust="spacingAndGlyphs">−3</text><text x="545.70" y="336.33" font-size="8.40" text-anchor="end" stroke="#000" stroke-width="0.08" textLength="11.65" lengthAdjust="spacingAndGlyphs">−2</text><text x="545.70" y="314.47" font-size="8.40" text-anchor="end" stroke="#000" stroke-width="0.08" textLength="11.65" lengthAdjust="spacingAndGlyphs">−1</text><text x="545.70" y="292.61" font-size="8.40" text-anchor="end" stroke="#000" stroke-width="0.08" textLength="5.03" lengthAdjust="spacingAndGlyphs">0</text><text x="545.70" y="270.75" font-size="8.40" text-anchor="end" stroke="#000" stroke-width="0.08" textLength="5.03" lengthAdjust="spacingAndGlyphs">1</text><text x="545.70" y="248.89" font-size="8.40" text-anchor="end" stroke="#000" stroke-width="0.08" textLength="5.03" lengthAdjust="spacingAndGlyphs">2</text><text x="617.45" y="242.50" font-size="9.45" text-anchor="middle" stroke="#000" stroke-width="0.10" textLength="59.28" lengthAdjust="spacingAndGlyphs">T4 lysozyme</text><g transform="translate(617.45 393.80)"><text x="-42.38" y="0.00" font-size="9.70" stroke="#000" stroke-width="0.10" textLength="20.79" lengthAdjust="spacingAndGlyphs">ΔΔG</text><text x="-21.59" y="1.50" font-size="6.79" stroke="#000" stroke-width="0.08" textLength="12.39" lengthAdjust="spacingAndGlyphs">exp</text><text x="-6.12" y="0.00" font-size="9.70" stroke="#000" stroke-width="0.10" textLength="48.51" lengthAdjust="spacingAndGlyphs">(kcal/mol)</text></g><g transform="translate(530.40 309.30) rotate(-90)"><text x="-43.91" y="0.00" font-size="9.70" stroke="#000" stroke-width="0.10" textLength="20.79" lengthAdjust="spacingAndGlyphs">ΔΔG</text><text x="-23.12" y="1.50" font-size="6.79" stroke="#000" stroke-width="0.08" textLength="15.44" lengthAdjust="spacingAndGlyphs">pred</text><text x="-4.60" y="0.00" font-size="9.70" stroke="#000" stroke-width="0.10" textLength="48.51" lengthAdjust="spacingAndGlyphs">(kcal/mol)</text></g><text x="3.80" y="236.40" font-size="19.50" font-weight="bold">b</text><rect x="82.40" y="425.84" width="141.36" height="10.04" fill="#4d4dff" stroke="#4040e8" stroke-width="0.6"/><text x="225.76" y="433.36" font-size="8.40" stroke="#000" stroke-width="0.08" textLength="17.37" lengthAdjust="spacingAndGlyphs">0.76</text><text x="84.40" y="445.92" font-size="8.40" stroke="#000" stroke-width="0.08" textLength="13.80" lengthAdjust="spacingAndGlyphs">N/A</text><rect x="82.40" y="450.95" width="122.76" height="10.04" fill="#ffc04d" stroke="#e8a838" stroke-width="0.6"/><text x="207.16" y="458.47" font-size="8.40" stroke="#000" stroke-width="0.08" textLength="17.37" lengthAdjust="spacingAndGlyphs">0.66</text><rect x="82.40" y="463.51" width="65.10" height="10.04" fill="#ff4d4d" stroke="#e84040" stroke-width="0.6"/><text x="149.50" y="471.03" font-size="8.40" stroke="#000" stroke-width="0.08" textLength="17.37" lengthAdjust="spacingAndGlyphs">0.35</text><rect x="82.40" y="476.06" width="40.92" height="10.04" fill="#e0e0e0" stroke="#909090" stroke-width="0.6"/><rect x="82.40" y="476.06" width="40.92" height="10.04" fill="url(#hg)" stroke="#909090" stroke-width="0.6"/><text x="125.32" y="483.58" font-size="8.40" stroke="#000" stroke-width="0.08" textLength="17.37" lengthAdjust="spacingAndGlyphs">0.22</text><rect x="82.40" y="488.62" width="1.86" height="10.04" fill="#e9ffff" stroke="#a8c0c0" stroke-width="0.6"/><rect x="82.40" y="488.62" width="1.86" height="10.04" fill="url(#hc)" stroke="#a8c0c0" stroke-width="0.6"/><text x="86.26" y="496.14" font-size="8.40" stroke="#000" stroke-width="0.08" textLength="17.37" lengthAdjust="spacingAndGlyphs">0.01</text><path d="M82.50 422.20V502.50H268.40" stroke="#000" stroke-width="0.6" fill="none"/><path d="M82.50 430.86h-2.2M82.50 443.42h-2.2M82.50 455.97h-2.2M82.50 468.53h-2.2M82.50 481.08h-2.2M82.50 493.64h-2.2M82.40 502.50v2.2M175.40 502.50v2.2M268.40 502.50v2.2" stroke="#000" stroke-width="0.6" fill="none"/><text x="82.40" y="512.80" font-size="8.40" text-anchor="middle" stroke="#000" stroke-width="0.08" textLength="12.72" lengthAdjust="spacingAndGlyphs">0.0</text><text x="175.40" y="512.80" font-size="8.40" text-anchor="middle" stroke="#000" stroke-width="0.08" textLength="12.72" lengthAdjust="spacingAndGlyphs">0.5</text><text x="268.40" y="512.80" font-size="8.40" text-anchor="middle" stroke="#000" stroke-width="0.08" textLength="12.72" lengthAdjust="spacingAndGlyphs">1.0</text><g transform="translate(175.40 419.00)"><text x="-55.31" y="0.00" font-size="10.60" stroke="#000" stroke-width="0.10" textLength="99.79" lengthAdjust="spacingAndGlyphs">MS Common: indel</text><text x="44.48" y="1.80" font-size="7.42" font-style="italic" stroke="#000" stroke-width="0.08" textLength="10.83" lengthAdjust="spacingAndGlyphs">ΔG</text></g><text x="77.70" y="434.66" font-size="10.30" text-anchor="end" stroke="#000" stroke-width="0.10" textLength="25.39" lengthAdjust="spacingAndGlyphs">IFUM</text><text x="77.70" y="447.22" font-size="10.30" text-anchor="end" stroke="#000" stroke-width="0.10" textLength="70.05" lengthAdjust="spacingAndGlyphs">ThermoMPNN</text><g transform="translate(77.70 459.77)"><text x="-43.60" y="0.00" font-size="10.30" stroke="#000" stroke-width="0.10" textLength="21.93" lengthAdjust="spacingAndGlyphs">ESM</text><text x="-21.66" y="1.90" font-size="7.20" stroke="#000" stroke-width="0.08" textLength="21.66" lengthAdjust="spacingAndGlyphs">therm</text></g><g transform="translate(77.70 471.63)"><text x="-77.36" y="0.00" font-size="8.20" stroke="#000" stroke-width="0.08" textLength="21.43" lengthAdjust="spacingAndGlyphs">ESM2</text><text x="-55.92" y="1.00" font-size="6.00" font-style="italic" stroke="#000" stroke-width="0.08" textLength="55.92" lengthAdjust="spacingAndGlyphs">pseudo − perplexity</text></g><text x="77.70" y="484.88" font-size="10.30" text-anchor="end" stroke="#000" stroke-width="0.10" textLength="28.32" lengthAdjust="spacingAndGlyphs">FoldX</text><text x="77.70" y="497.44" font-size="10.30" text-anchor="end" stroke="#000" stroke-width="0.10" textLength="39.09" lengthAdjust="spacingAndGlyphs">Rosetta</text><rect x="287.20" y="425.84" width="113.46" height="10.04" fill="#4d4dff" stroke="#4040e8" stroke-width="0.6"/><text x="402.66" y="433.36" font-size="8.40" stroke="#000" stroke-width="0.08" textLength="17.37" lengthAdjust="spacingAndGlyphs">0.61</text><rect x="287.20" y="438.40" width="70.68" height="10.04" fill="#4da64d" stroke="#3f953f" stroke-width="0.6"/><text x="359.88" y="445.92" font-size="8.40" stroke="#000" stroke-width="0.08" textLength="17.37" lengthAdjust="spacingAndGlyphs">0.38</text><rect x="287.20" y="450.95" width="130.20" height="10.04" fill="#ffc04d" stroke="#e8a838" stroke-width="0.6"/><text x="419.40" y="458.47" font-size="8.40" stroke="#000" stroke-width="0.08" textLength="17.37" lengthAdjust="spacingAndGlyphs">0.70</text><rect x="287.20" y="463.51" width="93.00" height="10.04" fill="#ff4d4d" stroke="#e84040" stroke-width="0.6"/><text x="382.20" y="471.03" font-size="8.40" stroke="#000" stroke-width="0.08" textLength="17.37" lengthAdjust="spacingAndGlyphs">0.50</text><rect x="287.20" y="476.06" width="93.00" height="10.04" fill="#e0e0e0" stroke="#909090" stroke-width="0.6"/><rect x="287.20" y="476.06" width="93.00" height="10.04" fill="url(#hg)" stroke="#909090" stroke-width="0.6"/><text x="382.20" y="483.58" font-size="8.40" stroke="#000" stroke-width="0.08" textLength="17.37" lengthAdjust="spacingAndGlyphs">0.50</text><rect x="287.20" y="488.62" width="145.08" height="10.04" fill="#e9ffff" stroke="#a8c0c0" stroke-width="0.6"/><rect x="287.20" y="488.62" width="145.08" height="10.04" fill="url(#hc)" stroke="#a8c0c0" stroke-width="0.6"/><text x="434.28" y="496.14" font-size="8.40" stroke="#000" stroke-width="0.08" textLength="17.37" lengthAdjust="spacingAndGlyphs">0.78</text><path d="M287.50 422.20V502.50H473.20" stroke="#000" stroke-width="0.6" fill="none"/><path d="M287.50 430.86h-2.2M287.50 443.42h-2.2M287.50 455.97h-2.2M287.50 468.53h-2.2M287.50 481.08h-2.2M287.50 493.64h-2.2M287.20 502.50v2.2M380.20 502.50v2.2M473.20 502.50v2.2" stroke="#000" stroke-width="0.6" fill="none"/><text x="287.20" y="512.80" font-size="8.40" text-anchor="middle" stroke="#000" stroke-width="0.08" textLength="12.72" lengthAdjust="spacingAndGlyphs">0.0</text><text x="380.20" y="512.80" font-size="8.40" text-anchor="middle" stroke="#000" stroke-width="0.08" textLength="12.72" lengthAdjust="spacingAndGlyphs">0.5</text><text x="473.20" y="512.80" font-size="8.40" text-anchor="middle" stroke="#000" stroke-width="0.08" textLength="12.72" lengthAdjust="spacingAndGlyphs">1.0</text><g transform="translate(380.20 419.00)"><text x="-62.98" y="0.00" font-size="10.60" stroke="#000" stroke-width="0.10" textLength="110.05" lengthAdjust="spacingAndGlyphs">MS Common: double</text><text x="47.08" y="1.80" font-size="7.42" font-style="italic" stroke="#000" stroke-width="0.08" textLength="15.90" lengthAdjust="spacingAndGlyphs">ΔΔG</text></g><rect x="491.40" y="425.84" width="139.50" height="10.04" fill="#4d4dff" stroke="#4040e8" stroke-width="0.6"/><text x="632.90" y="433.36" font-size="8.40" stroke="#000" stroke-width="0.08" textLength="17.37" lengthAdjust="spacingAndGlyphs">0.75</text><rect x="491.40" y="438.40" width="104.16" height="10.04" fill="#4da64d" stroke="#3f953f" stroke-width="0.6"/><text x="597.56" y="445.92" font-size="8.40" stroke="#000" stroke-width="0.08" textLength="17.37" lengthAdjust="spacingAndGlyphs">0.56</text><rect x="491.40" y="450.95" width="85.56" height="10.04" fill="#ffc04d" stroke="#e8a838" stroke-width="0.6"/><text x="578.96" y="458.47" font-size="8.40" stroke="#000" stroke-width="0.08" textLength="17.37" lengthAdjust="spacingAndGlyphs">0.46</text><rect x="491.40" y="463.51" width="37.20" height="10.04" fill="#ff4d4d" stroke="#e84040" stroke-width="0.6"/><text x="530.60" y="471.03" font-size="8.40" stroke="#000" stroke-width="0.08" textLength="17.37" lengthAdjust="spacingAndGlyphs">0.20</text><rect x="491.40" y="476.06" width="68.82" height="10.04" fill="#e0e0e0" stroke="#909090" stroke-width="0.6"/><rect x="491.40" y="476.06" width="68.82" height="10.04" fill="url(#hg)" stroke="#909090" stroke-width="0.6"/><text x="562.22" y="483.58" font-size="8.40" stroke="#000" stroke-width="0.08" textLength="17.37" lengthAdjust="spacingAndGlyphs">0.37</text><rect x="491.40" y="488.62" width="104.16" height="10.04" fill="#e9ffff" stroke="#a8c0c0" stroke-width="0.6"/><rect x="491.40" y="488.62" width="104.16" height="10.04" fill="url(#hc)" stroke="#a8c0c0" stroke-width="0.6"/><text x="597.56" y="496.14" font-size="8.40" stroke="#000" stroke-width="0.08" textLength="17.37" lengthAdjust="spacingAndGlyphs">0.56</text><path d="M491.50 422.20V502.50H677.40" stroke="#000" stroke-width="0.6" fill="none"/><path d="M491.50 430.86h-2.2M491.50 443.42h-2.2M491.50 455.97h-2.2M491.50 468.53h-2.2M491.50 481.08h-2.2M491.50 493.64h-2.2M491.40 502.50v2.2M584.40 502.50v2.2M677.40 502.50v2.2" stroke="#000" stroke-width="0.6" fill="none"/><text x="491.40" y="512.80" font-size="8.40" text-anchor="middle" stroke="#000" stroke-width="0.08" textLength="12.72" lengthAdjust="spacingAndGlyphs">0.0</text><text x="584.40" y="512.80" font-size="8.40" text-anchor="middle" stroke="#000" stroke-width="0.08" textLength="12.72" lengthAdjust="spacingAndGlyphs">0.5</text><text x="677.40" y="512.80" font-size="8.40" text-anchor="middle" stroke="#000" stroke-width="0.08" textLength="12.72" lengthAdjust="spacingAndGlyphs">1.0</text><g transform="translate(584.40 419.00)"><text x="-35.18" y="0.00" font-size="10.60" stroke="#000" stroke-width="0.10" textLength="54.45" lengthAdjust="spacingAndGlyphs">Myoglobin</text><text x="19.28" y="1.80" font-size="7.42" font-style="italic" stroke="#000" stroke-width="0.08" textLength="15.90" lengthAdjust="spacingAndGlyphs">ΔΔG</text></g><rect x="82.40" y="535.19" width="117.18" height="10.17" fill="#4d4dff" stroke="#4040e8" stroke-width="0.6"/><text x="201.58" y="542.77" font-size="8.40" stroke="#000" stroke-width="0.08" textLength="17.37" lengthAdjust="spacingAndGlyphs">0.63</text><rect x="82.40" y="547.90" width="133.92" height="10.17" fill="#4da64d" stroke="#3f953f" stroke-width="0.6"/><text x="218.32" y="555.48" font-size="8.40" stroke="#000" stroke-width="0.08" textLength="17.37" lengthAdjust="spacingAndGlyphs">0.72</text><rect x="82.40" y="560.61" width="35.34" height="10.17" fill="#ffc04d" stroke="#e8a838" stroke-width="0.6"/><text x="119.74" y="568.19" font-size="8.40" stroke="#000" stroke-width="0.08" textLength="17.37" lengthAdjust="spacingAndGlyphs">0.19</text><rect x="82.40" y="573.32" width="44.64" height="10.17" fill="#ff4d4d" stroke="#e84040" stroke-width="0.6"/><text x="129.04" y="580.91" font-size="8.40" stroke="#000" stroke-width="0.08" textLength="17.37" lengthAdjust="spacingAndGlyphs">0.24</text><rect x="82.40" y="586.03" width="61.38" height="10.17" fill="#e0e0e0" stroke="#909090" stroke-width="0.6"/><rect x="82.40" y="586.03" width="61.38" height="10.17" fill="url(#hg)" stroke="#909090" stroke-width="0.6"/><text x="145.78" y="593.62" font-size="8.40" stroke="#000" stroke-width="0.08" textLength="17.37" lengthAdjust="spacingAndGlyphs">0.33</text><rect x="82.40" y="598.74" width="120.90" height="10.17" fill="#e9ffff" stroke="#a8c0c0" stroke-width="0.6"/><rect x="82.40" y="598.74" width="120.90" height="10.17" fill="url(#hc)" stroke="#a8c0c0" stroke-width="0.6"/><text x="205.30" y="606.33" font-size="8.40" stroke="#000" stroke-width="0.08" textLength="17.37" lengthAdjust="spacingAndGlyphs">0.65</text><path d="M82.50 531.50V612.50H268.40" stroke="#000" stroke-width="0.6" fill="none"/><path d="M82.50 540.27h-2.2M82.50 552.98h-2.2M82.50 565.69h-2.2M82.50 578.41h-2.2M82.50 591.12h-2.2M82.50 603.83h-2.2M82.40 612.50v2.2M175.40 612.50v2.2M268.40 612.50v2.2" stroke="#000" stroke-width="0.6" fill="none"/><text x="82.40" y="623.10" font-size="8.40" text-anchor="middle" stroke="#000" stroke-width="0.08" textLength="12.72" lengthAdjust="spacingAndGlyphs">0.0</text><text x="175.40" y="623.10" font-size="8.40" text-anchor="middle" stroke="#000" stroke-width="0.08" textLength="12.72" lengthAdjust="spacingAndGlyphs">0.5</text><text x="268.40" y="623.10" font-size="8.40" text-anchor="middle" stroke="#000" stroke-width="0.08" textLength="12.72" lengthAdjust="spacingAndGlyphs">1.0</text><g transform="translate(175.40 528.30)"><text x="-17.89" y="0.00" font-size="10.60" stroke="#000" stroke-width="0.10" textLength="19.88" lengthAdjust="spacingAndGlyphs">P53</text><text x="1.99" y="1.80" font-size="7.42" font-style="italic" stroke="#000" stroke-width="0.08" textLength="15.90" lengthAdjust="spacingAndGlyphs">ΔΔG</text></g><text x="77.70" y="544.07" font-size="10.30" text-anchor="end" stroke="#000" stroke-width="0.10" textLength="25.39" lengthAdjust="spacingAndGlyphs">IFUM</text><text x="77.70" y="556.78" font-size="10.30" text-anchor="end" stroke="#000" stroke-width="0.10" textLength="70.05" lengthAdjust="spacingAndGlyphs">ThermoMPNN</text><g transform="translate(77.70 569.49)"><text x="-43.60" y="0.00" font-size="10.30" stroke="#000" stroke-width="0.10" textLength="21.93" lengthAdjust="spacingAndGlyphs">ESM</text><text x="-21.66" y="1.90" font-size="7.20" stroke="#000" stroke-width="0.08" textLength="21.66" lengthAdjust="spacingAndGlyphs">therm</text></g><g transform="translate(77.70 581.51)"><text x="-77.36" y="0.00" font-size="8.20" stroke="#000" stroke-width="0.08" textLength="21.43" lengthAdjust="spacingAndGlyphs">ESM2</text><text x="-55.92" y="1.00" font-size="6.00" font-style="italic" stroke="#000" stroke-width="0.08" textLength="55.92" lengthAdjust="spacingAndGlyphs">pseudo − perplexity</text></g><text x="77.70" y="594.92" font-size="10.30" text-anchor="end" stroke="#000" stroke-width="0.10" textLength="28.32" lengthAdjust="spacingAndGlyphs">FoldX</text><text x="77.70" y="607.63" font-size="10.30" text-anchor="end" stroke="#000" stroke-width="0.10" textLength="39.09" lengthAdjust="spacingAndGlyphs">Rosetta</text><rect x="287.20" y="535.19" width="132.06" height="10.17" fill="#4d4dff" stroke="#4040e8" stroke-width="0.6"/><text x="421.26" y="542.77" font-size="8.40" stroke="#000" stroke-width="0.08" textLength="17.37" lengthAdjust="spacingAndGlyphs">0.71</text><rect x="287.20" y="547.90" width="141.36" height="10.17" fill="#4da64d" stroke="#3f953f" stroke-width="0.6"/><text x="430.56" y="555.48" font-size="8.40" stroke="#000" stroke-width="0.08" textLength="17.37" lengthAdjust="spacingAndGlyphs">0.76</text><rect x="287.20" y="560.61" width="61.38" height="10.17" fill="#ffc04d" stroke="#e8a838" stroke-width="0.6"/><text x="350.58" y="568.19" font-size="8.40" stroke="#000" stroke-width="0.08" textLength="17.37" lengthAdjust="spacingAndGlyphs">0.33</text><rect x="287.20" y="573.32" width="83.70" height="10.17" fill="#ff4d4d" stroke="#e84040" stroke-width="0.6"/><text x="372.90" y="580.91" font-size="8.40" stroke="#000" stroke-width="0.08" textLength="17.37" lengthAdjust="spacingAndGlyphs">0.45</text><rect x="287.20" y="586.03" width="70.68" height="10.17" fill="#e0e0e0" stroke="#909090" stroke-width="0.6"/><rect x="287.20" y="586.03" width="70.68" height="10.17" fill="url(#hg)" stroke="#909090" stroke-width="0.6"/><text x="359.88" y="593.62" font-size="8.40" stroke="#000" stroke-width="0.08" textLength="17.37" lengthAdjust="spacingAndGlyphs">0.38</text><rect x="287.20" y="598.74" width="102.30" height="10.17" fill="#e9ffff" stroke="#a8c0c0" stroke-width="0.6"/><rect x="287.20" y="598.74" width="102.30" height="10.17" fill="url(#hc)" stroke="#a8c0c0" stroke-width="0.6"/><text x="391.50" y="606.33" font-size="8.40" stroke="#000" stroke-width="0.08" textLength="17.37" lengthAdjust="spacingAndGlyphs">0.55</text><path d="M287.50 531.50V612.50H473.20" stroke="#000" stroke-width="0.6" fill="none"/><path d="M287.50 540.27h-2.2M287.50 552.98h-2.2M287.50 565.69h-2.2M287.50 578.41h-2.2M287.50 591.12h-2.2M287.50 603.83h-2.2M287.20 612.50v2.2M380.20 612.50v2.2M473.20 612.50v2.2" stroke="#000" stroke-width="0.6" fill="none"/><text x="287.20" y="623.10" font-size="8.40" text-anchor="middle" stroke="#000" stroke-width="0.08" textLength="12.72" lengthAdjust="spacingAndGlyphs">0.0</text><text x="380.20" y="623.10" font-size="8.40" text-anchor="middle" stroke="#000" stroke-width="0.08" textLength="12.72" lengthAdjust="spacingAndGlyphs">0.5</text><text x="473.20" y="623.10" font-size="8.40" text-anchor="middle" stroke="#000" stroke-width="0.08" textLength="12.72" lengthAdjust="spacingAndGlyphs">1.0</text><g transform="translate(380.20 528.30)"><text x="-38.32" y="0.00" font-size="10.60" stroke="#000" stroke-width="0.10" textLength="60.74" lengthAdjust="spacingAndGlyphs">S. nuclease</text><text x="22.42" y="1.80" font-size="7.42" font-style="italic" stroke="#000" stroke-width="0.08" textLength="15.90" lengthAdjust="spacingAndGlyphs">ΔΔG</text></g><rect x="491.40" y="535.19" width="130.20" height="10.17" fill="#4d4dff" stroke="#4040e8" stroke-width="0.6"/><text x="623.60" y="542.77" font-size="8.40" stroke="#000" stroke-width="0.08" textLength="17.37" lengthAdjust="spacingAndGlyphs">0.70</text><rect x="491.40" y="547.90" width="128.34" height="10.17" fill="#4da64d" stroke="#3f953f" stroke-width="0.6"/><text x="621.74" y="555.48" font-size="8.40" stroke="#000" stroke-width="0.08" textLength="17.37" lengthAdjust="spacingAndGlyphs">0.69</text><rect x="491.40" y="560.61" width="65.10" height="10.17" fill="#ffc04d" stroke="#e8a838" stroke-width="0.6"/><text x="558.50" y="568.19" font-size="8.40" stroke="#000" stroke-width="0.08" textLength="17.37" lengthAdjust="spacingAndGlyphs">0.35</text><rect x="491.40" y="573.32" width="48.36" height="10.17" fill="#ff4d4d" stroke="#e84040" stroke-width="0.6"/><text x="541.76" y="580.91" font-size="8.40" stroke="#000" stroke-width="0.08" textLength="17.37" lengthAdjust="spacingAndGlyphs">0.26</text><rect x="491.40" y="586.03" width="83.70" height="10.17" fill="#e0e0e0" stroke="#909090" stroke-width="0.6"/><rect x="491.40" y="586.03" width="83.70" height="10.17" fill="url(#hg)" stroke="#909090" stroke-width="0.6"/><text x="577.10" y="593.62" font-size="8.40" stroke="#000" stroke-width="0.08" textLength="17.37" lengthAdjust="spacingAndGlyphs">0.45</text><rect x="491.40" y="598.74" width="65.10" height="10.17" fill="#e9ffff" stroke="#a8c0c0" stroke-width="0.6"/><rect x="491.40" y="598.74" width="65.10" height="10.17" fill="url(#hc)" stroke="#a8c0c0" stroke-width="0.6"/><text x="558.50" y="606.33" font-size="8.40" stroke="#000" stroke-width="0.08" textLength="17.37" lengthAdjust="spacingAndGlyphs">0.35</text><path d="M491.50 531.50V612.50H677.40" stroke="#000" stroke-width="0.6" fill="none"/><path d="M491.50 540.27h-2.2M491.50 552.98h-2.2M491.50 565.69h-2.2M491.50 578.41h-2.2M491.50 591.12h-2.2M491.50 603.83h-2.2M491.40 612.50v2.2M584.40 612.50v2.2M677.40 612.50v2.2" stroke="#000" stroke-width="0.6" fill="none"/><text x="491.40" y="623.10" font-size="8.40" text-anchor="middle" stroke="#000" stroke-width="0.08" textLength="12.72" lengthAdjust="spacingAndGlyphs">0.0</text><text x="584.40" y="623.10" font-size="8.40" text-anchor="middle" stroke="#000" stroke-width="0.08" textLength="12.72" lengthAdjust="spacingAndGlyphs">0.5</text><text x="677.40" y="623.10" font-size="8.40" text-anchor="middle" stroke="#000" stroke-width="0.08" textLength="12.72" lengthAdjust="spacingAndGlyphs">1.0</text><g transform="translate(584.40 528.30)"><text x="-41.20" y="0.00" font-size="10.60" stroke="#000" stroke-width="0.10" textLength="66.50" lengthAdjust="spacingAndGlyphs">T4 lysozyme</text><text x="25.30" y="1.80" font-size="7.42" font-style="italic" stroke="#000" stroke-width="0.08" textLength="15.90" lengthAdjust="spacingAndGlyphs">ΔΔG</text></g><text x="342.30" y="631.00" font-size="10.60" text-anchor="middle" stroke="#000" stroke-width="0.10" textLength="21.20" lengthAdjust="spacingAndGlyphs">PCC</text><text x="3.40" y="420.50" font-size="19.50" font-weight="bold">c</text></svg></body></html>
